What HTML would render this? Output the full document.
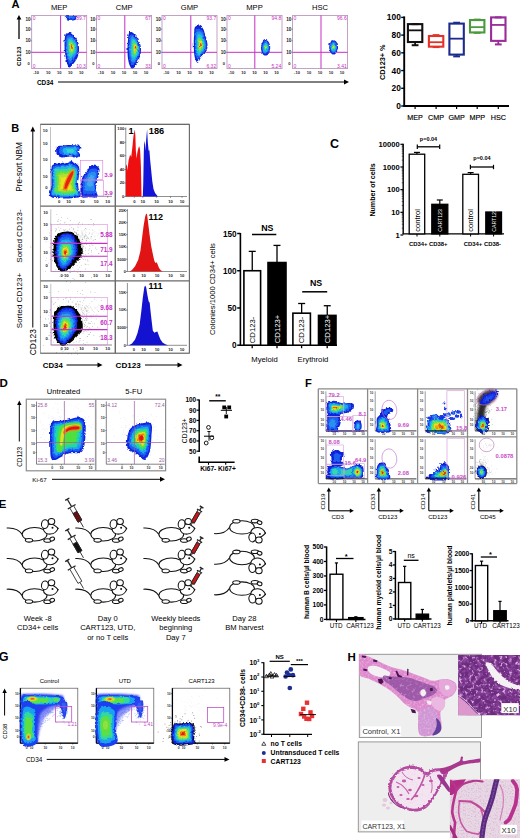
<!DOCTYPE html>
<html><head><meta charset="utf-8"><title>Figure</title>
<style>html,body{margin:0;padding:0;background:#fff;width:520px;height:838px;overflow:hidden}svg{display:block}text{font-family:"Liberation Sans",sans-serif}</style>
</head><body>
<svg width="520" height="838" viewBox="0 0 520 838" font-family='"Liberation Sans", sans-serif'><defs><filter id="bl20" x="-20%" y="-20%" width="140%" height="140%"><feGaussianBlur stdDeviation="0.2"/></filter><filter id="bl35" x="-20%" y="-20%" width="140%" height="140%"><feGaussianBlur stdDeviation="0.35"/></filter><filter id="bl50" x="-20%" y="-20%" width="140%" height="140%"><feGaussianBlur stdDeviation="0.5"/></filter><filter id="bl80" x="-20%" y="-20%" width="140%" height="140%"><feGaussianBlur stdDeviation="0.8"/></filter><filter id="bl120" x="-20%" y="-20%" width="140%" height="140%"><feGaussianBlur stdDeviation="1.2"/></filter><filter id="bl200" x="-20%" y="-20%" width="140%" height="140%"><feGaussianBlur stdDeviation="2.0"/></filter>
<filter id="tx1" x="0" y="0" width="100%" height="100%">
 <feTurbulence type="fractalNoise" baseFrequency="0.32" numOctaves="2" seed="7" result="n"/>
 <feColorMatrix in="n" type="matrix" values="0 0 0 0 0.78  0 0 0 0 0.50  0 0 0 0 0.82  4.0 0 0 0 -2.2" result="c"/>
 <feComposite in="c" in2="SourceGraphic" operator="in"/>
</filter>
<filter id="tx1d" x="0" y="0" width="100%" height="100%">
 <feTurbulence type="fractalNoise" baseFrequency="0.22" numOctaves="2" seed="19" result="n"/>
 <feColorMatrix in="n" type="matrix" values="0 0 0 0 0.28  0 0 0 0 0.06  0 0 0 0 0.36  0 3.5 0 0 -1.5" result="c"/>
 <feComposite in="c" in2="SourceGraphic" operator="in"/>
</filter>
<filter id="tx2" x="0" y="0" width="100%" height="100%">
 <feTurbulence type="fractalNoise" baseFrequency="0.5" numOctaves="2" seed="11" result="n"/>
 <feColorMatrix in="n" type="matrix" values="0 0 0 0 0.85  0 0 0 0 0.62  0 0 0 0 0.86  0 2.8 0 0 -1.25" result="c"/>
 <feComposite in="c" in2="SourceGraphic" operator="in"/>
</filter>
<filter id="tx3" x="0" y="0" width="100%" height="100%">
 <feTurbulence type="fractalNoise" baseFrequency="0.6" numOctaves="2" seed="4" result="n"/>
 <feColorMatrix in="n" type="matrix" values="0 0 0 0 0.55  0 0 0 0 0.25  0 0 0 0 0.55  0 0 2.4 0 -1.1" result="c"/>
 <feComposite in="c" in2="SourceGraphic" operator="in"/>
</filter>
<clipPath id="cpH1"><rect x="359.3" y="654.3" width="122.2" height="83.2"/></clipPath>
<clipPath id="cpH2"><rect x="358.3" y="741.9" width="122.2" height="90"/></clipPath>
<clipPath id="cpI1"><rect x="458.1" y="655" width="61.9" height="60.2"/></clipPath>
<clipPath id="cpI2"><rect x="449.9" y="779.3" width="70.1" height="58.7"/></clipPath>
<filter id="wob" x="-10%" y="-10%" width="120%" height="120%"><feTurbulence type="turbulence" baseFrequency="0.35" numOctaves="1" seed="3" result="t"/><feDisplacementMap in="SourceGraphic" in2="t" scale="2.2" xChannelSelector="R" yChannelSelector="G"/></filter></defs><text x="11.60" y="8.40" font-size="11.2" font-weight="bold" text-anchor="start" fill="#000">A</text>
<text x="59.20" y="9.90" font-size="7.6" font-weight="normal" text-anchor="middle" fill="#000">MEP</text>
<rect x="31.70" y="15.40" width="55.00" height="53.20" fill="#fff" stroke="#b48cb4" stroke-width="0.8"/>
<text x="30.50" y="20.80" font-size="4.6" font-weight="bold" text-anchor="end" fill="#222">10</text>
<line x1="30.50" y1="19.20" x2="31.70" y2="19.20" stroke="#444" stroke-width="0.5"/>
<text x="30.50" y="30.80" font-size="4.6" font-weight="bold" text-anchor="end" fill="#222">10</text>
<line x1="30.50" y1="29.20" x2="31.70" y2="29.20" stroke="#444" stroke-width="0.5"/>
<text x="30.50" y="42.40" font-size="4.6" font-weight="bold" text-anchor="end" fill="#222">10</text>
<line x1="30.50" y1="40.80" x2="31.70" y2="40.80" stroke="#444" stroke-width="0.5"/>
<text x="30.50" y="53.90" font-size="4.6" font-weight="bold" text-anchor="end" fill="#222">10</text>
<line x1="30.50" y1="52.30" x2="31.70" y2="52.30" stroke="#444" stroke-width="0.5"/>
<text x="29.70" y="64.80" font-size="4.0" font-weight="bold" text-anchor="end" fill="#222">0</text>
<text x="36.10" y="74.00" font-size="4.0" font-weight="bold" text-anchor="middle" fill="#222">-10</text>
<text x="48.20" y="74.00" font-size="4.0" font-weight="bold" text-anchor="middle" fill="#222">10</text>
<text x="59.20" y="74.00" font-size="4.0" font-weight="bold" text-anchor="middle" fill="#222">10</text>
<text x="70.20" y="74.00" font-size="4.0" font-weight="bold" text-anchor="middle" fill="#222">10</text>
<text x="81.20" y="74.00" font-size="4.0" font-weight="bold" text-anchor="middle" fill="#222">10</text>
<line x1="60.60" y1="15.40" x2="60.60" y2="68.60" stroke="#c62ec6" stroke-width="1.0"/>
<line x1="31.70" y1="52.30" x2="86.70" y2="52.30" stroke="#c62ec6" stroke-width="1.0"/>
<text x="32.70" y="20.30" font-size="5.0" font-weight="normal" text-anchor="start" fill="#c62ec6">0</text>
<text x="32.70" y="67.60" font-size="5.0" font-weight="normal" text-anchor="start" fill="#c62ec6">0</text>
<text x="85.90" y="20.30" font-size="5.0" font-weight="normal" text-anchor="end" fill="#c62ec6">89.7</text>
<text x="85.90" y="67.60" font-size="5.0" font-weight="normal" text-anchor="end" fill="#c62ec6">10.3</text>
<text x="124.10" y="9.90" font-size="7.6" font-weight="normal" text-anchor="middle" fill="#000">CMP</text>
<rect x="96.60" y="15.40" width="55.00" height="53.20" fill="#fff" stroke="#b48cb4" stroke-width="0.8"/>
<text x="95.40" y="20.80" font-size="4.6" font-weight="bold" text-anchor="end" fill="#222">10</text>
<line x1="95.40" y1="19.20" x2="96.60" y2="19.20" stroke="#444" stroke-width="0.5"/>
<text x="95.40" y="30.80" font-size="4.6" font-weight="bold" text-anchor="end" fill="#222">10</text>
<line x1="95.40" y1="29.20" x2="96.60" y2="29.20" stroke="#444" stroke-width="0.5"/>
<text x="95.40" y="42.40" font-size="4.6" font-weight="bold" text-anchor="end" fill="#222">10</text>
<line x1="95.40" y1="40.80" x2="96.60" y2="40.80" stroke="#444" stroke-width="0.5"/>
<text x="95.40" y="53.90" font-size="4.6" font-weight="bold" text-anchor="end" fill="#222">10</text>
<line x1="95.40" y1="52.30" x2="96.60" y2="52.30" stroke="#444" stroke-width="0.5"/>
<text x="94.60" y="64.80" font-size="4.0" font-weight="bold" text-anchor="end" fill="#222">0</text>
<text x="101.00" y="74.00" font-size="4.0" font-weight="bold" text-anchor="middle" fill="#222">-10</text>
<text x="113.10" y="74.00" font-size="4.0" font-weight="bold" text-anchor="middle" fill="#222">10</text>
<text x="124.10" y="74.00" font-size="4.0" font-weight="bold" text-anchor="middle" fill="#222">10</text>
<text x="135.10" y="74.00" font-size="4.0" font-weight="bold" text-anchor="middle" fill="#222">10</text>
<text x="146.10" y="74.00" font-size="4.0" font-weight="bold" text-anchor="middle" fill="#222">10</text>
<line x1="124.80" y1="15.40" x2="124.80" y2="68.60" stroke="#c62ec6" stroke-width="1.0"/>
<line x1="96.60" y1="52.30" x2="151.60" y2="52.30" stroke="#c62ec6" stroke-width="1.0"/>
<text x="97.60" y="20.30" font-size="5.0" font-weight="normal" text-anchor="start" fill="#c62ec6">0</text>
<text x="97.60" y="67.60" font-size="5.0" font-weight="normal" text-anchor="start" fill="#c62ec6">0</text>
<text x="150.80" y="20.30" font-size="5.0" font-weight="normal" text-anchor="end" fill="#c62ec6">67</text>
<text x="150.80" y="67.60" font-size="5.0" font-weight="normal" text-anchor="end" fill="#c62ec6">33</text>
<text x="189.50" y="9.90" font-size="7.6" font-weight="normal" text-anchor="middle" fill="#000">GMP</text>
<rect x="162.00" y="15.40" width="55.00" height="53.20" fill="#fff" stroke="#b48cb4" stroke-width="0.8"/>
<text x="160.80" y="20.80" font-size="4.6" font-weight="bold" text-anchor="end" fill="#222">10</text>
<line x1="160.80" y1="19.20" x2="162.00" y2="19.20" stroke="#444" stroke-width="0.5"/>
<text x="160.80" y="30.80" font-size="4.6" font-weight="bold" text-anchor="end" fill="#222">10</text>
<line x1="160.80" y1="29.20" x2="162.00" y2="29.20" stroke="#444" stroke-width="0.5"/>
<text x="160.80" y="42.40" font-size="4.6" font-weight="bold" text-anchor="end" fill="#222">10</text>
<line x1="160.80" y1="40.80" x2="162.00" y2="40.80" stroke="#444" stroke-width="0.5"/>
<text x="160.80" y="53.90" font-size="4.6" font-weight="bold" text-anchor="end" fill="#222">10</text>
<line x1="160.80" y1="52.30" x2="162.00" y2="52.30" stroke="#444" stroke-width="0.5"/>
<text x="160.00" y="64.80" font-size="4.0" font-weight="bold" text-anchor="end" fill="#222">0</text>
<text x="166.40" y="74.00" font-size="4.0" font-weight="bold" text-anchor="middle" fill="#222">-10</text>
<text x="178.50" y="74.00" font-size="4.0" font-weight="bold" text-anchor="middle" fill="#222">10</text>
<text x="189.50" y="74.00" font-size="4.0" font-weight="bold" text-anchor="middle" fill="#222">10</text>
<text x="200.50" y="74.00" font-size="4.0" font-weight="bold" text-anchor="middle" fill="#222">10</text>
<text x="211.50" y="74.00" font-size="4.0" font-weight="bold" text-anchor="middle" fill="#222">10</text>
<line x1="190.80" y1="15.40" x2="190.80" y2="68.60" stroke="#c62ec6" stroke-width="1.0"/>
<line x1="162.00" y1="52.30" x2="217.00" y2="52.30" stroke="#c62ec6" stroke-width="1.0"/>
<text x="163.00" y="20.30" font-size="5.0" font-weight="normal" text-anchor="start" fill="#c62ec6">0</text>
<text x="163.00" y="67.60" font-size="5.0" font-weight="normal" text-anchor="start" fill="#c62ec6">0</text>
<text x="216.20" y="20.30" font-size="5.0" font-weight="normal" text-anchor="end" fill="#c62ec6">93.7</text>
<text x="216.20" y="67.60" font-size="5.0" font-weight="normal" text-anchor="end" fill="#c62ec6">6.32</text>
<text x="254.50" y="9.90" font-size="7.6" font-weight="normal" text-anchor="middle" fill="#000">MPP</text>
<rect x="227.00" y="15.40" width="55.00" height="53.20" fill="#fff" stroke="#b48cb4" stroke-width="0.8"/>
<text x="225.80" y="20.80" font-size="4.6" font-weight="bold" text-anchor="end" fill="#222">10</text>
<line x1="225.80" y1="19.20" x2="227.00" y2="19.20" stroke="#444" stroke-width="0.5"/>
<text x="225.80" y="30.80" font-size="4.6" font-weight="bold" text-anchor="end" fill="#222">10</text>
<line x1="225.80" y1="29.20" x2="227.00" y2="29.20" stroke="#444" stroke-width="0.5"/>
<text x="225.80" y="42.40" font-size="4.6" font-weight="bold" text-anchor="end" fill="#222">10</text>
<line x1="225.80" y1="40.80" x2="227.00" y2="40.80" stroke="#444" stroke-width="0.5"/>
<text x="225.80" y="53.90" font-size="4.6" font-weight="bold" text-anchor="end" fill="#222">10</text>
<line x1="225.80" y1="52.30" x2="227.00" y2="52.30" stroke="#444" stroke-width="0.5"/>
<text x="225.00" y="64.80" font-size="4.0" font-weight="bold" text-anchor="end" fill="#222">0</text>
<text x="231.40" y="74.00" font-size="4.0" font-weight="bold" text-anchor="middle" fill="#222">-10</text>
<text x="243.50" y="74.00" font-size="4.0" font-weight="bold" text-anchor="middle" fill="#222">10</text>
<text x="254.50" y="74.00" font-size="4.0" font-weight="bold" text-anchor="middle" fill="#222">10</text>
<text x="265.50" y="74.00" font-size="4.0" font-weight="bold" text-anchor="middle" fill="#222">10</text>
<text x="276.50" y="74.00" font-size="4.0" font-weight="bold" text-anchor="middle" fill="#222">10</text>
<line x1="254.80" y1="15.40" x2="254.80" y2="68.60" stroke="#c62ec6" stroke-width="1.0"/>
<line x1="227.00" y1="52.30" x2="282.00" y2="52.30" stroke="#c62ec6" stroke-width="1.0"/>
<text x="228.00" y="20.30" font-size="5.0" font-weight="normal" text-anchor="start" fill="#c62ec6">0</text>
<text x="228.00" y="67.60" font-size="5.0" font-weight="normal" text-anchor="start" fill="#c62ec6">0</text>
<text x="281.20" y="20.30" font-size="5.0" font-weight="normal" text-anchor="end" fill="#c62ec6">94.8</text>
<text x="281.20" y="67.60" font-size="5.0" font-weight="normal" text-anchor="end" fill="#c62ec6">5.24</text>
<text x="320.10" y="9.90" font-size="7.6" font-weight="normal" text-anchor="middle" fill="#000">HSC</text>
<rect x="292.60" y="15.40" width="55.00" height="53.20" fill="#fff" stroke="#b48cb4" stroke-width="0.8"/>
<text x="291.40" y="20.80" font-size="4.6" font-weight="bold" text-anchor="end" fill="#222">10</text>
<line x1="291.40" y1="19.20" x2="292.60" y2="19.20" stroke="#444" stroke-width="0.5"/>
<text x="291.40" y="30.80" font-size="4.6" font-weight="bold" text-anchor="end" fill="#222">10</text>
<line x1="291.40" y1="29.20" x2="292.60" y2="29.20" stroke="#444" stroke-width="0.5"/>
<text x="291.40" y="42.40" font-size="4.6" font-weight="bold" text-anchor="end" fill="#222">10</text>
<line x1="291.40" y1="40.80" x2="292.60" y2="40.80" stroke="#444" stroke-width="0.5"/>
<text x="291.40" y="53.90" font-size="4.6" font-weight="bold" text-anchor="end" fill="#222">10</text>
<line x1="291.40" y1="52.30" x2="292.60" y2="52.30" stroke="#444" stroke-width="0.5"/>
<text x="290.60" y="64.80" font-size="4.0" font-weight="bold" text-anchor="end" fill="#222">0</text>
<text x="297.00" y="74.00" font-size="4.0" font-weight="bold" text-anchor="middle" fill="#222">-10</text>
<text x="309.10" y="74.00" font-size="4.0" font-weight="bold" text-anchor="middle" fill="#222">10</text>
<text x="320.10" y="74.00" font-size="4.0" font-weight="bold" text-anchor="middle" fill="#222">10</text>
<text x="331.10" y="74.00" font-size="4.0" font-weight="bold" text-anchor="middle" fill="#222">10</text>
<text x="342.10" y="74.00" font-size="4.0" font-weight="bold" text-anchor="middle" fill="#222">10</text>
<line x1="321.00" y1="15.40" x2="321.00" y2="68.60" stroke="#c62ec6" stroke-width="1.0"/>
<line x1="292.60" y1="52.30" x2="347.60" y2="52.30" stroke="#c62ec6" stroke-width="1.0"/>
<text x="293.60" y="20.30" font-size="5.0" font-weight="normal" text-anchor="start" fill="#c62ec6">0</text>
<text x="293.60" y="67.60" font-size="5.0" font-weight="normal" text-anchor="start" fill="#c62ec6">0</text>
<text x="346.80" y="20.30" font-size="5.0" font-weight="normal" text-anchor="end" fill="#c62ec6">96.6</text>
<text x="346.80" y="67.60" font-size="5.0" font-weight="normal" text-anchor="end" fill="#c62ec6">3.41</text>
<g filter="url(#wob)">
<g filter="url(#bl35)"><path d="M64.50,33.50 C64.98,32.25 65.75,32.78 66.50,32.50 C67.25,32.22 67.92,31.38 69.00,31.80 C70.08,32.22 71.75,33.63 73.00,35.00 C74.25,36.37 75.67,38.00 76.50,40.00 C77.33,42.00 77.92,44.50 78.00,47.00 C78.08,49.50 77.83,52.50 77.00,55.00 C76.17,57.50 74.42,60.08 73.00,62.00 C71.58,63.92 69.62,66.33 68.50,66.50 C67.38,66.67 66.95,64.75 66.30,63.00 C65.65,61.25 65.05,58.50 64.60,56.00 C64.15,53.50 63.77,50.67 63.60,48.00 C63.43,45.33 63.45,42.42 63.60,40.00 C63.75,37.58 64.02,34.75 64.50,33.50Z" fill="#1020d8"/><path d="M65.57,35.47 C65.98,34.42 66.62,34.87 67.25,34.63 C67.88,34.39 68.44,33.69 69.35,34.04 C70.26,34.39 71.66,35.58 72.71,36.73 C73.76,37.88 74.95,39.25 75.65,40.93 C76.35,42.61 76.84,44.71 76.91,46.81 C76.98,48.91 76.77,51.43 76.07,53.53 C75.37,55.63 73.90,57.80 72.71,59.41 C71.52,61.02 69.87,63.05 68.93,63.19 C67.99,63.33 67.63,61.72 67.08,60.25 C66.54,58.78 66.03,56.47 65.66,54.37 C65.28,52.27 64.96,49.89 64.82,47.65 C64.68,45.41 64.69,42.96 64.82,40.93 C64.94,38.90 65.17,36.52 65.57,35.47Z" fill="#1e5ef0"/><path d="M66.51,37.19 C66.85,36.31 67.38,36.69 67.91,36.49 C68.44,36.29 68.90,35.71 69.66,36.00 C70.42,36.29 71.59,37.28 72.46,38.24 C73.34,39.20 74.33,40.34 74.91,41.74 C75.49,43.14 75.90,44.89 75.96,46.64 C76.02,48.39 75.84,50.49 75.26,52.24 C74.68,53.99 73.45,55.80 72.46,57.14 C71.47,58.48 70.09,60.17 69.31,60.29 C68.53,60.41 68.22,59.06 67.77,57.84 C67.31,56.61 66.89,54.69 66.58,52.94 C66.27,51.19 66.00,49.21 65.88,47.34 C65.76,45.47 65.77,43.43 65.88,41.74 C65.98,40.05 66.17,38.06 66.51,37.19Z" fill="#2a90f0"/><path d="M67.38,38.79 C67.66,38.08 68.09,38.38 68.52,38.22 C68.95,38.06 69.33,37.58 69.95,37.82 C70.56,38.06 71.51,38.86 72.23,39.64 C72.94,40.42 73.75,41.35 74.22,42.49 C74.70,43.63 75.03,45.06 75.08,46.48 C75.12,47.91 74.98,49.62 74.51,51.04 C74.03,52.47 73.03,53.94 72.23,55.03 C71.42,56.13 70.30,57.50 69.66,57.60 C69.02,57.69 68.78,56.60 68.41,55.60 C68.04,54.61 67.69,53.04 67.44,51.61 C67.18,50.19 66.96,48.57 66.87,47.05 C66.77,45.53 66.78,43.87 66.87,42.49 C66.95,41.12 67.11,39.50 67.38,38.79Z" fill="#1ac0e8"/><path d="M68.19,40.27 C68.40,39.70 68.75,39.94 69.09,39.81 C69.42,39.69 69.72,39.31 70.21,39.50 C70.70,39.69 71.45,40.32 72.01,40.94 C72.57,41.55 73.21,42.29 73.59,43.19 C73.96,44.09 74.22,45.21 74.26,46.34 C74.30,47.46 74.19,48.81 73.81,49.94 C73.44,51.06 72.65,52.23 72.01,53.09 C71.37,53.95 70.49,55.04 69.98,55.11 C69.48,55.19 69.29,54.33 69.00,53.54 C68.70,52.75 68.43,51.52 68.23,50.39 C68.03,49.27 67.86,47.99 67.78,46.79 C67.70,45.59 67.71,44.28 67.78,43.19 C67.85,42.10 67.97,40.83 68.19,40.27Z" fill="#30d8a0"/><path d="M68.99,41.74 C69.15,41.33 69.40,41.50 69.65,41.41 C69.90,41.32 70.12,41.04 70.47,41.18 C70.83,41.32 71.38,41.78 71.79,42.24 C72.21,42.69 72.67,43.23 72.95,43.89 C73.22,44.55 73.42,45.37 73.44,46.20 C73.47,47.02 73.39,48.01 73.11,48.84 C72.84,49.66 72.26,50.51 71.79,51.15 C71.33,51.78 70.68,52.58 70.31,52.63 C69.94,52.69 69.80,52.05 69.58,51.48 C69.37,50.90 69.17,49.99 69.02,49.17 C68.87,48.34 68.75,47.41 68.69,46.53 C68.64,45.65 68.64,44.68 68.69,43.89 C68.74,43.09 68.83,42.15 68.99,41.74Z" fill="#80e040"/><path d="M69.73,43.09 C69.83,42.82 70.00,42.94 70.17,42.87 C70.33,42.81 70.48,42.63 70.72,42.72 C70.95,42.81 71.32,43.12 71.60,43.42 C71.87,43.72 72.18,44.08 72.37,44.52 C72.55,44.96 72.68,45.51 72.70,46.06 C72.71,46.61 72.66,47.27 72.48,47.82 C72.29,48.37 71.91,48.94 71.60,49.36 C71.28,49.79 70.85,50.32 70.61,50.35 C70.36,50.39 70.27,49.97 70.12,49.58 C69.98,49.20 69.85,48.59 69.75,48.04 C69.65,47.49 69.56,46.87 69.53,46.28 C69.49,45.70 69.50,45.06 69.53,44.52 C69.56,43.99 69.62,43.37 69.73,43.09Z" fill="#e8e020"/><path d="M70.40,44.32 C70.45,44.17 70.55,44.24 70.64,44.20 C70.73,44.17 70.81,44.07 70.94,44.12 C71.07,44.17 71.27,44.34 71.42,44.50 C71.57,44.67 71.74,44.86 71.84,45.10 C71.94,45.34 72.01,45.64 72.02,45.94 C72.03,46.24 72.00,46.60 71.90,46.90 C71.80,47.20 71.59,47.51 71.42,47.74 C71.25,47.97 71.01,48.26 70.88,48.28 C70.74,48.30 70.69,48.07 70.61,47.86 C70.53,47.65 70.46,47.32 70.41,47.02 C70.35,46.72 70.31,46.38 70.29,46.06 C70.27,45.74 70.27,45.39 70.29,45.10 C70.31,44.81 70.34,44.47 70.40,44.32Z" fill="#e03010"/></g>
<g filter="url(#bl35)"><path d="M64.50,15.30 C66.33,14.92 74.17,14.85 76.00,15.30 C77.83,15.75 76.17,17.28 75.50,18.00 C74.83,18.72 73.33,19.37 72.00,19.60 C70.67,19.83 68.67,19.73 67.50,19.40 C66.33,19.07 65.50,18.28 65.00,17.60 C64.50,16.92 62.67,15.68 64.50,15.30Z" fill="#1020d8"/><path d="M66.15,15.51 C67.43,15.24 72.92,15.20 74.20,15.51 C75.48,15.82 74.32,16.90 73.85,17.40 C73.38,17.90 72.33,18.36 71.40,18.52 C70.47,18.68 69.07,18.61 68.25,18.38 C67.43,18.15 66.85,17.60 66.50,17.12 C66.15,16.64 64.87,15.78 66.15,15.51Z" fill="#1e5ef0"/><path d="M67.80,15.72 C68.53,15.57 71.67,15.54 72.40,15.72 C73.13,15.90 72.47,16.51 72.20,16.80 C71.93,17.09 71.33,17.35 70.80,17.44 C70.27,17.53 69.47,17.49 69.00,17.36 C68.53,17.23 68.20,16.91 68.00,16.64 C67.80,16.37 67.07,15.87 67.80,15.72Z" fill="#2a90f0"/></g>
<g filter="url(#bl35)"><path d="M128.00,32.00 C128.67,30.70 129.83,30.70 131.00,31.20 C132.17,31.70 133.75,33.37 135.00,35.00 C136.25,36.63 137.67,38.83 138.50,41.00 C139.33,43.17 139.92,45.50 140.00,48.00 C140.08,50.50 139.67,53.50 139.00,56.00 C138.33,58.50 137.25,61.08 136.00,63.00 C134.75,64.92 132.75,67.33 131.50,67.50 C130.25,67.67 129.28,65.92 128.50,64.00 C127.72,62.08 127.13,58.83 126.80,56.00 C126.47,53.17 126.47,49.83 126.50,47.00 C126.53,44.17 126.75,41.50 127.00,39.00 C127.25,36.50 127.33,33.30 128.00,32.00Z" fill="#1020d8"/><path d="M129.09,34.40 C129.65,33.31 130.63,33.31 131.61,33.73 C132.59,34.15 133.92,35.55 134.97,36.92 C136.02,38.29 137.21,40.14 137.91,41.96 C138.61,43.78 139.10,45.74 139.17,47.84 C139.24,49.94 138.89,52.46 138.33,54.56 C137.77,56.66 136.86,58.83 135.81,60.44 C134.76,62.05 133.08,64.08 132.03,64.22 C130.98,64.36 130.17,62.89 129.51,61.28 C128.85,59.67 128.36,56.94 128.08,54.56 C127.80,52.18 127.80,49.38 127.83,47.00 C127.86,44.62 128.04,42.38 128.25,40.28 C128.46,38.18 128.53,35.49 129.09,34.40Z" fill="#1e5ef0"/><path d="M130.04,36.50 C130.51,35.59 131.32,35.59 132.14,35.94 C132.96,36.29 134.06,37.46 134.94,38.60 C135.81,39.74 136.81,41.28 137.39,42.80 C137.97,44.32 138.38,45.95 138.44,47.70 C138.50,49.45 138.21,51.55 137.74,53.30 C137.27,55.05 136.52,56.86 135.64,58.20 C134.77,59.54 133.37,61.23 132.49,61.35 C131.62,61.47 130.94,60.24 130.39,58.90 C129.84,57.56 129.43,55.28 129.20,53.30 C128.97,51.32 128.97,48.98 128.99,47.00 C129.01,45.02 129.17,43.15 129.34,41.40 C129.51,39.65 129.57,37.41 130.04,36.50Z" fill="#2a90f0"/><path d="M130.92,38.45 C131.30,37.71 131.97,37.71 132.63,37.99 C133.30,38.28 134.20,39.23 134.91,40.16 C135.63,41.09 136.43,42.34 136.91,43.58 C137.38,44.81 137.72,46.14 137.76,47.57 C137.81,49.00 137.57,50.71 137.19,52.13 C136.81,53.55 136.20,55.03 135.48,56.12 C134.77,57.21 133.63,58.59 132.92,58.69 C132.21,58.78 131.66,57.78 131.21,56.69 C130.76,55.60 130.43,53.75 130.24,52.13 C130.05,50.52 130.05,48.62 130.07,47.00 C130.09,45.38 130.21,43.86 130.35,42.44 C130.50,41.02 130.54,39.19 130.92,38.45Z" fill="#1ac0e8"/><path d="M131.74,40.25 C132.04,39.66 132.56,39.66 133.09,39.89 C133.62,40.12 134.33,40.87 134.89,41.60 C135.45,42.34 136.09,43.32 136.47,44.30 C136.84,45.27 137.10,46.33 137.14,47.45 C137.18,48.58 136.99,49.92 136.69,51.05 C136.39,52.17 135.90,53.34 135.34,54.20 C134.78,55.06 133.88,56.15 133.31,56.23 C132.75,56.30 132.32,55.51 131.97,54.65 C131.61,53.79 131.35,52.32 131.20,51.05 C131.05,49.77 131.05,48.27 131.06,47.00 C131.08,45.73 131.18,44.52 131.29,43.40 C131.40,42.27 131.44,40.84 131.74,40.25Z" fill="#30d8a0"/><path d="M132.56,42.05 C132.78,41.62 133.16,41.62 133.55,41.79 C133.93,41.95 134.45,42.50 134.87,43.04 C135.28,43.58 135.75,44.31 136.02,45.02 C136.30,45.73 136.49,46.50 136.52,47.33 C136.54,48.16 136.41,49.14 136.19,49.97 C135.97,50.80 135.61,51.65 135.20,52.28 C134.78,52.91 134.12,53.71 133.71,53.77 C133.30,53.82 132.98,53.24 132.72,52.61 C132.46,51.98 132.27,50.91 132.16,49.97 C132.05,49.03 132.05,47.94 132.06,47.00 C132.07,46.06 132.14,45.19 132.23,44.36 C132.31,43.53 132.34,42.48 132.56,42.05Z" fill="#80e040"/><path d="M133.30,43.70 C133.45,43.41 133.71,43.41 133.96,43.52 C134.22,43.63 134.57,44.00 134.84,44.36 C135.12,44.72 135.43,45.20 135.61,45.68 C135.80,46.16 135.93,46.67 135.94,47.22 C135.96,47.77 135.87,48.43 135.72,48.98 C135.58,49.53 135.34,50.10 135.06,50.52 C134.79,50.94 134.35,51.47 134.07,51.51 C133.80,51.55 133.59,51.16 133.41,50.74 C133.24,50.32 133.11,49.60 133.04,48.98 C132.97,48.36 132.97,47.62 132.97,47.00 C132.98,46.38 133.03,45.79 133.08,45.24 C133.14,44.69 133.16,43.99 133.30,43.70Z" fill="#e8e020"/><path d="M133.98,45.20 C134.06,45.04 134.20,45.04 134.34,45.10 C134.48,45.16 134.67,45.36 134.82,45.56 C134.97,45.76 135.14,46.02 135.24,46.28 C135.34,46.54 135.41,46.82 135.42,47.12 C135.43,47.42 135.38,47.78 135.30,48.08 C135.22,48.38 135.09,48.69 134.94,48.92 C134.79,49.15 134.55,49.44 134.40,49.46 C134.25,49.48 134.14,49.27 134.04,49.04 C133.95,48.81 133.88,48.42 133.84,48.08 C133.80,47.74 133.80,47.34 133.80,47.00 C133.81,46.66 133.83,46.34 133.86,46.04 C133.89,45.74 133.90,45.36 133.98,45.20Z" fill="#e03010"/></g>
<g filter="url(#bl35)"><path d="M194.00,26.00 C194.80,24.75 196.67,24.25 198.00,24.50 C199.33,24.75 200.92,25.75 202.00,27.50 C203.08,29.25 203.75,32.25 204.50,35.00 C205.25,37.75 206.42,41.33 206.50,44.00 C206.58,46.67 206.08,48.92 205.00,51.00 C203.92,53.08 201.42,54.70 200.00,56.50 C198.58,58.30 197.58,62.05 196.50,61.80 C195.42,61.55 194.12,58.13 193.50,55.00 C192.88,51.87 192.85,46.83 192.80,43.00 C192.75,39.17 193.00,34.83 193.20,32.00 C193.40,29.17 193.20,27.25 194.00,26.00Z" fill="#1020d8"/><path d="M194.96,28.98 C195.63,27.93 197.20,27.51 198.32,27.72 C199.44,27.93 200.77,28.77 201.68,30.24 C202.59,31.71 203.15,34.23 203.78,36.54 C204.41,38.85 205.39,41.86 205.46,44.10 C205.53,46.34 205.11,48.23 204.20,49.98 C203.29,51.73 201.19,53.08 200.00,54.60 C198.81,56.11 197.97,59.26 197.06,59.05 C196.15,58.84 195.06,55.97 194.54,53.34 C194.02,50.70 193.99,46.48 193.95,43.26 C193.91,40.04 194.12,36.40 194.29,34.02 C194.46,31.64 194.29,30.03 194.96,28.98Z" fill="#1e5ef0"/><path d="M195.80,31.58 C196.36,30.71 197.67,30.36 198.60,30.53 C199.53,30.71 200.64,31.41 201.40,32.63 C202.16,33.86 202.62,35.96 203.15,37.88 C203.68,39.80 204.49,42.31 204.55,44.18 C204.61,46.05 204.26,47.62 203.50,49.08 C202.74,50.54 200.99,51.67 200.00,52.93 C199.01,54.19 198.31,56.81 197.55,56.64 C196.79,56.47 195.88,54.07 195.45,51.88 C195.02,49.69 195.00,46.16 194.96,43.48 C194.93,40.80 195.10,37.76 195.24,35.78 C195.38,33.80 195.24,32.45 195.80,31.58Z" fill="#2a90f0"/><path d="M196.58,34.00 C197.04,33.29 198.10,33.00 198.86,33.14 C199.62,33.29 200.52,33.86 201.14,34.85 C201.76,35.85 202.14,37.56 202.56,39.13 C202.99,40.70 203.66,42.74 203.71,44.26 C203.75,45.78 203.47,47.06 202.85,48.25 C202.23,49.44 200.81,50.36 200.00,51.38 C199.19,52.41 198.62,54.55 198.00,54.40 C197.39,54.26 196.65,52.31 196.29,50.53 C195.94,48.74 195.92,45.87 195.90,43.69 C195.87,41.50 196.01,39.03 196.12,37.42 C196.24,35.80 196.12,34.71 196.58,34.00Z" fill="#1ac0e8"/><path d="M197.30,36.23 C197.66,35.67 198.50,35.44 199.10,35.55 C199.70,35.67 200.41,36.12 200.90,36.91 C201.39,37.69 201.69,39.04 202.03,40.28 C202.36,41.52 202.89,43.13 202.93,44.33 C202.96,45.53 202.74,46.54 202.25,47.48 C201.76,48.42 200.64,49.14 200.00,49.95 C199.36,50.77 198.91,52.45 198.43,52.34 C197.94,52.23 197.35,50.69 197.07,49.28 C196.80,47.87 196.78,45.61 196.76,43.88 C196.74,42.16 196.85,40.20 196.94,38.93 C197.03,37.66 196.94,36.79 197.30,36.23Z" fill="#30d8a0"/><path d="M198.02,38.46 C198.28,38.05 198.90,37.88 199.34,37.97 C199.78,38.05 200.30,38.38 200.66,38.96 C201.02,39.53 201.24,40.52 201.49,41.43 C201.73,42.34 202.12,43.52 202.15,44.40 C202.17,45.28 202.01,46.02 201.65,46.71 C201.29,47.40 200.47,47.93 200.00,48.53 C199.53,49.12 199.20,50.36 198.84,50.28 C198.49,50.19 198.06,49.07 197.85,48.03 C197.65,47.00 197.64,45.34 197.62,44.07 C197.61,42.81 197.69,41.38 197.76,40.44 C197.82,39.51 197.76,38.87 198.02,38.46Z" fill="#80e040"/><path d="M198.68,40.51 C198.86,40.23 199.27,40.12 199.56,40.18 C199.85,40.23 200.20,40.45 200.44,40.84 C200.68,41.22 200.83,41.88 200.99,42.49 C201.16,43.09 201.41,43.88 201.43,44.47 C201.45,45.05 201.34,45.55 201.10,46.01 C200.86,46.47 200.31,46.82 200.00,47.22 C199.69,47.61 199.47,48.44 199.23,48.38 C198.99,48.33 198.71,47.58 198.57,46.89 C198.43,46.20 198.43,45.09 198.42,44.25 C198.41,43.40 198.46,42.45 198.50,41.83 C198.55,41.20 198.50,40.78 198.68,40.51Z" fill="#e8e020"/><path d="M199.28,42.37 C199.38,42.22 199.60,42.16 199.76,42.19 C199.92,42.22 200.11,42.34 200.24,42.55 C200.37,42.76 200.45,43.12 200.54,43.45 C200.63,43.78 200.77,44.21 200.78,44.53 C200.79,44.85 200.73,45.12 200.60,45.37 C200.47,45.62 200.17,45.81 200.00,46.03 C199.83,46.24 199.71,46.69 199.58,46.66 C199.45,46.63 199.29,46.22 199.22,45.85 C199.15,45.47 199.14,44.87 199.14,44.41 C199.13,43.95 199.16,43.43 199.18,43.09 C199.21,42.75 199.18,42.52 199.28,42.37Z" fill="#e03010"/></g>
<g filter="url(#bl35)"><path d="M269.20,46.80 C269.20,47.93 269.03,49.17 268.74,50.18 C268.46,51.20 267.99,52.19 267.47,52.90 C266.95,53.60 266.27,54.15 265.62,54.40 C264.97,54.66 264.23,54.66 263.58,54.40 C262.93,54.15 262.25,53.60 261.73,52.90 C261.21,52.19 260.74,51.20 260.46,50.18 C260.17,49.17 260.00,47.93 260.00,46.80 C260.00,45.67 260.17,44.43 260.46,43.42 C260.74,42.40 261.21,41.41 261.73,40.70 C262.25,40.00 262.93,39.45 263.58,39.20 C264.23,38.94 264.97,38.94 265.62,39.20 C266.27,39.45 266.95,40.00 267.47,40.70 C267.99,41.41 268.46,42.40 268.74,43.42 C269.03,44.43 269.20,45.67 269.20,46.80Z" fill="#1020d8"/><path d="M268.44,46.75 C268.44,47.67 268.31,48.69 268.07,49.52 C267.83,50.35 267.45,51.17 267.02,51.75 C266.60,52.32 266.04,52.78 265.51,52.98 C264.98,53.19 264.36,53.19 263.83,52.98 C263.30,52.78 262.75,52.32 262.32,51.75 C261.89,51.17 261.51,50.35 261.27,49.52 C261.04,48.69 260.90,47.67 260.90,46.75 C260.90,45.82 261.04,44.80 261.27,43.97 C261.51,43.14 261.89,42.32 262.32,41.75 C262.75,41.17 263.30,40.72 263.83,40.51 C264.36,40.30 264.98,40.30 265.51,40.51 C266.04,40.72 266.60,41.17 267.02,41.75 C267.45,42.32 267.83,43.14 268.07,43.97 C268.31,44.80 268.44,45.82 268.44,46.75Z" fill="#1e5ef0"/><path d="M267.77,46.70 C267.77,47.44 267.66,48.26 267.47,48.93 C267.28,49.60 266.97,50.26 266.63,50.72 C266.29,51.19 265.84,51.55 265.41,51.72 C264.98,51.88 264.49,51.88 264.06,51.72 C263.63,51.55 263.19,51.19 262.84,50.72 C262.50,50.26 262.19,49.60 262.00,48.93 C261.81,48.26 261.70,47.44 261.70,46.70 C261.70,45.95 261.81,45.14 262.00,44.46 C262.19,43.79 262.50,43.14 262.84,42.67 C263.19,42.21 263.63,41.84 264.06,41.68 C264.49,41.51 264.98,41.51 265.41,41.68 C265.84,41.84 266.29,42.21 266.63,42.67 C266.97,43.14 267.28,43.79 267.47,44.46 C267.66,45.14 267.77,45.95 267.77,46.70Z" fill="#2a90f0"/><path d="M267.10,46.65 C267.10,47.21 267.02,47.83 266.87,48.34 C266.73,48.85 266.49,49.35 266.23,49.70 C265.97,50.05 265.64,50.33 265.31,50.45 C264.99,50.58 264.61,50.58 264.29,50.45 C263.96,50.33 263.63,50.05 263.37,49.70 C263.11,49.35 262.87,48.85 262.73,48.34 C262.58,47.83 262.50,47.21 262.50,46.65 C262.50,46.09 262.58,45.47 262.73,44.96 C262.87,44.45 263.11,43.95 263.37,43.60 C263.63,43.25 263.96,42.97 264.29,42.85 C264.61,42.72 264.99,42.72 265.31,42.85 C265.64,42.97 265.97,43.25 266.23,43.60 C266.49,43.95 266.73,44.45 266.87,44.96 C267.02,45.47 267.10,46.09 267.10,46.65Z" fill="#1ac0e8"/><path d="M266.51,46.61 C266.51,47.01 266.45,47.46 266.35,47.83 C266.24,48.19 266.08,48.55 265.89,48.80 C265.70,49.06 265.46,49.26 265.22,49.35 C264.99,49.44 264.72,49.44 264.49,49.35 C264.25,49.26 264.01,49.06 263.82,48.80 C263.64,48.55 263.47,48.19 263.36,47.83 C263.26,47.46 263.20,47.01 263.20,46.61 C263.20,46.20 263.26,45.76 263.36,45.39 C263.47,45.02 263.64,44.67 263.82,44.41 C264.01,44.16 264.25,43.96 264.49,43.87 C264.72,43.78 264.99,43.78 265.22,43.87 C265.46,43.96 265.70,44.16 265.89,44.41 C266.08,44.67 266.24,45.02 266.35,45.39 C266.45,45.76 266.51,46.20 266.51,46.61Z" fill="#30d8a0"/><path d="M265.97,46.57 C265.97,46.83 265.93,47.11 265.86,47.35 C265.79,47.58 265.69,47.81 265.57,47.97 C265.45,48.13 265.29,48.26 265.14,48.32 C264.99,48.38 264.82,48.38 264.67,48.32 C264.52,48.26 264.37,48.13 264.25,47.97 C264.13,47.81 264.02,47.58 263.95,47.35 C263.89,47.11 263.85,46.83 263.85,46.57 C263.85,46.31 263.89,46.02 263.95,45.79 C264.02,45.56 264.13,45.33 264.25,45.17 C264.37,45.00 264.52,44.88 264.67,44.82 C264.82,44.76 264.99,44.76 265.14,44.82 C265.29,44.88 265.45,45.00 265.57,45.17 C265.69,45.33 265.79,45.56 265.86,45.79 C265.93,46.02 265.97,46.31 265.97,46.57Z" fill="#80e040"/><path d="M265.50,46.54 C265.50,46.67 265.48,46.82 265.45,46.94 C265.41,47.06 265.36,47.18 265.30,47.27 C265.23,47.35 265.15,47.42 265.07,47.45 C265.00,47.48 264.91,47.48 264.83,47.45 C264.75,47.42 264.67,47.35 264.61,47.27 C264.55,47.18 264.49,47.06 264.45,46.94 C264.42,46.82 264.40,46.67 264.40,46.54 C264.40,46.40 264.42,46.25 264.45,46.13 C264.49,46.01 264.55,45.89 264.61,45.80 C264.67,45.72 264.75,45.65 264.83,45.62 C264.91,45.59 265.00,45.59 265.07,45.62 C265.15,45.65 265.23,45.72 265.30,45.80 C265.36,45.89 265.41,46.01 265.45,46.13 C265.48,46.25 265.50,46.40 265.50,46.54Z" fill="#e8e020"/></g>
<g filter="url(#bl35)"><path d="M337.00,46.40 C337.00,47.44 336.84,48.59 336.56,49.52 C336.29,50.46 335.84,51.38 335.34,52.03 C334.85,52.68 334.20,53.19 333.58,53.42 C332.96,53.65 332.24,53.65 331.62,53.42 C331.00,53.19 330.35,52.68 329.86,52.03 C329.36,51.38 328.91,50.46 328.64,49.52 C328.36,48.59 328.20,47.44 328.20,46.40 C328.20,45.36 328.36,44.21 328.64,43.28 C328.91,42.34 329.36,41.42 329.86,40.77 C330.35,40.12 331.00,39.61 331.62,39.38 C332.24,39.15 332.96,39.15 333.58,39.38 C334.20,39.61 334.85,40.12 335.34,40.77 C335.84,41.42 336.29,42.34 336.56,43.28 C336.84,44.21 337.00,45.36 337.00,46.40Z" fill="#1020d8"/><path d="M336.24,46.36 C336.24,47.22 336.11,48.16 335.89,48.93 C335.66,49.69 335.29,50.45 334.89,50.98 C334.48,51.51 333.95,51.93 333.44,52.12 C332.93,52.31 332.34,52.31 331.83,52.12 C331.32,51.93 330.79,51.51 330.39,50.98 C329.98,50.45 329.61,49.69 329.39,48.93 C329.16,48.16 329.03,47.22 329.03,46.36 C329.03,45.51 329.16,44.57 329.39,43.80 C329.61,43.03 329.98,42.28 330.39,41.75 C330.79,41.22 331.32,40.80 331.83,40.61 C332.34,40.42 332.93,40.42 333.44,40.61 C333.95,40.80 334.48,41.22 334.89,41.75 C335.29,42.28 335.66,43.03 335.89,43.80 C336.11,44.57 336.24,45.51 336.24,46.36Z" fill="#1e5ef0"/><path d="M335.57,46.33 C335.57,47.02 335.47,47.77 335.28,48.39 C335.10,49.01 334.81,49.62 334.48,50.05 C334.15,50.48 333.72,50.81 333.31,50.96 C332.90,51.12 332.43,51.12 332.02,50.96 C331.61,50.81 331.19,50.48 330.86,50.05 C330.53,49.62 330.23,49.01 330.05,48.39 C329.87,47.77 329.76,47.02 329.76,46.33 C329.76,45.64 329.87,44.89 330.05,44.27 C330.23,43.65 330.53,43.05 330.86,42.62 C331.19,42.19 331.61,41.85 332.02,41.70 C332.43,41.55 332.90,41.55 333.31,41.70 C333.72,41.85 334.15,42.19 334.48,42.62 C334.81,43.05 335.10,43.65 335.28,44.27 C335.47,44.89 335.57,45.64 335.57,46.33Z" fill="#2a90f0"/><path d="M334.90,46.30 C334.90,46.82 334.82,47.39 334.68,47.86 C334.54,48.33 334.32,48.79 334.07,49.11 C333.82,49.44 333.50,49.69 333.19,49.81 C332.88,49.93 332.52,49.93 332.21,49.81 C331.90,49.69 331.58,49.44 331.33,49.11 C331.08,48.79 330.86,48.33 330.72,47.86 C330.58,47.39 330.50,46.82 330.50,46.30 C330.50,45.78 330.58,45.21 330.72,44.74 C330.86,44.27 331.08,43.81 331.33,43.49 C331.58,43.16 331.90,42.91 332.21,42.79 C332.52,42.67 332.88,42.67 333.19,42.79 C333.50,42.91 333.82,43.16 334.07,43.49 C334.32,43.81 334.54,44.27 334.68,44.74 C334.82,45.21 334.90,45.78 334.90,46.30Z" fill="#1ac0e8"/><path d="M334.31,46.27 C334.31,46.65 334.25,47.06 334.16,47.40 C334.06,47.73 333.89,48.06 333.72,48.30 C333.54,48.53 333.30,48.72 333.08,48.80 C332.86,48.88 332.60,48.88 332.38,48.80 C332.15,48.72 331.92,48.53 331.74,48.30 C331.56,48.06 331.40,47.73 331.30,47.40 C331.20,47.06 331.14,46.65 331.14,46.27 C331.14,45.90 331.20,45.49 331.30,45.15 C331.40,44.81 331.56,44.48 331.74,44.25 C331.92,44.01 332.15,43.83 332.38,43.74 C332.60,43.66 332.86,43.66 333.08,43.74 C333.30,43.83 333.54,44.01 333.72,44.25 C333.89,44.48 334.06,44.81 334.16,45.15 C334.25,45.49 334.31,45.90 334.31,46.27Z" fill="#30d8a0"/><path d="M333.77,46.25 C333.77,46.49 333.73,46.75 333.67,46.96 C333.60,47.18 333.50,47.39 333.38,47.54 C333.27,47.69 333.12,47.81 332.98,47.86 C332.84,47.91 332.67,47.91 332.53,47.86 C332.39,47.81 332.24,47.69 332.12,47.54 C332.01,47.39 331.91,47.18 331.84,46.96 C331.78,46.75 331.74,46.49 331.74,46.25 C331.74,46.01 331.78,45.74 331.84,45.53 C331.91,45.31 332.01,45.10 332.12,44.95 C332.24,44.80 332.39,44.68 332.53,44.63 C332.67,44.58 332.84,44.58 332.98,44.63 C333.12,44.68 333.27,44.80 333.38,44.95 C333.50,45.10 333.60,45.31 333.67,45.53 C333.73,45.74 333.77,46.01 333.77,46.25Z" fill="#80e040"/><path d="M333.30,46.22 C333.30,46.35 333.28,46.49 333.25,46.60 C333.22,46.71 333.16,46.82 333.11,46.90 C333.05,46.98 332.97,47.04 332.89,47.07 C332.82,47.09 332.73,47.09 332.66,47.07 C332.58,47.04 332.51,46.98 332.45,46.90 C332.39,46.82 332.33,46.71 332.30,46.60 C332.27,46.49 332.25,46.35 332.25,46.22 C332.25,46.10 332.27,45.96 332.30,45.85 C332.33,45.74 332.39,45.63 332.45,45.55 C332.51,45.47 332.58,45.41 332.66,45.38 C332.73,45.35 332.82,45.35 332.89,45.38 C332.97,45.41 333.05,45.47 333.11,45.55 C333.16,45.63 333.22,45.74 333.25,45.85 C333.28,45.96 333.30,46.10 333.30,46.22Z" fill="#e8e020"/></g>
</g>
<line x1="19.00" y1="19.00" x2="19.00" y2="39.00" stroke="#000" stroke-width="1.3"/>
<path d="M19.00,15.00 L16.60,19.50 L21.40,19.50Z" fill="#000" stroke="none" stroke-width="1"/>
<text x="21.40" y="56.30" font-size="6.2" font-weight="bold" text-anchor="middle" fill="#000" transform="rotate(-90 21.4 56.3)">CD123</text>
<text x="37.00" y="84.80" font-size="6.4" font-weight="bold" text-anchor="start" fill="#000">CD34</text>
<line x1="58.00" y1="82.00" x2="344.50" y2="82.00" stroke="#000" stroke-width="1.0"/>
<path d="M349.00,82.00 L344.00,79.40 L344.00,84.60Z" fill="#000" stroke="none" stroke-width="1"/>
<line x1="404.20" y1="16.40" x2="404.20" y2="106.80" stroke="#000" stroke-width="1.9"/>
<line x1="403.30" y1="106.00" x2="509.00" y2="106.00" stroke="#000" stroke-width="1.9"/>
<line x1="401.20" y1="106.00" x2="404.20" y2="106.00" stroke="#000" stroke-width="1.4"/>
<text x="400.80" y="109.00" font-size="8.4" font-weight="bold" text-anchor="end" fill="#000">0</text>
<line x1="401.20" y1="88.28" x2="404.20" y2="88.28" stroke="#000" stroke-width="1.4"/>
<text x="400.80" y="91.28" font-size="8.4" font-weight="bold" text-anchor="end" fill="#000">20</text>
<line x1="401.20" y1="70.56" x2="404.20" y2="70.56" stroke="#000" stroke-width="1.4"/>
<text x="400.80" y="73.56" font-size="8.4" font-weight="bold" text-anchor="end" fill="#000">40</text>
<line x1="401.20" y1="52.84" x2="404.20" y2="52.84" stroke="#000" stroke-width="1.4"/>
<text x="400.80" y="55.84" font-size="8.4" font-weight="bold" text-anchor="end" fill="#000">60</text>
<line x1="401.20" y1="35.12" x2="404.20" y2="35.12" stroke="#000" stroke-width="1.4"/>
<text x="400.80" y="38.12" font-size="8.4" font-weight="bold" text-anchor="end" fill="#000">80</text>
<line x1="401.20" y1="17.40" x2="404.20" y2="17.40" stroke="#000" stroke-width="1.4"/>
<text x="400.80" y="20.40" font-size="8.4" font-weight="bold" text-anchor="end" fill="#000">100</text>
<text x="384.60" y="62.20" font-size="7.3" font-weight="bold" text-anchor="middle" fill="#000" transform="rotate(-90 384.6 62.2)">CD123+ %</text>
<rect x="407.90" y="24.13" width="14.40" height="17.90" fill="none" stroke="#111" stroke-width="2.1"/>
<line x1="407.90" y1="30.34" x2="422.30" y2="30.34" stroke="#111" stroke-width="1.8"/>
<line x1="415.10" y1="42.03" x2="415.10" y2="45.22" stroke="#111" stroke-width="1.8"/>
<line x1="411.70" y1="45.22" x2="418.50" y2="45.22" stroke="#111" stroke-width="2.0"/>
<line x1="415.10" y1="24.13" x2="415.10" y2="24.13" stroke="#111" stroke-width="1.8"/>
<line x1="411.70" y1="24.13" x2="418.50" y2="24.13" stroke="#111" stroke-width="2.0"/>
<line x1="415.10" y1="106.00" x2="415.10" y2="109.00" stroke="#000" stroke-width="1.2"/>
<text x="415.10" y="120.00" font-size="7.2" font-weight="normal" text-anchor="middle" fill="#000" stroke="#000" stroke-width="0.15">MEP</text>
<rect x="428.90" y="36.01" width="14.40" height="10.63" fill="none" stroke="#e53228" stroke-width="2.1"/>
<line x1="428.90" y1="42.21" x2="443.30" y2="42.21" stroke="#e53228" stroke-width="1.8"/>
<line x1="436.10" y1="46.64" x2="436.10" y2="47.08" stroke="#e53228" stroke-width="1.8"/>
<line x1="432.70" y1="47.08" x2="439.50" y2="47.08" stroke="#e53228" stroke-width="2.0"/>
<line x1="436.10" y1="36.01" x2="436.10" y2="35.12" stroke="#e53228" stroke-width="1.8"/>
<line x1="432.70" y1="35.12" x2="439.50" y2="35.12" stroke="#e53228" stroke-width="2.0"/>
<line x1="436.10" y1="106.00" x2="436.10" y2="109.00" stroke="#000" stroke-width="1.2"/>
<text x="436.10" y="120.00" font-size="7.2" font-weight="normal" text-anchor="middle" fill="#000" stroke="#000" stroke-width="0.15">CMP</text>
<rect x="449.40" y="23.60" width="14.40" height="31.01" fill="none" stroke="#1c2c8c" stroke-width="2.1"/>
<line x1="449.40" y1="38.66" x2="463.80" y2="38.66" stroke="#1c2c8c" stroke-width="1.8"/>
<line x1="456.60" y1="54.61" x2="456.60" y2="56.38" stroke="#1c2c8c" stroke-width="1.8"/>
<line x1="453.20" y1="56.38" x2="460.00" y2="56.38" stroke="#1c2c8c" stroke-width="2.0"/>
<line x1="456.60" y1="23.60" x2="456.60" y2="22.72" stroke="#1c2c8c" stroke-width="1.8"/>
<line x1="453.20" y1="22.72" x2="460.00" y2="22.72" stroke="#1c2c8c" stroke-width="2.0"/>
<line x1="456.60" y1="106.00" x2="456.60" y2="109.00" stroke="#000" stroke-width="1.2"/>
<text x="456.60" y="120.00" font-size="7.2" font-weight="normal" text-anchor="middle" fill="#000" stroke="#000" stroke-width="0.15">GMP</text>
<rect x="470.00" y="20.06" width="14.40" height="12.40" fill="none" stroke="#4b9a3c" stroke-width="2.1"/>
<line x1="470.00" y1="27.15" x2="484.40" y2="27.15" stroke="#4b9a3c" stroke-width="1.8"/>
<line x1="477.20" y1="32.46" x2="477.20" y2="32.82" stroke="#4b9a3c" stroke-width="1.8"/>
<line x1="473.80" y1="32.82" x2="480.60" y2="32.82" stroke="#4b9a3c" stroke-width="2.0"/>
<line x1="477.20" y1="20.06" x2="477.20" y2="19.61" stroke="#4b9a3c" stroke-width="1.8"/>
<line x1="473.80" y1="19.61" x2="480.60" y2="19.61" stroke="#4b9a3c" stroke-width="2.0"/>
<line x1="477.20" y1="106.00" x2="477.20" y2="109.00" stroke="#000" stroke-width="1.2"/>
<text x="477.20" y="120.00" font-size="7.2" font-weight="normal" text-anchor="middle" fill="#000" stroke="#000" stroke-width="0.15">MPP</text>
<rect x="491.10" y="17.40" width="14.40" height="23.48" fill="none" stroke="#982c9a" stroke-width="2.1"/>
<line x1="491.10" y1="24.93" x2="505.50" y2="24.93" stroke="#982c9a" stroke-width="1.8"/>
<line x1="498.30" y1="40.88" x2="498.30" y2="44.42" stroke="#982c9a" stroke-width="1.8"/>
<line x1="494.90" y1="44.42" x2="501.70" y2="44.42" stroke="#982c9a" stroke-width="2.0"/>
<line x1="498.30" y1="17.40" x2="498.30" y2="17.40" stroke="#982c9a" stroke-width="1.8"/>
<line x1="494.90" y1="17.40" x2="501.70" y2="17.40" stroke="#982c9a" stroke-width="2.0"/>
<line x1="498.30" y1="106.00" x2="498.30" y2="109.00" stroke="#000" stroke-width="1.2"/>
<text x="498.30" y="120.00" font-size="7.2" font-weight="normal" text-anchor="middle" fill="#000" stroke="#000" stroke-width="0.15">HSC</text>
<text x="11.20" y="131.70" font-size="11.0" font-weight="bold" text-anchor="start" fill="#000">B</text>
<line x1="32.80" y1="131.00" x2="32.80" y2="327.50" stroke="#000" stroke-width="1.0"/>
<path d="M32.80,126.50 L30.40,131.50 L35.20,131.50Z" fill="#000" stroke="none" stroke-width="1"/>
<text x="35.90" y="342.20" font-size="8.4" font-weight="normal" text-anchor="middle" fill="#000" transform="rotate(-90 35.9 342.2)">CD123</text>
<text x="22.30" y="167.00" font-size="8.2" font-weight="normal" text-anchor="middle" fill="#000" transform="rotate(-90 22.3 167)">Pre-sort NBM</text>
<text x="22.30" y="236.00" font-size="8.0" font-weight="normal" text-anchor="middle" fill="#000" transform="rotate(-90 22.3 236.0)">Sorted CD123-</text>
<text x="22.30" y="300.50" font-size="8.0" font-weight="normal" text-anchor="middle" fill="#000" transform="rotate(-90 22.3 300.5)">Sorted CD123+</text>
<rect x="40.40" y="124.30" width="149.00" height="229.00" fill="none" stroke="#9a9a9a" stroke-width="0.9"/>
<line x1="40.40" y1="124.30" x2="189.40" y2="124.30" stroke="#6a6a6a" stroke-width="1.3"/>
<line x1="40.40" y1="206.20" x2="189.40" y2="206.20" stroke="#6a6a6a" stroke-width="1.3"/>
<line x1="40.40" y1="280.80" x2="189.40" y2="280.80" stroke="#6a6a6a" stroke-width="1.3"/>
<line x1="40.40" y1="353.20" x2="189.40" y2="353.20" stroke="#6a6a6a" stroke-width="1.0"/>
<line x1="115.30" y1="124.30" x2="115.30" y2="353.20" stroke="#6a6a6a" stroke-width="1.4"/>
<line x1="189.40" y1="124.30" x2="189.40" y2="353.20" stroke="#6a6a6a" stroke-width="1.1"/>
<line x1="50.50" y1="127.00" x2="50.50" y2="196.30" stroke="#999" stroke-width="0.6"/>
<line x1="50.50" y1="196.30" x2="112.00" y2="196.30" stroke="#444" stroke-width="0.6"/>
<text x="47.50" y="132.10" font-size="4.2" font-weight="bold" text-anchor="end" fill="#222">10</text>
<text x="47.50" y="145.10" font-size="4.2" font-weight="bold" text-anchor="end" fill="#222">10</text>
<text x="47.50" y="160.50" font-size="4.2" font-weight="bold" text-anchor="end" fill="#222">10</text>
<text x="47.50" y="177.50" font-size="4.2" font-weight="bold" text-anchor="end" fill="#222">10</text>
<text x="47.50" y="188.50" font-size="4.2" font-weight="bold" text-anchor="end" fill="#222">0</text>
<text x="59.20" y="203.20" font-size="4.2" font-weight="bold" text-anchor="middle" fill="#222">0</text>
<line x1="59.20" y1="196.30" x2="59.20" y2="197.60" stroke="#222" stroke-width="0.5"/>
<text x="68.50" y="203.20" font-size="4.2" font-weight="bold" text-anchor="middle" fill="#222">10</text>
<line x1="68.50" y1="196.30" x2="68.50" y2="197.60" stroke="#222" stroke-width="0.5"/>
<text x="82.30" y="203.20" font-size="4.2" font-weight="bold" text-anchor="middle" fill="#222">10</text>
<line x1="82.30" y1="196.30" x2="82.30" y2="197.60" stroke="#222" stroke-width="0.5"/>
<text x="96.20" y="203.20" font-size="4.2" font-weight="bold" text-anchor="middle" fill="#222">10</text>
<line x1="96.20" y1="196.30" x2="96.20" y2="197.60" stroke="#222" stroke-width="0.5"/>
<text x="107.70" y="203.20" font-size="4.2" font-weight="bold" text-anchor="middle" fill="#222">10</text>
<line x1="107.70" y1="196.30" x2="107.70" y2="197.60" stroke="#222" stroke-width="0.5"/>
<g filter="url(#wob)">
<g filter="url(#bl35)"><path d="M55.50,147.50 C55.90,146.17 56.92,145.45 58.00,145.00 C59.08,144.55 60.67,144.97 62.00,144.80 C63.33,144.63 64.33,144.10 66.00,144.00 C67.67,143.90 69.83,144.07 72.00,144.20 C74.17,144.33 77.62,144.25 79.00,144.80 C80.38,145.35 80.55,146.55 80.30,147.50 C80.05,148.45 77.63,149.33 77.50,150.50 C77.37,151.67 79.75,153.45 79.50,154.50 C79.25,155.55 77.58,156.62 76.00,156.80 C74.42,156.98 71.67,155.73 70.00,155.60 C68.33,155.47 67.67,155.88 66.00,156.00 C64.33,156.12 61.73,156.80 60.00,156.30 C58.27,155.80 56.35,154.47 55.60,153.00 C54.85,151.53 55.10,148.83 55.50,147.50Z" fill="#1024e0"/><path d="M58.50,147.96 C58.82,146.89 59.63,146.32 60.50,145.96 C61.37,145.60 62.63,145.93 63.70,145.80 C64.77,145.67 65.57,145.24 66.90,145.16 C68.23,145.08 69.97,145.21 71.70,145.32 C73.43,145.43 76.19,145.36 77.30,145.80 C78.41,146.24 78.54,147.20 78.34,147.96 C78.14,148.72 76.21,149.43 76.10,150.36 C75.99,151.29 77.90,152.72 77.70,153.56 C77.50,154.40 76.17,155.25 74.90,155.40 C73.63,155.55 71.43,154.55 70.10,154.44 C68.77,154.33 68.23,154.67 66.90,154.76 C65.57,154.85 63.49,155.40 62.10,155.00 C60.71,154.60 59.18,153.53 58.58,152.36 C57.98,151.19 58.18,149.03 58.50,147.96Z" fill="#1e6af0"/><path d="M61.80,148.47 C62.03,147.69 62.62,147.28 63.25,147.02 C63.88,146.75 64.80,147.00 65.57,146.90 C66.34,146.80 66.92,146.49 67.89,146.44 C68.86,146.38 70.11,146.47 71.37,146.55 C72.63,146.63 74.63,146.58 75.43,146.90 C76.23,147.22 76.33,147.92 76.18,148.47 C76.04,149.02 74.64,149.53 74.56,150.21 C74.48,150.88 75.86,151.92 75.72,152.53 C75.58,153.14 74.61,153.75 73.69,153.86 C72.77,153.97 71.18,153.24 70.21,153.16 C69.24,153.09 68.86,153.33 67.89,153.40 C66.92,153.46 65.42,153.86 64.41,153.57 C63.40,153.28 62.29,152.51 61.86,151.66 C61.42,150.81 61.57,149.24 61.80,148.47Z" fill="#22b0ec"/><path d="M65.70,149.06 C65.83,148.64 66.15,148.41 66.50,148.26 C66.85,148.12 67.35,148.25 67.78,148.20 C68.21,148.15 68.53,147.98 69.06,147.94 C69.59,147.91 70.29,147.97 70.98,148.01 C71.67,148.05 72.78,148.02 73.22,148.20 C73.66,148.38 73.72,148.76 73.64,149.06 C73.56,149.37 72.78,149.65 72.74,150.02 C72.70,150.40 73.46,150.97 73.38,151.30 C73.30,151.64 72.77,151.98 72.26,152.04 C71.75,152.10 70.87,151.70 70.34,151.66 C69.81,151.61 69.59,151.75 69.06,151.78 C68.53,151.82 67.69,152.04 67.14,151.88 C66.59,151.72 65.97,151.29 65.73,150.82 C65.49,150.35 65.57,149.49 65.70,149.06Z" fill="#30d4d0"/></g>
</g>
<g filter="url(#wob)">
<g filter="url(#bl40)"><path d="M50.77,196.15 C46.10,194.23 50.51,188.85 50.46,184.62 C50.41,180.38 50.41,173.97 50.46,170.77 C50.51,167.56 50.41,166.59 50.77,165.38 C51.13,164.18 51.85,164.03 52.62,163.54 C53.38,163.05 54.41,162.56 55.38,162.46 C56.36,162.36 57.44,163.05 58.46,162.92 C59.49,162.79 60.51,161.77 61.54,161.69 C62.56,161.62 63.46,162.54 64.62,162.46 C65.77,162.38 67.44,161.59 68.46,161.23 C69.49,160.87 70.08,160.23 70.77,160.31 C71.46,160.38 71.95,161.33 72.62,161.69 C73.28,162.05 74.05,162.05 74.77,162.46 C75.49,162.87 76.36,163.49 76.92,164.15 C77.49,164.82 77.90,165.36 78.15,166.46 C78.41,167.56 78.51,169.28 78.46,170.77 C78.41,172.26 78.08,173.59 77.85,175.38 C77.62,177.18 77.13,179.49 77.08,181.54 C77.03,183.59 77.31,185.26 77.54,187.69 C77.77,190.13 82.92,194.74 78.46,196.15 C74.00,197.56 55.44,198.08 50.77,196.15Z" fill="#1024e0"/><path d="M51.91,195.18 C47.61,193.41 51.67,188.46 51.62,184.57 C51.58,180.67 51.58,174.78 51.62,171.83 C51.67,168.88 51.58,167.98 51.91,166.87 C52.24,165.77 52.90,165.62 53.61,165.18 C54.31,164.73 55.26,164.28 56.15,164.18 C57.05,164.09 58.04,164.73 58.98,164.61 C59.93,164.49 60.87,163.55 61.82,163.48 C62.76,163.41 63.58,164.26 64.65,164.18 C65.71,164.11 67.24,163.38 68.18,163.05 C69.13,162.72 69.67,162.13 70.31,162.20 C70.94,162.27 71.39,163.15 72.01,163.48 C72.62,163.81 73.33,163.81 73.99,164.18 C74.65,164.56 75.45,165.13 75.97,165.74 C76.49,166.35 76.87,166.85 77.10,167.86 C77.34,168.88 77.43,170.46 77.38,171.83 C77.34,173.20 77.03,174.42 76.82,176.07 C76.61,177.73 76.16,179.85 76.11,181.74 C76.06,183.62 76.32,185.16 76.54,187.40 C76.75,189.64 81.49,193.88 77.38,195.18 C73.28,196.48 56.20,196.95 51.91,195.18Z" fill="#1e6af0"/><path d="M53.05,194.21 C49.13,192.59 52.83,188.07 52.79,184.52 C52.74,180.96 52.74,175.58 52.79,172.89 C52.83,170.19 52.74,169.38 53.05,168.36 C53.35,167.35 53.95,167.22 54.60,166.81 C55.24,166.40 56.10,165.99 56.92,165.91 C57.74,165.82 58.65,166.40 59.51,166.30 C60.37,166.19 61.23,165.33 62.09,165.26 C62.95,165.20 63.71,165.97 64.68,165.91 C65.65,165.84 67.05,165.18 67.91,164.87 C68.77,164.57 69.26,164.03 69.85,164.10 C70.43,164.16 70.84,164.96 71.40,165.26 C71.96,165.56 72.60,165.56 73.21,165.91 C73.81,166.25 74.54,166.77 75.02,167.33 C75.49,167.89 75.83,168.34 76.05,169.27 C76.26,170.19 76.35,171.64 76.31,172.89 C76.26,174.14 75.98,175.26 75.79,176.76 C75.60,178.27 75.19,180.21 75.14,181.93 C75.10,183.66 75.34,185.06 75.53,187.10 C75.73,189.15 80.06,193.02 76.31,194.21 C72.56,195.39 56.97,195.82 53.05,194.21Z" fill="#22b0ec"/><path d="M54.47,192.99 C51.02,191.57 54.28,187.59 54.24,184.46 C54.20,181.32 54.20,176.58 54.24,174.21 C54.28,171.84 54.20,171.12 54.47,170.22 C54.73,169.33 55.27,169.22 55.84,168.86 C56.40,168.50 57.16,168.14 57.88,168.06 C58.61,167.99 59.40,168.50 60.16,168.40 C60.92,168.31 61.68,167.55 62.44,167.49 C63.20,167.44 63.86,168.12 64.72,168.06 C65.57,168.00 66.80,167.42 67.56,167.15 C68.32,166.89 68.76,166.41 69.27,166.47 C69.78,166.52 70.14,167.23 70.64,167.49 C71.13,167.76 71.70,167.76 72.23,168.06 C72.76,168.37 73.41,168.82 73.82,169.31 C74.24,169.81 74.54,170.21 74.73,171.02 C74.92,171.84 75.00,173.11 74.96,174.21 C74.92,175.31 74.68,176.30 74.51,177.62 C74.34,178.95 73.97,180.66 73.94,182.18 C73.90,183.70 74.11,184.93 74.28,186.73 C74.45,188.53 78.26,191.95 74.96,192.99 C71.66,194.04 57.92,194.42 54.47,192.99Z" fill="#36d89a"/><path d="M56.18,191.54 C53.28,190.34 56.02,187.00 55.99,184.38 C55.95,181.76 55.95,177.78 55.99,175.80 C56.02,173.81 55.95,173.21 56.18,172.46 C56.40,171.71 56.84,171.62 57.32,171.31 C57.80,171.01 58.43,170.71 59.04,170.65 C59.64,170.58 60.31,171.01 60.95,170.93 C61.58,170.85 62.22,170.22 62.85,170.17 C63.49,170.12 64.05,170.69 64.76,170.65 C65.48,170.60 66.51,170.11 67.15,169.88 C67.78,169.66 68.15,169.26 68.58,169.31 C69.01,169.36 69.31,169.95 69.72,170.17 C70.13,170.39 70.61,170.39 71.06,170.65 C71.50,170.90 72.04,171.28 72.39,171.70 C72.74,172.11 73.00,172.44 73.16,173.13 C73.31,173.81 73.38,174.87 73.35,175.80 C73.31,176.72 73.11,177.55 72.96,178.66 C72.82,179.77 72.52,181.20 72.49,182.47 C72.46,183.75 72.63,184.78 72.77,186.29 C72.92,187.80 76.11,190.66 73.35,191.54 C70.58,192.41 59.07,192.73 56.18,191.54Z" fill="#6ade3a"/><path d="M57.88,190.08 C55.55,189.12 57.76,186.42 57.73,184.31 C57.71,182.19 57.71,178.99 57.73,177.38 C57.76,175.78 57.71,175.29 57.88,174.69 C58.06,174.09 58.42,174.01 58.81,173.77 C59.19,173.53 59.71,173.28 60.19,173.23 C60.68,173.18 61.22,173.53 61.73,173.46 C62.24,173.40 62.76,172.88 63.27,172.85 C63.78,172.81 64.23,173.27 64.81,173.23 C65.38,173.19 66.22,172.79 66.73,172.62 C67.24,172.44 67.54,172.12 67.88,172.15 C68.23,172.19 68.47,172.67 68.81,172.85 C69.14,173.03 69.53,173.03 69.88,173.23 C70.24,173.44 70.68,173.74 70.96,174.08 C71.24,174.41 71.45,174.68 71.58,175.23 C71.71,175.78 71.76,176.64 71.73,177.38 C71.71,178.13 71.54,178.79 71.42,179.69 C71.31,180.59 71.06,181.74 71.04,182.77 C71.01,183.79 71.15,184.63 71.27,185.85 C71.38,187.06 73.96,189.37 71.73,190.08 C69.50,190.78 60.22,191.04 57.88,190.08Z" fill="#b0e030"/><path d="M59.88,188.38 C58.20,187.68 59.78,185.74 59.77,184.22 C59.75,182.70 59.75,180.39 59.77,179.24 C59.78,178.08 59.75,177.73 59.88,177.30 C60.01,176.86 60.26,176.81 60.54,176.63 C60.82,176.46 61.19,176.28 61.54,176.25 C61.89,176.21 62.28,176.46 62.65,176.41 C63.02,176.37 63.38,176.00 63.75,175.97 C64.12,175.94 64.45,176.27 64.86,176.25 C65.28,176.22 65.88,175.93 66.25,175.80 C66.62,175.67 66.83,175.44 67.08,175.47 C67.33,175.50 67.50,175.84 67.74,175.97 C67.98,176.10 68.26,176.10 68.52,176.25 C68.78,176.39 69.09,176.62 69.29,176.86 C69.50,177.10 69.64,177.29 69.74,177.69 C69.83,178.08 69.86,178.70 69.85,179.24 C69.83,179.77 69.71,180.25 69.62,180.90 C69.54,181.54 69.37,182.38 69.35,183.11 C69.33,183.85 69.43,184.45 69.51,185.33 C69.60,186.21 71.45,187.87 69.85,188.38 C68.24,188.88 61.56,189.07 59.88,188.38Z" fill="#e8e41c"/></g>
</g>
<g filter="url(#bl50)">
<path d="M62.5,190 C63.5,184 65.5,179 67.5,175.5 C69.5,172 71.5,169.5 74.2,168.8 C75.2,171 74,175 72,179 C70,183 68.5,187 66.8,191 Z" fill="#f09018" stroke="none" stroke-width="0"/>
<path d="M64.2,188.5 C65,183 67,179 68.8,175.8 C70.4,173.2 72,171.4 73.4,170.8 C73.7,173 72.6,176 70.9,179.2 C69.4,182.3 68,185.5 66.2,189 Z" fill="#e82010" stroke="none" stroke-width="0"/>
</g>
<g filter="url(#wob)">
<g filter="url(#bl35)"><path d="M80.50,180.00 C80.78,177.83 81.25,176.33 82.00,175.00 C82.75,173.67 84.00,173.33 85.00,172.00 C86.00,170.67 86.83,168.20 88.00,167.00 C89.17,165.80 90.58,165.10 92.00,164.80 C93.42,164.50 95.42,164.50 96.50,165.20 C97.58,165.90 98.33,167.37 98.50,169.00 C98.67,170.63 97.92,172.83 97.50,175.00 C97.08,177.17 96.42,179.67 96.00,182.00 C95.58,184.33 94.92,186.67 95.00,189.00 C95.08,191.33 97.67,194.78 96.50,196.00 C95.33,197.22 90.58,196.30 88.00,196.30 C85.42,196.30 82.28,197.38 81.00,196.00 C79.72,194.62 80.38,190.67 80.30,188.00 C80.22,185.33 80.22,182.17 80.50,180.00Z" fill="#1024e0"/><path d="M82.21,180.00 C82.44,178.22 82.83,176.99 83.44,175.90 C84.05,174.81 85.08,174.53 85.90,173.44 C86.72,172.35 87.40,170.32 88.36,169.34 C89.32,168.36 90.48,167.78 91.64,167.54 C92.80,167.29 94.44,167.29 95.33,167.86 C96.22,168.44 96.83,169.64 96.97,170.98 C97.11,172.32 96.49,174.12 96.15,175.90 C95.81,177.68 95.26,179.73 94.92,181.64 C94.58,183.55 94.03,185.47 94.10,187.38 C94.17,189.29 96.29,192.12 95.33,193.12 C94.37,194.12 90.48,193.37 88.36,193.37 C86.24,193.37 83.67,194.25 82.62,193.12 C81.57,191.99 82.11,188.75 82.05,186.56 C81.98,184.37 81.98,181.78 82.21,180.00Z" fill="#1e5ef0"/><path d="M84.30,180.00 C84.47,178.70 84.75,177.80 85.20,177.00 C85.65,176.20 86.40,176.00 87.00,175.20 C87.60,174.40 88.10,172.92 88.80,172.20 C89.50,171.48 90.35,171.06 91.20,170.88 C92.05,170.70 93.25,170.70 93.90,171.12 C94.55,171.54 95.00,172.42 95.10,173.40 C95.20,174.38 94.75,175.70 94.50,177.00 C94.25,178.30 93.85,179.80 93.60,181.20 C93.35,182.60 92.95,184.00 93.00,185.40 C93.05,186.80 94.60,188.87 93.90,189.60 C93.20,190.33 90.35,189.78 88.80,189.78 C87.25,189.78 85.37,190.43 84.60,189.60 C83.83,188.77 84.23,186.40 84.18,184.80 C84.13,183.20 84.13,181.30 84.30,180.00Z" fill="#2a8cf0"/><path d="M86.67,180.00 C86.77,179.24 86.94,178.72 87.20,178.25 C87.46,177.78 87.90,177.67 88.25,177.20 C88.60,176.73 88.89,175.87 89.30,175.45 C89.71,175.03 90.20,174.78 90.70,174.68 C91.20,174.58 91.90,174.57 92.28,174.82 C92.65,175.06 92.92,175.58 92.97,176.15 C93.03,176.72 92.77,177.49 92.62,178.25 C92.48,179.01 92.25,179.88 92.10,180.70 C91.95,181.52 91.72,182.33 91.75,183.15 C91.78,183.97 92.68,185.17 92.28,185.60 C91.87,186.03 90.20,185.71 89.30,185.71 C88.40,185.71 87.30,186.08 86.85,185.60 C86.40,185.12 86.63,183.73 86.61,182.80 C86.58,181.87 86.58,180.76 86.67,180.00Z" fill="#40a8f0"/></g>
</g>
<rect x="80.30" y="160.30" width="22.50" height="19.40" fill="none" stroke="#d870d8" stroke-width="0.55"/>
<rect x="80.30" y="180.30" width="23.10" height="15.80" fill="none" stroke="#d870d8" stroke-width="0.55"/>
<text x="104.20" y="177.00" font-size="6.2" font-weight="bold" text-anchor="start" fill="#c62ec6">3.9</text>
<text x="104.20" y="195.30" font-size="6.2" font-weight="bold" text-anchor="start" fill="#c62ec6">3.9</text>
<line x1="125.80" y1="127.50" x2="125.80" y2="196.50" stroke="#444" stroke-width="0.6"/>
<line x1="125.80" y1="196.50" x2="187.00" y2="196.50" stroke="#444" stroke-width="0.6"/>
<text x="124.30" y="130.20" font-size="4.2" font-weight="bold" text-anchor="end" fill="#222">100</text>
<line x1="124.50" y1="128.90" x2="125.80" y2="128.90" stroke="#222" stroke-width="0.5"/>
<text x="124.30" y="143.60" font-size="4.2" font-weight="bold" text-anchor="end" fill="#222">80</text>
<line x1="124.50" y1="142.30" x2="125.80" y2="142.30" stroke="#222" stroke-width="0.5"/>
<text x="124.30" y="157.00" font-size="4.2" font-weight="bold" text-anchor="end" fill="#222">60</text>
<line x1="124.50" y1="155.70" x2="125.80" y2="155.70" stroke="#222" stroke-width="0.5"/>
<text x="124.30" y="170.80" font-size="4.2" font-weight="bold" text-anchor="end" fill="#222">40</text>
<line x1="124.50" y1="169.50" x2="125.80" y2="169.50" stroke="#222" stroke-width="0.5"/>
<text x="124.30" y="184.30" font-size="4.2" font-weight="bold" text-anchor="end" fill="#222">20</text>
<line x1="124.50" y1="183.00" x2="125.80" y2="183.00" stroke="#222" stroke-width="0.5"/>
<text x="124.30" y="197.80" font-size="4.2" font-weight="bold" text-anchor="end" fill="#222">0</text>
<line x1="124.50" y1="196.50" x2="125.80" y2="196.50" stroke="#222" stroke-width="0.5"/>
<text x="134.30" y="203.20" font-size="4.2" font-weight="bold" text-anchor="middle" fill="#222">0</text>
<line x1="134.30" y1="196.50" x2="134.30" y2="197.80" stroke="#222" stroke-width="0.5"/>
<text x="142.80" y="203.20" font-size="4.2" font-weight="bold" text-anchor="middle" fill="#222">10</text>
<line x1="142.80" y1="196.50" x2="142.80" y2="197.80" stroke="#222" stroke-width="0.5"/>
<text x="156.60" y="203.20" font-size="4.2" font-weight="bold" text-anchor="middle" fill="#222">10</text>
<line x1="156.60" y1="196.50" x2="156.60" y2="197.80" stroke="#222" stroke-width="0.5"/>
<text x="170.50" y="203.20" font-size="4.2" font-weight="bold" text-anchor="middle" fill="#222">10</text>
<line x1="170.50" y1="196.50" x2="170.50" y2="197.80" stroke="#222" stroke-width="0.5"/>
<text x="182.00" y="203.20" font-size="4.2" font-weight="bold" text-anchor="middle" fill="#222">10</text>
<line x1="182.00" y1="196.50" x2="182.00" y2="197.80" stroke="#222" stroke-width="0.5"/>
<path d="M125.85,196.46 L125.85,166.15 L126.92,164.62 L127.38,170.77 L128.62,160.00 L130.15,154.62 L131.23,156.92 L132.31,147.69 L133.54,135.38 L134.77,129.54 L135.38,135.38 L135.85,150.77 L136.62,158.46 L137.38,152.31 L138.46,147.69 L139.38,146.15 L140.15,150.77 L140.92,166.15 L141.54,196.46Z" fill="#ee1010" stroke="none" stroke-width="0"/>
<path d="M142.77,196.46 L143.23,184.62 L143.85,150.77 L144.31,140.77 L145.08,144.62 L145.54,150.77 L146.15,140.00 L147.08,129.23 L147.85,143.08 L148.62,150.77 L149.38,150.00 L150.15,160.00 L151.23,170.77 L152.31,181.54 L153.54,189.23 L155.08,193.08 L157.85,196.46Z" fill="#1414d8" stroke="none" stroke-width="0"/>
<text x="128.40" y="133.60" font-size="9.2" font-weight="bold" text-anchor="start" fill="#000">1</text>
<text x="148.80" y="133.60" font-size="9.2" font-weight="bold" text-anchor="start" fill="#000">186</text>
<line x1="50.80" y1="209.20" x2="50.80" y2="271.50" stroke="#999" stroke-width="0.6"/>
<line x1="50.80" y1="271.50" x2="112.00" y2="271.50" stroke="#444" stroke-width="0.6"/>
<text x="47.80" y="214.30" font-size="4.2" font-weight="bold" text-anchor="end" fill="#222">10</text>
<text x="47.80" y="225.90" font-size="4.2" font-weight="bold" text-anchor="end" fill="#222">10</text>
<text x="47.80" y="239.80" font-size="4.2" font-weight="bold" text-anchor="end" fill="#222">10</text>
<text x="47.80" y="253.60" font-size="4.2" font-weight="bold" text-anchor="end" fill="#222">10</text>
<text x="47.80" y="266.70" font-size="4.2" font-weight="bold" text-anchor="end" fill="#222">0</text>
<text x="64.60" y="276.70" font-size="4.2" font-weight="bold" text-anchor="middle" fill="#222">0 10</text>
<text x="81.50" y="276.70" font-size="4.2" font-weight="bold" text-anchor="middle" fill="#222">10</text>
<text x="95.40" y="276.70" font-size="4.2" font-weight="bold" text-anchor="middle" fill="#222">10</text>
<text x="107.70" y="276.70" font-size="4.2" font-weight="bold" text-anchor="middle" fill="#222">10</text>
<g fill="#666" opacity="0.35"><circle cx="81.0" cy="239.8" r="0.38"/><circle cx="76.0" cy="239.3" r="0.38"/><circle cx="89.9" cy="239.6" r="0.38"/><circle cx="96.2" cy="233.1" r="0.38"/><circle cx="81.3" cy="234.0" r="0.38"/><circle cx="72.8" cy="236.6" r="0.38"/><circle cx="82.8" cy="239.6" r="0.38"/><circle cx="85.7" cy="248.7" r="0.38"/><circle cx="89.2" cy="229.5" r="0.38"/><circle cx="82.6" cy="234.4" r="0.38"/><circle cx="75.4" cy="244.0" r="0.38"/><circle cx="78.4" cy="227.7" r="0.38"/><circle cx="83.7" cy="236.0" r="0.38"/><circle cx="68.9" cy="232.9" r="0.38"/><circle cx="74.3" cy="237.4" r="0.38"/><circle cx="76.3" cy="237.9" r="0.38"/><circle cx="99.0" cy="233.5" r="0.38"/><circle cx="72.5" cy="236.3" r="0.38"/><circle cx="91.6" cy="234.0" r="0.38"/><circle cx="94.9" cy="231.0" r="0.38"/><circle cx="70.3" cy="237.2" r="0.38"/><circle cx="72.0" cy="234.4" r="0.38"/><circle cx="85.1" cy="241.1" r="0.38"/><circle cx="81.7" cy="236.1" r="0.38"/><circle cx="94.0" cy="239.5" r="0.38"/><circle cx="78.2" cy="243.6" r="0.38"/><circle cx="71.6" cy="238.3" r="0.38"/><circle cx="87.2" cy="237.4" r="0.38"/><circle cx="74.9" cy="239.3" r="0.38"/><circle cx="75.2" cy="234.5" r="0.38"/><circle cx="70.4" cy="244.0" r="0.38"/><circle cx="75.1" cy="243.3" r="0.38"/><circle cx="84.4" cy="236.2" r="0.38"/><circle cx="87.3" cy="238.9" r="0.38"/><circle cx="81.9" cy="230.6" r="0.38"/><circle cx="81.3" cy="242.0" r="0.38"/><circle cx="85.5" cy="242.5" r="0.38"/><circle cx="95.5" cy="239.6" r="0.38"/><circle cx="100.3" cy="229.9" r="0.38"/><circle cx="78.2" cy="224.9" r="0.38"/><circle cx="88.8" cy="238.0" r="0.38"/><circle cx="97.5" cy="235.7" r="0.38"/><circle cx="60.3" cy="243.9" r="0.38"/><circle cx="67.2" cy="231.2" r="0.38"/><circle cx="78.8" cy="240.6" r="0.38"/><circle cx="75.5" cy="238.4" r="0.38"/><circle cx="61.8" cy="246.2" r="0.38"/><circle cx="79.9" cy="238.1" r="0.38"/><circle cx="86.5" cy="238.3" r="0.38"/><circle cx="82.6" cy="232.9" r="0.38"/><circle cx="79.5" cy="239.7" r="0.38"/><circle cx="91.0" cy="236.9" r="0.38"/><circle cx="81.5" cy="239.2" r="0.38"/><circle cx="86.3" cy="238.5" r="0.38"/><circle cx="78.1" cy="234.9" r="0.38"/><circle cx="91.8" cy="239.0" r="0.38"/><circle cx="80.8" cy="254.9" r="0.38"/><circle cx="89.4" cy="241.8" r="0.38"/><circle cx="82.1" cy="232.4" r="0.38"/><circle cx="92.0" cy="237.1" r="0.38"/><circle cx="81.1" cy="242.6" r="0.38"/><circle cx="90.8" cy="238.7" r="0.38"/><circle cx="80.8" cy="248.0" r="0.38"/><circle cx="86.3" cy="232.4" r="0.38"/><circle cx="88.1" cy="238.3" r="0.38"/><circle cx="80.9" cy="240.9" r="0.38"/><circle cx="82.9" cy="247.5" r="0.38"/><circle cx="82.6" cy="238.8" r="0.38"/><circle cx="92.2" cy="234.7" r="0.38"/><circle cx="90.7" cy="237.2" r="0.38"/><circle cx="92.4" cy="233.3" r="0.38"/><circle cx="84.8" cy="229.5" r="0.38"/><circle cx="76.2" cy="237.6" r="0.38"/><circle cx="85.5" cy="247.4" r="0.38"/><circle cx="99.0" cy="230.8" r="0.38"/><circle cx="73.0" cy="243.8" r="0.38"/><circle cx="85.0" cy="230.7" r="0.38"/><circle cx="85.5" cy="231.9" r="0.38"/><circle cx="72.0" cy="231.2" r="0.38"/><circle cx="78.0" cy="248.7" r="0.38"/><circle cx="84.4" cy="237.0" r="0.38"/><circle cx="105.7" cy="235.2" r="0.38"/><circle cx="79.1" cy="236.2" r="0.38"/><circle cx="84.8" cy="236.0" r="0.38"/><circle cx="95.1" cy="236.0" r="0.38"/><circle cx="86.2" cy="238.6" r="0.38"/><circle cx="72.0" cy="232.6" r="0.38"/><circle cx="80.1" cy="226.0" r="0.38"/><circle cx="80.8" cy="237.9" r="0.38"/><circle cx="82.0" cy="237.1" r="0.38"/><circle cx="84.1" cy="235.8" r="0.38"/><circle cx="87.0" cy="229.4" r="0.38"/><circle cx="89.7" cy="233.1" r="0.38"/><circle cx="85.5" cy="235.2" r="0.38"/><circle cx="76.4" cy="233.6" r="0.38"/><circle cx="94.0" cy="232.1" r="0.38"/><circle cx="68.6" cy="238.6" r="0.38"/><circle cx="83.2" cy="237.7" r="0.38"/><circle cx="71.0" cy="234.3" r="0.38"/><circle cx="89.6" cy="232.4" r="0.38"/><circle cx="86.7" cy="241.1" r="0.38"/><circle cx="81.9" cy="231.5" r="0.38"/><circle cx="99.6" cy="238.1" r="0.38"/><circle cx="82.6" cy="235.6" r="0.38"/><circle cx="71.2" cy="236.2" r="0.38"/><circle cx="82.6" cy="233.3" r="0.38"/><circle cx="81.8" cy="243.2" r="0.38"/><circle cx="85.0" cy="237.0" r="0.38"/><circle cx="91.1" cy="242.1" r="0.38"/><circle cx="89.6" cy="233.5" r="0.38"/><circle cx="62.5" cy="241.5" r="0.38"/><circle cx="81.2" cy="235.7" r="0.38"/><circle cx="85.5" cy="235.3" r="0.38"/><circle cx="74.5" cy="246.5" r="0.38"/><circle cx="64.8" cy="241.7" r="0.38"/><circle cx="90.7" cy="246.3" r="0.38"/><circle cx="83.1" cy="240.0" r="0.38"/><circle cx="71.5" cy="237.7" r="0.38"/><circle cx="59.7" cy="234.7" r="0.38"/><circle cx="80.3" cy="237.0" r="0.38"/><circle cx="75.8" cy="243.3" r="0.38"/><circle cx="64.8" cy="238.2" r="0.38"/><circle cx="76.7" cy="237.7" r="0.38"/><circle cx="81.2" cy="247.2" r="0.38"/><circle cx="70.0" cy="244.2" r="0.38"/><circle cx="94.6" cy="236.9" r="0.38"/><circle cx="74.5" cy="231.4" r="0.38"/><circle cx="72.0" cy="247.7" r="0.38"/><circle cx="59.1" cy="239.8" r="0.38"/><circle cx="73.7" cy="246.9" r="0.38"/><circle cx="83.8" cy="230.8" r="0.38"/><circle cx="75.5" cy="238.5" r="0.38"/><circle cx="81.9" cy="232.8" r="0.38"/><circle cx="77.8" cy="235.2" r="0.38"/><circle cx="85.4" cy="238.9" r="0.38"/><circle cx="82.9" cy="234.6" r="0.38"/><circle cx="88.5" cy="234.7" r="0.38"/><circle cx="72.3" cy="235.4" r="0.38"/><circle cx="77.4" cy="236.0" r="0.38"/><circle cx="61.4" cy="244.2" r="0.38"/><circle cx="86.8" cy="244.1" r="0.38"/><circle cx="76.7" cy="241.2" r="0.38"/><circle cx="82.6" cy="237.6" r="0.38"/><circle cx="98.5" cy="234.6" r="0.38"/><circle cx="86.3" cy="228.9" r="0.38"/><circle cx="86.2" cy="236.7" r="0.38"/><circle cx="70.5" cy="234.6" r="0.38"/><circle cx="59.5" cy="232.2" r="0.38"/><circle cx="82.3" cy="224.4" r="0.38"/><circle cx="91.4" cy="242.4" r="0.38"/><circle cx="73.1" cy="230.1" r="0.38"/><circle cx="66.7" cy="231.1" r="0.38"/><circle cx="73.1" cy="248.3" r="0.38"/><circle cx="69.4" cy="241.3" r="0.38"/><circle cx="93.0" cy="232.8" r="0.38"/><circle cx="77.9" cy="240.9" r="0.38"/><circle cx="74.1" cy="243.7" r="0.38"/><circle cx="102.0" cy="237.3" r="0.38"/><circle cx="72.4" cy="240.5" r="0.38"/><circle cx="84.0" cy="233.8" r="0.38"/></g>
<g fill="#000" opacity="0.45"><circle cx="71.6" cy="263.5" r="0.42"/><circle cx="60.4" cy="260.4" r="0.42"/><circle cx="67.7" cy="245.4" r="0.42"/><circle cx="91.5" cy="250.4" r="0.42"/><circle cx="70.1" cy="257.3" r="0.42"/><circle cx="83.0" cy="248.1" r="0.42"/><circle cx="77.1" cy="236.8" r="0.42"/><circle cx="66.6" cy="243.2" r="0.42"/><circle cx="55.9" cy="230.4" r="0.42"/><circle cx="52.7" cy="245.6" r="0.42"/><circle cx="68.7" cy="244.7" r="0.42"/><circle cx="71.4" cy="232.5" r="0.42"/><circle cx="69.7" cy="251.4" r="0.42"/><circle cx="78.9" cy="238.3" r="0.42"/><circle cx="66.2" cy="224.3" r="0.42"/><circle cx="65.1" cy="222.1" r="0.42"/><circle cx="55.0" cy="261.7" r="0.42"/><circle cx="46.4" cy="258.1" r="0.42"/><circle cx="74.2" cy="244.8" r="0.42"/><circle cx="75.7" cy="254.8" r="0.42"/><circle cx="82.1" cy="245.7" r="0.42"/><circle cx="64.1" cy="241.2" r="0.42"/><circle cx="59.7" cy="248.0" r="0.42"/><circle cx="62.0" cy="261.3" r="0.42"/><circle cx="50.0" cy="235.4" r="0.42"/><circle cx="60.1" cy="223.4" r="0.42"/><circle cx="91.5" cy="219.6" r="0.42"/><circle cx="67.5" cy="242.2" r="0.42"/><circle cx="88.8" cy="224.7" r="0.42"/><circle cx="82.4" cy="239.7" r="0.42"/><circle cx="68.9" cy="240.4" r="0.42"/><circle cx="77.6" cy="234.8" r="0.42"/><circle cx="69.7" cy="252.7" r="0.42"/><circle cx="90.8" cy="219.6" r="0.42"/><circle cx="87.4" cy="259.9" r="0.42"/><circle cx="65.3" cy="252.2" r="0.42"/><circle cx="65.5" cy="268.3" r="0.42"/><circle cx="72.9" cy="245.9" r="0.42"/><circle cx="68.1" cy="246.1" r="0.42"/><circle cx="68.7" cy="238.0" r="0.42"/><circle cx="93.2" cy="225.6" r="0.42"/><circle cx="30.9" cy="247.0" r="0.42"/><circle cx="69.0" cy="253.0" r="0.42"/><circle cx="68.4" cy="246.7" r="0.42"/><circle cx="74.3" cy="260.1" r="0.42"/><circle cx="65.7" cy="244.0" r="0.42"/><circle cx="91.9" cy="254.9" r="0.42"/><circle cx="59.8" cy="276.4" r="0.42"/><circle cx="79.1" cy="241.4" r="0.42"/><circle cx="57.7" cy="252.1" r="0.42"/><circle cx="61.4" cy="235.8" r="0.42"/><circle cx="56.3" cy="242.4" r="0.42"/><circle cx="82.8" cy="243.3" r="0.42"/><circle cx="54.7" cy="256.5" r="0.42"/><circle cx="71.3" cy="258.6" r="0.42"/><circle cx="83.8" cy="246.5" r="0.42"/><circle cx="69.0" cy="248.0" r="0.42"/><circle cx="58.1" cy="256.5" r="0.42"/><circle cx="85.7" cy="250.6" r="0.42"/><circle cx="68.0" cy="245.4" r="0.42"/><circle cx="62.0" cy="238.9" r="0.42"/><circle cx="66.2" cy="238.4" r="0.42"/><circle cx="65.8" cy="229.6" r="0.42"/><circle cx="74.5" cy="249.1" r="0.42"/><circle cx="57.9" cy="220.9" r="0.42"/><circle cx="70.5" cy="261.7" r="0.42"/><circle cx="62.5" cy="242.7" r="0.42"/><circle cx="64.3" cy="256.3" r="0.42"/><circle cx="60.5" cy="260.3" r="0.42"/><circle cx="67.3" cy="259.6" r="0.42"/><circle cx="71.0" cy="245.7" r="0.42"/><circle cx="54.3" cy="240.3" r="0.42"/><circle cx="67.7" cy="256.4" r="0.42"/><circle cx="73.3" cy="240.1" r="0.42"/><circle cx="75.1" cy="260.3" r="0.42"/><circle cx="69.0" cy="243.2" r="0.42"/><circle cx="66.3" cy="258.2" r="0.42"/><circle cx="76.5" cy="237.3" r="0.42"/><circle cx="74.7" cy="242.7" r="0.42"/><circle cx="62.3" cy="263.4" r="0.42"/><circle cx="79.6" cy="239.8" r="0.42"/><circle cx="71.5" cy="254.5" r="0.42"/><circle cx="63.6" cy="247.1" r="0.42"/><circle cx="77.9" cy="227.0" r="0.42"/><circle cx="74.2" cy="257.4" r="0.42"/><circle cx="76.1" cy="232.4" r="0.42"/><circle cx="74.1" cy="238.1" r="0.42"/><circle cx="76.9" cy="255.8" r="0.42"/><circle cx="73.0" cy="239.3" r="0.42"/><circle cx="64.1" cy="258.7" r="0.42"/><circle cx="60.7" cy="254.4" r="0.42"/><circle cx="76.2" cy="245.2" r="0.42"/><circle cx="96.9" cy="249.3" r="0.42"/><circle cx="94.2" cy="224.3" r="0.42"/><circle cx="45.9" cy="260.3" r="0.42"/><circle cx="77.6" cy="244.8" r="0.42"/><circle cx="70.0" cy="225.7" r="0.42"/><circle cx="63.7" cy="236.1" r="0.42"/><circle cx="68.2" cy="259.1" r="0.42"/><circle cx="71.2" cy="253.0" r="0.42"/><circle cx="62.9" cy="243.3" r="0.42"/><circle cx="71.8" cy="245.1" r="0.42"/><circle cx="84.5" cy="238.0" r="0.42"/><circle cx="91.4" cy="236.7" r="0.42"/><circle cx="82.3" cy="239.2" r="0.42"/><circle cx="88.7" cy="250.1" r="0.42"/><circle cx="75.0" cy="257.4" r="0.42"/><circle cx="63.6" cy="236.0" r="0.42"/><circle cx="48.3" cy="263.1" r="0.42"/><circle cx="62.9" cy="241.4" r="0.42"/><circle cx="70.3" cy="272.4" r="0.42"/><circle cx="51.6" cy="251.5" r="0.42"/><circle cx="66.2" cy="254.9" r="0.42"/><circle cx="50.8" cy="243.7" r="0.42"/><circle cx="79.8" cy="267.2" r="0.42"/><circle cx="88.2" cy="238.2" r="0.42"/><circle cx="71.2" cy="247.2" r="0.42"/><circle cx="55.5" cy="231.2" r="0.42"/><circle cx="78.9" cy="251.4" r="0.42"/><circle cx="69.0" cy="263.1" r="0.42"/><circle cx="59.6" cy="254.8" r="0.42"/><circle cx="70.7" cy="247.8" r="0.42"/><circle cx="76.0" cy="250.6" r="0.42"/><circle cx="73.5" cy="251.7" r="0.42"/><circle cx="91.9" cy="244.8" r="0.42"/><circle cx="81.7" cy="255.8" r="0.42"/><circle cx="66.8" cy="258.0" r="0.42"/><circle cx="61.2" cy="262.4" r="0.42"/><circle cx="61.7" cy="242.6" r="0.42"/><circle cx="74.2" cy="258.5" r="0.42"/><circle cx="80.6" cy="259.2" r="0.42"/><circle cx="68.3" cy="237.0" r="0.42"/><circle cx="76.6" cy="252.1" r="0.42"/><circle cx="60.1" cy="260.2" r="0.42"/><circle cx="72.8" cy="237.0" r="0.42"/><circle cx="75.5" cy="232.6" r="0.42"/><circle cx="60.9" cy="253.3" r="0.42"/><circle cx="53.5" cy="249.0" r="0.42"/><circle cx="55.7" cy="257.3" r="0.42"/><circle cx="62.6" cy="250.7" r="0.42"/><circle cx="54.1" cy="244.4" r="0.42"/><circle cx="81.0" cy="254.0" r="0.42"/><circle cx="50.4" cy="259.6" r="0.42"/><circle cx="80.4" cy="244.0" r="0.42"/><circle cx="86.2" cy="235.8" r="0.42"/><circle cx="69.7" cy="261.9" r="0.42"/><circle cx="85.0" cy="263.9" r="0.42"/><circle cx="58.6" cy="227.1" r="0.42"/><circle cx="74.9" cy="231.3" r="0.42"/><circle cx="69.2" cy="233.1" r="0.42"/><circle cx="82.3" cy="258.1" r="0.42"/><circle cx="76.7" cy="248.7" r="0.42"/><circle cx="71.1" cy="244.9" r="0.42"/><circle cx="74.8" cy="251.5" r="0.42"/><circle cx="75.7" cy="243.4" r="0.42"/><circle cx="91.5" cy="251.9" r="0.42"/><circle cx="85.9" cy="264.5" r="0.42"/><circle cx="60.9" cy="228.3" r="0.42"/><circle cx="84.4" cy="243.8" r="0.42"/><circle cx="71.5" cy="245.4" r="0.42"/><circle cx="72.0" cy="234.2" r="0.42"/><circle cx="69.5" cy="242.9" r="0.42"/><circle cx="70.4" cy="220.5" r="0.42"/><circle cx="79.6" cy="252.5" r="0.42"/><circle cx="51.6" cy="239.7" r="0.42"/><circle cx="70.9" cy="256.0" r="0.42"/><circle cx="70.6" cy="265.1" r="0.42"/><circle cx="70.8" cy="236.5" r="0.42"/><circle cx="63.2" cy="257.4" r="0.42"/><circle cx="63.9" cy="258.6" r="0.42"/><circle cx="81.8" cy="255.6" r="0.42"/><circle cx="81.8" cy="246.4" r="0.42"/><circle cx="70.5" cy="241.4" r="0.42"/><circle cx="63.9" cy="229.7" r="0.42"/><circle cx="64.5" cy="235.6" r="0.42"/><circle cx="54.9" cy="250.3" r="0.42"/><circle cx="75.6" cy="244.4" r="0.42"/><circle cx="85.7" cy="259.8" r="0.42"/><circle cx="82.1" cy="241.3" r="0.42"/><circle cx="54.2" cy="255.2" r="0.42"/><circle cx="74.0" cy="257.2" r="0.42"/><circle cx="75.2" cy="263.6" r="0.42"/><circle cx="67.4" cy="256.5" r="0.42"/><circle cx="60.8" cy="220.8" r="0.42"/><circle cx="65.7" cy="266.5" r="0.42"/><circle cx="52.2" cy="260.7" r="0.42"/><circle cx="63.1" cy="243.7" r="0.42"/><circle cx="71.1" cy="251.0" r="0.42"/><circle cx="59.9" cy="250.0" r="0.42"/><circle cx="75.5" cy="258.5" r="0.42"/><circle cx="62.3" cy="267.1" r="0.42"/><circle cx="91.6" cy="277.5" r="0.42"/><circle cx="55.9" cy="250.6" r="0.42"/><circle cx="50.2" cy="253.0" r="0.42"/><circle cx="76.7" cy="234.7" r="0.42"/><circle cx="53.2" cy="250.7" r="0.42"/><circle cx="77.5" cy="239.0" r="0.42"/><circle cx="67.7" cy="218.2" r="0.42"/><circle cx="62.8" cy="250.3" r="0.42"/><circle cx="72.3" cy="267.5" r="0.42"/><circle cx="58.0" cy="221.5" r="0.42"/><circle cx="75.6" cy="241.4" r="0.42"/><circle cx="73.8" cy="257.1" r="0.42"/><circle cx="77.2" cy="265.8" r="0.42"/><circle cx="85.5" cy="228.5" r="0.42"/><circle cx="69.9" cy="272.5" r="0.42"/><circle cx="66.1" cy="260.1" r="0.42"/><circle cx="70.0" cy="243.5" r="0.42"/><circle cx="88.0" cy="261.0" r="0.42"/><circle cx="67.9" cy="259.4" r="0.42"/><circle cx="56.2" cy="239.8" r="0.42"/><circle cx="80.5" cy="249.0" r="0.42"/><circle cx="58.9" cy="253.9" r="0.42"/><circle cx="74.2" cy="263.9" r="0.42"/><circle cx="81.1" cy="245.2" r="0.42"/><circle cx="65.3" cy="246.8" r="0.42"/><circle cx="68.1" cy="266.0" r="0.42"/><circle cx="88.1" cy="264.8" r="0.42"/><circle cx="74.8" cy="245.6" r="0.42"/><circle cx="80.5" cy="244.3" r="0.42"/><circle cx="73.2" cy="228.5" r="0.42"/><circle cx="65.9" cy="265.8" r="0.42"/><circle cx="59.3" cy="230.6" r="0.42"/><circle cx="68.8" cy="268.5" r="0.42"/><circle cx="86.6" cy="244.2" r="0.42"/><circle cx="65.3" cy="247.2" r="0.42"/><circle cx="60.4" cy="248.9" r="0.42"/><circle cx="67.3" cy="230.8" r="0.42"/><circle cx="64.2" cy="245.4" r="0.42"/><circle cx="61.1" cy="235.1" r="0.42"/><circle cx="80.6" cy="271.2" r="0.42"/><circle cx="67.4" cy="243.4" r="0.42"/><circle cx="76.1" cy="245.7" r="0.42"/><circle cx="62.0" cy="265.2" r="0.42"/><circle cx="59.1" cy="239.7" r="0.42"/><circle cx="63.3" cy="237.9" r="0.42"/><circle cx="68.0" cy="255.4" r="0.42"/><circle cx="86.5" cy="256.5" r="0.42"/><circle cx="71.0" cy="233.5" r="0.42"/><circle cx="69.9" cy="237.2" r="0.42"/><circle cx="69.5" cy="260.2" r="0.42"/><circle cx="72.8" cy="246.0" r="0.42"/><circle cx="62.3" cy="248.2" r="0.42"/><circle cx="71.8" cy="237.4" r="0.42"/><circle cx="65.0" cy="259.1" r="0.42"/><circle cx="52.3" cy="243.2" r="0.42"/><circle cx="57.8" cy="267.1" r="0.42"/><circle cx="77.3" cy="254.7" r="0.42"/><circle cx="75.0" cy="251.9" r="0.42"/><circle cx="73.8" cy="229.5" r="0.42"/><circle cx="73.4" cy="255.6" r="0.42"/><circle cx="54.9" cy="258.4" r="0.42"/><circle cx="77.9" cy="230.2" r="0.42"/><circle cx="65.4" cy="244.8" r="0.42"/><circle cx="64.8" cy="253.2" r="0.42"/><circle cx="56.6" cy="245.8" r="0.42"/><circle cx="73.1" cy="257.2" r="0.42"/><circle cx="71.1" cy="245.6" r="0.42"/><circle cx="78.2" cy="224.6" r="0.42"/><circle cx="80.9" cy="244.8" r="0.42"/><circle cx="56.8" cy="243.3" r="0.42"/><circle cx="50.4" cy="224.0" r="0.42"/><circle cx="67.0" cy="239.2" r="0.42"/><circle cx="78.7" cy="237.9" r="0.42"/><circle cx="56.4" cy="237.0" r="0.42"/><circle cx="89.5" cy="248.8" r="0.42"/><circle cx="63.9" cy="236.6" r="0.42"/><circle cx="58.5" cy="246.5" r="0.42"/><circle cx="75.3" cy="262.3" r="0.42"/><circle cx="83.2" cy="251.8" r="0.42"/><circle cx="63.3" cy="238.2" r="0.42"/><circle cx="45.2" cy="236.3" r="0.42"/><circle cx="75.2" cy="244.4" r="0.42"/><circle cx="74.6" cy="232.3" r="0.42"/><circle cx="80.5" cy="252.0" r="0.42"/><circle cx="71.1" cy="253.3" r="0.42"/><circle cx="46.0" cy="241.8" r="0.42"/><circle cx="60.7" cy="270.2" r="0.42"/><circle cx="68.6" cy="242.4" r="0.42"/><circle cx="80.0" cy="235.9" r="0.42"/><circle cx="86.2" cy="240.1" r="0.42"/><circle cx="69.9" cy="237.5" r="0.42"/><circle cx="79.5" cy="222.4" r="0.42"/><circle cx="78.2" cy="238.7" r="0.42"/><circle cx="71.1" cy="234.7" r="0.42"/><circle cx="73.1" cy="250.7" r="0.42"/><circle cx="77.1" cy="252.3" r="0.42"/><circle cx="77.5" cy="260.4" r="0.42"/><circle cx="66.3" cy="234.3" r="0.42"/><circle cx="56.5" cy="256.7" r="0.42"/><circle cx="66.5" cy="261.1" r="0.42"/><circle cx="71.1" cy="236.4" r="0.42"/><circle cx="80.6" cy="271.8" r="0.42"/><circle cx="68.6" cy="237.2" r="0.42"/><circle cx="61.3" cy="259.2" r="0.42"/><circle cx="64.2" cy="243.6" r="0.42"/><circle cx="78.1" cy="248.6" r="0.42"/><circle cx="71.9" cy="242.0" r="0.42"/><circle cx="63.6" cy="250.5" r="0.42"/><circle cx="72.3" cy="255.6" r="0.42"/><circle cx="65.1" cy="252.6" r="0.42"/><circle cx="75.8" cy="249.5" r="0.42"/><circle cx="76.9" cy="260.6" r="0.42"/><circle cx="72.8" cy="249.4" r="0.42"/><circle cx="59.9" cy="252.4" r="0.42"/><circle cx="69.6" cy="244.8" r="0.42"/><circle cx="61.5" cy="255.4" r="0.42"/><circle cx="98.7" cy="253.7" r="0.42"/><circle cx="71.6" cy="253.7" r="0.42"/><circle cx="64.1" cy="249.6" r="0.42"/><circle cx="63.3" cy="240.8" r="0.42"/><circle cx="73.2" cy="251.3" r="0.42"/><circle cx="69.4" cy="239.0" r="0.42"/><circle cx="73.5" cy="235.4" r="0.42"/><circle cx="79.1" cy="244.3" r="0.42"/><circle cx="70.6" cy="257.9" r="0.42"/><circle cx="76.7" cy="233.0" r="0.42"/><circle cx="67.9" cy="252.9" r="0.42"/><circle cx="58.6" cy="219.6" r="0.42"/><circle cx="69.8" cy="247.9" r="0.42"/><circle cx="75.3" cy="249.5" r="0.42"/><circle cx="72.0" cy="251.4" r="0.42"/><circle cx="85.7" cy="254.3" r="0.42"/><circle cx="76.6" cy="243.8" r="0.42"/><circle cx="83.0" cy="246.3" r="0.42"/><circle cx="78.7" cy="223.2" r="0.42"/><circle cx="73.3" cy="247.3" r="0.42"/><circle cx="65.5" cy="263.9" r="0.42"/><circle cx="75.1" cy="246.8" r="0.42"/><circle cx="64.8" cy="271.0" r="0.42"/><circle cx="78.8" cy="256.4" r="0.42"/><circle cx="62.2" cy="264.1" r="0.42"/><circle cx="76.7" cy="245.3" r="0.42"/><circle cx="69.5" cy="229.0" r="0.42"/><circle cx="77.8" cy="235.4" r="0.42"/><circle cx="79.9" cy="243.2" r="0.42"/><circle cx="63.8" cy="252.9" r="0.42"/><circle cx="72.9" cy="235.0" r="0.42"/><circle cx="69.8" cy="255.8" r="0.42"/><circle cx="67.8" cy="232.4" r="0.42"/><circle cx="67.9" cy="237.0" r="0.42"/><circle cx="64.3" cy="249.1" r="0.42"/><circle cx="70.0" cy="246.0" r="0.42"/><circle cx="52.5" cy="252.7" r="0.42"/><circle cx="68.4" cy="243.6" r="0.42"/><circle cx="72.3" cy="271.5" r="0.42"/><circle cx="56.5" cy="229.3" r="0.42"/><circle cx="79.0" cy="239.1" r="0.42"/><circle cx="84.9" cy="236.7" r="0.42"/><circle cx="65.3" cy="258.5" r="0.42"/><circle cx="80.6" cy="253.8" r="0.42"/><circle cx="75.6" cy="246.9" r="0.42"/><circle cx="65.8" cy="246.1" r="0.42"/><circle cx="84.5" cy="257.0" r="0.42"/><circle cx="70.8" cy="252.3" r="0.42"/><circle cx="79.7" cy="262.6" r="0.42"/><circle cx="69.2" cy="247.6" r="0.42"/><circle cx="74.2" cy="279.6" r="0.42"/><circle cx="73.2" cy="263.7" r="0.42"/><circle cx="53.8" cy="258.6" r="0.42"/><circle cx="55.2" cy="235.6" r="0.42"/><circle cx="63.7" cy="246.8" r="0.42"/><circle cx="72.6" cy="252.9" r="0.42"/><circle cx="73.1" cy="243.3" r="0.42"/><circle cx="98.9" cy="253.2" r="0.42"/><circle cx="77.9" cy="272.6" r="0.42"/><circle cx="81.2" cy="255.4" r="0.42"/><circle cx="74.1" cy="270.7" r="0.42"/><circle cx="58.8" cy="237.1" r="0.42"/><circle cx="72.2" cy="224.2" r="0.42"/><circle cx="62.1" cy="261.9" r="0.42"/><circle cx="65.6" cy="250.5" r="0.42"/><circle cx="78.2" cy="234.6" r="0.42"/><circle cx="73.6" cy="241.0" r="0.42"/><circle cx="58.7" cy="245.2" r="0.42"/><circle cx="70.0" cy="243.7" r="0.42"/><circle cx="63.4" cy="259.9" r="0.42"/><circle cx="83.2" cy="255.1" r="0.42"/><circle cx="69.5" cy="236.0" r="0.42"/><circle cx="61.7" cy="235.3" r="0.42"/><circle cx="72.9" cy="259.4" r="0.42"/><circle cx="80.5" cy="248.2" r="0.42"/><circle cx="66.4" cy="250.6" r="0.42"/><circle cx="71.9" cy="255.6" r="0.42"/><circle cx="86.7" cy="240.4" r="0.42"/><circle cx="93.4" cy="223.5" r="0.42"/><circle cx="51.2" cy="230.5" r="0.42"/><circle cx="59.4" cy="245.7" r="0.42"/><circle cx="93.1" cy="240.2" r="0.42"/><circle cx="82.6" cy="244.2" r="0.42"/><circle cx="72.3" cy="236.4" r="0.42"/><circle cx="95.3" cy="248.0" r="0.42"/><circle cx="63.9" cy="275.5" r="0.42"/><circle cx="72.6" cy="253.4" r="0.42"/><circle cx="69.0" cy="238.6" r="0.42"/><circle cx="55.0" cy="246.4" r="0.42"/><circle cx="88.2" cy="253.5" r="0.42"/><circle cx="68.7" cy="261.1" r="0.42"/><circle cx="60.4" cy="264.9" r="0.42"/><circle cx="70.4" cy="238.6" r="0.42"/><circle cx="78.0" cy="254.6" r="0.42"/><circle cx="66.9" cy="251.1" r="0.42"/><circle cx="81.3" cy="265.2" r="0.42"/><circle cx="61.4" cy="217.2" r="0.42"/><circle cx="92.9" cy="245.4" r="0.42"/><circle cx="66.1" cy="253.6" r="0.42"/><circle cx="65.9" cy="260.9" r="0.42"/><circle cx="57.0" cy="246.1" r="0.42"/><circle cx="56.9" cy="266.6" r="0.42"/><circle cx="67.9" cy="261.6" r="0.42"/><circle cx="85.7" cy="234.3" r="0.42"/><circle cx="68.2" cy="257.1" r="0.42"/><circle cx="71.1" cy="246.9" r="0.42"/><circle cx="79.8" cy="259.4" r="0.42"/><circle cx="64.1" cy="246.9" r="0.42"/><circle cx="77.7" cy="251.0" r="0.42"/><circle cx="72.1" cy="235.2" r="0.42"/><circle cx="89.7" cy="245.8" r="0.42"/><circle cx="73.5" cy="248.1" r="0.42"/><circle cx="71.3" cy="250.3" r="0.42"/><circle cx="61.5" cy="253.0" r="0.42"/><circle cx="83.7" cy="253.3" r="0.42"/><circle cx="78.5" cy="254.3" r="0.42"/><circle cx="70.9" cy="270.1" r="0.42"/><circle cx="63.2" cy="253.1" r="0.42"/><circle cx="81.8" cy="252.0" r="0.42"/><circle cx="59.1" cy="235.6" r="0.42"/><circle cx="87.7" cy="237.1" r="0.42"/><circle cx="70.7" cy="255.0" r="0.42"/><circle cx="71.6" cy="227.3" r="0.42"/><circle cx="49.9" cy="247.2" r="0.42"/><circle cx="62.2" cy="245.4" r="0.42"/><circle cx="71.6" cy="250.4" r="0.42"/><circle cx="56.0" cy="228.5" r="0.42"/><circle cx="80.9" cy="241.0" r="0.42"/><circle cx="57.8" cy="224.7" r="0.42"/><circle cx="76.4" cy="233.5" r="0.42"/><circle cx="59.2" cy="255.9" r="0.42"/><circle cx="73.9" cy="255.2" r="0.42"/><circle cx="56.8" cy="214.3" r="0.42"/><circle cx="59.8" cy="244.9" r="0.42"/><circle cx="63.4" cy="259.1" r="0.42"/><circle cx="74.5" cy="236.1" r="0.42"/><circle cx="76.8" cy="246.7" r="0.42"/><circle cx="65.3" cy="261.9" r="0.42"/><circle cx="52.3" cy="260.8" r="0.42"/><circle cx="82.5" cy="224.0" r="0.42"/><circle cx="68.5" cy="246.6" r="0.42"/><circle cx="58.2" cy="241.7" r="0.42"/><circle cx="61.7" cy="249.3" r="0.42"/><circle cx="64.5" cy="222.9" r="0.42"/><circle cx="83.7" cy="259.2" r="0.42"/><circle cx="61.5" cy="258.9" r="0.42"/><circle cx="92.8" cy="229.9" r="0.42"/><circle cx="66.1" cy="242.3" r="0.42"/><circle cx="76.7" cy="244.9" r="0.42"/><circle cx="55.3" cy="263.6" r="0.42"/><circle cx="67.1" cy="257.2" r="0.42"/><circle cx="95.7" cy="239.6" r="0.42"/><circle cx="66.1" cy="259.4" r="0.42"/><circle cx="69.4" cy="254.7" r="0.42"/><circle cx="70.6" cy="282.1" r="0.42"/><circle cx="77.6" cy="252.6" r="0.42"/><circle cx="72.0" cy="253.1" r="0.42"/><circle cx="52.7" cy="245.3" r="0.42"/><circle cx="78.8" cy="234.1" r="0.42"/><circle cx="71.1" cy="247.4" r="0.42"/><circle cx="65.0" cy="278.5" r="0.42"/><circle cx="78.5" cy="252.5" r="0.42"/><circle cx="62.0" cy="249.5" r="0.42"/><circle cx="67.3" cy="247.4" r="0.42"/><circle cx="73.0" cy="278.5" r="0.42"/><circle cx="85.3" cy="269.0" r="0.42"/><circle cx="85.7" cy="282.4" r="0.42"/><circle cx="63.4" cy="233.1" r="0.42"/><circle cx="72.9" cy="251.6" r="0.42"/><circle cx="71.0" cy="241.0" r="0.42"/><circle cx="78.2" cy="269.2" r="0.42"/><circle cx="73.1" cy="245.8" r="0.42"/><circle cx="83.8" cy="244.9" r="0.42"/><circle cx="66.7" cy="252.3" r="0.42"/><circle cx="45.5" cy="271.2" r="0.42"/><circle cx="69.5" cy="254.7" r="0.42"/><circle cx="74.1" cy="253.4" r="0.42"/><circle cx="55.9" cy="269.8" r="0.42"/><circle cx="77.0" cy="252.1" r="0.42"/><circle cx="105.3" cy="233.3" r="0.42"/><circle cx="78.8" cy="247.4" r="0.42"/><circle cx="54.1" cy="271.8" r="0.42"/><circle cx="53.5" cy="250.3" r="0.42"/><circle cx="69.7" cy="250.8" r="0.42"/><circle cx="60.3" cy="265.0" r="0.42"/><circle cx="73.4" cy="233.2" r="0.42"/><circle cx="57.3" cy="251.8" r="0.42"/><circle cx="57.9" cy="253.8" r="0.42"/><circle cx="74.3" cy="241.5" r="0.42"/><circle cx="49.4" cy="232.9" r="0.42"/><circle cx="74.6" cy="242.3" r="0.42"/><circle cx="91.1" cy="243.3" r="0.42"/><circle cx="74.9" cy="256.7" r="0.42"/></g>
<g filter="url(#wob)">
<g filter="url(#bl60)"><path d="M53.10,241.50 C53.60,238.33 54.18,236.25 55.60,234.50 C57.02,232.75 59.27,231.62 61.60,231.00 C63.93,230.38 67.27,230.22 69.60,230.80 C71.93,231.38 73.93,232.72 75.60,234.50 C77.27,236.28 78.60,239.17 79.60,241.50 C80.60,243.83 81.35,246.17 81.60,248.50 C81.85,250.83 81.93,253.50 81.10,255.50 C80.27,257.50 78.35,258.67 76.60,260.50 C74.85,262.33 72.60,264.92 70.60,266.50 C68.60,268.08 66.43,269.42 64.60,270.00 C62.77,270.58 61.27,271.08 59.60,270.00 C57.93,268.92 55.77,266.25 54.60,263.50 C53.43,260.75 52.85,257.17 52.60,253.50 C52.35,249.83 52.60,244.67 53.10,241.50Z" fill="#000000"/></g>
</g>
<g filter="url(#wob)">
<g filter="url(#bl45)"><path d="M55.60,242.50 C56.18,239.67 57.27,237.17 58.60,235.50 C59.93,233.83 61.60,232.92 63.60,232.50 C65.60,232.08 68.77,232.17 70.60,233.00 C72.43,233.83 73.60,235.42 74.60,237.50 C75.60,239.58 76.35,242.83 76.60,245.50 C76.85,248.17 76.77,251.17 76.10,253.50 C75.43,255.83 74.02,257.50 72.60,259.50 C71.18,261.50 69.10,263.92 67.60,265.50 C66.10,267.08 64.93,268.58 63.60,269.00 C62.27,269.42 60.77,269.25 59.60,268.00 C58.43,266.75 57.35,264.08 56.60,261.50 C55.85,258.92 55.27,255.67 55.10,252.50 C54.93,249.33 55.02,245.33 55.60,242.50Z" fill="#1020e0"/><path d="M56.45,243.45 C56.97,240.90 57.95,238.65 59.15,237.15 C60.35,235.65 61.85,234.82 63.65,234.45 C65.45,234.07 68.30,234.15 69.95,234.90 C71.60,235.65 72.65,237.07 73.55,238.95 C74.45,240.82 75.12,243.75 75.35,246.15 C75.57,248.55 75.50,251.25 74.90,253.35 C74.30,255.45 73.03,256.95 71.75,258.75 C70.47,260.55 68.60,262.72 67.25,264.15 C65.90,265.57 64.85,266.93 63.65,267.30 C62.45,267.68 61.10,267.52 60.05,266.40 C59.00,265.27 58.02,262.88 57.35,260.55 C56.67,258.23 56.15,255.30 56.00,252.45 C55.85,249.60 55.92,246.00 56.45,243.45Z" fill="#1a48ec"/><path d="M57.30,244.40 C57.77,242.13 58.63,240.13 59.70,238.80 C60.77,237.47 62.10,236.73 63.70,236.40 C65.30,236.07 67.83,236.13 69.30,236.80 C70.77,237.47 71.70,238.73 72.50,240.40 C73.30,242.07 73.90,244.67 74.10,246.80 C74.30,248.93 74.23,251.33 73.70,253.20 C73.17,255.07 72.03,256.40 70.90,258.00 C69.77,259.60 68.10,261.53 66.90,262.80 C65.70,264.07 64.77,265.27 63.70,265.60 C62.63,265.93 61.43,265.80 60.50,264.80 C59.57,263.80 58.70,261.67 58.10,259.60 C57.50,257.53 57.03,254.93 56.90,252.40 C56.77,249.87 56.83,246.67 57.30,244.40Z" fill="#1e70f0"/><path d="M58.32,245.54 C58.72,243.61 59.45,241.91 60.36,240.78 C61.27,239.65 62.40,239.02 63.76,238.74 C65.12,238.46 67.27,238.51 68.52,239.08 C69.77,239.65 70.56,240.72 71.24,242.14 C71.92,243.56 72.43,245.77 72.60,247.58 C72.77,249.39 72.71,251.43 72.26,253.02 C71.81,254.61 70.84,255.74 69.88,257.10 C68.92,258.46 67.50,260.10 66.48,261.18 C65.46,262.26 64.67,263.28 63.76,263.56 C62.85,263.84 61.83,263.73 61.04,262.88 C60.25,262.03 59.51,260.22 59.00,258.46 C58.49,256.70 58.09,254.49 57.98,252.34 C57.87,250.19 57.92,247.47 58.32,245.54Z" fill="#1aa8ee"/><path d="M59.59,246.97 C59.90,245.46 60.48,244.14 61.18,243.25 C61.89,242.37 62.77,241.89 63.83,241.66 C64.89,241.44 66.57,241.49 67.54,241.93 C68.52,242.37 69.13,243.21 69.66,244.31 C70.19,245.42 70.59,247.14 70.72,248.56 C70.86,249.97 70.81,251.56 70.46,252.79 C70.11,254.03 69.36,254.91 68.60,255.97 C67.85,257.03 66.75,258.32 65.95,259.15 C65.16,259.99 64.54,260.79 63.83,261.01 C63.13,261.23 62.33,261.14 61.71,260.48 C61.10,259.82 60.52,258.40 60.12,257.04 C59.73,255.67 59.42,253.94 59.33,252.26 C59.24,250.59 59.29,248.47 59.59,246.97Z" fill="#30d8b0"/><path d="M60.78,248.29 C61.01,247.19 61.43,246.22 61.95,245.56 C62.47,244.91 63.12,244.56 63.90,244.40 C64.68,244.23 65.92,244.27 66.63,244.59 C67.35,244.91 67.80,245.53 68.19,246.34 C68.58,247.16 68.88,248.43 68.97,249.47 C69.07,250.50 69.04,251.68 68.78,252.59 C68.52,253.50 67.97,254.15 67.41,254.93 C66.86,255.71 66.05,256.65 65.46,257.26 C64.88,257.88 64.42,258.47 63.90,258.63 C63.38,258.79 62.80,258.73 62.34,258.24 C61.89,257.75 61.47,256.71 61.17,255.71 C60.88,254.70 60.65,253.43 60.59,252.19 C60.52,250.96 60.56,249.40 60.78,248.29Z" fill="#70e040"/><path d="M61.72,249.34 C61.88,248.55 62.19,247.85 62.56,247.38 C62.93,246.91 63.40,246.66 63.96,246.54 C64.52,246.42 65.41,246.45 65.92,246.68 C66.43,246.91 66.76,247.36 67.04,247.94 C67.32,248.52 67.53,249.43 67.60,250.18 C67.67,250.93 67.65,251.77 67.46,252.42 C67.27,253.07 66.88,253.54 66.48,254.10 C66.08,254.66 65.50,255.34 65.08,255.78 C64.66,256.22 64.33,256.64 63.96,256.76 C63.59,256.88 63.17,256.83 62.84,256.48 C62.51,256.13 62.21,255.38 62.00,254.66 C61.79,253.94 61.63,253.03 61.58,252.14 C61.53,251.25 61.56,250.13 61.72,249.34Z" fill="#e0e020"/><path d="M62.57,250.29 C62.67,249.78 62.87,249.33 63.11,249.03 C63.35,248.73 63.65,248.56 64.01,248.49 C64.37,248.42 64.94,248.43 65.27,248.58 C65.60,248.73 65.81,249.01 65.99,249.39 C66.17,249.76 66.30,250.35 66.35,250.83 C66.39,251.31 66.38,251.85 66.26,252.27 C66.14,252.69 65.88,252.99 65.63,253.35 C65.38,253.71 65.00,254.15 64.73,254.43 C64.46,254.72 64.25,254.99 64.01,255.06 C63.77,255.13 63.50,255.10 63.29,254.88 C63.08,254.66 62.88,254.18 62.75,253.71 C62.61,253.25 62.51,252.66 62.48,252.09 C62.45,251.52 62.46,250.80 62.57,250.29Z" fill="#f08010"/><path d="M63.25,251.05 C63.31,250.77 63.42,250.52 63.55,250.35 C63.68,250.18 63.85,250.09 64.05,250.05 C64.25,250.01 64.57,250.02 64.75,250.10 C64.93,250.18 65.05,250.34 65.15,250.55 C65.25,250.76 65.32,251.08 65.35,251.35 C65.38,251.62 65.37,251.92 65.30,252.15 C65.23,252.38 65.09,252.55 64.95,252.75 C64.81,252.95 64.60,253.19 64.45,253.35 C64.30,253.51 64.18,253.66 64.05,253.70 C63.92,253.74 63.77,253.72 63.65,253.60 C63.53,253.47 63.42,253.21 63.35,252.95 C63.27,252.69 63.22,252.37 63.20,252.05 C63.18,251.73 63.19,251.33 63.25,251.05Z" fill="#e82010"/></g>
</g>
<rect x="51.50" y="224.30" width="55.90" height="47.20" fill="none" stroke="#d890d8" stroke-width="0.6"/>
<line x1="51.50" y1="243.40" x2="107.40" y2="243.40" stroke="#c62ec6" stroke-width="1.1"/>
<line x1="51.50" y1="256.20" x2="107.40" y2="256.20" stroke="#c62ec6" stroke-width="1.1"/>
<text x="112.50" y="236.85" font-size="6.3" font-weight="bold" text-anchor="end" fill="#c62ec6">5.88</text>
<text x="112.50" y="252.10" font-size="6.3" font-weight="bold" text-anchor="end" fill="#c62ec6">71.9</text>
<text x="112.50" y="266.45" font-size="6.3" font-weight="bold" text-anchor="end" fill="#c62ec6">17.4</text>
<line x1="50.80" y1="283.80" x2="50.80" y2="345.00" stroke="#999" stroke-width="0.6"/>
<line x1="50.80" y1="345.00" x2="112.00" y2="345.00" stroke="#444" stroke-width="0.6"/>
<text x="47.80" y="287.80" font-size="4.2" font-weight="bold" text-anchor="end" fill="#222">10</text>
<text x="47.80" y="299.40" font-size="4.2" font-weight="bold" text-anchor="end" fill="#222">10</text>
<text x="47.80" y="313.30" font-size="4.2" font-weight="bold" text-anchor="end" fill="#222">10</text>
<text x="47.80" y="327.10" font-size="4.2" font-weight="bold" text-anchor="end" fill="#222">10</text>
<text x="47.80" y="340.20" font-size="4.2" font-weight="bold" text-anchor="end" fill="#222">0</text>
<text x="64.60" y="350.20" font-size="4.2" font-weight="bold" text-anchor="middle" fill="#222">0 10</text>
<text x="81.50" y="350.20" font-size="4.2" font-weight="bold" text-anchor="middle" fill="#222">10</text>
<text x="95.40" y="350.20" font-size="4.2" font-weight="bold" text-anchor="middle" fill="#222">10</text>
<text x="107.70" y="350.20" font-size="4.2" font-weight="bold" text-anchor="middle" fill="#222">10</text>
<g fill="#666" opacity="0.35"><circle cx="84.3" cy="324.5" r="0.38"/><circle cx="91.6" cy="317.4" r="0.38"/><circle cx="87.1" cy="313.7" r="0.38"/><circle cx="87.5" cy="311.8" r="0.38"/><circle cx="73.6" cy="307.5" r="0.38"/><circle cx="69.4" cy="313.5" r="0.38"/><circle cx="87.3" cy="320.6" r="0.38"/><circle cx="86.8" cy="313.7" r="0.38"/><circle cx="88.4" cy="312.3" r="0.38"/><circle cx="62.6" cy="317.7" r="0.38"/><circle cx="77.0" cy="313.5" r="0.38"/><circle cx="79.0" cy="327.2" r="0.38"/><circle cx="93.4" cy="314.5" r="0.38"/><circle cx="70.1" cy="316.9" r="0.38"/><circle cx="72.5" cy="318.3" r="0.38"/><circle cx="66.1" cy="311.9" r="0.38"/><circle cx="91.3" cy="308.0" r="0.38"/><circle cx="82.9" cy="313.2" r="0.38"/><circle cx="91.5" cy="309.9" r="0.38"/><circle cx="88.9" cy="323.1" r="0.38"/><circle cx="66.4" cy="308.0" r="0.38"/><circle cx="86.6" cy="309.0" r="0.38"/><circle cx="67.9" cy="319.8" r="0.38"/><circle cx="91.8" cy="318.2" r="0.38"/><circle cx="93.1" cy="316.2" r="0.38"/><circle cx="73.4" cy="300.1" r="0.38"/><circle cx="87.2" cy="306.9" r="0.38"/><circle cx="82.4" cy="314.5" r="0.38"/><circle cx="68.9" cy="310.7" r="0.38"/><circle cx="100.1" cy="316.5" r="0.38"/><circle cx="65.1" cy="311.4" r="0.38"/><circle cx="82.0" cy="315.5" r="0.38"/><circle cx="89.7" cy="312.1" r="0.38"/><circle cx="79.5" cy="317.0" r="0.38"/><circle cx="67.0" cy="318.4" r="0.38"/><circle cx="85.4" cy="309.8" r="0.38"/><circle cx="75.8" cy="313.6" r="0.38"/><circle cx="66.5" cy="300.2" r="0.38"/><circle cx="85.7" cy="319.9" r="0.38"/><circle cx="80.1" cy="312.6" r="0.38"/><circle cx="81.4" cy="307.2" r="0.38"/><circle cx="85.7" cy="316.5" r="0.38"/><circle cx="81.8" cy="316.9" r="0.38"/><circle cx="70.8" cy="313.5" r="0.38"/><circle cx="73.6" cy="309.6" r="0.38"/><circle cx="84.1" cy="313.0" r="0.38"/><circle cx="90.1" cy="315.6" r="0.38"/><circle cx="69.0" cy="318.8" r="0.38"/><circle cx="64.9" cy="311.6" r="0.38"/><circle cx="84.2" cy="311.6" r="0.38"/><circle cx="86.1" cy="312.1" r="0.38"/><circle cx="70.7" cy="316.1" r="0.38"/><circle cx="80.2" cy="307.2" r="0.38"/><circle cx="81.3" cy="311.7" r="0.38"/><circle cx="84.1" cy="308.9" r="0.38"/><circle cx="82.4" cy="310.9" r="0.38"/><circle cx="97.1" cy="310.0" r="0.38"/><circle cx="93.7" cy="311.4" r="0.38"/><circle cx="92.2" cy="323.7" r="0.38"/><circle cx="76.7" cy="312.5" r="0.38"/><circle cx="71.4" cy="308.2" r="0.38"/><circle cx="74.9" cy="312.3" r="0.38"/><circle cx="90.1" cy="316.4" r="0.38"/><circle cx="75.6" cy="312.6" r="0.38"/><circle cx="65.7" cy="314.8" r="0.38"/><circle cx="78.2" cy="306.3" r="0.38"/><circle cx="73.2" cy="314.7" r="0.38"/><circle cx="81.6" cy="315.1" r="0.38"/><circle cx="76.1" cy="312.6" r="0.38"/><circle cx="78.2" cy="304.0" r="0.38"/><circle cx="79.0" cy="311.1" r="0.38"/><circle cx="73.6" cy="315.8" r="0.38"/><circle cx="102.4" cy="319.1" r="0.38"/><circle cx="81.0" cy="305.9" r="0.38"/><circle cx="78.7" cy="308.6" r="0.38"/><circle cx="82.2" cy="317.9" r="0.38"/><circle cx="80.1" cy="304.6" r="0.38"/><circle cx="94.4" cy="312.1" r="0.38"/><circle cx="94.5" cy="307.3" r="0.38"/><circle cx="106.0" cy="305.6" r="0.38"/><circle cx="82.0" cy="315.9" r="0.38"/><circle cx="54.4" cy="307.8" r="0.38"/><circle cx="64.4" cy="320.5" r="0.38"/><circle cx="87.7" cy="306.9" r="0.38"/><circle cx="62.9" cy="302.9" r="0.38"/><circle cx="82.3" cy="307.7" r="0.38"/><circle cx="84.3" cy="309.1" r="0.38"/><circle cx="63.3" cy="321.0" r="0.38"/><circle cx="85.6" cy="308.3" r="0.38"/><circle cx="77.1" cy="318.5" r="0.38"/><circle cx="88.9" cy="305.5" r="0.38"/><circle cx="95.5" cy="308.6" r="0.38"/><circle cx="86.5" cy="305.7" r="0.38"/><circle cx="73.8" cy="315.8" r="0.38"/><circle cx="68.4" cy="312.2" r="0.38"/><circle cx="84.8" cy="308.4" r="0.38"/><circle cx="95.4" cy="315.2" r="0.38"/><circle cx="79.2" cy="317.0" r="0.38"/><circle cx="94.5" cy="318.1" r="0.38"/><circle cx="79.4" cy="315.9" r="0.38"/><circle cx="84.6" cy="306.2" r="0.38"/><circle cx="77.0" cy="322.1" r="0.38"/><circle cx="72.5" cy="314.3" r="0.38"/><circle cx="97.9" cy="309.9" r="0.38"/><circle cx="80.5" cy="308.0" r="0.38"/><circle cx="85.8" cy="305.6" r="0.38"/><circle cx="85.2" cy="307.6" r="0.38"/><circle cx="84.0" cy="303.1" r="0.38"/><circle cx="69.5" cy="316.5" r="0.38"/><circle cx="86.6" cy="296.3" r="0.38"/><circle cx="96.0" cy="307.6" r="0.38"/><circle cx="89.6" cy="317.0" r="0.38"/><circle cx="78.9" cy="309.8" r="0.38"/><circle cx="61.0" cy="314.1" r="0.38"/><circle cx="99.5" cy="305.4" r="0.38"/><circle cx="92.0" cy="315.6" r="0.38"/><circle cx="90.2" cy="306.3" r="0.38"/><circle cx="79.4" cy="313.1" r="0.38"/><circle cx="97.9" cy="307.0" r="0.38"/><circle cx="75.2" cy="307.9" r="0.38"/><circle cx="89.3" cy="303.7" r="0.38"/><circle cx="78.5" cy="305.1" r="0.38"/><circle cx="77.1" cy="315.6" r="0.38"/><circle cx="75.0" cy="315.3" r="0.38"/><circle cx="75.7" cy="311.5" r="0.38"/><circle cx="78.9" cy="307.2" r="0.38"/><circle cx="84.7" cy="315.0" r="0.38"/><circle cx="72.4" cy="315.2" r="0.38"/><circle cx="81.5" cy="309.6" r="0.38"/><circle cx="82.0" cy="315.9" r="0.38"/><circle cx="88.0" cy="319.3" r="0.38"/><circle cx="83.1" cy="312.8" r="0.38"/><circle cx="65.3" cy="309.0" r="0.38"/><circle cx="86.4" cy="306.1" r="0.38"/><circle cx="71.0" cy="321.0" r="0.38"/><circle cx="79.6" cy="306.1" r="0.38"/><circle cx="59.0" cy="307.3" r="0.38"/><circle cx="103.7" cy="311.6" r="0.38"/><circle cx="86.6" cy="315.1" r="0.38"/><circle cx="75.5" cy="313.5" r="0.38"/><circle cx="80.9" cy="310.0" r="0.38"/><circle cx="90.7" cy="307.5" r="0.38"/><circle cx="72.8" cy="308.4" r="0.38"/><circle cx="92.7" cy="309.2" r="0.38"/><circle cx="98.6" cy="305.0" r="0.38"/><circle cx="70.4" cy="298.4" r="0.38"/><circle cx="71.1" cy="312.1" r="0.38"/><circle cx="87.4" cy="306.7" r="0.38"/><circle cx="75.1" cy="318.8" r="0.38"/><circle cx="75.4" cy="312.2" r="0.38"/><circle cx="86.8" cy="306.8" r="0.38"/><circle cx="92.8" cy="310.7" r="0.38"/><circle cx="88.2" cy="310.2" r="0.38"/><circle cx="83.1" cy="317.8" r="0.38"/><circle cx="82.6" cy="302.5" r="0.38"/><circle cx="77.5" cy="309.7" r="0.38"/><circle cx="78.5" cy="312.6" r="0.38"/><circle cx="64.0" cy="320.5" r="0.38"/><circle cx="71.7" cy="318.2" r="0.38"/><circle cx="76.6" cy="309.9" r="0.38"/></g>
<g fill="#000" opacity="0.45"><circle cx="67.8" cy="328.9" r="0.42"/><circle cx="68.1" cy="319.0" r="0.42"/><circle cx="60.4" cy="320.2" r="0.42"/><circle cx="82.8" cy="327.9" r="0.42"/><circle cx="82.0" cy="325.8" r="0.42"/><circle cx="74.9" cy="325.0" r="0.42"/><circle cx="52.3" cy="333.1" r="0.42"/><circle cx="76.2" cy="328.8" r="0.42"/><circle cx="52.0" cy="301.9" r="0.42"/><circle cx="60.8" cy="317.2" r="0.42"/><circle cx="74.0" cy="322.2" r="0.42"/><circle cx="76.3" cy="315.1" r="0.42"/><circle cx="74.0" cy="327.5" r="0.42"/><circle cx="63.3" cy="343.4" r="0.42"/><circle cx="76.7" cy="337.2" r="0.42"/><circle cx="63.8" cy="313.9" r="0.42"/><circle cx="66.8" cy="321.5" r="0.42"/><circle cx="77.6" cy="325.8" r="0.42"/><circle cx="65.7" cy="311.3" r="0.42"/><circle cx="64.9" cy="337.5" r="0.42"/><circle cx="61.7" cy="325.7" r="0.42"/><circle cx="75.3" cy="304.9" r="0.42"/><circle cx="71.1" cy="338.5" r="0.42"/><circle cx="48.4" cy="318.9" r="0.42"/><circle cx="69.4" cy="313.0" r="0.42"/><circle cx="76.1" cy="322.1" r="0.42"/><circle cx="54.5" cy="332.7" r="0.42"/><circle cx="78.0" cy="334.2" r="0.42"/><circle cx="86.4" cy="327.1" r="0.42"/><circle cx="71.9" cy="307.2" r="0.42"/><circle cx="77.4" cy="315.5" r="0.42"/><circle cx="65.6" cy="307.6" r="0.42"/><circle cx="60.0" cy="316.4" r="0.42"/><circle cx="84.8" cy="298.4" r="0.42"/><circle cx="54.6" cy="325.7" r="0.42"/><circle cx="86.5" cy="329.7" r="0.42"/><circle cx="49.7" cy="292.6" r="0.42"/><circle cx="74.5" cy="314.0" r="0.42"/><circle cx="58.3" cy="334.5" r="0.42"/><circle cx="82.7" cy="324.7" r="0.42"/><circle cx="73.3" cy="328.0" r="0.42"/><circle cx="88.1" cy="330.2" r="0.42"/><circle cx="76.3" cy="329.4" r="0.42"/><circle cx="53.3" cy="338.2" r="0.42"/><circle cx="81.1" cy="329.2" r="0.42"/><circle cx="48.9" cy="315.2" r="0.42"/><circle cx="79.9" cy="301.1" r="0.42"/><circle cx="68.6" cy="335.0" r="0.42"/><circle cx="56.2" cy="342.1" r="0.42"/><circle cx="76.7" cy="321.0" r="0.42"/><circle cx="74.2" cy="330.6" r="0.42"/><circle cx="71.9" cy="336.5" r="0.42"/><circle cx="63.3" cy="317.8" r="0.42"/><circle cx="82.1" cy="323.1" r="0.42"/><circle cx="60.9" cy="334.2" r="0.42"/><circle cx="86.7" cy="317.5" r="0.42"/><circle cx="55.4" cy="321.2" r="0.42"/><circle cx="69.0" cy="319.2" r="0.42"/><circle cx="86.1" cy="310.5" r="0.42"/><circle cx="84.5" cy="307.6" r="0.42"/><circle cx="61.9" cy="330.4" r="0.42"/><circle cx="83.0" cy="333.1" r="0.42"/><circle cx="74.4" cy="324.5" r="0.42"/><circle cx="72.3" cy="329.7" r="0.42"/><circle cx="68.7" cy="326.1" r="0.42"/><circle cx="76.9" cy="322.8" r="0.42"/><circle cx="79.0" cy="329.6" r="0.42"/><circle cx="92.7" cy="326.7" r="0.42"/><circle cx="65.9" cy="318.3" r="0.42"/><circle cx="70.5" cy="333.9" r="0.42"/><circle cx="66.9" cy="327.4" r="0.42"/><circle cx="90.8" cy="292.0" r="0.42"/><circle cx="58.2" cy="325.7" r="0.42"/><circle cx="75.0" cy="325.7" r="0.42"/><circle cx="65.9" cy="330.7" r="0.42"/><circle cx="73.7" cy="316.5" r="0.42"/><circle cx="97.3" cy="327.1" r="0.42"/><circle cx="64.5" cy="321.6" r="0.42"/><circle cx="68.1" cy="322.0" r="0.42"/><circle cx="40.6" cy="317.0" r="0.42"/><circle cx="81.7" cy="308.8" r="0.42"/><circle cx="69.9" cy="334.2" r="0.42"/><circle cx="80.0" cy="340.7" r="0.42"/><circle cx="51.9" cy="318.6" r="0.42"/><circle cx="66.8" cy="330.3" r="0.42"/><circle cx="82.6" cy="290.6" r="0.42"/><circle cx="82.6" cy="305.4" r="0.42"/><circle cx="78.1" cy="304.9" r="0.42"/><circle cx="72.5" cy="337.1" r="0.42"/><circle cx="69.0" cy="325.1" r="0.42"/><circle cx="79.4" cy="324.5" r="0.42"/><circle cx="69.6" cy="341.2" r="0.42"/><circle cx="82.1" cy="319.3" r="0.42"/><circle cx="100.8" cy="309.0" r="0.42"/><circle cx="80.7" cy="319.6" r="0.42"/><circle cx="72.1" cy="331.3" r="0.42"/><circle cx="73.0" cy="330.5" r="0.42"/><circle cx="53.8" cy="304.7" r="0.42"/><circle cx="77.4" cy="311.2" r="0.42"/><circle cx="59.3" cy="305.2" r="0.42"/><circle cx="84.5" cy="331.8" r="0.42"/><circle cx="86.8" cy="311.5" r="0.42"/><circle cx="70.6" cy="309.1" r="0.42"/><circle cx="79.0" cy="341.9" r="0.42"/><circle cx="60.8" cy="341.5" r="0.42"/><circle cx="81.5" cy="320.7" r="0.42"/><circle cx="48.9" cy="339.7" r="0.42"/><circle cx="69.5" cy="315.6" r="0.42"/><circle cx="75.0" cy="327.7" r="0.42"/><circle cx="87.1" cy="310.6" r="0.42"/><circle cx="83.1" cy="340.6" r="0.42"/><circle cx="86.6" cy="320.6" r="0.42"/><circle cx="62.4" cy="335.0" r="0.42"/><circle cx="71.9" cy="324.3" r="0.42"/><circle cx="86.3" cy="319.6" r="0.42"/><circle cx="45.3" cy="318.2" r="0.42"/><circle cx="50.2" cy="332.6" r="0.42"/><circle cx="74.1" cy="315.5" r="0.42"/><circle cx="70.5" cy="332.8" r="0.42"/><circle cx="71.5" cy="338.7" r="0.42"/><circle cx="69.9" cy="335.3" r="0.42"/><circle cx="87.0" cy="342.1" r="0.42"/><circle cx="63.2" cy="333.4" r="0.42"/><circle cx="50.0" cy="309.8" r="0.42"/><circle cx="49.0" cy="335.6" r="0.42"/><circle cx="57.0" cy="322.6" r="0.42"/><circle cx="68.5" cy="322.5" r="0.42"/><circle cx="64.1" cy="325.6" r="0.42"/><circle cx="90.3" cy="323.3" r="0.42"/><circle cx="76.4" cy="334.8" r="0.42"/><circle cx="68.4" cy="307.7" r="0.42"/><circle cx="64.5" cy="335.7" r="0.42"/><circle cx="52.5" cy="315.6" r="0.42"/><circle cx="81.7" cy="332.3" r="0.42"/><circle cx="70.7" cy="332.5" r="0.42"/><circle cx="72.4" cy="308.7" r="0.42"/><circle cx="53.4" cy="315.1" r="0.42"/><circle cx="80.8" cy="316.0" r="0.42"/><circle cx="60.7" cy="313.5" r="0.42"/><circle cx="53.8" cy="321.4" r="0.42"/><circle cx="57.6" cy="327.2" r="0.42"/><circle cx="44.6" cy="326.7" r="0.42"/><circle cx="63.5" cy="299.5" r="0.42"/><circle cx="78.6" cy="319.5" r="0.42"/><circle cx="46.1" cy="312.3" r="0.42"/><circle cx="73.8" cy="317.3" r="0.42"/><circle cx="79.2" cy="331.8" r="0.42"/><circle cx="77.9" cy="326.7" r="0.42"/><circle cx="85.3" cy="330.7" r="0.42"/><circle cx="75.6" cy="297.8" r="0.42"/><circle cx="80.5" cy="338.5" r="0.42"/><circle cx="67.3" cy="317.2" r="0.42"/><circle cx="91.9" cy="301.7" r="0.42"/><circle cx="75.8" cy="351.9" r="0.42"/><circle cx="60.4" cy="331.1" r="0.42"/><circle cx="91.4" cy="321.4" r="0.42"/><circle cx="76.8" cy="333.6" r="0.42"/><circle cx="60.6" cy="321.7" r="0.42"/><circle cx="73.8" cy="332.7" r="0.42"/><circle cx="70.2" cy="320.5" r="0.42"/><circle cx="59.4" cy="318.5" r="0.42"/><circle cx="80.4" cy="324.0" r="0.42"/><circle cx="61.2" cy="312.7" r="0.42"/><circle cx="99.9" cy="336.5" r="0.42"/><circle cx="77.6" cy="291.7" r="0.42"/><circle cx="77.4" cy="328.6" r="0.42"/><circle cx="89.1" cy="327.9" r="0.42"/><circle cx="69.9" cy="329.1" r="0.42"/><circle cx="49.2" cy="335.2" r="0.42"/><circle cx="74.2" cy="314.4" r="0.42"/><circle cx="85.2" cy="344.5" r="0.42"/><circle cx="55.2" cy="314.8" r="0.42"/><circle cx="73.8" cy="325.0" r="0.42"/><circle cx="66.2" cy="311.1" r="0.42"/><circle cx="93.9" cy="335.2" r="0.42"/><circle cx="57.5" cy="306.7" r="0.42"/><circle cx="89.3" cy="334.7" r="0.42"/><circle cx="90.6" cy="332.5" r="0.42"/><circle cx="61.0" cy="325.9" r="0.42"/><circle cx="46.8" cy="313.8" r="0.42"/><circle cx="70.0" cy="329.1" r="0.42"/><circle cx="62.6" cy="321.3" r="0.42"/><circle cx="75.6" cy="327.3" r="0.42"/><circle cx="77.6" cy="325.3" r="0.42"/><circle cx="67.0" cy="332.3" r="0.42"/><circle cx="71.1" cy="312.9" r="0.42"/><circle cx="63.7" cy="322.8" r="0.42"/><circle cx="69.4" cy="324.7" r="0.42"/><circle cx="70.6" cy="324.9" r="0.42"/><circle cx="69.1" cy="307.7" r="0.42"/><circle cx="75.2" cy="335.4" r="0.42"/><circle cx="75.4" cy="320.5" r="0.42"/><circle cx="75.5" cy="311.2" r="0.42"/><circle cx="49.7" cy="323.5" r="0.42"/><circle cx="60.4" cy="331.7" r="0.42"/><circle cx="58.7" cy="291.3" r="0.42"/><circle cx="59.2" cy="341.7" r="0.42"/><circle cx="66.4" cy="306.4" r="0.42"/><circle cx="62.2" cy="329.1" r="0.42"/><circle cx="76.1" cy="324.9" r="0.42"/><circle cx="86.9" cy="331.3" r="0.42"/><circle cx="70.4" cy="330.0" r="0.42"/><circle cx="88.8" cy="334.5" r="0.42"/><circle cx="81.9" cy="309.8" r="0.42"/><circle cx="69.0" cy="331.6" r="0.42"/><circle cx="67.3" cy="335.6" r="0.42"/><circle cx="77.2" cy="333.7" r="0.42"/><circle cx="68.3" cy="353.4" r="0.42"/><circle cx="84.2" cy="320.2" r="0.42"/><circle cx="71.6" cy="353.9" r="0.42"/><circle cx="66.8" cy="333.3" r="0.42"/><circle cx="81.4" cy="322.9" r="0.42"/><circle cx="57.8" cy="325.1" r="0.42"/><circle cx="74.6" cy="336.4" r="0.42"/><circle cx="79.2" cy="323.1" r="0.42"/><circle cx="80.0" cy="329.3" r="0.42"/><circle cx="72.9" cy="323.5" r="0.42"/><circle cx="67.9" cy="331.0" r="0.42"/><circle cx="59.0" cy="315.3" r="0.42"/><circle cx="70.7" cy="305.2" r="0.42"/><circle cx="65.8" cy="298.7" r="0.42"/><circle cx="63.1" cy="329.6" r="0.42"/><circle cx="76.8" cy="322.1" r="0.42"/><circle cx="68.0" cy="305.8" r="0.42"/><circle cx="90.7" cy="329.0" r="0.42"/><circle cx="82.6" cy="312.2" r="0.42"/><circle cx="68.6" cy="301.0" r="0.42"/><circle cx="79.2" cy="334.0" r="0.42"/><circle cx="49.7" cy="322.2" r="0.42"/><circle cx="77.5" cy="301.7" r="0.42"/><circle cx="50.5" cy="310.0" r="0.42"/><circle cx="63.7" cy="306.0" r="0.42"/><circle cx="70.9" cy="325.8" r="0.42"/><circle cx="77.6" cy="331.2" r="0.42"/><circle cx="87.1" cy="336.8" r="0.42"/><circle cx="56.2" cy="316.7" r="0.42"/><circle cx="58.9" cy="309.9" r="0.42"/><circle cx="69.7" cy="322.9" r="0.42"/><circle cx="76.0" cy="303.8" r="0.42"/><circle cx="57.0" cy="322.5" r="0.42"/><circle cx="68.4" cy="319.1" r="0.42"/><circle cx="69.9" cy="313.7" r="0.42"/><circle cx="78.3" cy="327.1" r="0.42"/><circle cx="69.6" cy="314.7" r="0.42"/><circle cx="68.7" cy="290.1" r="0.42"/><circle cx="59.8" cy="323.2" r="0.42"/><circle cx="54.1" cy="325.2" r="0.42"/><circle cx="72.2" cy="306.3" r="0.42"/><circle cx="67.8" cy="319.0" r="0.42"/><circle cx="75.7" cy="330.1" r="0.42"/><circle cx="70.2" cy="312.6" r="0.42"/><circle cx="69.0" cy="322.0" r="0.42"/><circle cx="78.7" cy="326.3" r="0.42"/><circle cx="62.7" cy="306.5" r="0.42"/><circle cx="66.5" cy="313.9" r="0.42"/><circle cx="58.4" cy="321.4" r="0.42"/><circle cx="65.2" cy="324.1" r="0.42"/><circle cx="76.4" cy="317.8" r="0.42"/><circle cx="96.2" cy="318.9" r="0.42"/><circle cx="82.7" cy="324.3" r="0.42"/><circle cx="82.9" cy="294.3" r="0.42"/><circle cx="62.3" cy="325.8" r="0.42"/><circle cx="77.2" cy="350.8" r="0.42"/><circle cx="74.1" cy="338.2" r="0.42"/><circle cx="79.0" cy="334.2" r="0.42"/><circle cx="76.2" cy="320.9" r="0.42"/><circle cx="76.2" cy="309.9" r="0.42"/><circle cx="83.6" cy="310.6" r="0.42"/><circle cx="73.3" cy="348.2" r="0.42"/><circle cx="68.1" cy="323.0" r="0.42"/><circle cx="83.4" cy="323.1" r="0.42"/><circle cx="61.7" cy="325.9" r="0.42"/><circle cx="77.0" cy="331.3" r="0.42"/><circle cx="62.1" cy="343.8" r="0.42"/><circle cx="88.9" cy="323.0" r="0.42"/><circle cx="73.6" cy="317.7" r="0.42"/><circle cx="86.2" cy="314.3" r="0.42"/><circle cx="78.0" cy="317.0" r="0.42"/><circle cx="63.0" cy="331.4" r="0.42"/><circle cx="85.3" cy="322.7" r="0.42"/><circle cx="63.1" cy="332.5" r="0.42"/><circle cx="70.1" cy="326.5" r="0.42"/><circle cx="87.4" cy="336.4" r="0.42"/><circle cx="64.9" cy="350.2" r="0.42"/><circle cx="70.6" cy="332.2" r="0.42"/><circle cx="63.5" cy="322.3" r="0.42"/><circle cx="51.4" cy="344.2" r="0.42"/><circle cx="85.6" cy="308.2" r="0.42"/><circle cx="54.0" cy="303.3" r="0.42"/><circle cx="83.5" cy="317.3" r="0.42"/><circle cx="69.9" cy="319.0" r="0.42"/><circle cx="69.3" cy="309.7" r="0.42"/><circle cx="70.9" cy="305.5" r="0.42"/><circle cx="69.8" cy="326.5" r="0.42"/><circle cx="75.7" cy="320.0" r="0.42"/><circle cx="60.7" cy="324.7" r="0.42"/><circle cx="65.3" cy="341.6" r="0.42"/><circle cx="79.0" cy="321.4" r="0.42"/><circle cx="65.4" cy="314.4" r="0.42"/><circle cx="60.3" cy="318.6" r="0.42"/><circle cx="73.8" cy="329.0" r="0.42"/><circle cx="76.9" cy="348.0" r="0.42"/><circle cx="62.8" cy="323.0" r="0.42"/><circle cx="101.3" cy="300.4" r="0.42"/><circle cx="64.9" cy="324.8" r="0.42"/><circle cx="72.3" cy="327.7" r="0.42"/><circle cx="68.0" cy="327.2" r="0.42"/><circle cx="71.2" cy="332.1" r="0.42"/><circle cx="49.8" cy="312.2" r="0.42"/><circle cx="70.6" cy="310.4" r="0.42"/><circle cx="59.1" cy="330.3" r="0.42"/><circle cx="63.5" cy="330.4" r="0.42"/><circle cx="78.8" cy="326.5" r="0.42"/><circle cx="76.2" cy="321.5" r="0.42"/><circle cx="55.1" cy="322.4" r="0.42"/><circle cx="75.6" cy="316.4" r="0.42"/><circle cx="69.5" cy="331.8" r="0.42"/><circle cx="60.9" cy="330.5" r="0.42"/><circle cx="91.1" cy="316.1" r="0.42"/><circle cx="72.2" cy="321.0" r="0.42"/><circle cx="87.5" cy="326.6" r="0.42"/><circle cx="80.5" cy="314.5" r="0.42"/><circle cx="70.4" cy="322.7" r="0.42"/><circle cx="51.1" cy="340.1" r="0.42"/><circle cx="80.5" cy="301.8" r="0.42"/><circle cx="78.8" cy="321.2" r="0.42"/><circle cx="75.5" cy="327.2" r="0.42"/><circle cx="54.1" cy="320.3" r="0.42"/><circle cx="87.0" cy="315.9" r="0.42"/><circle cx="59.3" cy="306.5" r="0.42"/><circle cx="57.2" cy="326.8" r="0.42"/><circle cx="89.2" cy="328.0" r="0.42"/><circle cx="73.3" cy="349.6" r="0.42"/><circle cx="64.9" cy="314.7" r="0.42"/><circle cx="76.4" cy="329.4" r="0.42"/><circle cx="59.4" cy="308.8" r="0.42"/><circle cx="73.8" cy="325.8" r="0.42"/><circle cx="56.2" cy="320.4" r="0.42"/><circle cx="64.6" cy="328.3" r="0.42"/><circle cx="69.3" cy="321.8" r="0.42"/><circle cx="66.7" cy="335.4" r="0.42"/><circle cx="85.9" cy="318.4" r="0.42"/><circle cx="79.9" cy="313.7" r="0.42"/><circle cx="71.4" cy="331.8" r="0.42"/><circle cx="87.3" cy="318.2" r="0.42"/><circle cx="69.8" cy="325.2" r="0.42"/><circle cx="54.1" cy="323.0" r="0.42"/><circle cx="63.2" cy="327.3" r="0.42"/><circle cx="58.2" cy="299.1" r="0.42"/><circle cx="71.0" cy="325.9" r="0.42"/><circle cx="64.6" cy="333.5" r="0.42"/><circle cx="67.6" cy="315.5" r="0.42"/><circle cx="75.9" cy="304.0" r="0.42"/><circle cx="63.1" cy="322.6" r="0.42"/><circle cx="79.9" cy="320.8" r="0.42"/><circle cx="74.0" cy="314.9" r="0.42"/><circle cx="73.9" cy="342.8" r="0.42"/><circle cx="63.0" cy="351.2" r="0.42"/><circle cx="63.5" cy="323.0" r="0.42"/><circle cx="72.5" cy="335.1" r="0.42"/><circle cx="57.0" cy="297.6" r="0.42"/><circle cx="77.3" cy="332.3" r="0.42"/><circle cx="77.5" cy="354.4" r="0.42"/><circle cx="72.9" cy="325.8" r="0.42"/><circle cx="80.8" cy="327.2" r="0.42"/><circle cx="88.9" cy="307.9" r="0.42"/><circle cx="66.5" cy="281.5" r="0.42"/><circle cx="79.5" cy="318.3" r="0.42"/><circle cx="80.8" cy="348.6" r="0.42"/><circle cx="70.5" cy="319.7" r="0.42"/><circle cx="65.1" cy="312.7" r="0.42"/><circle cx="63.7" cy="330.5" r="0.42"/><circle cx="71.0" cy="323.6" r="0.42"/><circle cx="68.7" cy="333.8" r="0.42"/><circle cx="76.0" cy="321.1" r="0.42"/><circle cx="77.9" cy="321.0" r="0.42"/><circle cx="57.9" cy="340.3" r="0.42"/><circle cx="75.7" cy="311.3" r="0.42"/><circle cx="82.5" cy="326.9" r="0.42"/><circle cx="53.4" cy="342.1" r="0.42"/><circle cx="74.3" cy="333.5" r="0.42"/><circle cx="72.8" cy="321.0" r="0.42"/><circle cx="53.6" cy="334.5" r="0.42"/><circle cx="70.9" cy="319.4" r="0.42"/><circle cx="74.5" cy="323.7" r="0.42"/><circle cx="78.0" cy="318.3" r="0.42"/><circle cx="70.2" cy="297.1" r="0.42"/><circle cx="65.9" cy="330.9" r="0.42"/><circle cx="85.3" cy="318.4" r="0.42"/><circle cx="69.3" cy="341.8" r="0.42"/><circle cx="67.0" cy="331.6" r="0.42"/><circle cx="89.1" cy="323.3" r="0.42"/><circle cx="84.1" cy="314.3" r="0.42"/><circle cx="72.9" cy="321.9" r="0.42"/><circle cx="71.9" cy="336.4" r="0.42"/><circle cx="96.9" cy="314.8" r="0.42"/><circle cx="64.3" cy="328.8" r="0.42"/><circle cx="59.0" cy="328.8" r="0.42"/><circle cx="76.9" cy="319.5" r="0.42"/><circle cx="76.4" cy="304.2" r="0.42"/><circle cx="79.0" cy="304.3" r="0.42"/><circle cx="62.9" cy="316.1" r="0.42"/><circle cx="66.2" cy="333.1" r="0.42"/><circle cx="71.5" cy="318.0" r="0.42"/><circle cx="76.6" cy="341.8" r="0.42"/><circle cx="70.7" cy="327.2" r="0.42"/><circle cx="84.2" cy="326.0" r="0.42"/><circle cx="56.5" cy="352.7" r="0.42"/><circle cx="94.9" cy="299.0" r="0.42"/><circle cx="70.2" cy="327.8" r="0.42"/><circle cx="81.2" cy="330.8" r="0.42"/><circle cx="67.6" cy="310.2" r="0.42"/><circle cx="71.7" cy="335.2" r="0.42"/><circle cx="58.6" cy="310.5" r="0.42"/><circle cx="70.3" cy="299.6" r="0.42"/><circle cx="67.7" cy="317.6" r="0.42"/><circle cx="75.6" cy="314.4" r="0.42"/><circle cx="60.9" cy="318.1" r="0.42"/><circle cx="70.1" cy="314.8" r="0.42"/><circle cx="70.7" cy="331.8" r="0.42"/><circle cx="83.6" cy="343.3" r="0.42"/><circle cx="62.0" cy="317.8" r="0.42"/><circle cx="43.3" cy="345.6" r="0.42"/><circle cx="62.6" cy="322.4" r="0.42"/><circle cx="76.3" cy="306.5" r="0.42"/><circle cx="75.7" cy="322.5" r="0.42"/><circle cx="50.5" cy="326.3" r="0.42"/><circle cx="83.7" cy="300.4" r="0.42"/><circle cx="79.5" cy="325.3" r="0.42"/><circle cx="75.8" cy="328.1" r="0.42"/><circle cx="84.9" cy="320.1" r="0.42"/><circle cx="80.2" cy="317.9" r="0.42"/><circle cx="78.6" cy="313.0" r="0.42"/><circle cx="69.4" cy="343.6" r="0.42"/><circle cx="75.5" cy="320.9" r="0.42"/><circle cx="58.0" cy="313.3" r="0.42"/><circle cx="72.7" cy="334.1" r="0.42"/><circle cx="75.3" cy="329.1" r="0.42"/><circle cx="70.1" cy="339.0" r="0.42"/><circle cx="66.3" cy="316.2" r="0.42"/><circle cx="80.4" cy="323.6" r="0.42"/><circle cx="67.5" cy="315.9" r="0.42"/><circle cx="67.8" cy="330.3" r="0.42"/><circle cx="74.5" cy="308.3" r="0.42"/><circle cx="75.3" cy="324.9" r="0.42"/><circle cx="59.6" cy="332.1" r="0.42"/><circle cx="67.5" cy="318.8" r="0.42"/><circle cx="79.4" cy="338.6" r="0.42"/><circle cx="63.0" cy="328.1" r="0.42"/><circle cx="61.0" cy="350.6" r="0.42"/><circle cx="65.2" cy="337.1" r="0.42"/><circle cx="63.5" cy="332.5" r="0.42"/><circle cx="95.0" cy="292.3" r="0.42"/><circle cx="65.8" cy="328.8" r="0.42"/><circle cx="69.6" cy="314.8" r="0.42"/><circle cx="94.3" cy="323.8" r="0.42"/><circle cx="52.5" cy="333.0" r="0.42"/><circle cx="51.7" cy="336.6" r="0.42"/><circle cx="64.2" cy="324.5" r="0.42"/><circle cx="84.5" cy="324.2" r="0.42"/><circle cx="55.3" cy="302.4" r="0.42"/><circle cx="83.6" cy="331.7" r="0.42"/><circle cx="61.6" cy="333.1" r="0.42"/><circle cx="76.1" cy="330.6" r="0.42"/><circle cx="45.8" cy="319.2" r="0.42"/><circle cx="80.5" cy="331.6" r="0.42"/><circle cx="80.3" cy="293.3" r="0.42"/><circle cx="72.5" cy="328.7" r="0.42"/><circle cx="98.7" cy="311.4" r="0.42"/><circle cx="67.0" cy="323.2" r="0.42"/><circle cx="80.3" cy="317.5" r="0.42"/><circle cx="83.2" cy="313.3" r="0.42"/><circle cx="73.5" cy="316.5" r="0.42"/><circle cx="72.3" cy="314.5" r="0.42"/><circle cx="53.0" cy="335.9" r="0.42"/><circle cx="73.9" cy="316.1" r="0.42"/><circle cx="72.8" cy="334.7" r="0.42"/><circle cx="59.8" cy="321.5" r="0.42"/><circle cx="76.5" cy="329.1" r="0.42"/><circle cx="66.9" cy="297.5" r="0.42"/><circle cx="84.3" cy="326.7" r="0.42"/><circle cx="70.7" cy="319.5" r="0.42"/><circle cx="73.5" cy="317.7" r="0.42"/><circle cx="59.3" cy="313.9" r="0.42"/><circle cx="64.0" cy="315.5" r="0.42"/><circle cx="57.9" cy="330.4" r="0.42"/><circle cx="56.2" cy="330.7" r="0.42"/><circle cx="59.4" cy="327.0" r="0.42"/><circle cx="85.7" cy="325.2" r="0.42"/><circle cx="62.6" cy="323.4" r="0.42"/><circle cx="72.2" cy="302.0" r="0.42"/><circle cx="63.9" cy="324.8" r="0.42"/><circle cx="65.4" cy="323.8" r="0.42"/><circle cx="78.7" cy="332.0" r="0.42"/><circle cx="80.6" cy="329.9" r="0.42"/><circle cx="67.4" cy="322.6" r="0.42"/><circle cx="67.6" cy="319.0" r="0.42"/><circle cx="68.6" cy="302.1" r="0.42"/><circle cx="66.9" cy="322.5" r="0.42"/><circle cx="59.9" cy="322.5" r="0.42"/></g>
<g filter="url(#wob)">
<g filter="url(#bl60)"><path d="M53.10,315.80 C53.60,312.63 54.18,310.55 55.60,308.80 C57.02,307.05 59.27,305.92 61.60,305.30 C63.93,304.68 67.27,304.52 69.60,305.10 C71.93,305.68 73.93,307.02 75.60,308.80 C77.27,310.58 78.60,313.47 79.60,315.80 C80.60,318.13 81.35,320.47 81.60,322.80 C81.85,325.13 81.93,327.80 81.10,329.80 C80.27,331.80 78.35,332.97 76.60,334.80 C74.85,336.63 72.60,339.22 70.60,340.80 C68.60,342.38 66.43,343.72 64.60,344.30 C62.77,344.88 61.27,345.38 59.60,344.30 C57.93,343.22 55.77,340.55 54.60,337.80 C53.43,335.05 52.85,331.47 52.60,327.80 C52.35,324.13 52.60,318.97 53.10,315.80Z" fill="#000000"/></g>
</g>
<g filter="url(#wob)">
<g filter="url(#bl45)"><path d="M55.60,316.80 C56.18,313.97 57.27,311.47 58.60,309.80 C59.93,308.13 61.60,307.22 63.60,306.80 C65.60,306.38 68.77,306.47 70.60,307.30 C72.43,308.13 73.60,309.72 74.60,311.80 C75.60,313.88 76.35,317.13 76.60,319.80 C76.85,322.47 76.77,325.47 76.10,327.80 C75.43,330.13 74.02,331.80 72.60,333.80 C71.18,335.80 69.10,338.22 67.60,339.80 C66.10,341.38 64.93,342.88 63.60,343.30 C62.27,343.72 60.77,343.55 59.60,342.30 C58.43,341.05 57.35,338.38 56.60,335.80 C55.85,333.22 55.27,329.97 55.10,326.80 C54.93,323.63 55.02,319.63 55.60,316.80Z" fill="#1020e0"/><path d="M56.45,317.75 C56.97,315.20 57.95,312.95 59.15,311.45 C60.35,309.95 61.85,309.12 63.65,308.75 C65.45,308.38 68.30,308.45 69.95,309.20 C71.60,309.95 72.65,311.38 73.55,313.25 C74.45,315.12 75.12,318.05 75.35,320.45 C75.57,322.85 75.50,325.55 74.90,327.65 C74.30,329.75 73.03,331.25 71.75,333.05 C70.47,334.85 68.60,337.02 67.25,338.45 C65.90,339.88 64.85,341.23 63.65,341.60 C62.45,341.98 61.10,341.82 60.05,340.70 C59.00,339.57 58.02,337.18 57.35,334.85 C56.67,332.53 56.15,329.60 56.00,326.75 C55.85,323.90 55.92,320.30 56.45,317.75Z" fill="#1a48ec"/><path d="M57.30,318.70 C57.77,316.43 58.63,314.43 59.70,313.10 C60.77,311.77 62.10,311.03 63.70,310.70 C65.30,310.37 67.83,310.43 69.30,311.10 C70.77,311.77 71.70,313.03 72.50,314.70 C73.30,316.37 73.90,318.97 74.10,321.10 C74.30,323.23 74.23,325.63 73.70,327.50 C73.17,329.37 72.03,330.70 70.90,332.30 C69.77,333.90 68.10,335.83 66.90,337.10 C65.70,338.37 64.77,339.57 63.70,339.90 C62.63,340.23 61.43,340.10 60.50,339.10 C59.57,338.10 58.70,335.97 58.10,333.90 C57.50,331.83 57.03,329.23 56.90,326.70 C56.77,324.17 56.83,320.97 57.30,318.70Z" fill="#1e70f0"/><path d="M58.32,319.84 C58.72,317.91 59.45,316.21 60.36,315.08 C61.27,313.95 62.40,313.32 63.76,313.04 C65.12,312.76 67.27,312.81 68.52,313.38 C69.77,313.95 70.56,315.02 71.24,316.44 C71.92,317.86 72.43,320.07 72.60,321.88 C72.77,323.69 72.71,325.73 72.26,327.32 C71.81,328.91 70.84,330.04 69.88,331.40 C68.92,332.76 67.50,334.40 66.48,335.48 C65.46,336.56 64.67,337.58 63.76,337.86 C62.85,338.14 61.83,338.03 61.04,337.18 C60.25,336.33 59.51,334.52 59.00,332.76 C58.49,331.00 58.09,328.79 57.98,326.64 C57.87,324.49 57.92,321.77 58.32,319.84Z" fill="#1aa8ee"/><path d="M59.59,321.26 C59.90,319.76 60.48,318.44 61.18,317.56 C61.89,316.67 62.77,316.19 63.83,315.97 C64.89,315.74 66.57,315.79 67.54,316.23 C68.52,316.67 69.13,317.51 69.66,318.62 C70.19,319.72 70.59,321.44 70.72,322.86 C70.86,324.27 70.81,325.86 70.46,327.10 C70.11,328.33 69.36,329.22 68.60,330.28 C67.85,331.34 66.75,332.62 65.95,333.45 C65.16,334.29 64.54,335.09 63.83,335.31 C63.13,335.53 62.33,335.44 61.71,334.78 C61.10,334.12 60.52,332.70 60.12,331.34 C59.73,329.97 59.42,328.24 59.33,326.56 C59.24,324.89 59.29,322.77 59.59,321.26Z" fill="#30d8b0"/><path d="M60.78,322.60 C61.01,321.49 61.43,320.51 61.95,319.87 C62.47,319.22 63.12,318.86 63.90,318.69 C64.68,318.53 65.92,318.56 66.63,318.89 C67.35,319.21 67.80,319.83 68.19,320.65 C68.58,321.46 68.88,322.73 68.97,323.76 C69.07,324.80 69.04,325.97 68.78,326.88 C68.52,327.80 67.97,328.45 67.41,329.23 C66.86,330.00 66.05,330.95 65.46,331.56 C64.88,332.18 64.42,332.77 63.90,332.93 C63.38,333.09 62.80,333.03 62.34,332.54 C61.89,332.05 61.47,331.01 61.17,330.00 C60.88,329.00 60.65,327.73 60.59,326.50 C60.52,325.26 60.56,323.70 60.78,322.60Z" fill="#70e040"/><path d="M61.72,323.64 C61.88,322.85 62.19,322.15 62.56,321.68 C62.93,321.21 63.40,320.96 63.96,320.84 C64.52,320.72 65.41,320.75 65.92,320.98 C66.43,321.21 66.76,321.66 67.04,322.24 C67.32,322.82 67.53,323.73 67.60,324.48 C67.67,325.23 67.65,326.07 67.46,326.72 C67.27,327.37 66.88,327.84 66.48,328.40 C66.08,328.96 65.50,329.64 65.08,330.08 C64.66,330.52 64.33,330.94 63.96,331.06 C63.59,331.18 63.17,331.13 62.84,330.78 C62.51,330.43 62.21,329.68 62.00,328.96 C61.79,328.24 61.63,327.33 61.58,326.44 C61.53,325.55 61.56,324.43 61.72,323.64Z" fill="#e0e020"/><path d="M62.57,324.59 C62.67,324.08 62.87,323.63 63.11,323.33 C63.35,323.03 63.65,322.87 64.01,322.79 C64.37,322.72 64.94,322.73 65.27,322.88 C65.60,323.03 65.81,323.31 65.99,323.69 C66.17,324.06 66.30,324.65 66.35,325.13 C66.39,325.61 66.38,326.15 66.26,326.57 C66.14,326.99 65.88,327.29 65.63,327.65 C65.38,328.01 65.00,328.45 64.73,328.73 C64.46,329.01 64.25,329.29 64.01,329.36 C63.77,329.44 63.50,329.41 63.29,329.18 C63.08,328.95 62.88,328.48 62.75,328.01 C62.61,327.54 62.51,326.96 62.48,326.39 C62.45,325.82 62.46,325.10 62.57,324.59Z" fill="#f08010"/><path d="M63.25,325.35 C63.31,325.07 63.42,324.82 63.55,324.65 C63.68,324.48 63.85,324.39 64.05,324.35 C64.25,324.31 64.57,324.32 64.75,324.40 C64.93,324.48 65.05,324.64 65.15,324.85 C65.25,325.06 65.32,325.38 65.35,325.65 C65.38,325.92 65.37,326.22 65.30,326.45 C65.23,326.68 65.09,326.85 64.95,327.05 C64.81,327.25 64.60,327.49 64.45,327.65 C64.30,327.81 64.18,327.96 64.05,328.00 C63.92,328.04 63.77,328.03 63.65,327.90 C63.53,327.78 63.42,327.51 63.35,327.25 C63.27,326.99 63.22,326.67 63.20,326.35 C63.18,326.03 63.19,325.63 63.25,325.35Z" fill="#e82010"/></g>
</g>
<rect x="51.50" y="297.30" width="55.90" height="47.70" fill="none" stroke="#d890d8" stroke-width="0.6"/>
<line x1="51.50" y1="316.20" x2="107.40" y2="316.20" stroke="#c62ec6" stroke-width="1.1"/>
<line x1="51.50" y1="329.60" x2="107.40" y2="329.60" stroke="#c62ec6" stroke-width="1.1"/>
<text x="112.50" y="309.75" font-size="6.3" font-weight="bold" text-anchor="end" fill="#c62ec6">9.68</text>
<text x="112.50" y="325.20" font-size="6.3" font-weight="bold" text-anchor="end" fill="#c62ec6">60.7</text>
<text x="112.50" y="339.90" font-size="6.3" font-weight="bold" text-anchor="end" fill="#c62ec6">18.3</text>
<line x1="127.40" y1="209.00" x2="127.40" y2="271.50" stroke="#444" stroke-width="0.6"/>
<line x1="127.40" y1="271.50" x2="187.00" y2="271.50" stroke="#444" stroke-width="0.6"/>
<text x="126.00" y="211.80" font-size="3.9" font-weight="bold" text-anchor="end" fill="#222">25K</text>
<line x1="126.00" y1="210.50" x2="127.40" y2="210.50" stroke="#222" stroke-width="0.5"/>
<text x="126.00" y="223.90" font-size="3.9" font-weight="bold" text-anchor="end" fill="#222">20K</text>
<line x1="126.00" y1="222.60" x2="127.40" y2="222.60" stroke="#222" stroke-width="0.5"/>
<text x="126.00" y="235.90" font-size="3.9" font-weight="bold" text-anchor="end" fill="#222">15K</text>
<line x1="126.00" y1="234.60" x2="127.40" y2="234.60" stroke="#222" stroke-width="0.5"/>
<text x="126.00" y="248.30" font-size="3.9" font-weight="bold" text-anchor="end" fill="#222">10K</text>
<line x1="126.00" y1="247.00" x2="127.40" y2="247.00" stroke="#222" stroke-width="0.5"/>
<text x="126.00" y="260.50" font-size="3.9" font-weight="bold" text-anchor="end" fill="#222">5000</text>
<line x1="126.00" y1="259.20" x2="127.40" y2="259.20" stroke="#222" stroke-width="0.5"/>
<text x="126.00" y="272.80" font-size="3.9" font-weight="bold" text-anchor="end" fill="#222">0</text>
<line x1="126.00" y1="271.50" x2="127.40" y2="271.50" stroke="#222" stroke-width="0.5"/>
<text x="134.00" y="277.20" font-size="4.2" font-weight="bold" text-anchor="middle" fill="#222">0</text>
<text x="143.50" y="277.20" font-size="4.2" font-weight="bold" text-anchor="middle" fill="#222">10</text>
<text x="157.00" y="277.20" font-size="4.2" font-weight="bold" text-anchor="middle" fill="#222">10</text>
<text x="170.50" y="277.20" font-size="4.2" font-weight="bold" text-anchor="middle" fill="#222">10</text>
<text x="182.00" y="277.20" font-size="4.2" font-weight="bold" text-anchor="middle" fill="#222">10</text>
<path d="M129.69,271.54 L132.00,270.00 L135.08,266.15 L138.15,260.00 L140.46,250.77 L142.00,238.46 L143.54,226.15 L145.08,216.92 L146.15,213.54 L147.08,214.62 L148.15,223.08 L149.69,235.38 L151.23,246.15 L152.77,253.85 L154.31,260.77 L155.38,263.08 L156.62,262.31 L157.69,264.62 L158.92,267.69 L160.46,270.00 L162.77,271.54Z" fill="#e01414" stroke="none" stroke-width="0"/>
<text x="148.60" y="219.70" font-size="9.0" font-weight="bold" text-anchor="start" fill="#000">112</text>
<line x1="127.40" y1="283.00" x2="127.40" y2="345.30" stroke="#444" stroke-width="0.6"/>
<line x1="127.40" y1="345.30" x2="187.00" y2="345.30" stroke="#444" stroke-width="0.6"/>
<text x="126.00" y="293.70" font-size="3.9" font-weight="bold" text-anchor="end" fill="#222">15K</text>
<line x1="126.00" y1="292.40" x2="127.40" y2="292.40" stroke="#222" stroke-width="0.5"/>
<text x="126.00" y="311.30" font-size="3.9" font-weight="bold" text-anchor="end" fill="#222">10K</text>
<line x1="126.00" y1="310.00" x2="127.40" y2="310.00" stroke="#222" stroke-width="0.5"/>
<text x="126.00" y="328.60" font-size="3.9" font-weight="bold" text-anchor="end" fill="#222">5000</text>
<line x1="126.00" y1="327.30" x2="127.40" y2="327.30" stroke="#222" stroke-width="0.5"/>
<text x="126.00" y="346.60" font-size="3.9" font-weight="bold" text-anchor="end" fill="#222">0</text>
<line x1="126.00" y1="345.30" x2="127.40" y2="345.30" stroke="#222" stroke-width="0.5"/>
<text x="134.00" y="351.00" font-size="4.2" font-weight="bold" text-anchor="middle" fill="#222">0</text>
<text x="143.50" y="351.00" font-size="4.2" font-weight="bold" text-anchor="middle" fill="#222">10</text>
<text x="157.00" y="351.00" font-size="4.2" font-weight="bold" text-anchor="middle" fill="#222">10</text>
<text x="170.50" y="351.00" font-size="4.2" font-weight="bold" text-anchor="middle" fill="#222">10</text>
<text x="182.00" y="351.00" font-size="4.2" font-weight="bold" text-anchor="middle" fill="#222">10</text>
<path d="M128.92,345.31 L132.00,343.46 L135.08,339.62 L137.38,333.46 L139.69,324.23 L141.23,311.92 L142.77,298.08 L144.31,287.31 L145.08,285.46 L146.15,287.31 L147.38,295.00 L148.62,301.15 L149.69,302.69 L150.46,310.38 L151.69,321.15 L152.77,330.38 L154.31,332.69 L155.85,331.92 L157.38,331.62 L158.92,335.77 L160.46,339.62 L162.77,342.69 L165.85,344.54 L168.15,345.31Z" fill="#1212d0" stroke="none" stroke-width="0"/>
<text x="148.60" y="289.20" font-size="9.0" font-weight="bold" text-anchor="start" fill="#000">111</text>
<text x="42.80" y="367.80" font-size="7.8" font-weight="bold" text-anchor="start" fill="#000">CD34</text>
<line x1="66.50" y1="365.00" x2="98.00" y2="365.00" stroke="#000" stroke-width="1.0"/>
<path d="M102.50,365.00 L97.50,362.50 L97.50,367.50Z" fill="#000" stroke="none" stroke-width="1"/>
<text x="115.60" y="367.80" font-size="8.1" font-weight="bold" text-anchor="start" fill="#000">CD123</text>
<line x1="145.00" y1="365.00" x2="178.00" y2="365.00" stroke="#000" stroke-width="1.0"/>
<path d="M182.50,365.00 L177.50,362.50 L177.50,367.50Z" fill="#000" stroke="none" stroke-width="1"/>
<line x1="240.40" y1="233.00" x2="240.40" y2="345.90" stroke="#000" stroke-width="1.6"/>
<line x1="239.60" y1="345.20" x2="337.00" y2="345.20" stroke="#000" stroke-width="1.6"/>
<line x1="237.20" y1="345.20" x2="240.40" y2="345.20" stroke="#000" stroke-width="1.5"/>
<text x="236.60" y="348.30" font-size="8.2" font-weight="bold" text-anchor="end" fill="#000">0</text>
<line x1="237.20" y1="307.97" x2="240.40" y2="307.97" stroke="#000" stroke-width="1.5"/>
<text x="236.60" y="311.07" font-size="8.2" font-weight="bold" text-anchor="end" fill="#000">50</text>
<line x1="237.20" y1="270.73" x2="240.40" y2="270.73" stroke="#000" stroke-width="1.5"/>
<text x="236.60" y="273.83" font-size="8.2" font-weight="bold" text-anchor="end" fill="#000">100</text>
<line x1="237.20" y1="233.50" x2="240.40" y2="233.50" stroke="#000" stroke-width="1.5"/>
<text x="236.60" y="236.60" font-size="8.2" font-weight="bold" text-anchor="end" fill="#000">150</text>
<text x="214.80" y="289.00" font-size="7.6" font-weight="normal" text-anchor="middle" fill="#000" transform="rotate(-90 214.8 289.0)">Colonies/1000 CD34+ cells</text>
<line x1="252.25" y1="270.73" x2="252.25" y2="251.37" stroke="#000" stroke-width="1.3"/>
<line x1="248.75" y1="251.37" x2="255.75" y2="251.37" stroke="#000" stroke-width="1.3"/>
<rect x="243.90" y="270.73" width="16.70" height="74.47" fill="#fff" stroke="#000" stroke-width="1.6"/>
<line x1="277.00" y1="262.54" x2="277.00" y2="245.41" stroke="#000" stroke-width="1.3"/>
<line x1="273.50" y1="245.41" x2="280.50" y2="245.41" stroke="#000" stroke-width="1.3"/>
<rect x="268.00" y="262.54" width="18.00" height="82.66" fill="#000" stroke="#000" stroke-width="1.6"/>
<line x1="301.65" y1="313.18" x2="301.65" y2="303.50" stroke="#000" stroke-width="1.3"/>
<line x1="298.15" y1="303.50" x2="305.15" y2="303.50" stroke="#000" stroke-width="1.3"/>
<rect x="292.90" y="313.18" width="17.50" height="32.02" fill="#fff" stroke="#000" stroke-width="1.6"/>
<line x1="327.25" y1="315.41" x2="327.25" y2="305.73" stroke="#000" stroke-width="1.3"/>
<line x1="323.75" y1="305.73" x2="330.75" y2="305.73" stroke="#000" stroke-width="1.3"/>
<rect x="318.50" y="315.41" width="17.50" height="29.79" fill="#000" stroke="#000" stroke-width="1.6"/>
<text x="254.95" y="343.20" font-size="7.7" font-weight="normal" text-anchor="start" fill="#000" transform="rotate(-90 254.95 343.2)">CD123-</text>
<text x="279.70" y="343.20" font-size="7.7" font-weight="normal" text-anchor="start" fill="#fff" transform="rotate(-90 279.7 343.2)">CD123+</text>
<text x="304.35" y="343.20" font-size="7.7" font-weight="normal" text-anchor="start" fill="#000" transform="rotate(-90 304.34999999999997 343.2)">CD123-</text>
<text x="329.95" y="343.20" font-size="7.7" font-weight="normal" text-anchor="start" fill="#fff" transform="rotate(-90 329.95 343.2)">CD123+</text>
<line x1="252.20" y1="345.20" x2="252.20" y2="348.20" stroke="#000" stroke-width="1.3"/>
<line x1="277.00" y1="345.20" x2="277.00" y2="348.20" stroke="#000" stroke-width="1.3"/>
<line x1="301.60" y1="345.20" x2="301.60" y2="348.20" stroke="#000" stroke-width="1.3"/>
<line x1="327.20" y1="345.20" x2="327.20" y2="348.20" stroke="#000" stroke-width="1.3"/>
<text x="264.60" y="361.50" font-size="7.7" font-weight="normal" text-anchor="middle" fill="#000">Myeloid</text>
<text x="313.00" y="361.50" font-size="7.7" font-weight="normal" text-anchor="middle" fill="#000">Erythroid</text>
<line x1="252.00" y1="234.50" x2="276.30" y2="234.50" stroke="#000" stroke-width="1.5"/>
<text x="267.30" y="231.30" font-size="8.8" font-weight="bold" text-anchor="middle" fill="#000">NS</text>
<line x1="302.20" y1="291.80" x2="327.20" y2="291.80" stroke="#000" stroke-width="1.5"/>
<text x="316.10" y="285.80" font-size="8.8" font-weight="bold" text-anchor="middle" fill="#000">NS</text>
<text x="330.00" y="147.60" font-size="12.5" font-weight="bold" text-anchor="start" fill="#000">C</text>
<line x1="403.20" y1="143.80" x2="403.20" y2="234.20" stroke="#000" stroke-width="1.4"/>
<line x1="402.60" y1="233.90" x2="504.00" y2="233.90" stroke="#000" stroke-width="1.4"/>
<line x1="400.40" y1="235.00" x2="403.20" y2="235.00" stroke="#000" stroke-width="1.2"/>
<text x="399.70" y="237.80" font-size="7.6" font-weight="bold" text-anchor="end" fill="#000">1</text>
<line x1="401.70" y1="228.17" x2="403.20" y2="228.17" stroke="#000" stroke-width="0.5"/>
<line x1="401.70" y1="224.18" x2="403.20" y2="224.18" stroke="#000" stroke-width="0.5"/>
<line x1="401.70" y1="221.35" x2="403.20" y2="221.35" stroke="#000" stroke-width="0.5"/>
<line x1="401.70" y1="219.15" x2="403.20" y2="219.15" stroke="#000" stroke-width="0.5"/>
<line x1="401.70" y1="217.36" x2="403.20" y2="217.36" stroke="#000" stroke-width="0.5"/>
<line x1="401.70" y1="215.84" x2="403.20" y2="215.84" stroke="#000" stroke-width="0.5"/>
<line x1="401.70" y1="214.52" x2="403.20" y2="214.52" stroke="#000" stroke-width="0.5"/>
<line x1="401.70" y1="213.36" x2="403.20" y2="213.36" stroke="#000" stroke-width="0.5"/>
<line x1="400.40" y1="212.32" x2="403.20" y2="212.32" stroke="#000" stroke-width="1.2"/>
<text x="399.70" y="215.12" font-size="7.6" font-weight="bold" text-anchor="end" fill="#000">10</text>
<line x1="401.70" y1="205.50" x2="403.20" y2="205.50" stroke="#000" stroke-width="0.5"/>
<line x1="401.70" y1="201.51" x2="403.20" y2="201.51" stroke="#000" stroke-width="0.5"/>
<line x1="401.70" y1="198.67" x2="403.20" y2="198.67" stroke="#000" stroke-width="0.5"/>
<line x1="401.70" y1="196.48" x2="403.20" y2="196.48" stroke="#000" stroke-width="0.5"/>
<line x1="401.70" y1="194.68" x2="403.20" y2="194.68" stroke="#000" stroke-width="0.5"/>
<line x1="401.70" y1="193.16" x2="403.20" y2="193.16" stroke="#000" stroke-width="0.5"/>
<line x1="401.70" y1="191.85" x2="403.20" y2="191.85" stroke="#000" stroke-width="0.5"/>
<line x1="401.70" y1="190.69" x2="403.20" y2="190.69" stroke="#000" stroke-width="0.5"/>
<line x1="400.40" y1="189.65" x2="403.20" y2="189.65" stroke="#000" stroke-width="1.2"/>
<text x="399.70" y="192.45" font-size="7.6" font-weight="bold" text-anchor="end" fill="#000">100</text>
<line x1="401.70" y1="182.82" x2="403.20" y2="182.82" stroke="#000" stroke-width="0.5"/>
<line x1="401.70" y1="178.83" x2="403.20" y2="178.83" stroke="#000" stroke-width="0.5"/>
<line x1="401.70" y1="176.00" x2="403.20" y2="176.00" stroke="#000" stroke-width="0.5"/>
<line x1="401.70" y1="173.80" x2="403.20" y2="173.80" stroke="#000" stroke-width="0.5"/>
<line x1="401.70" y1="172.01" x2="403.20" y2="172.01" stroke="#000" stroke-width="0.5"/>
<line x1="401.70" y1="170.49" x2="403.20" y2="170.49" stroke="#000" stroke-width="0.5"/>
<line x1="401.70" y1="169.17" x2="403.20" y2="169.17" stroke="#000" stroke-width="0.5"/>
<line x1="401.70" y1="168.01" x2="403.20" y2="168.01" stroke="#000" stroke-width="0.5"/>
<line x1="400.40" y1="166.98" x2="403.20" y2="166.98" stroke="#000" stroke-width="1.2"/>
<text x="399.70" y="169.78" font-size="7.6" font-weight="bold" text-anchor="end" fill="#000">1000</text>
<line x1="401.70" y1="160.15" x2="403.20" y2="160.15" stroke="#000" stroke-width="0.5"/>
<line x1="401.70" y1="156.16" x2="403.20" y2="156.16" stroke="#000" stroke-width="0.5"/>
<line x1="401.70" y1="153.32" x2="403.20" y2="153.32" stroke="#000" stroke-width="0.5"/>
<line x1="401.70" y1="151.13" x2="403.20" y2="151.13" stroke="#000" stroke-width="0.5"/>
<line x1="401.70" y1="149.33" x2="403.20" y2="149.33" stroke="#000" stroke-width="0.5"/>
<line x1="401.70" y1="147.81" x2="403.20" y2="147.81" stroke="#000" stroke-width="0.5"/>
<line x1="401.70" y1="146.50" x2="403.20" y2="146.50" stroke="#000" stroke-width="0.5"/>
<line x1="401.70" y1="145.34" x2="403.20" y2="145.34" stroke="#000" stroke-width="0.5"/>
<line x1="400.40" y1="144.30" x2="403.20" y2="144.30" stroke="#000" stroke-width="1.2"/>
<text x="399.70" y="147.10" font-size="7.6" font-weight="bold" text-anchor="end" fill="#000">10000</text>
<text x="375.20" y="190.00" font-size="7.1" font-weight="bold" text-anchor="middle" fill="#000" transform="rotate(-90 375.2 190)">Number of cells</text>
<line x1="416.95" y1="154.20" x2="416.95" y2="152.40" stroke="#000" stroke-width="1.2"/>
<line x1="413.95" y1="152.40" x2="419.95" y2="152.40" stroke="#000" stroke-width="1.2"/>
<rect x="409.20" y="154.20" width="15.50" height="79.70" fill="#fff" stroke="#000" stroke-width="1.3"/>
<text x="419.55" y="231.80" font-size="7.6" font-weight="normal" text-anchor="start" fill="#000" transform="rotate(-90 419.55 231.8)">control</text>
<line x1="439.80" y1="204.30" x2="439.80" y2="200.00" stroke="#000" stroke-width="1.2"/>
<line x1="436.80" y1="200.00" x2="442.80" y2="200.00" stroke="#000" stroke-width="1.2"/>
<rect x="431.80" y="204.30" width="16.00" height="29.60" fill="#000" stroke="#000" stroke-width="1.3"/>
<text x="441.80" y="231.80" font-size="5.2" font-weight="normal" text-anchor="start" fill="#fff" transform="rotate(-90 441.8 231.8)">CART123</text>
<line x1="470.65" y1="174.30" x2="470.65" y2="172.60" stroke="#000" stroke-width="1.2"/>
<line x1="467.65" y1="172.60" x2="473.65" y2="172.60" stroke="#000" stroke-width="1.2"/>
<rect x="462.80" y="174.30" width="15.70" height="59.60" fill="#fff" stroke="#000" stroke-width="1.3"/>
<text x="473.25" y="231.80" font-size="7.6" font-weight="normal" text-anchor="start" fill="#000" transform="rotate(-90 473.25 231.8)">control</text>
<rect x="485.80" y="212.00" width="15.70" height="21.90" fill="#000" stroke="#000" stroke-width="1.3"/>
<text x="495.65" y="231.80" font-size="5.2" font-weight="normal" text-anchor="start" fill="#fff" transform="rotate(-90 495.65 231.8)">CART123</text>
<line x1="417.00" y1="233.90" x2="417.00" y2="236.50" stroke="#000" stroke-width="1.0"/>
<line x1="439.80" y1="233.90" x2="439.80" y2="236.50" stroke="#000" stroke-width="1.0"/>
<line x1="470.60" y1="233.90" x2="470.60" y2="236.50" stroke="#000" stroke-width="1.0"/>
<line x1="493.60" y1="233.90" x2="493.60" y2="236.50" stroke="#000" stroke-width="1.0"/>
<line x1="417.30" y1="146.80" x2="439.70" y2="146.80" stroke="#000" stroke-width="1.3"/>
<line x1="417.30" y1="144.60" x2="417.30" y2="149.00" stroke="#000" stroke-width="1.2"/>
<line x1="439.70" y1="144.60" x2="439.70" y2="149.00" stroke="#000" stroke-width="1.2"/>
<text x="428.50" y="140.70" font-size="5.5" font-weight="bold" text-anchor="middle" fill="#000">p=0.04</text>
<line x1="470.40" y1="167.00" x2="493.50" y2="167.00" stroke="#000" stroke-width="1.3"/>
<line x1="470.40" y1="164.80" x2="470.40" y2="169.20" stroke="#000" stroke-width="1.2"/>
<line x1="493.50" y1="164.80" x2="493.50" y2="169.20" stroke="#000" stroke-width="1.2"/>
<text x="481.95" y="159.70" font-size="5.5" font-weight="bold" text-anchor="middle" fill="#000">p=0.04</text>
<text x="428.20" y="246.30" font-size="5.9" font-weight="bold" text-anchor="middle" fill="#000">CD34+ CD38+</text>
<text x="482.40" y="246.30" font-size="5.9" font-weight="bold" text-anchor="middle" fill="#000">CD34+ CD38-</text>
<text x="-0.50" y="386.90" font-size="11.5" font-weight="bold" text-anchor="start" fill="#000">D</text>
<text x="63.50" y="393.80" font-size="7.6" font-weight="normal" text-anchor="middle" fill="#000">Untreated</text>
<text x="133.80" y="393.80" font-size="7.6" font-weight="normal" text-anchor="middle" fill="#000">5-FU</text>
<rect x="26.30" y="399.20" width="139.30" height="71.60" fill="#fff" stroke="#8c8c8c" stroke-width="1.2"/>
<line x1="95.70" y1="399.20" x2="95.70" y2="470.80" stroke="#9a9a9a" stroke-width="1.6"/>
<line x1="36.50" y1="401.50" x2="36.50" y2="464.20" stroke="#333" stroke-width="0.6"/>
<line x1="36.50" y1="464.20" x2="94.50" y2="464.20" stroke="#333" stroke-width="0.6"/>
<text x="34.90" y="406.80" font-size="3.5" font-weight="bold" text-anchor="end" fill="#333">10</text>
<line x1="35.50" y1="405.50" x2="36.50" y2="405.50" stroke="#333" stroke-width="0.5"/>
<text x="34.90" y="418.80" font-size="3.5" font-weight="bold" text-anchor="end" fill="#333">10</text>
<line x1="35.50" y1="417.50" x2="36.50" y2="417.50" stroke="#333" stroke-width="0.5"/>
<text x="34.90" y="431.80" font-size="3.5" font-weight="bold" text-anchor="end" fill="#333">10</text>
<line x1="35.50" y1="430.50" x2="36.50" y2="430.50" stroke="#333" stroke-width="0.5"/>
<text x="34.90" y="444.80" font-size="3.5" font-weight="bold" text-anchor="end" fill="#333">10</text>
<line x1="35.50" y1="443.50" x2="36.50" y2="443.50" stroke="#333" stroke-width="0.5"/>
<text x="34.90" y="453.80" font-size="3.5" font-weight="bold" text-anchor="end" fill="#333">0</text>
<line x1="35.50" y1="452.50" x2="36.50" y2="452.50" stroke="#333" stroke-width="0.5"/>
<text x="52.16" y="469.00" font-size="3.5" font-weight="bold" text-anchor="middle" fill="#333">0</text>
<line x1="52.16" y1="464.20" x2="52.16" y2="465.50" stroke="#333" stroke-width="0.5"/>
<text x="61.44" y="469.00" font-size="3.5" font-weight="bold" text-anchor="middle" fill="#333">10</text>
<line x1="61.44" y1="464.20" x2="61.44" y2="465.50" stroke="#333" stroke-width="0.5"/>
<text x="78.26" y="469.00" font-size="3.5" font-weight="bold" text-anchor="middle" fill="#333">10</text>
<line x1="78.26" y1="464.20" x2="78.26" y2="465.50" stroke="#333" stroke-width="0.5"/>
<text x="90.44" y="469.00" font-size="3.5" font-weight="bold" text-anchor="middle" fill="#333">10</text>
<line x1="90.44" y1="464.20" x2="90.44" y2="465.50" stroke="#333" stroke-width="0.5"/>
<line x1="106.30" y1="401.50" x2="106.30" y2="464.20" stroke="#333" stroke-width="0.6"/>
<line x1="106.30" y1="464.20" x2="164.80" y2="464.20" stroke="#333" stroke-width="0.6"/>
<text x="104.70" y="406.80" font-size="3.5" font-weight="bold" text-anchor="end" fill="#333">10</text>
<line x1="105.30" y1="405.50" x2="106.30" y2="405.50" stroke="#333" stroke-width="0.5"/>
<text x="104.70" y="418.80" font-size="3.5" font-weight="bold" text-anchor="end" fill="#333">10</text>
<line x1="105.30" y1="417.50" x2="106.30" y2="417.50" stroke="#333" stroke-width="0.5"/>
<text x="104.70" y="431.80" font-size="3.5" font-weight="bold" text-anchor="end" fill="#333">10</text>
<line x1="105.30" y1="430.50" x2="106.30" y2="430.50" stroke="#333" stroke-width="0.5"/>
<text x="104.70" y="444.80" font-size="3.5" font-weight="bold" text-anchor="end" fill="#333">10</text>
<line x1="105.30" y1="443.50" x2="106.30" y2="443.50" stroke="#333" stroke-width="0.5"/>
<text x="104.70" y="453.80" font-size="3.5" font-weight="bold" text-anchor="end" fill="#333">0</text>
<line x1="105.30" y1="452.50" x2="106.30" y2="452.50" stroke="#333" stroke-width="0.5"/>
<text x="122.09" y="469.00" font-size="3.5" font-weight="bold" text-anchor="middle" fill="#333">0</text>
<line x1="122.09" y1="464.20" x2="122.09" y2="465.50" stroke="#333" stroke-width="0.5"/>
<text x="131.46" y="469.00" font-size="3.5" font-weight="bold" text-anchor="middle" fill="#333">10</text>
<line x1="131.46" y1="464.20" x2="131.46" y2="465.50" stroke="#333" stroke-width="0.5"/>
<text x="148.42" y="469.00" font-size="3.5" font-weight="bold" text-anchor="middle" fill="#333">10</text>
<line x1="148.42" y1="464.20" x2="148.42" y2="465.50" stroke="#333" stroke-width="0.5"/>
<text x="160.71" y="469.00" font-size="3.5" font-weight="bold" text-anchor="middle" fill="#333">10</text>
<line x1="160.71" y1="464.20" x2="160.71" y2="465.50" stroke="#333" stroke-width="0.5"/>
<g fill="#888" opacity="0.35"><circle cx="48.9" cy="434.2" r="0.35"/><circle cx="79.9" cy="424.4" r="0.35"/><circle cx="47.4" cy="429.3" r="0.35"/><circle cx="72.7" cy="442.1" r="0.35"/><circle cx="49.0" cy="415.8" r="0.35"/><circle cx="75.9" cy="435.2" r="0.35"/><circle cx="87.5" cy="440.8" r="0.35"/><circle cx="64.6" cy="427.0" r="0.35"/><circle cx="102.0" cy="426.8" r="0.35"/><circle cx="55.0" cy="417.5" r="0.35"/><circle cx="67.3" cy="431.6" r="0.35"/><circle cx="61.2" cy="429.3" r="0.35"/><circle cx="69.8" cy="437.6" r="0.35"/><circle cx="81.4" cy="432.3" r="0.35"/><circle cx="40.9" cy="437.7" r="0.35"/><circle cx="46.1" cy="428.1" r="0.35"/><circle cx="45.4" cy="430.0" r="0.35"/><circle cx="55.1" cy="432.4" r="0.35"/><circle cx="112.2" cy="429.5" r="0.35"/><circle cx="77.8" cy="415.4" r="0.35"/><circle cx="62.0" cy="437.3" r="0.35"/><circle cx="64.7" cy="434.1" r="0.35"/><circle cx="67.4" cy="418.9" r="0.35"/><circle cx="73.9" cy="421.1" r="0.35"/><circle cx="92.2" cy="424.4" r="0.35"/><circle cx="75.6" cy="430.0" r="0.35"/><circle cx="79.3" cy="423.4" r="0.35"/><circle cx="80.0" cy="428.6" r="0.35"/><circle cx="83.7" cy="436.9" r="0.35"/><circle cx="68.0" cy="421.4" r="0.35"/><circle cx="76.7" cy="435.1" r="0.35"/><circle cx="89.0" cy="425.9" r="0.35"/><circle cx="73.8" cy="435.6" r="0.35"/><circle cx="70.0" cy="432.3" r="0.35"/><circle cx="68.5" cy="423.4" r="0.35"/><circle cx="51.8" cy="425.6" r="0.35"/><circle cx="74.3" cy="446.6" r="0.35"/><circle cx="79.7" cy="441.6" r="0.35"/><circle cx="76.9" cy="437.7" r="0.35"/><circle cx="68.6" cy="438.5" r="0.35"/><circle cx="90.8" cy="426.4" r="0.35"/><circle cx="56.3" cy="451.6" r="0.35"/><circle cx="69.4" cy="440.7" r="0.35"/><circle cx="78.2" cy="417.5" r="0.35"/><circle cx="100.1" cy="449.5" r="0.35"/><circle cx="68.5" cy="438.3" r="0.35"/><circle cx="67.8" cy="420.3" r="0.35"/><circle cx="64.4" cy="434.1" r="0.35"/><circle cx="81.6" cy="437.8" r="0.35"/><circle cx="66.8" cy="444.9" r="0.35"/><circle cx="55.3" cy="438.7" r="0.35"/><circle cx="81.6" cy="426.8" r="0.35"/><circle cx="40.9" cy="420.0" r="0.35"/><circle cx="69.3" cy="435.8" r="0.35"/><circle cx="87.7" cy="419.0" r="0.35"/><circle cx="66.0" cy="437.1" r="0.35"/><circle cx="63.8" cy="403.9" r="0.35"/><circle cx="77.3" cy="455.4" r="0.35"/><circle cx="80.1" cy="419.9" r="0.35"/><circle cx="60.2" cy="432.4" r="0.35"/><circle cx="100.8" cy="436.8" r="0.35"/><circle cx="67.6" cy="447.1" r="0.35"/><circle cx="64.9" cy="450.5" r="0.35"/><circle cx="56.4" cy="424.8" r="0.35"/><circle cx="76.1" cy="445.7" r="0.35"/><circle cx="75.2" cy="433.3" r="0.35"/><circle cx="40.5" cy="422.2" r="0.35"/><circle cx="57.5" cy="424.1" r="0.35"/><circle cx="74.2" cy="426.3" r="0.35"/><circle cx="77.0" cy="430.9" r="0.35"/><circle cx="61.3" cy="431.3" r="0.35"/><circle cx="72.0" cy="439.4" r="0.35"/><circle cx="59.3" cy="427.4" r="0.35"/><circle cx="46.9" cy="447.6" r="0.35"/><circle cx="86.3" cy="428.0" r="0.35"/><circle cx="59.3" cy="416.4" r="0.35"/><circle cx="68.4" cy="432.3" r="0.35"/><circle cx="96.5" cy="432.7" r="0.35"/><circle cx="55.1" cy="403.1" r="0.35"/><circle cx="85.7" cy="432.1" r="0.35"/><circle cx="43.5" cy="432.0" r="0.35"/><circle cx="43.5" cy="468.3" r="0.35"/><circle cx="81.7" cy="436.3" r="0.35"/><circle cx="63.5" cy="406.5" r="0.35"/><circle cx="64.2" cy="412.9" r="0.35"/><circle cx="74.3" cy="406.5" r="0.35"/><circle cx="53.3" cy="443.4" r="0.35"/><circle cx="89.0" cy="417.0" r="0.35"/><circle cx="44.5" cy="439.7" r="0.35"/><circle cx="77.9" cy="419.1" r="0.35"/><circle cx="56.3" cy="422.4" r="0.35"/><circle cx="49.3" cy="422.5" r="0.35"/><circle cx="83.5" cy="437.6" r="0.35"/><circle cx="94.8" cy="429.1" r="0.35"/><circle cx="64.1" cy="419.2" r="0.35"/><circle cx="64.3" cy="415.6" r="0.35"/><circle cx="41.1" cy="437.7" r="0.35"/><circle cx="86.2" cy="439.2" r="0.35"/><circle cx="84.7" cy="432.8" r="0.35"/><circle cx="55.9" cy="430.9" r="0.35"/><circle cx="60.8" cy="417.8" r="0.35"/><circle cx="42.3" cy="413.7" r="0.35"/><circle cx="65.9" cy="431.7" r="0.35"/><circle cx="59.4" cy="445.7" r="0.35"/><circle cx="68.5" cy="436.4" r="0.35"/><circle cx="83.1" cy="421.0" r="0.35"/><circle cx="38.4" cy="438.3" r="0.35"/><circle cx="56.4" cy="444.4" r="0.35"/><circle cx="70.7" cy="441.1" r="0.35"/><circle cx="76.7" cy="407.1" r="0.35"/><circle cx="76.1" cy="422.6" r="0.35"/><circle cx="55.4" cy="425.2" r="0.35"/><circle cx="76.8" cy="439.7" r="0.35"/><circle cx="80.2" cy="411.7" r="0.35"/><circle cx="57.7" cy="403.9" r="0.35"/><circle cx="64.6" cy="436.6" r="0.35"/><circle cx="55.3" cy="432.7" r="0.35"/><circle cx="69.2" cy="441.1" r="0.35"/><circle cx="54.5" cy="420.9" r="0.35"/><circle cx="55.3" cy="449.3" r="0.35"/><circle cx="81.3" cy="428.6" r="0.35"/><circle cx="69.2" cy="431.3" r="0.35"/><circle cx="68.8" cy="427.7" r="0.35"/><circle cx="61.3" cy="416.2" r="0.35"/><circle cx="57.0" cy="448.2" r="0.35"/><circle cx="73.5" cy="430.7" r="0.35"/><circle cx="63.0" cy="430.7" r="0.35"/><circle cx="70.9" cy="422.9" r="0.35"/><circle cx="68.7" cy="432.6" r="0.35"/><circle cx="55.5" cy="421.3" r="0.35"/><circle cx="52.0" cy="418.3" r="0.35"/><circle cx="78.5" cy="404.0" r="0.35"/><circle cx="62.3" cy="423.3" r="0.35"/><circle cx="57.3" cy="431.1" r="0.35"/><circle cx="81.8" cy="430.8" r="0.35"/><circle cx="64.0" cy="423.3" r="0.35"/><circle cx="64.2" cy="440.0" r="0.35"/><circle cx="60.5" cy="417.4" r="0.35"/><circle cx="48.3" cy="417.8" r="0.35"/><circle cx="46.5" cy="442.1" r="0.35"/><circle cx="71.0" cy="427.4" r="0.35"/><circle cx="86.4" cy="422.8" r="0.35"/><circle cx="76.5" cy="438.8" r="0.35"/><circle cx="44.4" cy="412.9" r="0.35"/><circle cx="53.0" cy="440.0" r="0.35"/><circle cx="84.1" cy="416.5" r="0.35"/><circle cx="80.7" cy="425.8" r="0.35"/><circle cx="60.5" cy="423.9" r="0.35"/><circle cx="61.5" cy="410.0" r="0.35"/><circle cx="52.0" cy="416.4" r="0.35"/><circle cx="72.9" cy="453.0" r="0.35"/><circle cx="104.2" cy="426.3" r="0.35"/><circle cx="41.9" cy="425.5" r="0.35"/><circle cx="52.9" cy="451.8" r="0.35"/><circle cx="74.0" cy="422.0" r="0.35"/><circle cx="79.1" cy="435.9" r="0.35"/><circle cx="43.2" cy="424.2" r="0.35"/><circle cx="62.6" cy="430.2" r="0.35"/><circle cx="67.8" cy="426.3" r="0.35"/><circle cx="68.7" cy="423.6" r="0.35"/><circle cx="53.4" cy="446.7" r="0.35"/><circle cx="71.0" cy="434.8" r="0.35"/><circle cx="43.7" cy="428.2" r="0.35"/><circle cx="77.5" cy="415.8" r="0.35"/><circle cx="81.4" cy="425.7" r="0.35"/><circle cx="71.6" cy="428.5" r="0.35"/><circle cx="69.1" cy="443.2" r="0.35"/><circle cx="60.4" cy="447.2" r="0.35"/><circle cx="55.1" cy="419.8" r="0.35"/><circle cx="76.0" cy="418.3" r="0.35"/><circle cx="60.8" cy="440.0" r="0.35"/><circle cx="82.9" cy="410.5" r="0.35"/><circle cx="73.1" cy="450.7" r="0.35"/><circle cx="82.7" cy="427.4" r="0.35"/><circle cx="57.6" cy="426.7" r="0.35"/><circle cx="49.9" cy="427.1" r="0.35"/><circle cx="63.4" cy="428.4" r="0.35"/><circle cx="82.6" cy="427.5" r="0.35"/><circle cx="45.6" cy="441.6" r="0.35"/><circle cx="51.0" cy="425.1" r="0.35"/><circle cx="64.1" cy="426.2" r="0.35"/><circle cx="52.0" cy="427.3" r="0.35"/><circle cx="96.6" cy="423.3" r="0.35"/><circle cx="64.1" cy="442.4" r="0.35"/><circle cx="76.4" cy="438.4" r="0.35"/><circle cx="78.1" cy="408.4" r="0.35"/><circle cx="53.9" cy="431.4" r="0.35"/><circle cx="73.0" cy="444.2" r="0.35"/><circle cx="72.6" cy="427.4" r="0.35"/><circle cx="66.6" cy="427.7" r="0.35"/><circle cx="69.5" cy="437.4" r="0.35"/><circle cx="61.2" cy="421.1" r="0.35"/><circle cx="54.0" cy="442.1" r="0.35"/><circle cx="83.9" cy="440.9" r="0.35"/><circle cx="78.0" cy="439.2" r="0.35"/><circle cx="66.0" cy="437.3" r="0.35"/><circle cx="51.3" cy="427.8" r="0.35"/><circle cx="55.7" cy="438.0" r="0.35"/><circle cx="57.9" cy="428.8" r="0.35"/><circle cx="71.6" cy="444.9" r="0.35"/><circle cx="54.9" cy="419.7" r="0.35"/><circle cx="77.4" cy="417.8" r="0.35"/><circle cx="72.3" cy="423.7" r="0.35"/><circle cx="64.5" cy="410.0" r="0.35"/><circle cx="76.0" cy="424.5" r="0.35"/><circle cx="53.4" cy="452.8" r="0.35"/><circle cx="76.0" cy="468.6" r="0.35"/><circle cx="71.7" cy="426.2" r="0.35"/><circle cx="67.5" cy="447.7" r="0.35"/><circle cx="65.6" cy="435.0" r="0.35"/><circle cx="73.2" cy="420.0" r="0.35"/><circle cx="67.8" cy="424.5" r="0.35"/><circle cx="48.6" cy="439.6" r="0.35"/><circle cx="75.3" cy="430.8" r="0.35"/><circle cx="53.3" cy="407.9" r="0.35"/><circle cx="72.8" cy="428.9" r="0.35"/><circle cx="42.4" cy="429.3" r="0.35"/><circle cx="44.7" cy="429.7" r="0.35"/><circle cx="68.0" cy="433.9" r="0.35"/><circle cx="69.0" cy="431.9" r="0.35"/><circle cx="50.0" cy="425.8" r="0.35"/><circle cx="58.8" cy="427.4" r="0.35"/><circle cx="69.8" cy="436.8" r="0.35"/><circle cx="88.9" cy="401.7" r="0.35"/><circle cx="71.6" cy="427.8" r="0.35"/><circle cx="97.9" cy="440.3" r="0.35"/><circle cx="42.9" cy="434.4" r="0.35"/><circle cx="58.7" cy="440.9" r="0.35"/><circle cx="51.2" cy="428.9" r="0.35"/><circle cx="64.2" cy="428.9" r="0.35"/><circle cx="57.8" cy="409.8" r="0.35"/><circle cx="72.4" cy="441.0" r="0.35"/><circle cx="65.0" cy="418.8" r="0.35"/><circle cx="68.8" cy="436.2" r="0.35"/><circle cx="63.5" cy="429.8" r="0.35"/><circle cx="85.7" cy="417.7" r="0.35"/><circle cx="58.2" cy="409.0" r="0.35"/><circle cx="56.2" cy="421.9" r="0.35"/><circle cx="52.6" cy="422.4" r="0.35"/><circle cx="91.2" cy="427.8" r="0.35"/><circle cx="64.4" cy="454.2" r="0.35"/><circle cx="65.2" cy="410.9" r="0.35"/><circle cx="71.6" cy="419.7" r="0.35"/><circle cx="88.9" cy="416.3" r="0.35"/><circle cx="57.9" cy="412.3" r="0.35"/><circle cx="67.4" cy="418.8" r="0.35"/><circle cx="65.1" cy="425.9" r="0.35"/><circle cx="57.4" cy="440.4" r="0.35"/><circle cx="79.1" cy="430.7" r="0.35"/><circle cx="53.4" cy="418.2" r="0.35"/><circle cx="69.8" cy="456.3" r="0.35"/><circle cx="59.6" cy="421.4" r="0.35"/><circle cx="56.2" cy="418.0" r="0.35"/><circle cx="52.4" cy="427.7" r="0.35"/><circle cx="86.1" cy="430.0" r="0.35"/><circle cx="58.8" cy="412.2" r="0.35"/><circle cx="69.0" cy="429.7" r="0.35"/><circle cx="48.8" cy="418.0" r="0.35"/><circle cx="65.4" cy="441.1" r="0.35"/><circle cx="74.8" cy="432.3" r="0.35"/></g>
<g fill="#888" opacity="0.35"><circle cx="124.5" cy="434.8" r="0.35"/><circle cx="136.2" cy="426.2" r="0.35"/><circle cx="148.7" cy="432.8" r="0.35"/><circle cx="136.3" cy="453.6" r="0.35"/><circle cx="134.1" cy="416.8" r="0.35"/><circle cx="125.3" cy="425.7" r="0.35"/><circle cx="145.6" cy="442.2" r="0.35"/><circle cx="150.4" cy="454.2" r="0.35"/><circle cx="156.2" cy="440.0" r="0.35"/><circle cx="152.6" cy="440.3" r="0.35"/><circle cx="133.7" cy="442.4" r="0.35"/><circle cx="140.1" cy="430.1" r="0.35"/><circle cx="159.6" cy="441.9" r="0.35"/><circle cx="134.6" cy="431.7" r="0.35"/><circle cx="163.1" cy="429.7" r="0.35"/><circle cx="147.0" cy="440.2" r="0.35"/><circle cx="144.7" cy="439.8" r="0.35"/><circle cx="134.7" cy="427.0" r="0.35"/><circle cx="137.9" cy="428.3" r="0.35"/><circle cx="147.7" cy="451.4" r="0.35"/><circle cx="130.6" cy="439.3" r="0.35"/><circle cx="129.6" cy="424.3" r="0.35"/><circle cx="137.1" cy="434.0" r="0.35"/><circle cx="135.1" cy="400.9" r="0.35"/><circle cx="153.6" cy="429.4" r="0.35"/><circle cx="133.1" cy="440.9" r="0.35"/><circle cx="133.5" cy="415.3" r="0.35"/><circle cx="144.5" cy="437.8" r="0.35"/><circle cx="131.2" cy="442.9" r="0.35"/><circle cx="143.3" cy="418.9" r="0.35"/><circle cx="157.3" cy="435.9" r="0.35"/><circle cx="128.0" cy="438.2" r="0.35"/><circle cx="140.8" cy="444.5" r="0.35"/><circle cx="125.9" cy="445.3" r="0.35"/><circle cx="149.1" cy="441.1" r="0.35"/><circle cx="145.7" cy="448.7" r="0.35"/><circle cx="146.8" cy="434.2" r="0.35"/><circle cx="131.1" cy="446.2" r="0.35"/><circle cx="149.5" cy="436.3" r="0.35"/><circle cx="141.1" cy="441.4" r="0.35"/><circle cx="114.0" cy="436.5" r="0.35"/><circle cx="114.2" cy="435.6" r="0.35"/><circle cx="150.2" cy="455.7" r="0.35"/><circle cx="134.7" cy="437.9" r="0.35"/><circle cx="138.8" cy="405.5" r="0.35"/><circle cx="146.9" cy="432.4" r="0.35"/><circle cx="140.2" cy="421.1" r="0.35"/><circle cx="139.1" cy="433.6" r="0.35"/><circle cx="152.5" cy="436.1" r="0.35"/><circle cx="174.9" cy="427.6" r="0.35"/><circle cx="136.8" cy="431.9" r="0.35"/><circle cx="131.3" cy="451.0" r="0.35"/><circle cx="146.0" cy="417.1" r="0.35"/><circle cx="140.6" cy="446.6" r="0.35"/><circle cx="125.1" cy="434.4" r="0.35"/><circle cx="137.1" cy="461.0" r="0.35"/><circle cx="143.7" cy="427.6" r="0.35"/><circle cx="133.8" cy="455.6" r="0.35"/><circle cx="134.8" cy="460.3" r="0.35"/><circle cx="123.6" cy="430.2" r="0.35"/><circle cx="137.1" cy="424.0" r="0.35"/><circle cx="137.3" cy="441.0" r="0.35"/><circle cx="132.7" cy="415.1" r="0.35"/><circle cx="153.1" cy="450.4" r="0.35"/><circle cx="132.5" cy="436.3" r="0.35"/><circle cx="113.4" cy="445.2" r="0.35"/><circle cx="126.0" cy="425.8" r="0.35"/><circle cx="161.4" cy="417.2" r="0.35"/><circle cx="139.7" cy="419.5" r="0.35"/><circle cx="120.7" cy="418.4" r="0.35"/><circle cx="142.2" cy="416.7" r="0.35"/><circle cx="133.5" cy="441.4" r="0.35"/><circle cx="137.9" cy="416.6" r="0.35"/><circle cx="154.6" cy="434.0" r="0.35"/><circle cx="153.7" cy="419.8" r="0.35"/><circle cx="156.6" cy="416.2" r="0.35"/><circle cx="121.8" cy="427.4" r="0.35"/><circle cx="135.7" cy="435.7" r="0.35"/><circle cx="133.8" cy="440.3" r="0.35"/><circle cx="153.0" cy="424.6" r="0.35"/><circle cx="125.5" cy="427.7" r="0.35"/><circle cx="147.8" cy="442.5" r="0.35"/><circle cx="135.9" cy="420.6" r="0.35"/><circle cx="139.3" cy="444.3" r="0.35"/><circle cx="132.2" cy="448.3" r="0.35"/><circle cx="141.7" cy="436.1" r="0.35"/><circle cx="133.1" cy="449.1" r="0.35"/><circle cx="139.9" cy="414.4" r="0.35"/><circle cx="147.7" cy="427.4" r="0.35"/><circle cx="150.4" cy="434.6" r="0.35"/><circle cx="133.1" cy="434.6" r="0.35"/><circle cx="134.5" cy="422.5" r="0.35"/><circle cx="139.7" cy="442.7" r="0.35"/><circle cx="140.2" cy="431.5" r="0.35"/><circle cx="133.8" cy="439.5" r="0.35"/><circle cx="142.2" cy="444.2" r="0.35"/><circle cx="143.1" cy="458.4" r="0.35"/><circle cx="123.5" cy="431.9" r="0.35"/><circle cx="144.8" cy="443.4" r="0.35"/><circle cx="123.9" cy="417.7" r="0.35"/><circle cx="139.0" cy="445.3" r="0.35"/><circle cx="150.6" cy="414.1" r="0.35"/><circle cx="140.8" cy="446.8" r="0.35"/><circle cx="139.7" cy="420.0" r="0.35"/><circle cx="132.2" cy="416.3" r="0.35"/><circle cx="151.5" cy="429.4" r="0.35"/><circle cx="135.1" cy="421.9" r="0.35"/><circle cx="138.0" cy="421.5" r="0.35"/><circle cx="129.5" cy="432.0" r="0.35"/><circle cx="137.1" cy="438.1" r="0.35"/><circle cx="140.9" cy="446.9" r="0.35"/><circle cx="139.0" cy="435.7" r="0.35"/><circle cx="141.7" cy="422.7" r="0.35"/><circle cx="151.4" cy="425.7" r="0.35"/><circle cx="123.4" cy="447.7" r="0.35"/><circle cx="146.0" cy="425.6" r="0.35"/><circle cx="149.1" cy="444.2" r="0.35"/><circle cx="146.5" cy="418.3" r="0.35"/><circle cx="141.2" cy="419.9" r="0.35"/><circle cx="133.2" cy="425.7" r="0.35"/><circle cx="130.9" cy="438.5" r="0.35"/><circle cx="131.4" cy="440.0" r="0.35"/><circle cx="141.1" cy="425.1" r="0.35"/><circle cx="141.1" cy="440.8" r="0.35"/><circle cx="151.0" cy="429.4" r="0.35"/><circle cx="157.0" cy="439.4" r="0.35"/><circle cx="152.0" cy="416.1" r="0.35"/><circle cx="128.7" cy="447.2" r="0.35"/><circle cx="137.1" cy="438.1" r="0.35"/><circle cx="151.5" cy="415.0" r="0.35"/><circle cx="144.0" cy="456.0" r="0.35"/><circle cx="147.5" cy="433.6" r="0.35"/><circle cx="145.1" cy="432.6" r="0.35"/><circle cx="147.2" cy="448.3" r="0.35"/><circle cx="137.1" cy="439.5" r="0.35"/><circle cx="142.5" cy="441.5" r="0.35"/><circle cx="147.9" cy="419.5" r="0.35"/><circle cx="151.2" cy="442.9" r="0.35"/><circle cx="128.4" cy="429.0" r="0.35"/><circle cx="124.7" cy="429.0" r="0.35"/><circle cx="142.7" cy="418.5" r="0.35"/><circle cx="131.6" cy="421.9" r="0.35"/><circle cx="132.4" cy="423.1" r="0.35"/><circle cx="128.6" cy="439.4" r="0.35"/><circle cx="137.2" cy="422.5" r="0.35"/><circle cx="149.4" cy="425.7" r="0.35"/><circle cx="148.4" cy="417.5" r="0.35"/><circle cx="153.6" cy="427.1" r="0.35"/><circle cx="129.9" cy="437.4" r="0.35"/><circle cx="125.9" cy="419.4" r="0.35"/><circle cx="141.8" cy="426.6" r="0.35"/><circle cx="143.4" cy="434.2" r="0.35"/><circle cx="141.9" cy="434.1" r="0.35"/><circle cx="146.6" cy="432.5" r="0.35"/><circle cx="150.5" cy="443.9" r="0.35"/><circle cx="119.6" cy="411.3" r="0.35"/><circle cx="155.1" cy="427.1" r="0.35"/><circle cx="141.3" cy="431.1" r="0.35"/><circle cx="142.2" cy="459.1" r="0.35"/><circle cx="132.3" cy="433.3" r="0.35"/><circle cx="139.4" cy="419.4" r="0.35"/><circle cx="130.6" cy="429.2" r="0.35"/><circle cx="139.2" cy="437.1" r="0.35"/><circle cx="119.7" cy="413.6" r="0.35"/><circle cx="156.0" cy="430.3" r="0.35"/><circle cx="147.7" cy="427.4" r="0.35"/><circle cx="132.2" cy="458.0" r="0.35"/><circle cx="127.0" cy="421.5" r="0.35"/><circle cx="146.2" cy="432.7" r="0.35"/><circle cx="122.9" cy="434.1" r="0.35"/><circle cx="146.7" cy="414.1" r="0.35"/><circle cx="133.8" cy="441.9" r="0.35"/><circle cx="158.6" cy="404.4" r="0.35"/><circle cx="132.4" cy="432.7" r="0.35"/><circle cx="130.2" cy="421.5" r="0.35"/><circle cx="134.3" cy="438.6" r="0.35"/><circle cx="128.7" cy="442.9" r="0.35"/><circle cx="147.7" cy="442.7" r="0.35"/><circle cx="154.8" cy="426.1" r="0.35"/><circle cx="138.9" cy="444.5" r="0.35"/><circle cx="152.1" cy="443.8" r="0.35"/><circle cx="134.8" cy="426.6" r="0.35"/><circle cx="126.1" cy="427.2" r="0.35"/><circle cx="130.4" cy="426.5" r="0.35"/><circle cx="135.6" cy="442.5" r="0.35"/><circle cx="148.0" cy="431.8" r="0.35"/><circle cx="127.9" cy="431.8" r="0.35"/><circle cx="143.7" cy="442.7" r="0.35"/><circle cx="141.5" cy="442.2" r="0.35"/><circle cx="132.8" cy="440.3" r="0.35"/><circle cx="146.8" cy="428.2" r="0.35"/><circle cx="131.8" cy="447.3" r="0.35"/><circle cx="129.4" cy="440.7" r="0.35"/><circle cx="136.7" cy="428.2" r="0.35"/><circle cx="136.8" cy="427.1" r="0.35"/><circle cx="139.0" cy="453.9" r="0.35"/><circle cx="153.9" cy="430.8" r="0.35"/><circle cx="144.1" cy="443.4" r="0.35"/><circle cx="135.1" cy="454.5" r="0.35"/><circle cx="139.7" cy="439.9" r="0.35"/></g>
<g filter="url(#wob)">
<g filter="url(#bl45)"><path d="M49.50,425.00 C50.00,422.58 50.25,421.37 52.00,420.50 C53.75,419.63 57.33,420.13 60.00,419.80 C62.67,419.47 65.33,419.05 68.00,418.50 C70.67,417.95 73.58,416.58 76.00,416.50 C78.42,416.42 81.07,416.75 82.50,418.00 C83.93,419.25 84.27,421.50 84.60,424.00 C84.93,426.50 84.60,430.33 84.50,433.00 C84.40,435.67 84.33,437.50 84.00,440.00 C83.67,442.50 83.33,446.00 82.50,448.00 C81.67,450.00 80.75,451.33 79.00,452.00 C77.25,452.67 74.17,451.83 72.00,452.00 C69.83,452.17 68.00,452.33 66.00,453.00 C64.00,453.67 62.17,454.92 60.00,456.00 C57.83,457.08 54.70,459.50 53.00,459.50 C51.30,459.50 50.43,458.42 49.80,456.00 C49.17,453.58 49.33,448.50 49.20,445.00 C49.07,441.50 48.95,438.33 49.00,435.00 C49.05,431.67 49.00,427.42 49.50,425.00Z" fill="#1026e0"/><path d="M51.25,425.90 C51.70,423.72 51.92,422.63 53.50,421.85 C55.08,421.07 58.30,421.52 60.70,421.22 C63.10,420.92 65.50,420.55 67.90,420.05 C70.30,419.56 72.92,418.32 75.10,418.25 C77.27,418.18 79.66,418.48 80.95,419.60 C82.24,420.73 82.54,422.75 82.84,425.00 C83.14,427.25 82.84,430.70 82.75,433.10 C82.66,435.50 82.60,437.15 82.30,439.40 C82.00,441.65 81.70,444.80 80.95,446.60 C80.20,448.40 79.38,449.60 77.80,450.20 C76.22,450.80 73.45,450.05 71.50,450.20 C69.55,450.35 67.90,450.50 66.10,451.10 C64.30,451.70 62.65,452.83 60.70,453.80 C58.75,454.77 55.93,456.95 54.40,456.95 C52.87,456.95 52.09,455.98 51.52,453.80 C50.95,451.62 51.10,447.05 50.98,443.90 C50.86,440.75 50.75,437.90 50.80,434.90 C50.84,431.90 50.80,428.07 51.25,425.90Z" fill="#1e5cf0"/><path d="M53.00,426.80 C53.40,424.87 53.60,423.89 55.00,423.20 C56.40,422.51 59.27,422.91 61.40,422.64 C63.53,422.37 65.67,422.04 67.80,421.60 C69.93,421.16 72.27,420.07 74.20,420.00 C76.13,419.93 78.25,420.20 79.40,421.20 C80.55,422.20 80.81,424.00 81.08,426.00 C81.35,428.00 81.08,431.07 81.00,433.20 C80.92,435.33 80.87,436.80 80.60,438.80 C80.33,440.80 80.07,443.60 79.40,445.20 C78.73,446.80 78.00,447.87 76.60,448.40 C75.20,448.93 72.73,448.27 71.00,448.40 C69.27,448.53 67.80,448.67 66.20,449.20 C64.60,449.73 63.13,450.73 61.40,451.60 C59.67,452.47 57.16,454.40 55.80,454.40 C54.44,454.40 53.75,453.53 53.24,451.60 C52.73,449.67 52.87,445.60 52.76,442.80 C52.65,440.00 52.56,437.47 52.60,434.80 C52.64,432.13 52.60,428.73 53.00,426.80Z" fill="#1aa8f0"/><path d="M55.10,427.88 C55.44,426.24 55.61,425.41 56.80,424.82 C57.99,424.23 60.43,424.57 62.24,424.34 C64.05,424.12 65.87,423.83 67.68,423.46 C69.49,423.09 71.48,422.16 73.12,422.10 C74.76,422.04 76.57,422.27 77.54,423.12 C78.51,423.97 78.74,425.50 78.97,427.20 C79.19,428.90 78.97,431.51 78.90,433.32 C78.83,435.13 78.79,436.38 78.56,438.08 C78.33,439.78 78.11,442.16 77.54,443.52 C76.97,444.88 76.35,445.79 75.16,446.24 C73.97,446.69 71.87,446.13 70.40,446.24 C68.93,446.35 67.68,446.47 66.32,446.92 C64.96,447.37 63.71,448.22 62.24,448.96 C60.77,449.70 58.64,451.34 57.48,451.34 C56.32,451.34 55.73,450.60 55.30,448.96 C54.87,447.32 54.99,443.86 54.90,441.48 C54.81,439.10 54.73,436.95 54.76,434.68 C54.79,432.41 54.76,429.52 55.10,427.88Z" fill="#22d8a0"/><path d="M57.90,429.32 C58.16,428.06 58.29,427.43 59.20,426.98 C60.11,426.53 61.97,426.79 63.36,426.62 C64.75,426.44 66.13,426.23 67.52,425.94 C68.91,425.65 70.42,424.94 71.68,424.90 C72.94,424.86 74.31,425.03 75.06,425.68 C75.81,426.33 75.98,427.50 76.15,428.80 C76.33,430.10 76.15,432.09 76.10,433.48 C76.05,434.87 76.01,435.82 75.84,437.12 C75.67,438.42 75.49,440.24 75.06,441.28 C74.63,442.32 74.15,443.01 73.24,443.36 C72.33,443.71 70.73,443.27 69.60,443.36 C68.47,443.45 67.52,443.53 66.48,443.88 C65.44,444.23 64.49,444.88 63.36,445.44 C62.23,446.00 60.60,447.26 59.72,447.26 C58.84,447.26 58.39,446.70 58.06,445.44 C57.73,444.18 57.81,441.54 57.74,439.72 C57.67,437.90 57.61,436.25 57.64,434.52 C57.67,432.79 57.64,430.58 57.90,429.32Z" fill="#50e040"/></g>
</g>
<g filter="url(#bl50)">
<path d="M57,452 C57,440 58,432 60,427 C63,423 70,422.5 78,422.5 C81,422.5 82,425 82,428 C82,431 79,432 74,432.5 C68,433 65,434 64,438 C63,442 63,448 62,452 Z" fill="#50e040" stroke="none" stroke-width="0"/>
<path d="M60,445 C60,438 61,431 63,428 C66,425 72,424.5 78,424.5 C80,424.5 80.5,426 80.5,427.5 C80.5,429.5 78.5,430 74,430.3 C69,430.6 66,431.5 64.5,435 C63.5,438 63,442 62,446 Z" fill="#e0e020" stroke="none" stroke-width="0"/>
<path d="M63,433 C64,428.5 68,426 74,425.3 C78.5,424.8 81,425.5 81,427.8 C81,430 78,430.5 73,430.8 C69,431 66.5,432 65,435 Z" fill="#f08018" stroke="none" stroke-width="0"/>
<path d="M65.5,431 C67,428.2 70,427 74,426.6 C77.5,426.3 79.5,426.8 79.5,427.9 C79.5,429 77,429.3 73.5,429.5 C70,429.8 68,430.3 66.6,432 Z" fill="#e01818" stroke="none" stroke-width="0"/>
</g>
<g filter="url(#wob)">
<g filter="url(#bl45)"><path d="M126.00,440.00 C126.20,438.00 126.33,435.17 127.00,433.00 C127.67,430.83 128.50,428.58 130.00,427.00 C131.50,425.42 133.83,424.33 136.00,423.50 C138.17,422.67 140.83,422.33 143.00,422.00 C145.17,421.67 147.67,420.83 149.00,421.50 C150.33,422.17 150.75,423.92 151.00,426.00 C151.25,428.08 150.67,431.33 150.50,434.00 C150.33,436.67 150.25,439.33 150.00,442.00 C149.75,444.67 149.58,447.67 149.00,450.00 C148.42,452.33 147.33,454.50 146.50,456.00 C145.67,457.50 145.08,458.83 144.00,459.00 C142.92,459.17 141.67,458.17 140.00,457.00 C138.33,455.83 136.00,453.33 134.00,452.00 C132.00,450.67 129.37,450.17 128.00,449.00 C126.63,447.83 126.13,446.50 125.80,445.00 C125.47,443.50 125.80,442.00 126.00,440.00Z" fill="#1026e0"/><path d="M128.04,439.54 C128.22,437.82 128.33,435.38 128.90,433.52 C129.48,431.65 130.19,429.72 131.48,428.36 C132.77,427.00 134.78,426.06 136.64,425.35 C138.51,424.63 140.80,424.34 142.66,424.06 C144.53,423.77 146.68,423.05 147.82,423.63 C148.97,424.20 149.33,425.71 149.54,427.50 C149.76,429.29 149.26,432.08 149.11,434.38 C148.97,436.67 148.90,438.96 148.68,441.26 C148.47,443.55 148.33,446.13 147.82,448.14 C147.32,450.14 146.39,452.01 145.67,453.30 C144.96,454.59 144.46,455.73 143.52,455.88 C142.59,456.02 141.52,455.16 140.08,454.16 C138.65,453.15 136.64,451.00 134.92,449.86 C133.20,448.71 130.94,448.28 129.76,447.28 C128.59,446.27 128.16,445.13 127.87,443.84 C127.59,442.55 127.87,441.26 128.04,439.54Z" fill="#1e5cf0"/><path d="M130.09,439.08 C130.23,437.64 130.33,435.60 130.81,434.04 C131.29,432.48 131.89,430.86 132.97,429.72 C134.05,428.58 135.73,427.80 137.29,427.20 C138.85,426.60 140.77,426.36 142.33,426.12 C143.89,425.88 145.69,425.28 146.65,425.76 C147.61,426.24 147.91,427.50 148.09,429.00 C148.27,430.50 147.85,432.84 147.73,434.76 C147.61,436.68 147.55,438.60 147.37,440.52 C147.19,442.44 147.07,444.60 146.65,446.28 C146.23,447.96 145.45,449.52 144.85,450.60 C144.25,451.68 143.83,452.64 143.05,452.76 C142.27,452.88 141.37,452.16 140.17,451.32 C138.97,450.48 137.29,448.68 135.85,447.72 C134.41,446.76 132.51,446.40 131.53,445.56 C130.54,444.72 130.18,443.76 129.94,442.68 C129.70,441.60 129.94,440.52 130.09,439.08Z" fill="#1aa8f0"/><path d="M131.84,438.68 C131.96,437.48 132.04,435.78 132.44,434.48 C132.84,433.18 133.34,431.83 134.24,430.88 C135.14,429.93 136.54,429.28 137.84,428.78 C139.14,428.28 140.74,428.08 142.04,427.88 C143.34,427.68 144.84,427.18 145.64,427.58 C146.44,427.98 146.69,429.03 146.84,430.28 C146.99,431.53 146.64,433.48 146.54,435.08 C146.44,436.68 146.39,438.28 146.24,439.88 C146.09,441.48 145.99,443.28 145.64,444.68 C145.29,446.08 144.64,447.38 144.14,448.28 C143.64,449.18 143.29,449.98 142.64,450.08 C141.99,450.18 141.24,449.58 140.24,448.88 C139.24,448.18 137.84,446.68 136.64,445.88 C135.44,445.08 133.86,444.78 133.04,444.08 C132.22,443.38 131.92,442.58 131.72,441.68 C131.52,440.78 131.72,439.88 131.84,438.68Z" fill="#22d8a0"/><path d="M133.59,438.28 C133.69,437.32 133.75,435.96 134.07,434.92 C134.39,433.88 134.79,432.80 135.51,432.04 C136.23,431.28 137.35,430.76 138.39,430.36 C139.43,429.96 140.71,429.80 141.75,429.64 C142.79,429.48 143.99,429.08 144.63,429.40 C145.27,429.72 145.47,430.56 145.59,431.56 C145.71,432.56 145.43,434.12 145.35,435.40 C145.27,436.68 145.23,437.96 145.11,439.24 C144.99,440.52 144.91,441.96 144.63,443.08 C144.35,444.20 143.83,445.24 143.43,445.96 C143.03,446.68 142.75,447.32 142.23,447.40 C141.71,447.48 141.11,447.00 140.31,446.44 C139.51,445.88 138.39,444.68 137.43,444.04 C136.47,443.40 135.21,443.16 134.55,442.60 C133.90,442.04 133.66,441.40 133.50,440.68 C133.34,439.96 133.50,439.24 133.59,438.28Z" fill="#60e040"/><path d="M135.20,437.92 C135.27,437.18 135.32,436.13 135.57,435.33 C135.81,434.53 136.12,433.70 136.68,433.11 C137.23,432.53 138.10,432.12 138.90,431.82 C139.70,431.51 140.69,431.38 141.49,431.26 C142.29,431.14 143.21,430.83 143.71,431.08 C144.20,431.32 144.36,431.97 144.45,432.74 C144.54,433.51 144.32,434.71 144.26,435.70 C144.20,436.69 144.17,437.67 144.08,438.66 C143.99,439.65 143.92,440.76 143.71,441.62 C143.49,442.48 143.09,443.29 142.78,443.84 C142.47,444.40 142.26,444.89 141.86,444.95 C141.46,445.01 140.99,444.64 140.38,444.21 C139.76,443.78 138.90,442.85 138.16,442.36 C137.42,441.87 136.44,441.68 135.94,441.25 C135.43,440.82 135.25,440.33 135.12,439.77 C135.00,439.22 135.12,438.66 135.20,437.92Z" fill="#e0e020"/><path d="M136.66,437.59 C136.71,437.05 136.75,436.29 136.93,435.70 C137.11,435.12 137.33,434.51 137.74,434.08 C138.14,433.65 138.77,433.36 139.36,433.14 C139.94,432.91 140.66,432.82 141.25,432.73 C141.83,432.64 142.51,432.42 142.87,432.60 C143.23,432.78 143.34,433.25 143.41,433.81 C143.48,434.37 143.32,435.25 143.27,435.97 C143.23,436.69 143.21,437.41 143.14,438.13 C143.07,438.85 143.03,439.66 142.87,440.29 C142.71,440.92 142.42,441.51 142.19,441.91 C141.97,442.32 141.81,442.68 141.52,442.72 C141.23,442.77 140.89,442.50 140.44,442.18 C139.99,441.87 139.36,441.19 138.82,440.83 C138.28,440.47 137.57,440.34 137.20,440.02 C136.83,439.71 136.69,439.35 136.60,438.94 C136.51,438.54 136.60,438.13 136.66,437.59Z" fill="#f08018"/><path d="M138.12,437.26 C138.15,436.92 138.17,436.44 138.29,436.07 C138.40,435.70 138.54,435.32 138.80,435.05 C139.05,434.78 139.45,434.60 139.82,434.46 C140.19,434.31 140.64,434.26 141.01,434.20 C141.38,434.14 141.80,434.00 142.03,434.12 C142.25,434.23 142.33,434.53 142.37,434.88 C142.41,435.24 142.31,435.79 142.28,436.24 C142.25,436.69 142.24,437.15 142.20,437.60 C142.16,438.05 142.13,438.56 142.03,438.96 C141.93,439.36 141.74,439.73 141.60,439.98 C141.46,440.24 141.36,440.46 141.18,440.49 C140.99,440.52 140.78,440.35 140.50,440.15 C140.21,439.95 139.82,439.53 139.48,439.30 C139.14,439.07 138.69,438.99 138.46,438.79 C138.23,438.59 138.14,438.37 138.08,438.11 C138.03,437.86 138.08,437.60 138.12,437.26Z" fill="#e01818"/></g>
</g>
<line x1="64.40" y1="401.00" x2="64.40" y2="464.20" stroke="#9a5aa0" stroke-width="0.7"/>
<line x1="36.50" y1="442.50" x2="94.50" y2="442.50" stroke="#9a5aa0" stroke-width="0.7"/>
<text x="37.50" y="407.20" font-size="5.0" font-weight="normal" text-anchor="start" fill="#9a5aa0">25.8</text>
<text x="94.30" y="407.20" font-size="5.0" font-weight="normal" text-anchor="end" fill="#9a5aa0">55</text>
<text x="37.50" y="462.30" font-size="5.0" font-weight="normal" text-anchor="start" fill="#9a5aa0">15.3</text>
<text x="94.30" y="462.30" font-size="5.0" font-weight="normal" text-anchor="end" fill="#9a5aa0">3.99</text>
<line x1="134.40" y1="401.00" x2="134.40" y2="464.20" stroke="#9a5aa0" stroke-width="0.7"/>
<line x1="106.30" y1="442.50" x2="164.80" y2="442.50" stroke="#9a5aa0" stroke-width="0.7"/>
<text x="107.30" y="407.20" font-size="5.0" font-weight="normal" text-anchor="start" fill="#9a5aa0">4.12</text>
<text x="164.60" y="407.20" font-size="5.0" font-weight="normal" text-anchor="end" fill="#9a5aa0">72.4</text>
<text x="107.30" y="462.30" font-size="5.0" font-weight="normal" text-anchor="start" fill="#9a5aa0">3.46</text>
<text x="164.60" y="462.30" font-size="5.0" font-weight="normal" text-anchor="end" fill="#9a5aa0">20</text>
<line x1="19.30" y1="404.50" x2="19.30" y2="441.50" stroke="#000" stroke-width="1.0"/>
<path d="M19.30,400.50 L17.10,405.00 L21.50,405.00Z" fill="#000" stroke="none" stroke-width="1"/>
<text x="21.60" y="456.80" font-size="6.4" font-weight="normal" text-anchor="middle" fill="#000" transform="rotate(-90 21.6 456.8)">CD123</text>
<text x="32.30" y="481.60" font-size="6.2" font-weight="normal" text-anchor="start" fill="#000">Ki-67</text>
<line x1="52.00" y1="479.30" x2="160.50" y2="479.30" stroke="#000" stroke-width="1.0"/>
<path d="M165.00,479.30 L160.00,476.80 L160.00,481.80Z" fill="#000" stroke="none" stroke-width="1"/>
<line x1="199.20" y1="399.50" x2="199.20" y2="452.00" stroke="#000" stroke-width="1.5"/>
<line x1="199.20" y1="456.50" x2="199.20" y2="462.60" stroke="#000" stroke-width="1.6"/>
<line x1="198.50" y1="462.30" x2="234.60" y2="462.30" stroke="#000" stroke-width="1.4"/>
<line x1="196.60" y1="451.20" x2="199.20" y2="451.20" stroke="#000" stroke-width="1.2"/>
<text x="196.20" y="453.50" font-size="6.4" font-weight="bold" text-anchor="end" fill="#000">50</text>
<line x1="196.60" y1="440.95" x2="199.20" y2="440.95" stroke="#000" stroke-width="1.2"/>
<text x="196.20" y="443.25" font-size="6.4" font-weight="bold" text-anchor="end" fill="#000">60</text>
<line x1="196.60" y1="430.70" x2="199.20" y2="430.70" stroke="#000" stroke-width="1.2"/>
<text x="196.20" y="433.00" font-size="6.4" font-weight="bold" text-anchor="end" fill="#000">70</text>
<line x1="196.60" y1="420.45" x2="199.20" y2="420.45" stroke="#000" stroke-width="1.2"/>
<text x="196.20" y="422.75" font-size="6.4" font-weight="bold" text-anchor="end" fill="#000">80</text>
<line x1="196.60" y1="410.20" x2="199.20" y2="410.20" stroke="#000" stroke-width="1.2"/>
<text x="196.20" y="412.50" font-size="6.4" font-weight="bold" text-anchor="end" fill="#000">90</text>
<line x1="196.60" y1="399.95" x2="199.20" y2="399.95" stroke="#000" stroke-width="1.2"/>
<text x="196.20" y="402.25" font-size="6.4" font-weight="bold" text-anchor="end" fill="#000">100</text>
<text x="187.00" y="430.80" font-size="6.7" font-weight="normal" text-anchor="middle" fill="#000" transform="rotate(-90 187.0 430.8)">CD123+</text>
<line x1="208.50" y1="462.30" x2="208.50" y2="464.80" stroke="#000" stroke-width="1.1"/>
<line x1="225.70" y1="462.30" x2="225.70" y2="464.80" stroke="#000" stroke-width="1.1"/>
<text x="218.00" y="471.00" font-size="6.6" font-weight="bold" text-anchor="middle" fill="#000">Ki67- Ki67+</text>
<line x1="209.20" y1="400.80" x2="225.80" y2="400.80" stroke="#000" stroke-width="1.4"/>
<text x="217.70" y="399.20" font-size="6.6" font-weight="bold" text-anchor="middle" fill="#000">**</text>
<circle cx="208.50" cy="427.40" r="1.90" fill="#fff" stroke="#000" stroke-width="0.9"/>
<circle cx="211.80" cy="437.80" r="1.90" fill="#fff" stroke="#000" stroke-width="0.9"/>
<circle cx="206.20" cy="443.00" r="1.90" fill="#fff" stroke="#000" stroke-width="0.9"/>
<line x1="204.00" y1="436.20" x2="214.00" y2="436.20" stroke="#000" stroke-width="1.0"/>
<line x1="209.00" y1="431.50" x2="209.00" y2="440.80" stroke="#000" stroke-width="0.9"/>
<line x1="207.40" y1="431.50" x2="210.60" y2="431.50" stroke="#000" stroke-width="0.9"/>
<rect x="222.30" y="405.50" width="3.80" height="3.80" fill="#000" stroke="none" stroke-width="1"/>
<rect x="227.30" y="405.50" width="3.80" height="3.80" fill="#000" stroke="none" stroke-width="1"/>
<rect x="224.30" y="414.60" width="3.80" height="3.80" fill="#000" stroke="none" stroke-width="1"/>
<line x1="220.80" y1="410.30" x2="232.00" y2="410.30" stroke="#000" stroke-width="1.0"/>
<line x1="226.30" y1="407.00" x2="226.30" y2="414.00" stroke="#000" stroke-width="0.9"/>
<text x="304.90" y="386.90" font-size="11.2" font-weight="bold" text-anchor="start" fill="#000">F</text>
<line x1="318.30" y1="388.80" x2="516.80" y2="388.80" stroke="#8a8a8a" stroke-width="1.3"/>
<line x1="318.30" y1="436.80" x2="516.80" y2="436.80" stroke="#8a8a8a" stroke-width="1.3"/>
<line x1="318.30" y1="483.60" x2="516.80" y2="483.60" stroke="#8a8a8a" stroke-width="1.3"/>
<line x1="318.30" y1="388.80" x2="318.30" y2="483.60" stroke="#8a8a8a" stroke-width="1.3"/>
<line x1="367.60" y1="388.80" x2="367.60" y2="483.60" stroke="#8a8a8a" stroke-width="1.3"/>
<line x1="417.60" y1="388.80" x2="417.60" y2="483.60" stroke="#8a8a8a" stroke-width="1.3"/>
<line x1="467.50" y1="388.80" x2="467.50" y2="483.60" stroke="#8a8a8a" stroke-width="1.3"/>
<line x1="516.80" y1="388.80" x2="516.80" y2="483.60" stroke="#8a8a8a" stroke-width="1.3"/>
<line x1="325.90" y1="391.30" x2="325.90" y2="430.90" stroke="#555" stroke-width="0.6"/>
<line x1="325.90" y1="430.90" x2="367.10" y2="430.90" stroke="#222" stroke-width="0.9"/>
<text x="324.10" y="393.80" font-size="3.2" font-weight="bold" text-anchor="end" fill="#444" transform-origin="0 0">10</text>
<text x="324.10" y="401.80" font-size="3.2" font-weight="bold" text-anchor="end" fill="#444" transform-origin="0 0">10</text>
<text x="324.10" y="411.00" font-size="3.2" font-weight="bold" text-anchor="end" fill="#444" transform-origin="0 0">10</text>
<text x="324.10" y="420.50" font-size="3.2" font-weight="bold" text-anchor="end" fill="#444" transform-origin="0 0">10</text>
<text x="324.10" y="425.50" font-size="3.2" font-weight="bold" text-anchor="end" fill="#444" transform-origin="0 0">10</text>
<text x="334.14" y="434.80" font-size="3.2" font-weight="bold" text-anchor="middle" fill="#444">10</text>
<text x="344.44" y="434.80" font-size="3.2" font-weight="bold" text-anchor="middle" fill="#444">10</text>
<text x="353.92" y="434.80" font-size="3.2" font-weight="bold" text-anchor="middle" fill="#444">10</text>
<text x="362.98" y="434.80" font-size="3.2" font-weight="bold" text-anchor="middle" fill="#444">10</text>
<line x1="375.20" y1="391.30" x2="375.20" y2="430.90" stroke="#555" stroke-width="0.6"/>
<line x1="375.20" y1="430.90" x2="416.40" y2="430.90" stroke="#222" stroke-width="0.9"/>
<text x="373.40" y="393.80" font-size="3.2" font-weight="bold" text-anchor="end" fill="#444" transform-origin="0 0">10</text>
<text x="373.40" y="401.80" font-size="3.2" font-weight="bold" text-anchor="end" fill="#444" transform-origin="0 0">10</text>
<text x="373.40" y="411.00" font-size="3.2" font-weight="bold" text-anchor="end" fill="#444" transform-origin="0 0">10</text>
<text x="373.40" y="420.50" font-size="3.2" font-weight="bold" text-anchor="end" fill="#444" transform-origin="0 0">10</text>
<text x="373.40" y="425.50" font-size="3.2" font-weight="bold" text-anchor="end" fill="#444" transform-origin="0 0">10</text>
<text x="383.44" y="434.80" font-size="3.2" font-weight="bold" text-anchor="middle" fill="#444">10</text>
<text x="393.74" y="434.80" font-size="3.2" font-weight="bold" text-anchor="middle" fill="#444">10</text>
<text x="403.22" y="434.80" font-size="3.2" font-weight="bold" text-anchor="middle" fill="#444">10</text>
<text x="412.28" y="434.80" font-size="3.2" font-weight="bold" text-anchor="middle" fill="#444">10</text>
<line x1="425.20" y1="391.30" x2="425.20" y2="430.90" stroke="#555" stroke-width="0.6"/>
<line x1="425.20" y1="430.90" x2="466.40" y2="430.90" stroke="#222" stroke-width="0.9"/>
<text x="423.40" y="393.80" font-size="3.2" font-weight="bold" text-anchor="end" fill="#444" transform-origin="0 0">10</text>
<text x="423.40" y="401.80" font-size="3.2" font-weight="bold" text-anchor="end" fill="#444" transform-origin="0 0">10</text>
<text x="423.40" y="411.00" font-size="3.2" font-weight="bold" text-anchor="end" fill="#444" transform-origin="0 0">10</text>
<text x="423.40" y="420.50" font-size="3.2" font-weight="bold" text-anchor="end" fill="#444" transform-origin="0 0">10</text>
<text x="423.40" y="425.50" font-size="3.2" font-weight="bold" text-anchor="end" fill="#444" transform-origin="0 0">10</text>
<text x="433.44" y="434.80" font-size="3.2" font-weight="bold" text-anchor="middle" fill="#444">10</text>
<text x="443.74" y="434.80" font-size="3.2" font-weight="bold" text-anchor="middle" fill="#444">10</text>
<text x="453.22" y="434.80" font-size="3.2" font-weight="bold" text-anchor="middle" fill="#444">10</text>
<text x="462.28" y="434.80" font-size="3.2" font-weight="bold" text-anchor="middle" fill="#444">10</text>
<line x1="475.10" y1="391.30" x2="475.10" y2="430.90" stroke="#555" stroke-width="0.6"/>
<line x1="475.10" y1="430.90" x2="516.30" y2="430.90" stroke="#222" stroke-width="0.9"/>
<text x="473.30" y="393.80" font-size="3.2" font-weight="bold" text-anchor="end" fill="#444" transform-origin="0 0">10</text>
<text x="473.30" y="401.80" font-size="3.2" font-weight="bold" text-anchor="end" fill="#444" transform-origin="0 0">10</text>
<text x="473.30" y="411.00" font-size="3.2" font-weight="bold" text-anchor="end" fill="#444" transform-origin="0 0">10</text>
<text x="473.30" y="420.50" font-size="3.2" font-weight="bold" text-anchor="end" fill="#444" transform-origin="0 0">10</text>
<text x="473.30" y="425.50" font-size="3.2" font-weight="bold" text-anchor="end" fill="#444" transform-origin="0 0">10</text>
<text x="483.34" y="434.80" font-size="3.2" font-weight="bold" text-anchor="middle" fill="#444">10</text>
<text x="493.64" y="434.80" font-size="3.2" font-weight="bold" text-anchor="middle" fill="#444">10</text>
<text x="503.12" y="434.80" font-size="3.2" font-weight="bold" text-anchor="middle" fill="#444">10</text>
<text x="512.18" y="434.80" font-size="3.2" font-weight="bold" text-anchor="middle" fill="#444">10</text>
<line x1="325.90" y1="439.30" x2="325.90" y2="478.90" stroke="#555" stroke-width="0.6"/>
<line x1="325.90" y1="478.90" x2="367.10" y2="478.90" stroke="#222" stroke-width="0.9"/>
<text x="324.10" y="441.80" font-size="3.2" font-weight="bold" text-anchor="end" fill="#444" transform-origin="0 0">10</text>
<text x="324.10" y="449.80" font-size="3.2" font-weight="bold" text-anchor="end" fill="#444" transform-origin="0 0">10</text>
<text x="324.10" y="459.00" font-size="3.2" font-weight="bold" text-anchor="end" fill="#444" transform-origin="0 0">10</text>
<text x="324.10" y="468.50" font-size="3.2" font-weight="bold" text-anchor="end" fill="#444" transform-origin="0 0">10</text>
<text x="324.10" y="473.50" font-size="3.2" font-weight="bold" text-anchor="end" fill="#444" transform-origin="0 0">10</text>
<text x="334.14" y="482.80" font-size="3.2" font-weight="bold" text-anchor="middle" fill="#444">10</text>
<text x="344.44" y="482.80" font-size="3.2" font-weight="bold" text-anchor="middle" fill="#444">10</text>
<text x="353.92" y="482.80" font-size="3.2" font-weight="bold" text-anchor="middle" fill="#444">10</text>
<text x="362.98" y="482.80" font-size="3.2" font-weight="bold" text-anchor="middle" fill="#444">10</text>
<line x1="375.20" y1="439.30" x2="375.20" y2="478.90" stroke="#555" stroke-width="0.6"/>
<line x1="375.20" y1="478.90" x2="416.40" y2="478.90" stroke="#222" stroke-width="0.9"/>
<text x="373.40" y="441.80" font-size="3.2" font-weight="bold" text-anchor="end" fill="#444" transform-origin="0 0">10</text>
<text x="373.40" y="449.80" font-size="3.2" font-weight="bold" text-anchor="end" fill="#444" transform-origin="0 0">10</text>
<text x="373.40" y="459.00" font-size="3.2" font-weight="bold" text-anchor="end" fill="#444" transform-origin="0 0">10</text>
<text x="373.40" y="468.50" font-size="3.2" font-weight="bold" text-anchor="end" fill="#444" transform-origin="0 0">10</text>
<text x="373.40" y="473.50" font-size="3.2" font-weight="bold" text-anchor="end" fill="#444" transform-origin="0 0">10</text>
<text x="383.44" y="482.80" font-size="3.2" font-weight="bold" text-anchor="middle" fill="#444">10</text>
<text x="393.74" y="482.80" font-size="3.2" font-weight="bold" text-anchor="middle" fill="#444">10</text>
<text x="403.22" y="482.80" font-size="3.2" font-weight="bold" text-anchor="middle" fill="#444">10</text>
<text x="412.28" y="482.80" font-size="3.2" font-weight="bold" text-anchor="middle" fill="#444">10</text>
<line x1="425.20" y1="439.30" x2="425.20" y2="478.90" stroke="#555" stroke-width="0.6"/>
<line x1="425.20" y1="478.90" x2="466.40" y2="478.90" stroke="#222" stroke-width="0.9"/>
<text x="423.40" y="441.80" font-size="3.2" font-weight="bold" text-anchor="end" fill="#444" transform-origin="0 0">10</text>
<text x="423.40" y="449.80" font-size="3.2" font-weight="bold" text-anchor="end" fill="#444" transform-origin="0 0">10</text>
<text x="423.40" y="459.00" font-size="3.2" font-weight="bold" text-anchor="end" fill="#444" transform-origin="0 0">10</text>
<text x="423.40" y="468.50" font-size="3.2" font-weight="bold" text-anchor="end" fill="#444" transform-origin="0 0">10</text>
<text x="423.40" y="473.50" font-size="3.2" font-weight="bold" text-anchor="end" fill="#444" transform-origin="0 0">10</text>
<text x="433.44" y="482.80" font-size="3.2" font-weight="bold" text-anchor="middle" fill="#444">10</text>
<text x="443.74" y="482.80" font-size="3.2" font-weight="bold" text-anchor="middle" fill="#444">10</text>
<text x="453.22" y="482.80" font-size="3.2" font-weight="bold" text-anchor="middle" fill="#444">10</text>
<text x="462.28" y="482.80" font-size="3.2" font-weight="bold" text-anchor="middle" fill="#444">10</text>
<line x1="475.10" y1="439.30" x2="475.10" y2="478.90" stroke="#555" stroke-width="0.6"/>
<line x1="475.10" y1="478.90" x2="516.30" y2="478.90" stroke="#222" stroke-width="0.9"/>
<text x="473.30" y="441.80" font-size="3.2" font-weight="bold" text-anchor="end" fill="#444" transform-origin="0 0">10</text>
<text x="473.30" y="449.80" font-size="3.2" font-weight="bold" text-anchor="end" fill="#444" transform-origin="0 0">10</text>
<text x="473.30" y="459.00" font-size="3.2" font-weight="bold" text-anchor="end" fill="#444" transform-origin="0 0">10</text>
<text x="473.30" y="468.50" font-size="3.2" font-weight="bold" text-anchor="end" fill="#444" transform-origin="0 0">10</text>
<text x="473.30" y="473.50" font-size="3.2" font-weight="bold" text-anchor="end" fill="#444" transform-origin="0 0">10</text>
<text x="483.34" y="482.80" font-size="3.2" font-weight="bold" text-anchor="middle" fill="#444">10</text>
<text x="493.64" y="482.80" font-size="3.2" font-weight="bold" text-anchor="middle" fill="#444">10</text>
<text x="503.12" y="482.80" font-size="3.2" font-weight="bold" text-anchor="middle" fill="#444">10</text>
<text x="512.18" y="482.80" font-size="3.2" font-weight="bold" text-anchor="middle" fill="#444">10</text>
<g filter="url(#wob)">
<g filter="url(#bl40)"><path d="M326.30,402.00 C327.10,400.80 329.22,400.93 331.00,400.80 C332.78,400.67 335.00,400.92 337.00,401.20 C339.00,401.48 341.17,402.37 343.00,402.50 C344.83,402.63 346.42,401.92 348.00,402.00 C349.58,402.08 351.78,402.00 352.50,403.00 C353.22,404.00 353.05,406.58 352.30,408.00 C351.55,409.42 349.72,410.75 348.00,411.50 C346.28,412.25 343.50,412.00 342.00,412.50 C340.50,413.00 340.50,414.17 339.00,414.50 C337.50,414.83 335.00,414.67 333.00,414.50 C331.00,414.33 328.13,414.58 327.00,413.50 C325.87,412.42 326.32,409.92 326.20,408.00 C326.08,406.08 325.50,403.20 326.30,402.00Z" fill="#1020d8"/><path d="M327.49,402.72 C328.17,401.70 329.96,401.81 331.48,401.70 C333.00,401.59 334.88,401.80 336.58,402.04 C338.28,402.28 340.12,403.03 341.68,403.14 C343.24,403.26 344.58,402.65 345.93,402.72 C347.28,402.79 349.15,402.72 349.75,403.57 C350.36,404.42 350.22,406.62 349.59,407.82 C348.95,409.02 347.39,410.16 345.93,410.80 C344.47,411.43 342.11,411.22 340.83,411.64 C339.55,412.07 339.55,413.06 338.28,413.35 C337.00,413.63 334.88,413.49 333.18,413.35 C331.48,413.20 329.04,413.42 328.08,412.50 C327.12,411.57 327.50,409.45 327.40,407.82 C327.30,406.19 326.81,403.74 327.49,402.72Z" fill="#1e60f0"/><path d="M328.83,403.54 C329.37,402.72 330.81,402.81 332.02,402.72 C333.24,402.63 334.74,402.80 336.10,402.99 C337.46,403.18 338.94,403.79 340.18,403.88 C341.43,403.97 342.51,403.48 343.58,403.54 C344.66,403.59 346.16,403.54 346.64,404.22 C347.13,404.90 347.02,406.65 346.51,407.62 C346.00,408.58 344.75,409.49 343.58,410.00 C342.42,410.51 340.52,410.34 339.50,410.68 C338.48,411.02 338.48,411.81 337.46,412.04 C336.44,412.26 334.74,412.15 333.38,412.04 C332.02,411.92 330.07,412.09 329.30,411.36 C328.53,410.62 328.84,408.92 328.76,407.62 C328.68,406.31 328.28,404.35 328.83,403.54Z" fill="#1aa8ee"/><path d="M330.25,404.40 C330.65,403.80 331.71,403.87 332.60,403.80 C333.49,403.73 334.60,403.86 335.60,404.00 C336.60,404.14 337.68,404.58 338.60,404.65 C339.52,404.72 340.31,404.36 341.10,404.40 C341.89,404.44 342.99,404.40 343.35,404.90 C343.71,405.40 343.62,406.69 343.25,407.40 C342.88,408.11 341.96,408.77 341.10,409.15 C340.24,409.52 338.85,409.40 338.10,409.65 C337.35,409.90 337.35,410.48 336.60,410.65 C335.85,410.82 334.60,410.73 333.60,410.65 C332.60,410.57 331.17,410.69 330.60,410.15 C330.03,409.61 330.26,408.36 330.20,407.40 C330.14,406.44 329.85,405.00 330.25,404.40Z" fill="#30d8a0"/><path d="M331.20,404.98 C331.50,404.52 332.31,404.57 332.98,404.52 C333.66,404.47 334.50,404.56 335.26,404.67 C336.02,404.78 336.85,405.12 337.54,405.17 C338.24,405.22 338.84,404.94 339.44,404.98 C340.05,405.01 340.88,404.98 341.15,405.36 C341.43,405.74 341.36,406.72 341.08,407.26 C340.79,407.79 340.10,408.30 339.44,408.59 C338.79,408.87 337.73,408.78 337.16,408.97 C336.59,409.16 336.59,409.60 336.02,409.73 C335.45,409.85 334.50,409.79 333.74,409.73 C332.98,409.66 331.89,409.76 331.46,409.35 C331.03,408.93 331.20,407.98 331.16,407.26 C331.12,406.53 330.89,405.43 331.20,404.98Z" fill="#80e040"/><path d="M331.99,405.46 C332.21,405.12 332.80,405.16 333.30,405.12 C333.80,405.08 334.42,405.15 334.98,405.23 C335.54,405.31 336.15,405.56 336.66,405.60 C337.18,405.63 337.62,405.43 338.06,405.46 C338.51,405.48 339.12,405.46 339.32,405.74 C339.52,406.02 339.48,406.74 339.27,407.14 C339.06,407.53 338.54,407.91 338.06,408.12 C337.58,408.33 336.80,408.26 336.38,408.40 C335.96,408.54 335.96,408.86 335.54,408.96 C335.12,409.05 334.42,409.00 333.86,408.96 C333.30,408.91 332.50,408.98 332.18,408.68 C331.87,408.37 331.99,407.67 331.96,407.14 C331.93,406.60 331.76,405.79 331.99,405.46Z" fill="#e8e020"/><path d="M332.78,405.94 C332.92,405.72 333.30,405.74 333.62,405.72 C333.94,405.70 334.34,405.74 334.70,405.79 C335.06,405.84 335.45,406.00 335.78,406.03 C336.11,406.05 336.40,405.92 336.68,405.94 C336.97,405.95 337.36,405.94 337.49,406.12 C337.62,406.30 337.59,406.76 337.46,407.02 C337.32,407.27 336.99,407.51 336.68,407.65 C336.38,407.78 335.87,407.74 335.60,407.83 C335.33,407.92 335.33,408.13 335.06,408.19 C334.79,408.25 334.34,408.22 333.98,408.19 C333.62,408.16 333.11,408.20 332.90,408.01 C332.70,407.81 332.78,407.36 332.76,407.02 C332.74,406.67 332.63,406.15 332.78,405.94Z" fill="#f09010"/><path d="M333.41,406.32 C333.49,406.20 333.70,406.21 333.88,406.20 C334.06,406.19 334.28,406.21 334.48,406.24 C334.68,406.27 334.90,406.36 335.08,406.37 C335.26,406.38 335.42,406.31 335.58,406.32 C335.74,406.33 335.96,406.32 336.03,406.42 C336.10,406.52 336.08,406.78 336.01,406.92 C335.94,407.06 335.75,407.19 335.58,407.27 C335.41,407.34 335.13,407.32 334.98,407.37 C334.83,407.42 334.83,407.54 334.68,407.57 C334.53,407.60 334.28,407.59 334.08,407.57 C333.88,407.55 333.59,407.58 333.48,407.47 C333.37,407.36 333.41,407.11 333.40,406.92 C333.39,406.73 333.33,406.44 333.41,406.32Z" fill="#d82008"/></g>
</g>
<g filter="url(#wob)">
<g filter="url(#bl40)"><path d="M326.50,414.00 C327.28,412.58 329.08,413.50 331.00,413.50 C332.92,413.50 336.50,413.25 338.00,414.00 C339.50,414.75 339.83,416.33 340.00,418.00 C340.17,419.67 339.50,422.33 339.00,424.00 C338.50,425.67 337.17,426.83 337.00,428.00 C336.83,429.17 339.00,430.50 338.00,431.00 C337.00,431.50 332.93,431.00 331.00,431.00 C329.07,431.00 327.18,432.50 326.40,431.00 C325.62,429.50 326.28,424.83 326.30,422.00 C326.32,419.17 325.72,415.42 326.50,414.00Z" fill="#1020d8"/><path d="M327.75,416.25 C328.34,415.19 329.69,415.88 331.12,415.88 C332.56,415.88 335.25,415.69 336.38,416.25 C337.50,416.81 337.75,418.00 337.88,419.25 C338.00,420.50 337.50,422.50 337.12,423.75 C336.75,425.00 335.75,425.88 335.62,426.75 C335.50,427.62 337.12,428.62 336.38,429.00 C335.62,429.38 332.57,429.00 331.12,429.00 C329.68,429.00 328.26,430.12 327.67,429.00 C327.09,427.88 327.59,424.38 327.60,422.25 C327.61,420.12 327.16,417.31 327.75,416.25Z" fill="#1e5ef0"/><path d="M329.25,418.95 C329.60,418.31 330.41,418.73 331.27,418.73 C332.14,418.73 333.75,418.61 334.43,418.95 C335.10,419.29 335.25,420.00 335.32,420.75 C335.40,421.50 335.10,422.70 334.88,423.45 C334.65,424.20 334.05,424.73 333.98,425.25 C333.90,425.77 334.88,426.38 334.43,426.60 C333.98,426.83 332.14,426.60 331.27,426.60 C330.40,426.60 329.56,427.28 329.20,426.60 C328.85,425.93 329.15,423.83 329.16,422.55 C329.17,421.27 328.90,419.59 329.25,418.95Z" fill="#2a90f0"/></g>
</g>
<g filter="url(#wob)">
<g filter="url(#bl40)"><path d="M360.70,425.20 C360.70,426.23 360.51,427.41 360.20,428.30 C359.90,429.19 359.38,430.05 358.85,430.57 C358.32,431.09 357.62,431.40 357.00,431.40 C356.38,431.40 355.68,431.09 355.15,430.57 C354.62,430.05 354.10,429.19 353.80,428.30 C353.49,427.41 353.30,426.23 353.30,425.20 C353.30,424.17 353.49,422.99 353.80,422.10 C354.10,421.21 354.62,420.35 355.15,419.83 C355.68,419.31 356.38,419.00 357.00,419.00 C357.62,419.00 358.32,419.31 358.85,419.83 C359.38,420.35 359.90,421.21 360.20,422.10 C360.51,422.99 360.70,424.17 360.70,425.20Z" fill="#1020d8"/><path d="M359.59,425.29 C359.59,426.01 359.46,426.83 359.24,427.46 C359.03,428.09 358.67,428.69 358.30,429.05 C357.92,429.41 357.43,429.63 357.00,429.63 C356.57,429.63 356.08,429.41 355.70,429.05 C355.33,428.69 354.97,428.09 354.76,427.46 C354.54,426.83 354.41,426.01 354.41,425.29 C354.41,424.57 354.54,423.75 354.76,423.12 C354.97,422.49 355.33,421.89 355.70,421.53 C356.08,421.17 356.57,420.95 357.00,420.95 C357.43,420.95 357.92,421.17 358.30,421.53 C358.67,421.89 359.03,422.49 359.24,423.12 C359.46,423.75 359.59,424.57 359.59,425.29Z" fill="#1e70f0"/><path d="M358.48,425.38 C358.48,425.79 358.41,426.26 358.28,426.62 C358.16,426.98 357.95,427.32 357.74,427.53 C357.53,427.73 357.25,427.86 357.00,427.86 C356.75,427.86 356.47,427.73 356.26,427.53 C356.05,427.32 355.84,426.98 355.72,426.62 C355.59,426.26 355.52,425.79 355.52,425.38 C355.52,424.97 355.59,424.50 355.72,424.14 C355.84,423.78 356.05,423.44 356.26,423.23 C356.47,423.03 356.75,422.90 357.00,422.90 C357.25,422.90 357.53,423.03 357.74,423.23 C357.95,423.44 358.16,423.78 358.28,424.14 C358.41,424.50 358.48,424.97 358.48,425.38Z" fill="#22b8ec"/></g>
</g>
<line x1="325.90" y1="430.90" x2="364.50" y2="430.90" stroke="#101060" stroke-width="1.2"/>
<rect x="326.20" y="396.40" width="17.30" height="20.00" fill="none" stroke="#d8a0d8" stroke-width="0.6"/>
<rect x="326.80" y="416.60" width="26.10" height="14.30" fill="none" stroke="#d8a0d8" stroke-width="0.6"/>
<rect x="352.90" y="415.60" width="11.40" height="15.30" fill="none" stroke="#d8a0d8" stroke-width="0.6"/>
<text x="328.40" y="396.60" font-size="5.8" font-weight="bold" text-anchor="start" fill="#c84ec8">79.2</text>
<text x="340.60" y="420.80" font-size="5.8" font-weight="bold" text-anchor="start" fill="#c84ec8">4.46</text>
<text x="358.40" y="415.60" font-size="5.8" font-weight="bold" text-anchor="start" fill="#c84ec8">8.1</text>
<g filter="url(#wob)">
<g filter="url(#bl40)"><path d="M376.00,417.00 C376.70,415.33 378.67,414.58 380.00,414.00 C381.33,413.42 382.67,412.83 384.00,413.50 C385.33,414.17 387.08,416.25 388.00,418.00 C388.92,419.75 389.33,421.83 389.50,424.00 C389.67,426.17 391.25,429.83 389.00,431.00 C386.75,432.17 378.20,432.17 376.00,431.00 C373.80,429.83 375.80,426.33 375.80,424.00 C375.80,421.67 375.30,418.67 376.00,417.00Z" fill="#1020d8"/><path d="M377.01,418.49 C377.58,417.13 379.19,416.51 380.29,416.03 C381.38,415.56 382.47,415.08 383.57,415.62 C384.66,416.17 386.10,417.88 386.85,419.31 C387.60,420.75 387.94,422.46 388.08,424.23 C388.21,426.01 389.51,429.02 387.67,429.97 C385.82,430.93 378.81,430.93 377.01,429.97 C375.20,429.02 376.84,426.15 376.84,424.23 C376.84,422.32 376.43,419.86 377.01,418.49Z" fill="#1e60f0"/><path d="M377.90,419.82 C378.37,418.72 379.66,418.23 380.54,417.84 C381.42,417.46 382.30,417.07 383.18,417.51 C384.06,417.95 385.22,419.33 385.82,420.48 C386.43,421.64 386.70,423.01 386.81,424.44 C386.92,425.87 387.97,428.29 386.48,429.06 C385.00,429.83 379.36,429.83 377.90,429.06 C376.45,428.29 377.77,425.98 377.77,424.44 C377.77,422.90 377.44,420.92 377.90,419.82Z" fill="#1aa8ee"/><path d="M378.80,421.15 C379.15,420.32 380.13,419.94 380.80,419.65 C381.47,419.36 382.13,419.07 382.80,419.40 C383.47,419.73 384.34,420.77 384.80,421.65 C385.26,422.52 385.47,423.57 385.55,424.65 C385.63,425.73 386.43,427.57 385.30,428.15 C384.18,428.73 379.90,428.73 378.80,428.15 C377.70,427.57 378.70,425.82 378.70,424.65 C378.70,423.48 378.45,421.98 378.80,421.15Z" fill="#30d8a0"/><path d="M379.58,422.31 C379.84,421.71 380.54,421.44 381.02,421.23 C381.50,421.02 381.98,420.81 382.46,421.05 C382.94,421.29 383.57,422.04 383.90,422.67 C384.23,423.30 384.38,424.05 384.44,424.83 C384.50,425.61 385.07,426.93 384.26,427.35 C383.45,427.77 380.38,427.77 379.58,427.35 C378.79,426.93 379.51,425.67 379.51,424.83 C379.51,423.99 379.33,422.91 379.58,422.31Z" fill="#80e040"/><path d="M380.26,423.31 C380.42,422.91 380.90,422.73 381.22,422.59 C381.54,422.45 381.86,422.31 382.18,422.47 C382.50,422.63 382.92,423.13 383.14,423.55 C383.36,423.97 383.46,424.47 383.50,424.99 C383.54,425.51 383.92,426.39 383.38,426.67 C382.84,426.95 380.78,426.95 380.26,426.67 C379.73,426.39 380.21,425.55 380.21,424.99 C380.21,424.43 380.09,423.71 380.26,423.31Z" fill="#e8e020"/><path d="M380.93,424.30 C381.01,424.10 381.25,424.01 381.41,423.94 C381.57,423.87 381.73,423.80 381.89,423.88 C382.05,423.96 382.26,424.21 382.37,424.42 C382.48,424.63 382.53,424.88 382.55,425.14 C382.57,425.40 382.76,425.84 382.49,425.98 C382.22,426.12 381.19,426.12 380.93,425.98 C380.66,425.84 380.90,425.42 380.90,425.14 C380.90,424.86 380.84,424.50 380.93,424.30Z" fill="#e03010"/></g>
</g>
<g filter="url(#wob)">
<g filter="url(#bl40)"><path d="M380.00,411.00 C380.50,409.67 382.67,408.70 384.00,408.00 C385.33,407.30 386.67,406.88 388.00,406.80 C389.33,406.72 391.42,406.80 392.00,407.50 C392.58,408.20 392.17,410.08 391.50,411.00 C390.83,411.92 389.08,412.17 388.00,413.00 C386.92,413.83 386.17,415.50 385.00,416.00 C383.83,416.50 381.83,416.83 381.00,416.00 C380.17,415.17 379.50,412.33 380.00,411.00Z" fill="#1020d8"/><path d="M382.40,411.00 C382.70,410.20 384.00,409.62 384.80,409.20 C385.60,408.78 386.40,408.53 387.20,408.48 C388.00,408.43 389.25,408.48 389.60,408.90 C389.95,409.32 389.70,410.45 389.30,411.00 C388.90,411.55 387.85,411.70 387.20,412.20 C386.55,412.70 386.10,413.70 385.40,414.00 C384.70,414.30 383.50,414.50 383.00,414.00 C382.50,413.50 382.10,411.80 382.40,411.00Z" fill="#1e5ef0"/></g>
</g>
<ellipse cx="389.40" cy="409.90" rx="7.40" ry="9.70" fill="none" stroke="#c070c8" stroke-width="0.6" transform="rotate(-8 389.4 409.9)"/>
<text x="397.70" y="427.30" font-size="5.8" font-weight="bold" text-anchor="start" fill="#c84ec8">9.69</text>
<g filter="url(#wob)">
<ellipse cx="441.00" cy="416.50" rx="3.50" ry="1.80" fill="#1a3ce8" stroke="none" stroke-width="1"/>
<ellipse cx="446.50" cy="413.80" rx="3.50" ry="1.80" fill="#1a3ce8" stroke="none" stroke-width="1"/>
<ellipse cx="452.50" cy="412.00" rx="2.80" ry="1.80" fill="#1a3ce8" stroke="none" stroke-width="1"/>
<ellipse cx="457.50" cy="411.00" rx="2.60" ry="1.80" fill="#1a3ce8" stroke="none" stroke-width="1"/>
<ellipse cx="460.20" cy="415.00" rx="1.30" ry="2.40" fill="#1a3ce8" stroke="none" stroke-width="1"/>
<ellipse cx="444.50" cy="408.00" rx="1.60" ry="1.20" fill="#1a3ce8" stroke="none" stroke-width="1"/>
<ellipse cx="443.50" cy="402.50" rx="0.90" ry="0.90" fill="#1a3ce8" stroke="none" stroke-width="1"/>
<ellipse cx="451.00" cy="417.50" rx="3.20" ry="1.60" fill="#1a3ce8" stroke="none" stroke-width="1"/>
<ellipse cx="434.00" cy="415.20" rx="4.50" ry="1.60" fill="#1a3ce8" stroke="none" stroke-width="1"/>
<ellipse cx="429.00" cy="417.00" rx="3.00" ry="1.40" fill="#1a3ce8" stroke="none" stroke-width="1"/>
<ellipse cx="456.00" cy="415.50" rx="2.20" ry="1.30" fill="#1a3ce8" stroke="none" stroke-width="1"/>
<ellipse cx="446.50" cy="413.80" rx="1.60" ry="0.80" fill="#22b0ec" stroke="none" stroke-width="1"/>
<ellipse cx="452.50" cy="412.00" rx="1.20" ry="0.80" fill="#22b0ec" stroke="none" stroke-width="1"/>
<ellipse cx="434.00" cy="415.20" rx="2.00" ry="0.70" fill="#22b0ec" stroke="none" stroke-width="1"/>
<g filter="url(#wob)">
<g filter="url(#bl45)"><path d="M426.00,419.00 C426.73,417.60 428.33,417.07 430.00,416.60 C431.67,416.13 434.00,416.17 436.00,416.20 C438.00,416.23 440.17,416.42 442.00,416.80 C443.83,417.18 445.92,417.30 447.00,418.50 C448.08,419.70 448.33,421.92 448.50,424.00 C448.67,426.08 451.75,429.83 448.00,431.00 C444.25,432.17 429.73,432.00 426.00,431.00 C422.27,430.00 425.60,427.00 425.60,425.00 C425.60,423.00 425.27,420.40 426.00,419.00Z" fill="#1020d8"/><path d="M427.08,419.52 C427.75,418.23 429.23,417.74 430.76,417.31 C432.29,416.88 434.44,416.91 436.28,416.94 C438.12,416.97 440.11,417.14 441.80,417.50 C443.49,417.85 445.40,417.96 446.40,419.06 C447.40,420.16 447.63,422.20 447.78,424.12 C447.93,426.04 450.77,429.49 447.32,430.56 C443.87,431.63 430.51,431.48 427.08,430.56 C423.65,429.64 426.71,426.88 426.71,425.04 C426.71,423.20 426.41,420.81 427.08,419.52Z" fill="#1e60f0"/><path d="M428.16,420.04 C428.78,418.86 430.12,418.42 431.52,418.02 C432.92,417.63 434.88,417.66 436.56,417.69 C438.24,417.72 440.06,417.87 441.60,418.19 C443.14,418.51 444.89,418.61 445.80,419.62 C446.71,420.63 446.92,422.49 447.06,424.24 C447.20,425.99 449.79,429.14 446.64,430.12 C443.49,431.10 431.30,430.96 428.16,430.12 C425.02,429.28 427.82,426.76 427.82,425.08 C427.82,423.40 427.54,421.22 428.16,420.04Z" fill="#1aa8ee"/><path d="M429.51,420.69 C430.05,419.65 431.24,419.26 432.47,418.91 C433.70,418.57 435.43,418.59 436.91,418.62 C438.39,418.64 439.99,418.78 441.35,419.06 C442.71,419.35 444.25,419.43 445.05,420.32 C445.85,421.21 446.04,422.85 446.16,424.39 C446.28,425.93 448.57,428.71 445.79,429.57 C443.01,430.43 432.27,430.31 429.51,429.57 C426.75,428.83 429.21,426.61 429.21,425.13 C429.21,423.65 428.97,421.73 429.51,420.69Z" fill="#30d8a0"/><path d="M431.40,421.60 C431.84,420.76 432.80,420.44 433.80,420.16 C434.80,419.88 436.20,419.90 437.40,419.92 C438.60,419.94 439.90,420.05 441.00,420.28 C442.10,420.51 443.35,420.58 444.00,421.30 C444.65,422.02 444.80,423.35 444.90,424.60 C445.00,425.85 446.85,428.10 444.60,428.80 C442.35,429.50 433.64,429.40 431.40,428.80 C429.16,428.20 431.16,426.40 431.16,425.20 C431.16,424.00 430.96,422.44 431.40,421.60Z" fill="#80e040"/><path d="M433.56,422.64 C433.88,422.02 434.59,421.79 435.32,421.58 C436.05,421.38 437.08,421.39 437.96,421.41 C438.84,421.42 439.79,421.50 440.60,421.67 C441.41,421.84 442.32,421.89 442.80,422.42 C443.28,422.95 443.39,423.92 443.46,424.84 C443.53,425.76 444.89,427.41 443.24,427.92 C441.59,428.43 435.20,428.36 433.56,427.92 C431.92,427.48 433.38,426.16 433.38,425.28 C433.38,424.40 433.24,423.26 433.56,422.64Z" fill="#e8e020"/><path d="M435.45,423.55 C435.67,423.13 436.15,422.97 436.65,422.83 C437.15,422.69 437.85,422.70 438.45,422.71 C439.05,422.72 439.70,422.77 440.25,422.89 C440.80,423.00 441.43,423.04 441.75,423.40 C442.07,423.76 442.15,424.43 442.20,425.05 C442.25,425.68 443.18,426.80 442.05,427.15 C440.93,427.50 436.57,427.45 435.45,427.15 C434.33,426.85 435.33,425.95 435.33,425.35 C435.33,424.75 435.23,423.97 435.45,423.55Z" fill="#f09010"/><path d="M437.34,424.46 C437.46,424.24 437.71,424.15 437.98,424.08 C438.25,424.00 438.62,424.01 438.94,424.01 C439.26,424.02 439.61,424.05 439.90,424.11 C440.19,424.17 440.53,424.19 440.70,424.38 C440.87,424.57 440.91,424.93 440.94,425.26 C440.97,425.59 441.46,426.19 440.86,426.38 C440.26,426.57 437.94,426.54 437.34,426.38 C436.74,426.22 437.28,425.74 437.28,425.42 C437.28,425.10 437.22,424.68 437.34,424.46Z" fill="#e03010"/></g>
</g>
</g>
<line x1="425.50" y1="430.90" x2="452.00" y2="430.90" stroke="#101040" stroke-width="1.2"/>
<rect x="446.90" y="390.70" width="17.40" height="40.20" fill="none" stroke="#d8a0d8" stroke-width="0.7"/>
<text x="456.00" y="430.40" font-size="5.8" font-weight="bold" text-anchor="start" fill="#c84ec8">15.8</text>
<g fill="#222" opacity="0.5"><circle cx="479.9" cy="411.4" r="0.45"/><circle cx="486.5" cy="421.4" r="0.45"/><circle cx="476.6" cy="403.0" r="0.45"/><circle cx="478.3" cy="405.7" r="0.45"/><circle cx="481.4" cy="398.9" r="0.45"/><circle cx="483.1" cy="397.9" r="0.45"/><circle cx="484.3" cy="401.6" r="0.45"/><circle cx="483.3" cy="411.3" r="0.45"/><circle cx="481.6" cy="403.8" r="0.45"/><circle cx="478.9" cy="399.9" r="0.45"/><circle cx="488.5" cy="412.5" r="0.45"/><circle cx="489.9" cy="410.9" r="0.45"/><circle cx="483.5" cy="403.9" r="0.45"/><circle cx="481.0" cy="396.8" r="0.45"/><circle cx="486.2" cy="415.4" r="0.45"/><circle cx="488.3" cy="418.9" r="0.45"/><circle cx="477.8" cy="389.8" r="0.45"/><circle cx="485.3" cy="410.0" r="0.45"/><circle cx="478.0" cy="401.4" r="0.45"/><circle cx="485.5" cy="421.3" r="0.45"/><circle cx="483.9" cy="403.1" r="0.45"/><circle cx="485.6" cy="416.2" r="0.45"/><circle cx="477.1" cy="413.7" r="0.45"/><circle cx="478.0" cy="408.3" r="0.45"/><circle cx="484.1" cy="408.5" r="0.45"/><circle cx="475.8" cy="410.9" r="0.45"/><circle cx="476.1" cy="413.2" r="0.45"/><circle cx="474.0" cy="404.4" r="0.45"/><circle cx="480.0" cy="402.9" r="0.45"/><circle cx="482.9" cy="410.0" r="0.45"/><circle cx="489.7" cy="411.4" r="0.45"/><circle cx="486.7" cy="399.7" r="0.45"/><circle cx="486.5" cy="414.5" r="0.45"/><circle cx="487.8" cy="418.6" r="0.45"/><circle cx="478.3" cy="398.3" r="0.45"/><circle cx="478.8" cy="403.4" r="0.45"/><circle cx="487.9" cy="393.4" r="0.45"/><circle cx="482.2" cy="415.5" r="0.45"/><circle cx="481.4" cy="397.5" r="0.45"/><circle cx="478.3" cy="412.1" r="0.45"/><circle cx="485.1" cy="406.9" r="0.45"/><circle cx="483.5" cy="418.3" r="0.45"/><circle cx="480.6" cy="422.7" r="0.45"/><circle cx="477.8" cy="422.1" r="0.45"/><circle cx="475.9" cy="418.0" r="0.45"/><circle cx="482.0" cy="396.6" r="0.45"/><circle cx="482.5" cy="412.1" r="0.45"/><circle cx="484.5" cy="408.9" r="0.45"/><circle cx="481.3" cy="405.8" r="0.45"/><circle cx="482.4" cy="417.0" r="0.45"/><circle cx="484.0" cy="413.2" r="0.45"/><circle cx="482.8" cy="418.4" r="0.45"/><circle cx="492.2" cy="424.4" r="0.45"/><circle cx="476.9" cy="401.6" r="0.45"/><circle cx="477.6" cy="405.3" r="0.45"/><circle cx="490.3" cy="405.3" r="0.45"/><circle cx="482.4" cy="406.4" r="0.45"/><circle cx="473.9" cy="399.1" r="0.45"/><circle cx="478.9" cy="401.6" r="0.45"/><circle cx="480.5" cy="404.5" r="0.45"/><circle cx="481.0" cy="395.9" r="0.45"/><circle cx="486.3" cy="411.6" r="0.45"/><circle cx="478.9" cy="404.3" r="0.45"/><circle cx="478.2" cy="393.6" r="0.45"/><circle cx="484.9" cy="404.7" r="0.45"/><circle cx="486.5" cy="419.2" r="0.45"/><circle cx="476.3" cy="399.5" r="0.45"/><circle cx="484.2" cy="403.8" r="0.45"/><circle cx="479.1" cy="404.9" r="0.45"/><circle cx="483.8" cy="397.7" r="0.45"/><circle cx="482.3" cy="416.2" r="0.45"/><circle cx="479.6" cy="405.2" r="0.45"/><circle cx="483.9" cy="415.2" r="0.45"/><circle cx="486.2" cy="411.6" r="0.45"/><circle cx="489.0" cy="403.2" r="0.45"/><circle cx="489.0" cy="412.4" r="0.45"/><circle cx="480.7" cy="397.3" r="0.45"/><circle cx="488.7" cy="410.0" r="0.45"/><circle cx="484.4" cy="419.9" r="0.45"/><circle cx="480.3" cy="414.0" r="0.45"/><circle cx="485.8" cy="420.4" r="0.45"/><circle cx="483.4" cy="422.0" r="0.45"/><circle cx="479.7" cy="407.7" r="0.45"/><circle cx="479.2" cy="400.9" r="0.45"/><circle cx="489.3" cy="410.2" r="0.45"/><circle cx="481.9" cy="409.5" r="0.45"/><circle cx="482.7" cy="396.8" r="0.45"/><circle cx="480.1" cy="411.0" r="0.45"/><circle cx="476.8" cy="406.4" r="0.45"/><circle cx="480.3" cy="400.5" r="0.45"/><circle cx="476.2" cy="403.4" r="0.45"/><circle cx="482.9" cy="412.1" r="0.45"/><circle cx="475.3" cy="409.1" r="0.45"/><circle cx="484.6" cy="395.0" r="0.45"/><circle cx="476.1" cy="412.1" r="0.45"/><circle cx="485.1" cy="412.3" r="0.45"/><circle cx="488.9" cy="413.4" r="0.45"/><circle cx="488.0" cy="408.0" r="0.45"/><circle cx="482.1" cy="401.2" r="0.45"/><circle cx="482.5" cy="405.2" r="0.45"/><circle cx="479.4" cy="412.7" r="0.45"/><circle cx="483.6" cy="404.7" r="0.45"/><circle cx="482.9" cy="410.5" r="0.45"/><circle cx="483.9" cy="402.9" r="0.45"/><circle cx="484.8" cy="404.5" r="0.45"/><circle cx="483.4" cy="404.1" r="0.45"/><circle cx="490.8" cy="397.1" r="0.45"/><circle cx="486.4" cy="400.6" r="0.45"/><circle cx="489.1" cy="398.6" r="0.45"/><circle cx="485.1" cy="406.7" r="0.45"/><circle cx="486.1" cy="398.1" r="0.45"/><circle cx="480.6" cy="411.5" r="0.45"/><circle cx="485.7" cy="403.3" r="0.45"/><circle cx="473.8" cy="405.3" r="0.45"/><circle cx="479.0" cy="408.5" r="0.45"/><circle cx="480.1" cy="400.1" r="0.45"/><circle cx="481.1" cy="418.6" r="0.45"/><circle cx="484.5" cy="405.0" r="0.45"/><circle cx="484.6" cy="397.2" r="0.45"/><circle cx="479.4" cy="407.4" r="0.45"/><circle cx="480.3" cy="403.1" r="0.45"/><circle cx="482.0" cy="421.7" r="0.45"/><circle cx="481.8" cy="411.1" r="0.45"/><circle cx="489.3" cy="389.2" r="0.45"/><circle cx="480.6" cy="414.7" r="0.45"/><circle cx="475.6" cy="404.8" r="0.45"/><circle cx="487.8" cy="408.8" r="0.45"/><circle cx="482.9" cy="424.0" r="0.45"/><circle cx="473.7" cy="416.6" r="0.45"/><circle cx="476.4" cy="411.1" r="0.45"/><circle cx="484.6" cy="409.1" r="0.45"/><circle cx="480.9" cy="414.4" r="0.45"/><circle cx="483.9" cy="414.5" r="0.45"/><circle cx="486.4" cy="412.8" r="0.45"/><circle cx="489.7" cy="404.8" r="0.45"/><circle cx="473.8" cy="394.3" r="0.45"/><circle cx="481.2" cy="398.2" r="0.45"/><circle cx="480.4" cy="408.8" r="0.45"/><circle cx="488.7" cy="398.7" r="0.45"/><circle cx="484.1" cy="397.9" r="0.45"/><circle cx="485.9" cy="391.7" r="0.45"/><circle cx="488.7" cy="405.9" r="0.45"/><circle cx="491.7" cy="409.7" r="0.45"/><circle cx="478.0" cy="404.8" r="0.45"/><circle cx="479.1" cy="410.3" r="0.45"/><circle cx="487.4" cy="410.1" r="0.45"/><circle cx="480.7" cy="406.0" r="0.45"/><circle cx="489.7" cy="400.9" r="0.45"/><circle cx="485.3" cy="401.5" r="0.45"/><circle cx="478.6" cy="413.2" r="0.45"/><circle cx="475.1" cy="420.7" r="0.45"/><circle cx="489.5" cy="400.7" r="0.45"/><circle cx="477.3" cy="407.0" r="0.45"/><circle cx="480.7" cy="402.7" r="0.45"/><circle cx="486.7" cy="426.6" r="0.45"/><circle cx="481.6" cy="413.5" r="0.45"/><circle cx="480.3" cy="408.1" r="0.45"/><circle cx="479.7" cy="407.4" r="0.45"/><circle cx="482.8" cy="405.5" r="0.45"/><circle cx="483.0" cy="402.8" r="0.45"/><circle cx="483.7" cy="395.8" r="0.45"/><circle cx="484.4" cy="406.8" r="0.45"/><circle cx="484.3" cy="407.6" r="0.45"/><circle cx="481.7" cy="408.7" r="0.45"/><circle cx="480.3" cy="408.1" r="0.45"/><circle cx="473.3" cy="402.4" r="0.45"/><circle cx="483.1" cy="398.1" r="0.45"/><circle cx="491.9" cy="419.1" r="0.45"/><circle cx="475.5" cy="420.8" r="0.45"/><circle cx="484.1" cy="412.7" r="0.45"/><circle cx="488.3" cy="404.3" r="0.45"/><circle cx="483.7" cy="415.1" r="0.45"/><circle cx="479.1" cy="406.6" r="0.45"/><circle cx="482.3" cy="410.9" r="0.45"/><circle cx="477.9" cy="407.6" r="0.45"/><circle cx="479.3" cy="414.5" r="0.45"/><circle cx="479.7" cy="413.7" r="0.45"/><circle cx="482.2" cy="404.1" r="0.45"/><circle cx="485.6" cy="412.3" r="0.45"/><circle cx="480.9" cy="415.7" r="0.45"/><circle cx="488.2" cy="394.9" r="0.45"/><circle cx="485.7" cy="393.6" r="0.45"/><circle cx="482.4" cy="414.4" r="0.45"/><circle cx="484.5" cy="411.7" r="0.45"/><circle cx="481.8" cy="413.2" r="0.45"/><circle cx="477.2" cy="422.4" r="0.45"/><circle cx="473.5" cy="406.6" r="0.45"/><circle cx="475.4" cy="406.0" r="0.45"/><circle cx="479.4" cy="399.8" r="0.45"/><circle cx="486.8" cy="403.7" r="0.45"/><circle cx="479.1" cy="407.9" r="0.45"/><circle cx="485.4" cy="412.3" r="0.45"/><circle cx="480.2" cy="410.1" r="0.45"/><circle cx="482.7" cy="407.6" r="0.45"/><circle cx="479.2" cy="409.9" r="0.45"/><circle cx="475.6" cy="415.3" r="0.45"/><circle cx="485.9" cy="406.4" r="0.45"/><circle cx="480.0" cy="393.6" r="0.45"/><circle cx="481.0" cy="414.8" r="0.45"/><circle cx="475.0" cy="413.4" r="0.45"/><circle cx="479.2" cy="422.1" r="0.45"/><circle cx="484.4" cy="417.7" r="0.45"/><circle cx="481.3" cy="406.7" r="0.45"/><circle cx="478.5" cy="419.8" r="0.45"/><circle cx="480.9" cy="409.4" r="0.45"/><circle cx="477.1" cy="409.6" r="0.45"/><circle cx="477.9" cy="409.4" r="0.45"/><circle cx="487.5" cy="404.0" r="0.45"/><circle cx="477.9" cy="410.6" r="0.45"/><circle cx="482.4" cy="402.9" r="0.45"/><circle cx="475.3" cy="409.3" r="0.45"/><circle cx="483.9" cy="410.1" r="0.45"/><circle cx="487.7" cy="411.3" r="0.45"/><circle cx="483.8" cy="398.2" r="0.45"/><circle cx="481.3" cy="406.8" r="0.45"/><circle cx="479.1" cy="413.9" r="0.45"/><circle cx="480.4" cy="412.5" r="0.45"/><circle cx="480.0" cy="411.6" r="0.45"/><circle cx="486.7" cy="411.9" r="0.45"/><circle cx="486.2" cy="409.1" r="0.45"/></g>
<g filter="url(#bl80)">
<path d="M476,430 C476,421 477,413 479,406 C481,400 485,396 490,393 L494,398 C489,401 486,405 485,410 C484,416 485,422 486,430 Z" fill="#1a1418" stroke="none" stroke-width="0" opacity="0.9"/>
<ellipse cx="487.50" cy="397.50" rx="11.00" ry="6.60" fill="#3a1c2c" stroke="none" stroke-width="1" transform="rotate(-30 487.5 397.5)" opacity="0.85"/>
</g>
<g filter="url(#wob)">
<g filter="url(#wob)">
<g filter="url(#bl40)"><path d="M478.00,401.00 C478.17,399.78 478.83,397.92 480.00,396.50 C481.17,395.08 483.17,393.58 485.00,392.50 C486.83,391.42 489.17,390.45 491.00,390.00 C492.83,389.55 495.08,389.38 496.00,389.80 C496.92,390.22 497.00,391.30 496.50,392.50 C496.00,393.70 494.42,395.58 493.00,397.00 C491.58,398.42 489.67,399.92 488.00,401.00 C486.33,402.08 484.50,403.03 483.00,403.50 C481.50,403.97 479.83,404.22 479.00,403.80 C478.17,403.38 477.83,402.22 478.00,401.00Z" fill="#1022d8"/><path d="M480.70,399.80 C480.82,398.95 481.28,397.64 482.10,396.65 C482.92,395.66 484.32,394.61 485.60,393.85 C486.88,393.09 488.52,392.42 489.80,392.10 C491.08,391.79 492.66,391.67 493.30,391.96 C493.94,392.25 494.00,393.01 493.65,393.85 C493.30,394.69 492.19,396.01 491.20,397.00 C490.21,397.99 488.87,399.04 487.70,399.80 C486.53,400.56 485.25,401.22 484.20,401.55 C483.15,401.88 481.98,402.05 481.40,401.76 C480.82,401.47 480.58,400.65 480.70,399.80Z" fill="#1838e8"/><path d="M483.40,398.60 C483.47,398.11 483.73,397.37 484.20,396.80 C484.67,396.23 485.47,395.63 486.20,395.20 C486.93,394.77 487.87,394.38 488.60,394.20 C489.33,394.02 490.23,393.95 490.60,394.12 C490.97,394.29 491.00,394.72 490.80,395.20 C490.60,395.68 489.97,396.43 489.40,397.00 C488.83,397.57 488.07,398.17 487.40,398.60 C486.73,399.03 486.00,399.41 485.40,399.60 C484.80,399.79 484.13,399.89 483.80,399.72 C483.47,399.55 483.33,399.09 483.40,398.60Z" fill="#2050f0"/></g>
</g>
</g>
<ellipse cx="486.80" cy="397.20" rx="10.50" ry="6.80" fill="none" stroke="#b870c0" stroke-width="0.6" transform="rotate(-30 486.8 397.2)"/>
<g filter="url(#wob)">
<g filter="url(#wob)">
<g filter="url(#bl45)"><path d="M487.70,422.92 C487.70,424.20 487.45,425.61 487.03,426.76 C486.61,427.92 485.93,429.05 485.17,429.84 C484.42,430.64 483.43,431.27 482.49,431.55 C481.55,431.84 480.45,431.84 479.51,431.55 C478.57,431.27 477.58,430.64 476.83,429.84 C476.07,429.05 475.39,427.92 474.97,426.76 C474.55,425.61 474.30,424.20 474.30,422.92 C474.30,421.64 474.55,420.23 474.97,419.08 C475.39,417.92 476.07,416.79 476.83,416.00 C477.58,415.20 478.57,414.57 479.51,414.29 C480.45,414.00 481.55,414.00 482.49,414.29 C483.43,414.57 484.42,415.20 485.17,416.00 C485.93,416.79 486.61,417.92 487.03,419.08 C487.45,420.23 487.70,421.64 487.70,422.92Z" fill="#0a0a40"/><path d="M487.20,423.00 C487.20,424.19 486.98,425.49 486.59,426.56 C486.20,427.63 485.57,428.67 484.87,429.41 C484.16,430.15 483.25,430.73 482.38,430.99 C481.51,431.26 480.49,431.26 479.62,430.99 C478.75,430.73 477.84,430.15 477.13,429.41 C476.43,428.67 475.80,427.63 475.41,426.56 C475.02,425.49 474.80,424.19 474.80,423.00 C474.80,421.81 475.02,420.51 475.41,419.44 C475.80,418.37 476.43,417.33 477.13,416.59 C477.84,415.85 478.75,415.27 479.62,415.01 C480.49,414.74 481.51,414.74 482.38,415.01 C483.25,415.27 484.16,415.85 484.87,416.59 C485.57,417.33 486.20,418.37 486.59,419.44 C486.98,420.51 487.20,421.81 487.20,423.00Z" fill="#1020d8"/><path d="M486.21,423.16 C486.21,424.16 486.02,425.25 485.69,426.15 C485.37,427.05 484.84,427.92 484.25,428.55 C483.66,429.17 482.89,429.65 482.16,429.88 C481.42,430.10 480.58,430.10 479.84,429.88 C479.11,429.65 478.34,429.17 477.75,428.55 C477.16,427.92 476.63,427.05 476.31,426.15 C475.98,425.25 475.79,424.16 475.79,423.16 C475.79,422.16 475.98,421.07 476.31,420.17 C476.63,419.27 477.16,418.40 477.75,417.77 C478.34,417.15 479.11,416.67 479.84,416.44 C480.58,416.22 481.42,416.22 482.16,416.44 C482.89,416.67 483.66,417.15 484.25,417.77 C484.84,418.40 485.37,419.27 485.69,420.17 C486.02,421.07 486.21,422.16 486.21,423.16Z" fill="#1e60f0"/><path d="M485.22,423.32 C485.22,424.13 485.06,425.01 484.80,425.74 C484.53,426.47 484.11,427.18 483.63,427.68 C483.15,428.18 482.53,428.58 481.94,428.76 C481.34,428.94 480.66,428.94 480.06,428.76 C479.47,428.58 478.85,428.18 478.37,427.68 C477.89,427.18 477.47,426.47 477.20,425.74 C476.94,425.01 476.78,424.13 476.78,423.32 C476.78,422.51 476.94,421.63 477.20,420.90 C477.47,420.17 477.89,419.46 478.37,418.96 C478.85,418.46 479.47,418.06 480.06,417.88 C480.66,417.70 481.34,417.70 481.94,417.88 C482.53,418.06 483.15,418.46 483.63,418.96 C484.11,419.46 484.53,420.17 484.80,420.90 C485.06,421.63 485.22,422.51 485.22,423.32Z" fill="#1aa8ee"/><path d="M484.22,423.48 C484.22,424.10 484.11,424.77 483.90,425.33 C483.70,425.89 483.37,426.43 483.01,426.81 C482.65,427.20 482.17,427.50 481.72,427.64 C481.26,427.77 480.74,427.77 480.28,427.64 C479.83,427.50 479.35,427.20 478.99,426.81 C478.63,426.43 478.30,425.89 478.10,425.33 C477.89,424.77 477.78,424.10 477.78,423.48 C477.78,422.86 477.89,422.19 478.10,421.63 C478.30,421.07 478.63,420.53 478.99,420.15 C479.35,419.76 479.83,419.46 480.28,419.32 C480.74,419.19 481.26,419.19 481.72,419.32 C482.17,419.46 482.65,419.76 483.01,420.15 C483.37,420.53 483.70,421.07 483.90,421.63 C484.11,422.19 484.22,422.86 484.22,423.48Z" fill="#30d8a0"/><path d="M483.36,423.62 C483.36,424.07 483.27,424.57 483.12,424.97 C482.97,425.38 482.74,425.78 482.47,426.06 C482.20,426.34 481.86,426.56 481.52,426.66 C481.19,426.76 480.81,426.76 480.48,426.66 C480.14,426.56 479.80,426.34 479.53,426.06 C479.26,425.78 479.03,425.38 478.88,424.97 C478.73,424.57 478.64,424.07 478.64,423.62 C478.64,423.17 478.73,422.67 478.88,422.27 C479.03,421.86 479.26,421.46 479.53,421.18 C479.80,420.90 480.14,420.68 480.48,420.58 C480.81,420.48 481.19,420.48 481.52,420.58 C481.86,420.68 482.20,420.90 482.47,421.18 C482.74,421.46 482.97,421.86 483.12,422.27 C483.27,422.67 483.36,423.17 483.36,423.62Z" fill="#a0e030"/><path d="M482.49,423.76 C482.49,424.04 482.43,424.36 482.34,424.61 C482.25,424.87 482.10,425.12 481.93,425.30 C481.76,425.48 481.54,425.62 481.33,425.68 C481.12,425.74 480.88,425.74 480.67,425.68 C480.46,425.62 480.24,425.48 480.07,425.30 C479.90,425.12 479.75,424.87 479.66,424.61 C479.57,424.36 479.51,424.04 479.51,423.76 C479.51,423.48 479.57,423.16 479.66,422.91 C479.75,422.65 479.90,422.40 480.07,422.22 C480.24,422.04 480.46,421.90 480.67,421.84 C480.88,421.78 481.12,421.78 481.33,421.84 C481.54,421.90 481.76,422.04 481.93,422.22 C482.10,422.40 482.25,422.65 482.34,422.91 C482.43,423.16 482.49,423.48 482.49,423.76Z" fill="#e8a010"/><path d="M481.74,423.88 C481.74,424.02 481.72,424.18 481.67,424.31 C481.62,424.44 481.55,424.56 481.46,424.65 C481.38,424.74 481.27,424.81 481.17,424.84 C481.06,424.87 480.94,424.87 480.83,424.84 C480.73,424.81 480.62,424.74 480.54,424.65 C480.45,424.56 480.38,424.44 480.33,424.31 C480.28,424.18 480.26,424.02 480.26,423.88 C480.26,423.74 480.28,423.58 480.33,423.45 C480.38,423.32 480.45,423.20 480.54,423.11 C480.62,423.02 480.73,422.95 480.83,422.92 C480.94,422.89 481.06,422.89 481.17,422.92 C481.27,422.95 481.38,423.02 481.46,423.11 C481.55,423.20 481.62,423.32 481.67,423.45 C481.72,423.58 481.74,423.74 481.74,423.88Z" fill="#d82008"/></g>
</g>
</g>
<text x="495.80" y="410.80" font-size="5.8" font-weight="bold" text-anchor="start" fill="#c84ec8">3.17</text>
<g filter="url(#wob)">
<g filter="url(#bl40)"><path d="M330.00,452.00 C330.42,450.58 331.83,450.00 333.00,449.50 C334.17,449.00 335.83,448.75 337.00,449.00 C338.17,449.25 338.92,450.50 340.00,451.00 C341.08,451.50 342.83,451.33 343.50,452.00 C344.17,452.67 344.33,454.25 344.00,455.00 C343.67,455.75 342.00,455.67 341.50,456.50 C341.00,457.33 340.75,458.92 341.00,460.00 C341.25,461.08 343.17,462.17 343.00,463.00 C342.83,463.83 341.17,464.67 340.00,465.00 C338.83,465.33 337.50,465.08 336.00,465.00 C334.50,464.92 331.92,465.67 331.00,464.50 C330.08,463.33 330.67,460.08 330.50,458.00 C330.33,455.92 329.58,453.42 330.00,452.00Z" fill="#1020d8"/><path d="M332.70,453.80 C332.93,453.02 333.71,452.70 334.35,452.43 C334.99,452.15 335.91,452.01 336.55,452.15 C337.19,452.29 337.60,452.98 338.20,453.25 C338.80,453.52 339.76,453.43 340.12,453.80 C340.49,454.17 340.58,455.04 340.40,455.45 C340.22,455.86 339.30,455.82 339.02,456.27 C338.75,456.73 338.61,457.60 338.75,458.20 C338.89,458.80 339.94,459.39 339.85,459.85 C339.76,460.31 338.84,460.77 338.20,460.95 C337.56,461.13 336.82,461.00 336.00,460.95 C335.18,460.90 333.75,461.32 333.25,460.68 C332.75,460.03 333.07,458.25 332.98,457.10 C332.88,455.95 332.47,454.58 332.70,453.80Z" fill="#1e5ef0"/></g>
</g>
<g filter="url(#wob)">
<g filter="url(#bl40)"><path d="M327.00,466.00 C328.07,464.75 330.83,464.58 333.00,464.50 C335.17,464.42 337.83,465.00 340.00,465.50 C342.17,466.00 344.00,467.58 346.00,467.50 C348.00,467.42 350.00,465.67 352.00,465.00 C354.00,464.33 356.33,463.33 358.00,463.50 C359.67,463.67 361.25,464.58 362.00,466.00 C362.75,467.42 362.83,470.08 362.50,472.00 C362.17,473.92 362.92,476.50 360.00,477.50 C357.08,478.50 350.50,477.92 345.00,478.00 C339.50,478.08 330.07,479.00 327.00,478.00 C323.93,477.00 326.60,474.00 326.60,472.00 C326.60,470.00 325.93,467.25 327.00,466.00Z" fill="#1020d8"/><path d="M330.24,466.90 C331.11,465.88 333.38,465.74 335.16,465.67 C336.94,465.60 339.12,466.08 340.90,466.49 C342.68,466.90 344.18,468.20 345.82,468.13 C347.46,468.06 349.10,466.63 350.74,466.08 C352.38,465.53 354.29,464.71 355.66,464.85 C357.03,464.99 358.32,465.74 358.94,466.90 C359.56,468.06 359.62,470.25 359.35,471.82 C359.08,473.39 359.69,475.51 357.30,476.33 C354.91,477.15 349.51,476.67 345.00,476.74 C340.49,476.81 332.75,477.56 330.24,476.74 C327.73,475.92 329.91,473.46 329.91,471.82 C329.91,470.18 329.37,467.92 330.24,466.90Z" fill="#1e60f0"/><path d="M333.84,467.90 C334.50,467.12 336.22,467.02 337.56,466.97 C338.90,466.92 340.56,467.28 341.90,467.59 C343.24,467.90 344.38,468.88 345.62,468.83 C346.86,468.78 348.10,467.69 349.34,467.28 C350.58,466.87 352.03,466.25 353.06,466.35 C354.09,466.45 355.08,467.02 355.54,467.90 C356.00,468.78 356.06,470.43 355.85,471.62 C355.64,472.81 356.11,474.41 354.30,475.03 C352.49,475.65 348.41,475.29 345.00,475.34 C341.59,475.39 335.74,475.96 333.84,475.34 C331.94,474.72 333.59,472.86 333.59,471.62 C333.59,470.38 333.18,468.67 333.84,467.90Z" fill="#1aa8ee"/><path d="M337.80,469.00 C338.23,468.50 339.33,468.43 340.20,468.40 C341.07,468.37 342.13,468.60 343.00,468.80 C343.87,469.00 344.60,469.63 345.40,469.60 C346.20,469.57 347.00,468.87 347.80,468.60 C348.60,468.33 349.53,467.93 350.20,468.00 C350.87,468.07 351.50,468.43 351.80,469.00 C352.10,469.57 352.13,470.63 352.00,471.40 C351.87,472.17 352.17,473.20 351.00,473.60 C349.83,474.00 347.20,473.77 345.00,473.80 C342.80,473.83 339.03,474.20 337.80,473.80 C336.57,473.40 337.64,472.20 337.64,471.40 C337.64,470.60 337.37,469.50 337.80,469.00Z" fill="#30d0b0"/></g>
</g>
<g filter="url(#wob)">
<g filter="url(#bl40)"><path d="M361.60,471.20 C361.60,472.10 361.41,473.08 361.09,473.89 C360.76,474.70 360.23,475.49 359.64,476.05 C359.05,476.61 358.29,477.05 357.56,477.24 C356.82,477.44 355.98,477.44 355.24,477.24 C354.51,477.05 353.75,476.61 353.16,476.05 C352.57,475.49 352.04,474.70 351.71,473.89 C351.39,473.08 351.20,472.10 351.20,471.20 C351.20,470.30 351.39,469.32 351.71,468.51 C352.04,467.70 352.57,466.91 353.16,466.35 C353.75,465.79 354.51,465.35 355.24,465.16 C355.98,464.96 356.82,464.96 357.56,465.16 C358.29,465.35 359.05,465.79 359.64,466.35 C360.23,466.91 360.76,467.70 361.09,468.51 C361.41,469.32 361.60,470.30 361.60,471.20Z" fill="#1e60f0"/><path d="M360.83,471.17 C360.83,471.93 360.67,472.77 360.40,473.46 C360.12,474.14 359.67,474.82 359.17,475.29 C358.67,475.77 358.02,476.14 357.40,476.31 C356.78,476.48 356.05,476.48 355.43,476.31 C354.81,476.14 354.16,475.77 353.66,475.29 C353.16,474.82 352.71,474.14 352.43,473.46 C352.16,472.77 352.00,471.93 352.00,471.17 C352.00,470.41 352.16,469.57 352.43,468.88 C352.71,468.20 353.16,467.52 353.66,467.05 C354.16,466.57 354.81,466.20 355.43,466.03 C356.05,465.86 356.78,465.86 357.40,466.03 C358.02,466.20 358.67,466.57 359.17,467.05 C359.67,467.52 360.12,468.20 360.40,468.88 C360.67,469.57 360.83,470.41 360.83,471.17Z" fill="#1aa8ee"/><path d="M360.07,471.14 C360.07,471.77 359.94,472.46 359.71,473.02 C359.48,473.59 359.11,474.14 358.70,474.53 C358.29,474.92 357.75,475.23 357.24,475.37 C356.73,475.51 356.13,475.51 355.62,475.37 C355.11,475.23 354.57,474.92 354.16,474.53 C353.75,474.14 353.38,473.59 353.15,473.02 C352.92,472.46 352.79,471.77 352.79,471.14 C352.79,470.51 352.92,469.82 353.15,469.26 C353.38,468.69 353.75,468.14 354.16,467.75 C354.57,467.36 355.11,467.05 355.62,466.91 C356.13,466.77 356.73,466.77 357.24,466.91 C357.75,467.05 358.29,467.36 358.70,467.75 C359.11,468.14 359.48,468.69 359.71,469.26 C359.94,469.82 360.07,470.51 360.07,471.14Z" fill="#30d8a0"/><path d="M359.31,471.11 C359.31,471.60 359.20,472.15 359.02,472.59 C358.84,473.03 358.55,473.47 358.23,473.78 C357.90,474.08 357.48,474.32 357.08,474.43 C356.68,474.54 356.21,474.54 355.81,474.43 C355.41,474.32 354.99,474.08 354.66,473.78 C354.34,473.47 354.05,473.03 353.87,472.59 C353.69,472.15 353.58,471.60 353.58,471.11 C353.58,470.62 353.69,470.07 353.87,469.63 C354.05,469.19 354.34,468.75 354.66,468.44 C354.99,468.14 355.41,467.90 355.81,467.79 C356.21,467.68 356.68,467.68 357.08,467.79 C357.48,467.90 357.90,468.14 358.23,468.44 C358.55,468.75 358.84,469.19 359.02,469.63 C359.20,470.07 359.31,470.62 359.31,471.11Z" fill="#90e040"/><path d="M358.54,471.08 C358.54,471.44 358.46,471.83 358.33,472.16 C358.20,472.48 357.99,472.80 357.76,473.02 C357.52,473.24 357.22,473.42 356.92,473.50 C356.63,473.58 356.29,473.58 356.00,473.50 C355.70,473.42 355.40,473.24 355.16,473.02 C354.93,472.80 354.72,472.48 354.59,472.16 C354.46,471.83 354.38,471.44 354.38,471.08 C354.38,470.72 354.46,470.33 354.59,470.00 C354.72,469.68 354.93,469.36 355.16,469.14 C355.40,468.92 355.70,468.74 356.00,468.66 C356.29,468.58 356.63,468.58 356.92,468.66 C357.22,468.74 357.52,468.92 357.76,469.14 C357.99,469.36 358.20,469.68 358.33,470.00 C358.46,470.33 358.54,470.72 358.54,471.08Z" fill="#e8e020"/><path d="M357.88,471.05 C357.88,471.30 357.83,471.56 357.74,471.78 C357.65,472.00 357.51,472.21 357.35,472.36 C357.19,472.51 356.98,472.63 356.79,472.69 C356.59,472.74 356.36,472.74 356.16,472.69 C355.96,472.63 355.76,472.51 355.60,472.36 C355.44,472.21 355.30,472.00 355.21,471.78 C355.12,471.56 355.07,471.30 355.07,471.05 C355.07,470.81 355.12,470.55 355.21,470.33 C355.30,470.11 355.44,469.90 355.60,469.75 C355.76,469.59 355.96,469.48 356.16,469.42 C356.36,469.37 356.59,469.37 356.79,469.42 C356.98,469.48 357.19,469.59 357.35,469.75 C357.51,469.90 357.65,470.11 357.74,470.33 C357.83,470.55 357.88,470.81 357.88,471.05Z" fill="#f09010"/><path d="M357.26,471.03 C357.26,471.16 357.24,471.31 357.19,471.43 C357.14,471.55 357.06,471.67 356.97,471.76 C356.88,471.84 356.77,471.91 356.66,471.94 C356.55,471.97 356.42,471.97 356.31,471.94 C356.20,471.91 356.09,471.84 356.00,471.76 C355.91,471.67 355.83,471.55 355.78,471.43 C355.73,471.31 355.70,471.16 355.70,471.03 C355.70,470.90 355.73,470.75 355.78,470.63 C355.83,470.51 355.91,470.39 356.00,470.30 C356.09,470.22 356.20,470.15 356.31,470.12 C356.42,470.09 356.55,470.09 356.66,470.12 C356.77,470.15 356.88,470.22 356.97,470.30 C357.06,470.39 357.14,470.51 357.19,470.63 C357.24,470.75 357.26,470.90 357.26,471.03Z" fill="#d82008"/></g>
</g>
<g filter="url(#wob)">
<g filter="url(#bl40)"><path d="M340.00,471.20 C340.00,471.92 339.72,472.73 339.26,473.35 C338.80,473.97 338.04,474.57 337.25,474.92 C336.46,475.28 335.42,475.50 334.50,475.50 C333.58,475.50 332.54,475.28 331.75,474.92 C330.96,474.57 330.20,473.97 329.74,473.35 C329.28,472.73 329.00,471.92 329.00,471.20 C329.00,470.48 329.28,469.67 329.74,469.05 C330.20,468.43 330.96,467.83 331.75,467.48 C332.54,467.12 333.58,466.90 334.50,466.90 C335.42,466.90 336.46,467.12 337.25,467.48 C338.04,467.83 338.80,468.43 339.26,469.05 C339.72,469.67 340.00,470.48 340.00,471.20Z" fill="#1aa8ee"/><path d="M337.80,471.12 C337.80,471.55 337.63,472.04 337.36,472.41 C337.08,472.78 336.63,473.14 336.15,473.35 C335.67,473.57 335.05,473.70 334.50,473.70 C333.95,473.70 333.33,473.57 332.85,473.35 C332.37,473.14 331.92,472.78 331.64,472.41 C331.37,472.04 331.20,471.55 331.20,471.12 C331.20,470.69 331.37,470.20 331.64,469.83 C331.92,469.46 332.37,469.10 332.85,468.89 C333.33,468.67 333.95,468.54 334.50,468.54 C335.05,468.54 335.67,468.67 336.15,468.89 C336.63,469.10 337.08,469.46 337.36,469.83 C337.63,470.20 337.80,470.69 337.80,471.12Z" fill="#30d8b0"/></g>
</g>
<line x1="325.90" y1="478.20" x2="364.50" y2="478.20" stroke="#101040" stroke-width="1.1"/>
<rect x="326.50" y="445.00" width="17.00" height="19.20" fill="none" stroke="#d8a0d8" stroke-width="0.6"/>
<rect x="327.00" y="464.20" width="17.00" height="11.40" fill="none" stroke="#d8a0d8" stroke-width="0.6"/>
<rect x="344.00" y="463.70" width="20.30" height="14.30" fill="none" stroke="#d8a0d8" stroke-width="0.6"/>
<text x="328.40" y="444.40" font-size="5.8" font-weight="bold" text-anchor="start" fill="#c84ec8">8.08</text>
<text x="344.60" y="464.60" font-size="5.8" font-weight="bold" text-anchor="start" fill="#c84ec8">15.6</text>
<text x="355.00" y="461.50" font-size="5.8" font-weight="bold" text-anchor="start" fill="#c84ec8">64.9</text>
<g filter="url(#wob)">
<g filter="url(#bl40)"><path d="M376.00,466.00 C376.37,464.42 377.17,463.23 378.00,462.50 C378.83,461.77 380.00,461.68 381.00,461.60 C382.00,461.52 383.17,461.27 384.00,462.00 C384.83,462.73 385.33,464.50 386.00,466.00 C386.67,467.50 387.58,469.00 388.00,471.00 C388.42,473.00 390.50,476.83 388.50,478.00 C386.50,479.17 378.12,479.00 376.00,478.00 C373.88,477.00 375.80,474.00 375.80,472.00 C375.80,470.00 375.63,467.58 376.00,466.00Z" fill="#1020d8"/><path d="M376.90,466.96 C377.20,465.63 377.88,464.64 378.58,464.02 C379.28,463.40 380.26,463.33 381.10,463.26 C381.94,463.19 382.92,462.98 383.62,463.60 C384.32,464.22 384.74,465.70 385.30,466.96 C385.86,468.22 386.63,469.48 386.98,471.16 C387.33,472.84 389.08,476.06 387.40,477.04 C385.72,478.02 378.67,477.88 376.90,477.04 C375.12,476.20 376.73,473.68 376.73,472.00 C376.73,470.32 376.59,468.29 376.90,466.96Z" fill="#1e60f0"/><path d="M377.79,467.92 C378.04,466.84 378.59,466.04 379.15,465.54 C379.72,465.04 380.51,464.98 381.19,464.93 C381.87,464.87 382.67,464.70 383.23,465.20 C383.80,465.70 384.14,466.90 384.59,467.92 C385.05,468.94 385.67,469.96 385.95,471.32 C386.24,472.68 387.65,475.29 386.29,476.08 C384.93,476.87 379.23,476.76 377.79,476.08 C376.35,475.40 377.66,473.36 377.66,472.00 C377.66,470.64 377.54,469.00 377.79,467.92Z" fill="#1aa8ee"/><path d="M378.69,468.88 C378.88,468.06 379.29,467.44 379.73,467.06 C380.16,466.68 380.77,466.64 381.29,466.59 C381.81,466.55 382.41,466.42 382.85,466.80 C383.28,467.18 383.54,468.10 383.89,468.88 C384.23,469.66 384.71,470.44 384.93,471.48 C385.14,472.52 386.23,474.51 385.19,475.12 C384.15,475.73 379.79,475.64 378.69,475.12 C377.59,474.60 378.58,473.04 378.58,472.00 C378.58,470.96 378.50,469.70 378.69,468.88Z" fill="#30d8a0"/><path d="M379.47,469.72 C379.61,469.12 379.92,468.67 380.23,468.39 C380.55,468.11 380.99,468.08 381.37,468.05 C381.75,468.02 382.20,467.92 382.51,468.20 C382.83,468.48 383.02,469.15 383.27,469.72 C383.53,470.29 383.87,470.86 384.03,471.62 C384.19,472.38 384.98,473.84 384.22,474.28 C383.46,474.72 380.28,474.66 379.47,474.28 C378.67,473.90 379.40,472.76 379.40,472.00 C379.40,471.24 379.33,470.32 379.47,469.72Z" fill="#a0e030"/><path d="M380.20,470.50 C380.29,470.10 380.49,469.81 380.70,469.62 C380.91,469.44 381.20,469.42 381.45,469.40 C381.70,469.38 381.99,469.32 382.20,469.50 C382.41,469.68 382.53,470.12 382.70,470.50 C382.87,470.88 383.10,471.25 383.20,471.75 C383.30,472.25 383.83,473.21 383.33,473.50 C382.83,473.79 380.73,473.75 380.20,473.50 C379.67,473.25 380.15,472.50 380.15,472.00 C380.15,471.50 380.11,470.90 380.20,470.50Z" fill="#e8a010"/><path d="M380.87,471.22 C380.92,471.01 381.02,470.86 381.13,470.76 C381.24,470.67 381.39,470.66 381.52,470.65 C381.65,470.64 381.80,470.60 381.91,470.70 C382.02,470.80 382.09,471.03 382.17,471.22 C382.26,471.42 382.38,471.61 382.43,471.87 C382.49,472.13 382.76,472.63 382.50,472.78 C382.24,472.93 381.15,472.91 380.87,472.78 C380.60,472.65 380.85,472.26 380.85,472.00 C380.85,471.74 380.82,471.43 380.87,471.22Z" fill="#d82008"/></g>
</g>
<ellipse cx="389.40" cy="458.50" rx="7.40" ry="9.70" fill="none" stroke="#c070c8" stroke-width="0.6" transform="rotate(-8 389.4 458.5)"/>
<text x="397.70" y="474.70" font-size="5.8" font-weight="bold" text-anchor="start" fill="#c84ec8">2.08</text>
<g filter="url(#wob)">
<g filter="url(#wob)">
<g filter="url(#bl40)"><path d="M426.00,476.00 C426.33,475.08 427.17,473.17 428.00,472.50 C428.83,471.83 430.00,472.50 431.00,472.00 C432.00,471.50 433.00,470.17 434.00,469.50 C435.00,468.83 436.17,468.92 437.00,468.00 C437.83,467.08 438.17,465.08 439.00,464.00 C439.83,462.92 441.00,461.83 442.00,461.50 C443.00,461.17 444.08,461.25 445.00,462.00 C445.92,462.75 447.00,464.33 447.50,466.00 C448.00,467.67 448.00,470.00 448.00,472.00 C448.00,474.00 451.17,477.00 447.50,478.00 C443.83,479.00 429.58,478.33 426.00,478.00 C422.42,477.67 425.67,476.92 426.00,476.00Z" fill="#1020d8"/><path d="M429.44,475.20 C429.71,474.47 430.37,472.93 431.04,472.40 C431.71,471.87 432.64,472.40 433.44,472.00 C434.24,471.60 435.04,470.53 435.84,470.00 C436.64,469.47 437.57,469.53 438.24,468.80 C438.91,468.07 439.17,466.47 439.84,465.60 C440.51,464.73 441.44,463.87 442.24,463.60 C443.04,463.33 443.91,463.40 444.64,464.00 C445.37,464.60 446.24,465.87 446.64,467.20 C447.04,468.53 447.04,470.40 447.04,472.00 C447.04,473.60 449.57,476.00 446.64,476.80 C443.71,477.60 432.31,477.07 429.44,476.80 C426.57,476.53 429.17,475.93 429.44,475.20Z" fill="#1e60f0"/><path d="M432.54,474.48 C432.74,473.91 433.26,472.72 433.78,472.31 C434.29,471.90 435.02,472.31 435.64,472.00 C436.26,471.69 436.88,470.86 437.50,470.45 C438.12,470.04 438.84,470.09 439.36,469.52 C439.87,468.95 440.08,467.71 440.60,467.04 C441.11,466.37 441.84,465.70 442.46,465.49 C443.08,465.28 443.75,465.34 444.32,465.80 C444.88,466.26 445.56,467.25 445.87,468.28 C446.18,469.31 446.18,470.76 446.18,472.00 C446.18,473.24 448.14,475.10 445.87,475.72 C443.59,476.34 434.76,475.93 432.54,475.72 C430.31,475.51 432.33,475.05 432.54,474.48Z" fill="#1aa8ee"/><path d="M434.94,473.92 C435.10,473.48 435.50,472.56 435.90,472.24 C436.30,471.92 436.86,472.24 437.34,472.00 C437.82,471.76 438.30,471.12 438.78,470.80 C439.26,470.48 439.82,470.52 440.22,470.08 C440.62,469.64 440.78,468.68 441.18,468.16 C441.58,467.64 442.14,467.12 442.62,466.96 C443.10,466.80 443.62,466.84 444.06,467.20 C444.50,467.56 445.02,468.32 445.26,469.12 C445.50,469.92 445.50,471.04 445.50,472.00 C445.50,472.96 447.02,474.40 445.26,474.88 C443.50,475.36 436.66,475.04 434.94,474.88 C433.22,474.72 434.78,474.36 434.94,473.92Z" fill="#30d8a0"/><path d="M437.01,473.44 C437.13,473.11 437.43,472.42 437.73,472.18 C438.03,471.94 438.45,472.18 438.81,472.00 C439.17,471.82 439.53,471.34 439.89,471.10 C440.25,470.86 440.67,470.89 440.97,470.56 C441.27,470.23 441.39,469.51 441.69,469.12 C441.99,468.73 442.41,468.34 442.77,468.22 C443.13,468.10 443.52,468.13 443.85,468.40 C444.18,468.67 444.57,469.24 444.75,469.84 C444.93,470.44 444.93,471.28 444.93,472.00 C444.93,472.72 446.07,473.80 444.75,474.16 C443.43,474.52 438.30,474.28 437.01,474.16 C435.72,474.04 436.89,473.77 437.01,473.44Z" fill="#a0e030"/><path d="M438.90,473.00 C438.98,472.77 439.19,472.29 439.40,472.12 C439.61,471.96 439.90,472.12 440.15,472.00 C440.40,471.88 440.65,471.54 440.90,471.38 C441.15,471.21 441.44,471.23 441.65,471.00 C441.86,470.77 441.94,470.27 442.15,470.00 C442.36,469.73 442.65,469.46 442.90,469.38 C443.15,469.29 443.42,469.31 443.65,469.50 C443.88,469.69 444.15,470.08 444.27,470.50 C444.40,470.92 444.40,471.50 444.40,472.00 C444.40,472.50 445.19,473.25 444.27,473.50 C443.36,473.75 439.80,473.58 438.90,473.50 C438.00,473.42 438.82,473.23 438.90,473.00Z" fill="#e8a010"/><path d="M440.96,472.52 C441.01,472.40 441.12,472.15 441.22,472.06 C441.33,471.98 441.48,472.06 441.61,472.00 C441.74,471.94 441.87,471.76 442.00,471.68 C442.13,471.59 442.29,471.60 442.39,471.48 C442.50,471.36 442.55,471.10 442.65,470.96 C442.76,470.82 442.91,470.68 443.04,470.63 C443.17,470.59 443.31,470.60 443.43,470.70 C443.55,470.80 443.69,471.00 443.76,471.22 C443.82,471.44 443.82,471.74 443.82,472.00 C443.82,472.26 444.24,472.65 443.76,472.78 C443.28,472.91 441.43,472.82 440.96,472.78 C440.50,472.74 440.92,472.64 440.96,472.52Z" fill="#d82008"/></g>
</g>
</g>
<line x1="425.50" y1="478.20" x2="450.00" y2="478.20" stroke="#101040" stroke-width="1.1"/>
<rect x="447.00" y="438.20" width="17.30" height="39.80" fill="none" stroke="#d8a0d8" stroke-width="0.7"/>
<text x="451.60" y="478.80" font-size="5.8" font-weight="bold" text-anchor="start" fill="#c84ec8">0.926</text>
<g fill="#999" opacity="0.5"><circle cx="484.9" cy="466.0" r="0.35"/><circle cx="481.1" cy="459.4" r="0.35"/><circle cx="483.9" cy="467.2" r="0.35"/><circle cx="484.1" cy="458.6" r="0.35"/><circle cx="481.2" cy="461.9" r="0.35"/><circle cx="485.4" cy="462.1" r="0.35"/><circle cx="482.2" cy="461.4" r="0.35"/><circle cx="483.5" cy="459.9" r="0.35"/><circle cx="483.1" cy="462.9" r="0.35"/><circle cx="487.1" cy="461.9" r="0.35"/><circle cx="485.4" cy="459.1" r="0.35"/><circle cx="485.2" cy="462.6" r="0.35"/><circle cx="481.8" cy="462.0" r="0.35"/><circle cx="485.3" cy="461.1" r="0.35"/><circle cx="485.6" cy="466.6" r="0.35"/><circle cx="487.1" cy="466.9" r="0.35"/><circle cx="480.0" cy="463.1" r="0.35"/><circle cx="481.4" cy="464.9" r="0.35"/><circle cx="483.3" cy="462.8" r="0.35"/><circle cx="484.2" cy="460.4" r="0.35"/><circle cx="483.3" cy="460.0" r="0.35"/><circle cx="488.2" cy="460.8" r="0.35"/><circle cx="483.1" cy="456.9" r="0.35"/><circle cx="479.5" cy="459.6" r="0.35"/><circle cx="485.0" cy="464.4" r="0.35"/><circle cx="483.8" cy="460.2" r="0.35"/><circle cx="487.6" cy="459.1" r="0.35"/><circle cx="481.0" cy="463.5" r="0.35"/><circle cx="480.6" cy="462.9" r="0.35"/><circle cx="485.5" cy="461.9" r="0.35"/><circle cx="484.1" cy="462.2" r="0.35"/><circle cx="481.4" cy="452.8" r="0.35"/><circle cx="480.1" cy="462.1" r="0.35"/><circle cx="479.1" cy="460.4" r="0.35"/><circle cx="483.6" cy="466.0" r="0.35"/><circle cx="479.7" cy="460.5" r="0.35"/><circle cx="483.6" cy="463.7" r="0.35"/><circle cx="479.7" cy="467.6" r="0.35"/><circle cx="481.1" cy="465.3" r="0.35"/><circle cx="482.6" cy="463.3" r="0.35"/></g>
<g fill="#999" opacity="0.5"><circle cx="488.6" cy="445.7" r="0.35"/><circle cx="497.8" cy="447.1" r="0.35"/><circle cx="487.6" cy="446.9" r="0.35"/><circle cx="485.4" cy="444.5" r="0.35"/><circle cx="488.7" cy="445.1" r="0.35"/><circle cx="489.5" cy="445.6" r="0.35"/><circle cx="481.4" cy="443.2" r="0.35"/><circle cx="484.3" cy="441.8" r="0.35"/><circle cx="486.8" cy="445.4" r="0.35"/><circle cx="489.9" cy="444.2" r="0.35"/><circle cx="486.3" cy="447.2" r="0.35"/><circle cx="489.3" cy="443.9" r="0.35"/><circle cx="491.8" cy="444.7" r="0.35"/><circle cx="490.8" cy="445.4" r="0.35"/><circle cx="485.7" cy="443.4" r="0.35"/><circle cx="486.6" cy="451.0" r="0.35"/><circle cx="485.0" cy="449.2" r="0.35"/><circle cx="491.2" cy="445.2" r="0.35"/><circle cx="490.5" cy="448.9" r="0.35"/><circle cx="486.0" cy="444.9" r="0.35"/><circle cx="490.5" cy="446.7" r="0.35"/><circle cx="493.7" cy="446.9" r="0.35"/><circle cx="483.4" cy="445.9" r="0.35"/><circle cx="483.3" cy="447.6" r="0.35"/><circle cx="489.2" cy="445.1" r="0.35"/></g>
<g fill="#aaa" opacity="0.5"><circle cx="496.7" cy="468.7" r="0.35"/><circle cx="489.3" cy="471.2" r="0.35"/><circle cx="484.5" cy="470.3" r="0.35"/><circle cx="485.9" cy="471.7" r="0.35"/><circle cx="489.5" cy="475.0" r="0.35"/><circle cx="488.8" cy="475.3" r="0.35"/><circle cx="489.7" cy="472.2" r="0.35"/><circle cx="487.0" cy="469.0" r="0.35"/><circle cx="481.5" cy="471.6" r="0.35"/><circle cx="487.1" cy="472.8" r="0.35"/><circle cx="489.1" cy="468.1" r="0.35"/><circle cx="485.0" cy="468.5" r="0.35"/><circle cx="491.7" cy="471.5" r="0.35"/><circle cx="488.2" cy="469.1" r="0.35"/><circle cx="482.7" cy="470.1" r="0.35"/><circle cx="487.3" cy="473.2" r="0.35"/><circle cx="481.7" cy="472.8" r="0.35"/><circle cx="484.3" cy="470.2" r="0.35"/><circle cx="486.4" cy="470.5" r="0.35"/><circle cx="489.5" cy="474.4" r="0.35"/><circle cx="489.1" cy="470.2" r="0.35"/><circle cx="489.4" cy="472.9" r="0.35"/><circle cx="491.1" cy="472.6" r="0.35"/><circle cx="481.3" cy="469.5" r="0.35"/><circle cx="486.1" cy="474.5" r="0.35"/><circle cx="487.2" cy="474.5" r="0.35"/><circle cx="488.9" cy="468.3" r="0.35"/><circle cx="487.9" cy="473.4" r="0.35"/><circle cx="489.3" cy="467.4" r="0.35"/><circle cx="489.4" cy="470.1" r="0.35"/><circle cx="479.4" cy="470.1" r="0.35"/><circle cx="479.9" cy="468.0" r="0.35"/><circle cx="493.4" cy="479.1" r="0.35"/><circle cx="491.9" cy="473.1" r="0.35"/><circle cx="495.2" cy="472.8" r="0.35"/><circle cx="483.9" cy="464.5" r="0.35"/><circle cx="491.3" cy="465.1" r="0.35"/><circle cx="476.4" cy="469.9" r="0.35"/><circle cx="488.0" cy="469.2" r="0.35"/><circle cx="491.8" cy="471.5" r="0.35"/><circle cx="488.6" cy="473.1" r="0.35"/><circle cx="485.4" cy="472.4" r="0.35"/><circle cx="497.0" cy="469.0" r="0.35"/><circle cx="488.4" cy="473.4" r="0.35"/><circle cx="485.6" cy="471.7" r="0.35"/><circle cx="481.0" cy="470.5" r="0.35"/><circle cx="487.9" cy="475.1" r="0.35"/><circle cx="491.5" cy="470.1" r="0.35"/><circle cx="483.4" cy="477.3" r="0.35"/><circle cx="491.3" cy="466.1" r="0.35"/><circle cx="486.4" cy="469.1" r="0.35"/><circle cx="485.4" cy="466.7" r="0.35"/><circle cx="486.1" cy="470.3" r="0.35"/><circle cx="486.8" cy="475.0" r="0.35"/><circle cx="488.7" cy="468.2" r="0.35"/><circle cx="480.9" cy="470.3" r="0.35"/><circle cx="492.4" cy="474.7" r="0.35"/><circle cx="485.5" cy="475.3" r="0.35"/><circle cx="489.5" cy="470.1" r="0.35"/><circle cx="489.5" cy="471.6" r="0.35"/></g>
<g fill="#000" opacity="0.45"><circle cx="479.4" cy="461.1" r="0.4"/><circle cx="485.5" cy="484.1" r="0.4"/><circle cx="482.4" cy="475.8" r="0.4"/><circle cx="485.3" cy="473.6" r="0.4"/><circle cx="483.7" cy="475.2" r="0.4"/><circle cx="479.9" cy="461.9" r="0.4"/><circle cx="474.8" cy="472.7" r="0.4"/><circle cx="482.4" cy="469.3" r="0.4"/><circle cx="472.8" cy="468.3" r="0.4"/><circle cx="480.6" cy="464.6" r="0.4"/><circle cx="478.1" cy="480.0" r="0.4"/><circle cx="485.5" cy="473.4" r="0.4"/><circle cx="481.8" cy="467.3" r="0.4"/><circle cx="479.5" cy="472.9" r="0.4"/><circle cx="477.8" cy="468.4" r="0.4"/><circle cx="486.5" cy="463.2" r="0.4"/><circle cx="478.1" cy="478.2" r="0.4"/><circle cx="482.1" cy="470.4" r="0.4"/><circle cx="477.9" cy="462.6" r="0.4"/><circle cx="485.0" cy="456.8" r="0.4"/><circle cx="482.4" cy="466.8" r="0.4"/><circle cx="480.5" cy="459.3" r="0.4"/><circle cx="483.9" cy="472.4" r="0.4"/><circle cx="481.8" cy="471.6" r="0.4"/><circle cx="476.1" cy="470.4" r="0.4"/><circle cx="482.5" cy="469.1" r="0.4"/><circle cx="469.8" cy="469.0" r="0.4"/><circle cx="481.2" cy="464.0" r="0.4"/><circle cx="481.0" cy="475.8" r="0.4"/><circle cx="480.5" cy="476.0" r="0.4"/><circle cx="478.9" cy="465.9" r="0.4"/><circle cx="481.7" cy="465.1" r="0.4"/><circle cx="474.9" cy="471.2" r="0.4"/><circle cx="480.8" cy="472.4" r="0.4"/><circle cx="477.7" cy="467.3" r="0.4"/><circle cx="482.5" cy="467.1" r="0.4"/><circle cx="480.0" cy="470.6" r="0.4"/><circle cx="478.2" cy="470.7" r="0.4"/><circle cx="475.6" cy="471.9" r="0.4"/><circle cx="490.2" cy="472.7" r="0.4"/><circle cx="479.4" cy="461.5" r="0.4"/><circle cx="476.7" cy="468.1" r="0.4"/><circle cx="478.1" cy="471.9" r="0.4"/><circle cx="481.3" cy="473.3" r="0.4"/><circle cx="480.0" cy="473.4" r="0.4"/><circle cx="485.6" cy="465.1" r="0.4"/><circle cx="480.4" cy="468.9" r="0.4"/><circle cx="480.5" cy="475.1" r="0.4"/><circle cx="479.6" cy="465.1" r="0.4"/><circle cx="476.1" cy="462.3" r="0.4"/><circle cx="480.5" cy="473.9" r="0.4"/><circle cx="481.0" cy="465.6" r="0.4"/><circle cx="480.2" cy="465.0" r="0.4"/><circle cx="484.3" cy="470.1" r="0.4"/><circle cx="485.9" cy="472.8" r="0.4"/><circle cx="483.0" cy="464.9" r="0.4"/><circle cx="482.6" cy="467.7" r="0.4"/><circle cx="478.9" cy="470.4" r="0.4"/><circle cx="486.5" cy="472.0" r="0.4"/><circle cx="487.9" cy="472.9" r="0.4"/><circle cx="476.1" cy="467.1" r="0.4"/><circle cx="487.4" cy="472.5" r="0.4"/><circle cx="481.2" cy="467.5" r="0.4"/><circle cx="481.5" cy="471.8" r="0.4"/><circle cx="479.5" cy="469.5" r="0.4"/><circle cx="481.9" cy="464.5" r="0.4"/><circle cx="480.1" cy="466.2" r="0.4"/><circle cx="478.8" cy="465.4" r="0.4"/><circle cx="478.8" cy="465.8" r="0.4"/><circle cx="487.0" cy="468.9" r="0.4"/><circle cx="482.3" cy="465.9" r="0.4"/><circle cx="481.5" cy="471.9" r="0.4"/><circle cx="486.5" cy="478.2" r="0.4"/><circle cx="479.5" cy="478.4" r="0.4"/><circle cx="481.3" cy="475.7" r="0.4"/><circle cx="480.8" cy="473.4" r="0.4"/><circle cx="480.7" cy="463.3" r="0.4"/><circle cx="483.0" cy="468.4" r="0.4"/><circle cx="480.7" cy="471.1" r="0.4"/><circle cx="482.8" cy="481.8" r="0.4"/><circle cx="477.5" cy="467.5" r="0.4"/><circle cx="477.9" cy="475.9" r="0.4"/><circle cx="480.1" cy="467.1" r="0.4"/><circle cx="482.7" cy="470.3" r="0.4"/><circle cx="482.9" cy="462.8" r="0.4"/><circle cx="481.1" cy="472.8" r="0.4"/><circle cx="479.1" cy="475.9" r="0.4"/><circle cx="480.8" cy="466.2" r="0.4"/><circle cx="479.7" cy="472.4" r="0.4"/><circle cx="484.6" cy="467.6" r="0.4"/><circle cx="483.0" cy="468.3" r="0.4"/><circle cx="478.0" cy="465.2" r="0.4"/><circle cx="483.6" cy="467.7" r="0.4"/><circle cx="481.6" cy="477.7" r="0.4"/><circle cx="484.4" cy="467.9" r="0.4"/><circle cx="480.1" cy="471.1" r="0.4"/><circle cx="474.0" cy="473.0" r="0.4"/><circle cx="478.6" cy="473.3" r="0.4"/><circle cx="478.6" cy="468.2" r="0.4"/><circle cx="483.8" cy="472.9" r="0.4"/><circle cx="487.2" cy="467.6" r="0.4"/><circle cx="479.0" cy="477.0" r="0.4"/><circle cx="482.9" cy="464.3" r="0.4"/><circle cx="479.5" cy="471.8" r="0.4"/><circle cx="479.4" cy="462.9" r="0.4"/><circle cx="481.2" cy="471.9" r="0.4"/><circle cx="485.3" cy="475.0" r="0.4"/><circle cx="483.7" cy="465.9" r="0.4"/><circle cx="477.0" cy="465.0" r="0.4"/><circle cx="482.9" cy="474.0" r="0.4"/></g>
<ellipse cx="486.60" cy="444.90" rx="7.40" ry="6.80" fill="none" stroke="#b070b0" stroke-width="0.6"/>
<g filter="url(#wob)">
<g filter="url(#bl45)"><path d="M485.85,471.30 C485.85,472.27 485.67,473.34 485.34,474.22 C485.02,475.09 484.49,475.95 483.91,476.55 C483.33,477.16 482.57,477.64 481.85,477.85 C481.12,478.07 480.28,478.07 479.55,477.85 C478.83,477.64 478.07,477.16 477.49,476.55 C476.91,475.95 476.38,475.09 476.06,474.22 C475.73,473.34 475.55,472.27 475.55,471.30 C475.55,470.33 475.73,469.26 476.06,468.38 C476.38,467.51 476.91,466.65 477.49,466.05 C478.07,465.44 478.83,464.96 479.55,464.75 C480.28,464.53 481.12,464.53 481.85,464.75 C482.57,464.96 483.33,465.44 483.91,466.05 C484.49,466.65 485.02,467.51 485.34,468.38 C485.67,469.26 485.85,470.33 485.85,471.30Z" fill="#080830"/><path d="M485.30,471.30 C485.30,472.17 485.13,473.12 484.84,473.90 C484.56,474.69 484.09,475.45 483.57,475.99 C483.05,476.53 482.37,476.96 481.72,477.15 C481.07,477.34 480.33,477.34 479.68,477.15 C479.03,476.96 478.35,476.53 477.83,475.99 C477.31,475.45 476.84,474.69 476.56,473.90 C476.27,473.12 476.10,472.17 476.10,471.30 C476.10,470.43 476.27,469.48 476.56,468.70 C476.84,467.91 477.31,467.15 477.83,466.61 C478.35,466.07 479.03,465.64 479.68,465.45 C480.33,465.26 481.07,465.26 481.72,465.45 C482.37,465.64 483.05,466.07 483.57,466.61 C484.09,467.15 484.56,467.91 484.84,468.70 C485.13,469.48 485.30,470.43 485.30,471.30Z" fill="#1020d8"/><path d="M484.38,471.30 C484.38,471.99 484.25,472.76 484.02,473.38 C483.78,474.01 483.41,474.62 482.99,475.05 C482.58,475.49 482.04,475.83 481.52,475.98 C481.00,476.13 480.40,476.13 479.88,475.98 C479.36,475.83 478.82,475.49 478.41,475.05 C477.99,474.62 477.62,474.01 477.38,473.38 C477.15,472.76 477.02,471.99 477.02,471.30 C477.02,470.61 477.15,469.84 477.38,469.22 C477.62,468.59 477.99,467.98 478.41,467.55 C478.82,467.11 479.36,466.77 479.88,466.62 C480.40,466.47 481.00,466.47 481.52,466.62 C482.04,466.77 482.58,467.11 482.99,467.55 C483.41,467.98 483.78,468.59 484.02,469.22 C484.25,469.84 484.38,470.61 484.38,471.30Z" fill="#1e60f0"/><path d="M483.46,471.30 C483.46,471.82 483.36,472.39 483.19,472.86 C483.01,473.33 482.73,473.79 482.42,474.11 C482.11,474.44 481.70,474.69 481.31,474.81 C480.92,474.93 480.48,474.93 480.09,474.81 C479.70,474.69 479.29,474.44 478.98,474.11 C478.67,473.79 478.39,473.33 478.21,472.86 C478.04,472.39 477.94,471.82 477.94,471.30 C477.94,470.78 478.04,470.21 478.21,469.74 C478.39,469.27 478.67,468.81 478.98,468.49 C479.29,468.16 479.70,467.91 480.09,467.79 C480.48,467.67 480.92,467.67 481.31,467.79 C481.70,467.91 482.11,468.16 482.42,468.49 C482.73,468.81 483.01,469.27 483.19,469.74 C483.36,470.21 483.46,470.78 483.46,471.30Z" fill="#1aa8ee"/><path d="M482.54,471.30 C482.54,471.65 482.47,472.03 482.36,472.34 C482.24,472.65 482.06,472.96 481.85,473.18 C481.64,473.39 481.37,473.56 481.11,473.64 C480.85,473.72 480.55,473.72 480.29,473.64 C480.03,473.56 479.76,473.39 479.55,473.18 C479.34,472.96 479.16,472.65 479.04,472.34 C478.93,472.03 478.86,471.65 478.86,471.30 C478.86,470.95 478.93,470.57 479.04,470.26 C479.16,469.95 479.34,469.64 479.55,469.42 C479.76,469.21 480.03,469.04 480.29,468.96 C480.55,468.88 480.85,468.88 481.11,468.96 C481.37,469.04 481.64,469.21 481.85,469.42 C482.06,469.64 482.24,469.95 482.36,470.26 C482.47,470.57 482.54,470.95 482.54,471.30Z" fill="#30d8a0"/><path d="M481.62,471.30 C481.62,471.47 481.59,471.66 481.53,471.82 C481.47,471.98 481.38,472.13 481.27,472.24 C481.17,472.35 481.03,472.43 480.90,472.47 C480.77,472.51 480.63,472.51 480.50,472.47 C480.37,472.43 480.23,472.35 480.13,472.24 C480.02,472.13 479.93,471.98 479.87,471.82 C479.81,471.66 479.78,471.47 479.78,471.30 C479.78,471.13 479.81,470.94 479.87,470.78 C479.93,470.62 480.02,470.47 480.13,470.36 C480.23,470.25 480.37,470.17 480.50,470.13 C480.63,470.09 480.77,470.09 480.90,470.13 C481.03,470.17 481.17,470.25 481.27,470.36 C481.38,470.47 481.47,470.62 481.53,470.78 C481.59,470.94 481.62,471.13 481.62,471.30Z" fill="#b0e030"/></g>
</g>
<text x="495.60" y="458.40" font-size="5.8" font-weight="bold" text-anchor="start" fill="#c84ec8">0.0878</text>
<line x1="328.80" y1="490.50" x2="328.80" y2="510.80" stroke="#000" stroke-width="1.1"/>
<path d="M328.80,487.50 L326.60,491.50 L331.00,491.50Z" fill="#000" stroke="none" stroke-width="1"/>
<line x1="328.80" y1="510.80" x2="350.30" y2="510.80" stroke="#000" stroke-width="1.1"/>
<path d="M353.80,510.80 L349.80,508.60 L349.80,513.00Z" fill="#000" stroke="none" stroke-width="1"/>
<text x="325.40" y="501.50" font-size="6.2" font-weight="normal" text-anchor="middle" fill="#000" transform="rotate(-90 325.40000000000003 501.5)">CD19</text>
<text x="337.80" y="519.00" font-size="6.2" font-weight="normal" text-anchor="middle" fill="#000">CD3</text>
<line x1="378.80" y1="490.50" x2="378.80" y2="510.80" stroke="#000" stroke-width="1.1"/>
<path d="M378.80,487.50 L376.60,491.50 L381.00,491.50Z" fill="#000" stroke="none" stroke-width="1"/>
<line x1="378.80" y1="510.80" x2="400.30" y2="510.80" stroke="#000" stroke-width="1.1"/>
<path d="M403.80,510.80 L399.80,508.60 L399.80,513.00Z" fill="#000" stroke="none" stroke-width="1"/>
<text x="375.40" y="501.50" font-size="6.2" font-weight="normal" text-anchor="middle" fill="#000" transform="rotate(-90 375.40000000000003 501.5)">CD33</text>
<text x="387.80" y="519.00" font-size="6.2" font-weight="normal" text-anchor="middle" fill="#000">CD123</text>
<line x1="428.80" y1="490.50" x2="428.80" y2="510.80" stroke="#000" stroke-width="1.1"/>
<path d="M428.80,487.50 L426.60,491.50 L431.00,491.50Z" fill="#000" stroke="none" stroke-width="1"/>
<line x1="428.80" y1="510.80" x2="450.30" y2="510.80" stroke="#000" stroke-width="1.1"/>
<path d="M453.80,510.80 L449.80,508.60 L449.80,513.00Z" fill="#000" stroke="none" stroke-width="1"/>
<text x="425.40" y="501.50" font-size="6.2" font-weight="normal" text-anchor="middle" fill="#000" transform="rotate(-90 425.40000000000003 501.5)">CD14</text>
<text x="437.80" y="519.00" font-size="6.2" font-weight="normal" text-anchor="middle" fill="#000">CD123</text>
<line x1="478.80" y1="490.50" x2="478.80" y2="510.80" stroke="#000" stroke-width="1.1"/>
<path d="M478.80,487.50 L476.60,491.50 L481.00,491.50Z" fill="#000" stroke="none" stroke-width="1"/>
<line x1="478.80" y1="510.80" x2="500.30" y2="510.80" stroke="#000" stroke-width="1.1"/>
<path d="M503.80,510.80 L499.80,508.60 L499.80,513.00Z" fill="#000" stroke="none" stroke-width="1"/>
<text x="475.40" y="501.50" font-size="6.2" font-weight="normal" text-anchor="middle" fill="#000" transform="rotate(-90 475.40000000000003 501.5)">CD41</text>
<text x="487.80" y="519.00" font-size="6.2" font-weight="normal" text-anchor="middle" fill="#000">CD45</text>
<line x1="326.60" y1="546.50" x2="326.60" y2="620.10" stroke="#000" stroke-width="1.5"/>
<line x1="325.90" y1="619.40" x2="365.50" y2="619.40" stroke="#000" stroke-width="1.5"/>
<line x1="324.00" y1="619.40" x2="326.60" y2="619.40" stroke="#000" stroke-width="1.3"/>
<text x="323.60" y="621.80" font-size="6.7" font-weight="bold" text-anchor="end" fill="#000">0</text>
<line x1="324.00" y1="604.92" x2="326.60" y2="604.92" stroke="#000" stroke-width="1.3"/>
<text x="323.60" y="607.32" font-size="6.7" font-weight="bold" text-anchor="end" fill="#000">100</text>
<line x1="324.00" y1="590.44" x2="326.60" y2="590.44" stroke="#000" stroke-width="1.3"/>
<text x="323.60" y="592.84" font-size="6.7" font-weight="bold" text-anchor="end" fill="#000">200</text>
<line x1="324.00" y1="575.96" x2="326.60" y2="575.96" stroke="#000" stroke-width="1.3"/>
<text x="323.60" y="578.36" font-size="6.7" font-weight="bold" text-anchor="end" fill="#000">300</text>
<line x1="324.00" y1="561.48" x2="326.60" y2="561.48" stroke="#000" stroke-width="1.3"/>
<text x="323.60" y="563.88" font-size="6.7" font-weight="bold" text-anchor="end" fill="#000">400</text>
<line x1="324.00" y1="547.00" x2="326.60" y2="547.00" stroke="#000" stroke-width="1.3"/>
<text x="323.60" y="549.40" font-size="6.7" font-weight="bold" text-anchor="end" fill="#000">500</text>
<text x="309.20" y="582.00" font-size="6.8" font-weight="bold" text-anchor="middle" fill="#000" transform="rotate(-90 309.2 582.0)">human B cells/µl blood</text>
<line x1="336.45" y1="574.22" x2="336.45" y2="562.93" stroke="#000" stroke-width="1.2"/>
<line x1="334.85" y1="562.93" x2="338.05" y2="562.93" stroke="#000" stroke-width="1.2"/>
<rect x="330.00" y="574.22" width="12.90" height="45.18" fill="#fff" stroke="#000" stroke-width="1.4"/>
<line x1="336.45" y1="619.40" x2="336.45" y2="622.00" stroke="#000" stroke-width="1.1"/>
<line x1="355.85" y1="617.66" x2="355.85" y2="616.79" stroke="#000" stroke-width="1.2"/>
<line x1="354.25" y1="616.79" x2="357.45" y2="616.79" stroke="#000" stroke-width="1.2"/>
<rect x="348.70" y="617.66" width="14.30" height="1.74" fill="#000" stroke="#000" stroke-width="1.4"/>
<line x1="355.85" y1="619.40" x2="355.85" y2="622.00" stroke="#000" stroke-width="1.1"/>
<line x1="336.00" y1="558.50" x2="353.50" y2="558.50" stroke="#000" stroke-width="1.3"/>
<text x="346.25" y="558.50" font-size="7.5" font-weight="bold" text-anchor="middle" fill="#000">*</text>
<text x="336.20" y="628.00" font-size="6.3" font-weight="normal" text-anchor="middle" fill="#000">UTD</text>
<text x="360.00" y="628.00" font-size="6.3" font-weight="normal" text-anchor="middle" fill="#000">CART123</text>
<line x1="395.40" y1="551.00" x2="395.40" y2="619.60" stroke="#000" stroke-width="1.5"/>
<line x1="394.70" y1="618.90" x2="431.50" y2="618.90" stroke="#000" stroke-width="1.5"/>
<line x1="392.80" y1="618.90" x2="395.40" y2="618.90" stroke="#000" stroke-width="1.3"/>
<text x="392.40" y="621.30" font-size="6.7" font-weight="bold" text-anchor="end" fill="#000">0</text>
<line x1="392.80" y1="605.42" x2="395.40" y2="605.42" stroke="#000" stroke-width="1.3"/>
<text x="392.40" y="607.82" font-size="6.7" font-weight="bold" text-anchor="end" fill="#000">1</text>
<line x1="392.80" y1="591.94" x2="395.40" y2="591.94" stroke="#000" stroke-width="1.3"/>
<text x="392.40" y="594.34" font-size="6.7" font-weight="bold" text-anchor="end" fill="#000">2</text>
<line x1="392.80" y1="578.46" x2="395.40" y2="578.46" stroke="#000" stroke-width="1.3"/>
<text x="392.40" y="580.86" font-size="6.7" font-weight="bold" text-anchor="end" fill="#000">3</text>
<line x1="392.80" y1="564.98" x2="395.40" y2="564.98" stroke="#000" stroke-width="1.3"/>
<text x="392.40" y="567.38" font-size="6.7" font-weight="bold" text-anchor="end" fill="#000">4</text>
<line x1="392.80" y1="551.50" x2="395.40" y2="551.50" stroke="#000" stroke-width="1.3"/>
<text x="392.40" y="553.90" font-size="6.7" font-weight="bold" text-anchor="end" fill="#000">5</text>
<text x="381.50" y="582.30" font-size="6.8" font-weight="bold" text-anchor="middle" fill="#000" transform="rotate(-90 381.5 582.3)">human myeloid cells/µl blood</text>
<line x1="404.65" y1="582.50" x2="404.65" y2="566.33" stroke="#000" stroke-width="1.2"/>
<line x1="403.05" y1="566.33" x2="406.25" y2="566.33" stroke="#000" stroke-width="1.2"/>
<rect x="398.50" y="582.50" width="12.30" height="36.40" fill="#fff" stroke="#000" stroke-width="1.4"/>
<line x1="404.65" y1="618.90" x2="404.65" y2="621.50" stroke="#000" stroke-width="1.1"/>
<line x1="422.35" y1="614.18" x2="422.35" y2="609.46" stroke="#000" stroke-width="1.2"/>
<line x1="420.75" y1="609.46" x2="423.95" y2="609.46" stroke="#000" stroke-width="1.2"/>
<rect x="416.20" y="614.18" width="12.30" height="4.72" fill="#000" stroke="#000" stroke-width="1.4"/>
<line x1="422.35" y1="618.90" x2="422.35" y2="621.50" stroke="#000" stroke-width="1.1"/>
<line x1="403.80" y1="560.30" x2="418.50" y2="560.30" stroke="#000" stroke-width="1.3"/>
<text x="411.15" y="557.90" font-size="7.0" font-weight="normal" text-anchor="middle" fill="#000">ns</text>
<text x="404.00" y="628.00" font-size="6.3" font-weight="normal" text-anchor="middle" fill="#000">UTD</text>
<text x="427.00" y="628.00" font-size="6.3" font-weight="normal" text-anchor="middle" fill="#000">CART123</text>
<line x1="472.30" y1="553.30" x2="472.30" y2="621.50" stroke="#000" stroke-width="1.5"/>
<line x1="471.60" y1="620.80" x2="508.50" y2="620.80" stroke="#000" stroke-width="1.5"/>
<line x1="469.70" y1="620.80" x2="472.30" y2="620.80" stroke="#000" stroke-width="1.3"/>
<text x="469.30" y="623.20" font-size="6.7" font-weight="bold" text-anchor="end" fill="#000">0</text>
<line x1="469.70" y1="604.05" x2="472.30" y2="604.05" stroke="#000" stroke-width="1.3"/>
<text x="469.30" y="606.45" font-size="6.7" font-weight="bold" text-anchor="end" fill="#000">500</text>
<line x1="469.70" y1="587.30" x2="472.30" y2="587.30" stroke="#000" stroke-width="1.3"/>
<text x="469.30" y="589.70" font-size="6.7" font-weight="bold" text-anchor="end" fill="#000">1000</text>
<line x1="469.70" y1="570.55" x2="472.30" y2="570.55" stroke="#000" stroke-width="1.3"/>
<text x="469.30" y="572.95" font-size="6.7" font-weight="bold" text-anchor="end" fill="#000">1500</text>
<line x1="469.70" y1="553.80" x2="472.30" y2="553.80" stroke="#000" stroke-width="1.3"/>
<text x="469.30" y="556.20" font-size="6.7" font-weight="bold" text-anchor="end" fill="#000">2000</text>
<text x="451.50" y="585.50" font-size="6.8" font-weight="bold" text-anchor="middle" fill="#000" transform="rotate(-90 451.5 585.5)">human platelets/µl blood</text>
<line x1="481.55" y1="565.52" x2="481.55" y2="561.17" stroke="#000" stroke-width="1.2"/>
<line x1="479.95" y1="561.17" x2="483.15" y2="561.17" stroke="#000" stroke-width="1.2"/>
<rect x="475.40" y="565.52" width="12.30" height="55.27" fill="#fff" stroke="#000" stroke-width="1.4"/>
<line x1="481.55" y1="620.80" x2="481.55" y2="623.40" stroke="#000" stroke-width="1.1"/>
<line x1="500.00" y1="610.75" x2="500.00" y2="601.37" stroke="#000" stroke-width="1.2"/>
<line x1="498.40" y1="601.37" x2="501.60" y2="601.37" stroke="#000" stroke-width="1.2"/>
<rect x="493.80" y="610.75" width="12.40" height="10.05" fill="#000" stroke="#000" stroke-width="1.4"/>
<line x1="500.00" y1="620.80" x2="500.00" y2="623.40" stroke="#000" stroke-width="1.1"/>
<line x1="480.80" y1="557.00" x2="497.00" y2="557.00" stroke="#000" stroke-width="1.3"/>
<text x="490.40" y="557.00" font-size="7.5" font-weight="bold" text-anchor="middle" fill="#000">*</text>
<text x="480.50" y="628.00" font-size="6.3" font-weight="normal" text-anchor="middle" fill="#000">UTD</text>
<text x="506.00" y="628.00" font-size="6.3" font-weight="normal" text-anchor="middle" fill="#000">CART123</text>
<text x="-1.60" y="507.60" font-size="11.8" font-weight="bold" text-anchor="start" fill="#000">E</text>
<g transform="translate(34.00,534.00)" stroke="#111" stroke-width="1.05" fill="#fff"><path d="M-27.3,-6 C-21,-6.4 -15,-4.6 -11.8,0.4" fill="none"/><ellipse cx="0.6" cy="0.2" rx="12.4" ry="6.7"/><ellipse cx="-5" cy="6.3" rx="3.7" ry="1.8"/><ellipse cx="13.5" cy="6.5" rx="3.7" ry="1.8"/><ellipse cx="18.2" cy="5.0" rx="2.4" ry="1.8" transform="rotate(-20 18.2 5)"/><path d="M9.5,-5 C9.8,-8.2 12.5,-10.2 16.5,-10.1 C19.5,-10 22,-8 24.1,-5.6 C22.8,-2.5 20,-0.1 16.5,0.1 C12.8,0.3 9.3,-1.8 9.5,-5 Z"/><ellipse cx="10.9" cy="-9.9" rx="3.4" ry="4.4" transform="rotate(8 10.9 -9.9)"/><ellipse cx="17.5" cy="-12.5" rx="3.25" ry="3.0"/><circle cx="18.5" cy="-6.3" r="1.0" fill="#111" stroke="none"/><circle cx="23.8" cy="-5.5" r="0.75" fill="#111" stroke="none"/></g>
<g transform="translate(102.60,534.00)" stroke="#111" stroke-width="1.05" fill="#fff"><path d="M-27.3,-6 C-21,-6.4 -15,-4.6 -11.8,0.4" fill="none"/><ellipse cx="0.6" cy="0.2" rx="12.4" ry="6.7"/><ellipse cx="-5" cy="6.3" rx="3.7" ry="1.8"/><ellipse cx="13.5" cy="6.5" rx="3.7" ry="1.8"/><ellipse cx="18.2" cy="5.0" rx="2.4" ry="1.8" transform="rotate(-20 18.2 5)"/><path d="M9.5,-5 C9.8,-8.2 12.5,-10.2 16.5,-10.1 C19.5,-10 22,-8 24.1,-5.6 C22.8,-2.5 20,-0.1 16.5,0.1 C12.8,0.3 9.3,-1.8 9.5,-5 Z"/><ellipse cx="10.9" cy="-9.9" rx="3.4" ry="4.4" transform="rotate(8 10.9 -9.9)"/><ellipse cx="17.5" cy="-12.5" rx="3.25" ry="3.0"/><circle cx="18.5" cy="-6.3" r="1.0" fill="#111" stroke="none"/><circle cx="23.8" cy="-5.5" r="0.75" fill="#111" stroke="none"/></g>
<g transform="translate(170.70,534.00)" stroke="#111" stroke-width="1.05" fill="#fff"><path d="M-27.3,-6 C-21,-6.4 -15,-4.6 -11.8,0.4" fill="none"/><ellipse cx="0.6" cy="0.2" rx="12.4" ry="6.7"/><ellipse cx="-5" cy="6.3" rx="3.7" ry="1.8"/><ellipse cx="13.5" cy="6.5" rx="3.7" ry="1.8"/><ellipse cx="18.2" cy="5.0" rx="2.4" ry="1.8" transform="rotate(-20 18.2 5)"/><path d="M9.5,-5 C9.8,-8.2 12.5,-10.2 16.5,-10.1 C19.5,-10 22,-8 24.1,-5.6 C22.8,-2.5 20,-0.1 16.5,0.1 C12.8,0.3 9.3,-1.8 9.5,-5 Z"/><ellipse cx="10.9" cy="-9.9" rx="3.4" ry="4.4" transform="rotate(8 10.9 -9.9)"/><ellipse cx="17.5" cy="-12.5" rx="3.25" ry="3.0"/><circle cx="18.5" cy="-6.3" r="1.0" fill="#111" stroke="none"/><circle cx="23.8" cy="-5.5" r="0.75" fill="#111" stroke="none"/></g>
<g transform="translate(241.40,527.60) scale(1,-1)" stroke="#111" stroke-width="1.05" fill="#fff"><path d="M-27.3,-6 C-21,-6.4 -15,-4.6 -11.8,0.4" fill="none"/><ellipse cx="0.6" cy="0.2" rx="12.4" ry="6.7"/><ellipse cx="-5" cy="6.3" rx="3.7" ry="1.8"/><ellipse cx="13.5" cy="6.5" rx="3.7" ry="1.8"/><ellipse cx="18.2" cy="5.0" rx="2.4" ry="1.8" transform="rotate(-20 18.2 5)"/><path d="M9.5,-5 C9.8,-8.2 12.5,-10.2 16.5,-10.1 C19.5,-10 22,-8 24.1,-5.6 C22.8,-2.5 20,-0.1 16.5,0.1 C12.8,0.3 9.3,-1.8 9.5,-5 Z"/><ellipse cx="10.9" cy="-9.9" rx="3.4" ry="4.4" transform="rotate(8 10.9 -9.9)"/><ellipse cx="17.5" cy="-12.5" rx="3.25" ry="3.0"/><circle cx="18.5" cy="-6.3" r="1.0" fill="#111" stroke="none"/><circle cx="23.8" cy="-5.5" r="0.75" fill="#111" stroke="none"/></g>
<g transform="translate(34.00,564.60)" stroke="#111" stroke-width="1.05" fill="#fff"><path d="M-27.3,-6 C-21,-6.4 -15,-4.6 -11.8,0.4" fill="none"/><ellipse cx="0.6" cy="0.2" rx="12.4" ry="6.7"/><ellipse cx="-5" cy="6.3" rx="3.7" ry="1.8"/><ellipse cx="13.5" cy="6.5" rx="3.7" ry="1.8"/><ellipse cx="18.2" cy="5.0" rx="2.4" ry="1.8" transform="rotate(-20 18.2 5)"/><path d="M9.5,-5 C9.8,-8.2 12.5,-10.2 16.5,-10.1 C19.5,-10 22,-8 24.1,-5.6 C22.8,-2.5 20,-0.1 16.5,0.1 C12.8,0.3 9.3,-1.8 9.5,-5 Z"/><ellipse cx="10.9" cy="-9.9" rx="3.4" ry="4.4" transform="rotate(8 10.9 -9.9)"/><ellipse cx="17.5" cy="-12.5" rx="3.25" ry="3.0"/><circle cx="18.5" cy="-6.3" r="1.0" fill="#111" stroke="none"/><circle cx="23.8" cy="-5.5" r="0.75" fill="#111" stroke="none"/></g>
<g transform="translate(102.60,564.60)" stroke="#111" stroke-width="1.05" fill="#fff"><path d="M-27.3,-6 C-21,-6.4 -15,-4.6 -11.8,0.4" fill="none"/><ellipse cx="0.6" cy="0.2" rx="12.4" ry="6.7"/><ellipse cx="-5" cy="6.3" rx="3.7" ry="1.8"/><ellipse cx="13.5" cy="6.5" rx="3.7" ry="1.8"/><ellipse cx="18.2" cy="5.0" rx="2.4" ry="1.8" transform="rotate(-20 18.2 5)"/><path d="M9.5,-5 C9.8,-8.2 12.5,-10.2 16.5,-10.1 C19.5,-10 22,-8 24.1,-5.6 C22.8,-2.5 20,-0.1 16.5,0.1 C12.8,0.3 9.3,-1.8 9.5,-5 Z"/><ellipse cx="10.9" cy="-9.9" rx="3.4" ry="4.4" transform="rotate(8 10.9 -9.9)"/><ellipse cx="17.5" cy="-12.5" rx="3.25" ry="3.0"/><circle cx="18.5" cy="-6.3" r="1.0" fill="#111" stroke="none"/><circle cx="23.8" cy="-5.5" r="0.75" fill="#111" stroke="none"/></g>
<g transform="translate(170.70,564.60)" stroke="#111" stroke-width="1.05" fill="#fff"><path d="M-27.3,-6 C-21,-6.4 -15,-4.6 -11.8,0.4" fill="none"/><ellipse cx="0.6" cy="0.2" rx="12.4" ry="6.7"/><ellipse cx="-5" cy="6.3" rx="3.7" ry="1.8"/><ellipse cx="13.5" cy="6.5" rx="3.7" ry="1.8"/><ellipse cx="18.2" cy="5.0" rx="2.4" ry="1.8" transform="rotate(-20 18.2 5)"/><path d="M9.5,-5 C9.8,-8.2 12.5,-10.2 16.5,-10.1 C19.5,-10 22,-8 24.1,-5.6 C22.8,-2.5 20,-0.1 16.5,0.1 C12.8,0.3 9.3,-1.8 9.5,-5 Z"/><ellipse cx="10.9" cy="-9.9" rx="3.4" ry="4.4" transform="rotate(8 10.9 -9.9)"/><ellipse cx="17.5" cy="-12.5" rx="3.25" ry="3.0"/><circle cx="18.5" cy="-6.3" r="1.0" fill="#111" stroke="none"/><circle cx="23.8" cy="-5.5" r="0.75" fill="#111" stroke="none"/></g>
<g transform="translate(241.40,558.20) scale(1,-1)" stroke="#111" stroke-width="1.05" fill="#fff"><path d="M-27.3,-6 C-21,-6.4 -15,-4.6 -11.8,0.4" fill="none"/><ellipse cx="0.6" cy="0.2" rx="12.4" ry="6.7"/><ellipse cx="-5" cy="6.3" rx="3.7" ry="1.8"/><ellipse cx="13.5" cy="6.5" rx="3.7" ry="1.8"/><ellipse cx="18.2" cy="5.0" rx="2.4" ry="1.8" transform="rotate(-20 18.2 5)"/><path d="M9.5,-5 C9.8,-8.2 12.5,-10.2 16.5,-10.1 C19.5,-10 22,-8 24.1,-5.6 C22.8,-2.5 20,-0.1 16.5,0.1 C12.8,0.3 9.3,-1.8 9.5,-5 Z"/><ellipse cx="10.9" cy="-9.9" rx="3.4" ry="4.4" transform="rotate(8 10.9 -9.9)"/><ellipse cx="17.5" cy="-12.5" rx="3.25" ry="3.0"/><circle cx="18.5" cy="-6.3" r="1.0" fill="#111" stroke="none"/><circle cx="23.8" cy="-5.5" r="0.75" fill="#111" stroke="none"/></g>
<g transform="translate(34.00,595.20)" stroke="#111" stroke-width="1.05" fill="#fff"><path d="M-27.3,-6 C-21,-6.4 -15,-4.6 -11.8,0.4" fill="none"/><ellipse cx="0.6" cy="0.2" rx="12.4" ry="6.7"/><ellipse cx="-5" cy="6.3" rx="3.7" ry="1.8"/><ellipse cx="13.5" cy="6.5" rx="3.7" ry="1.8"/><ellipse cx="18.2" cy="5.0" rx="2.4" ry="1.8" transform="rotate(-20 18.2 5)"/><path d="M9.5,-5 C9.8,-8.2 12.5,-10.2 16.5,-10.1 C19.5,-10 22,-8 24.1,-5.6 C22.8,-2.5 20,-0.1 16.5,0.1 C12.8,0.3 9.3,-1.8 9.5,-5 Z"/><ellipse cx="10.9" cy="-9.9" rx="3.4" ry="4.4" transform="rotate(8 10.9 -9.9)"/><ellipse cx="17.5" cy="-12.5" rx="3.25" ry="3.0"/><circle cx="18.5" cy="-6.3" r="1.0" fill="#111" stroke="none"/><circle cx="23.8" cy="-5.5" r="0.75" fill="#111" stroke="none"/></g>
<g transform="translate(102.60,595.20)" stroke="#111" stroke-width="1.05" fill="#fff"><path d="M-27.3,-6 C-21,-6.4 -15,-4.6 -11.8,0.4" fill="none"/><ellipse cx="0.6" cy="0.2" rx="12.4" ry="6.7"/><ellipse cx="-5" cy="6.3" rx="3.7" ry="1.8"/><ellipse cx="13.5" cy="6.5" rx="3.7" ry="1.8"/><ellipse cx="18.2" cy="5.0" rx="2.4" ry="1.8" transform="rotate(-20 18.2 5)"/><path d="M9.5,-5 C9.8,-8.2 12.5,-10.2 16.5,-10.1 C19.5,-10 22,-8 24.1,-5.6 C22.8,-2.5 20,-0.1 16.5,0.1 C12.8,0.3 9.3,-1.8 9.5,-5 Z"/><ellipse cx="10.9" cy="-9.9" rx="3.4" ry="4.4" transform="rotate(8 10.9 -9.9)"/><ellipse cx="17.5" cy="-12.5" rx="3.25" ry="3.0"/><circle cx="18.5" cy="-6.3" r="1.0" fill="#111" stroke="none"/><circle cx="23.8" cy="-5.5" r="0.75" fill="#111" stroke="none"/></g>
<g transform="translate(170.70,595.20)" stroke="#111" stroke-width="1.05" fill="#fff"><path d="M-27.3,-6 C-21,-6.4 -15,-4.6 -11.8,0.4" fill="none"/><ellipse cx="0.6" cy="0.2" rx="12.4" ry="6.7"/><ellipse cx="-5" cy="6.3" rx="3.7" ry="1.8"/><ellipse cx="13.5" cy="6.5" rx="3.7" ry="1.8"/><ellipse cx="18.2" cy="5.0" rx="2.4" ry="1.8" transform="rotate(-20 18.2 5)"/><path d="M9.5,-5 C9.8,-8.2 12.5,-10.2 16.5,-10.1 C19.5,-10 22,-8 24.1,-5.6 C22.8,-2.5 20,-0.1 16.5,0.1 C12.8,0.3 9.3,-1.8 9.5,-5 Z"/><ellipse cx="10.9" cy="-9.9" rx="3.4" ry="4.4" transform="rotate(8 10.9 -9.9)"/><ellipse cx="17.5" cy="-12.5" rx="3.25" ry="3.0"/><circle cx="18.5" cy="-6.3" r="1.0" fill="#111" stroke="none"/><circle cx="23.8" cy="-5.5" r="0.75" fill="#111" stroke="none"/></g>
<g transform="translate(241.40,588.80) scale(1,-1)" stroke="#111" stroke-width="1.05" fill="#fff"><path d="M-27.3,-6 C-21,-6.4 -15,-4.6 -11.8,0.4" fill="none"/><ellipse cx="0.6" cy="0.2" rx="12.4" ry="6.7"/><ellipse cx="-5" cy="6.3" rx="3.7" ry="1.8"/><ellipse cx="13.5" cy="6.5" rx="3.7" ry="1.8"/><ellipse cx="18.2" cy="5.0" rx="2.4" ry="1.8" transform="rotate(-20 18.2 5)"/><path d="M9.5,-5 C9.8,-8.2 12.5,-10.2 16.5,-10.1 C19.5,-10 22,-8 24.1,-5.6 C22.8,-2.5 20,-0.1 16.5,0.1 C12.8,0.3 9.3,-1.8 9.5,-5 Z"/><ellipse cx="10.9" cy="-9.9" rx="3.4" ry="4.4" transform="rotate(8 10.9 -9.9)"/><ellipse cx="17.5" cy="-12.5" rx="3.25" ry="3.0"/><circle cx="18.5" cy="-6.3" r="1.0" fill="#111" stroke="none"/><circle cx="23.8" cy="-5.5" r="0.75" fill="#111" stroke="none"/></g>
<g stroke="#222" stroke-width="0.85" fill="none"><line x1="69.38" y1="498.00" x2="65.22" y2="500.40" stroke-width="1.4"/><line x1="67.30" y1="499.20" x2="71.67" y2="506.79" stroke-width="1.3"/><line x1="75.57" y1="504.54" x2="67.78" y2="509.03" stroke-width="1.3"/><path d="M73.58,505.69 L81.84,520.02 L78.03,522.22 L69.77,507.89Z" fill="#fff"/><path d="M76.82,511.31 L81.84,520.02 L78.03,522.22 L73.01,513.51Z" fill="#6a0e12"/><line x1="79.94" y1="521.12" x2="83.50" y2="527.30" stroke-width="0.9"/></g>
<g stroke="#222" stroke-width="0.85" fill="none"><line x1="69.38" y1="528.60" x2="65.22" y2="531.00" stroke-width="1.4"/><line x1="67.30" y1="529.80" x2="71.67" y2="537.39" stroke-width="1.3"/><line x1="75.57" y1="535.14" x2="67.78" y2="539.63" stroke-width="1.3"/><path d="M73.58,536.29 L81.84,550.62 L78.03,552.82 L69.77,538.49Z" fill="#fff"/><path d="M76.82,541.91 L81.84,550.62 L78.03,552.82 L73.01,544.11Z" fill="#111"/><line x1="79.94" y1="551.72" x2="83.50" y2="557.90" stroke-width="0.9"/></g>
<g stroke="#222" stroke-width="0.85" fill="none"><line x1="69.38" y1="559.20" x2="65.22" y2="561.60" stroke-width="1.4"/><line x1="67.30" y1="560.40" x2="71.67" y2="567.99" stroke-width="1.3"/><line x1="75.57" y1="565.74" x2="67.78" y2="570.23" stroke-width="1.3"/><path d="M73.58,566.89 L81.84,581.22 L78.03,583.42 L69.77,569.09Z" fill="#fff"/><line x1="79.94" y1="582.32" x2="83.50" y2="588.50" stroke-width="0.9"/></g>
<g stroke="#222" stroke-width="0.85" fill="none"><line x1="203.42" y1="508.05" x2="199.78" y2="505.95" stroke-width="1.4"/><line x1="201.60" y1="507.00" x2="199.54" y2="510.56" stroke-width="1.3"/><line x1="202.14" y1="512.06" x2="196.94" y2="509.06" stroke-width="1.3"/><path d="M201.01,511.41 L194.21,523.16 L191.27,521.46 L198.07,509.71Z" fill="#fff"/><path d="M199.98,513.19 L194.21,523.16 L191.27,521.46 L197.04,511.49Z" fill="#c8141c"/><line x1="192.74" y1="522.31" x2="191.30" y2="524.80" stroke-width="0.9"/></g>
<g stroke="#222" stroke-width="0.85" fill="none"><line x1="203.42" y1="538.65" x2="199.78" y2="536.55" stroke-width="1.4"/><line x1="201.60" y1="537.60" x2="199.54" y2="541.16" stroke-width="1.3"/><line x1="202.14" y1="542.66" x2="196.94" y2="539.66" stroke-width="1.3"/><path d="M201.01,542.01 L194.21,553.76 L191.27,552.06 L198.07,540.31Z" fill="#fff"/><path d="M199.98,543.79 L194.21,553.76 L191.27,552.06 L197.04,542.09Z" fill="#c8141c"/><line x1="192.74" y1="552.91" x2="191.30" y2="555.40" stroke-width="0.9"/></g>
<g stroke="#222" stroke-width="0.85" fill="none"><line x1="203.42" y1="569.25" x2="199.78" y2="567.15" stroke-width="1.4"/><line x1="201.60" y1="568.20" x2="199.54" y2="571.76" stroke-width="1.3"/><line x1="202.14" y1="573.26" x2="196.94" y2="570.26" stroke-width="1.3"/><path d="M201.01,572.61 L194.21,584.36 L191.27,582.66 L198.07,570.91Z" fill="#fff"/><path d="M199.98,574.39 L194.21,584.36 L191.27,582.66 L197.04,572.69Z" fill="#c8141c"/><line x1="192.74" y1="583.51" x2="191.30" y2="586.00" stroke-width="0.9"/></g>
<text x="37.70" y="621.00" font-size="7.6" font-weight="normal" text-anchor="middle" fill="#000">Week -8</text>
<text x="37.70" y="630.30" font-size="7.6" font-weight="normal" text-anchor="middle" fill="#000">CD34+ cells</text>
<text x="107.70" y="621.00" font-size="7.6" font-weight="normal" text-anchor="middle" fill="#000">Day 0</text>
<text x="107.70" y="630.30" font-size="7.6" font-weight="normal" text-anchor="middle" fill="#000">CART123, UTD,</text>
<text x="107.70" y="639.60" font-size="7.6" font-weight="normal" text-anchor="middle" fill="#000">or no T cells</text>
<text x="175.80" y="621.00" font-size="7.6" font-weight="normal" text-anchor="middle" fill="#000">Weekly bleeds</text>
<text x="175.80" y="630.30" font-size="7.6" font-weight="normal" text-anchor="middle" fill="#000">beginning</text>
<text x="175.80" y="639.60" font-size="7.6" font-weight="normal" text-anchor="middle" fill="#000">Day 7</text>
<text x="244.40" y="621.00" font-size="7.6" font-weight="normal" text-anchor="middle" fill="#000">Day 28</text>
<text x="244.40" y="630.30" font-size="7.6" font-weight="normal" text-anchor="middle" fill="#000">BM harvest</text>
<text x="-1.30" y="661.40" font-size="12.6" font-weight="bold" text-anchor="start" fill="#000">G</text>
<text x="49.30" y="682.80" font-size="6.0" font-weight="normal" text-anchor="middle" fill="#000">Control</text>
<rect x="20.40" y="688.20" width="57.40" height="55.00" fill="#fff" stroke="#555" stroke-width="0.7"/>
<line x1="20.40" y1="688.20" x2="20.40" y2="743.20" stroke="#000" stroke-width="1.3"/>
<line x1="20.40" y1="743.20" x2="77.80" y2="743.20" stroke="#000" stroke-width="1.3"/>
<text x="18.60" y="694.90" font-size="3.3" font-weight="bold" text-anchor="end" fill="#333">10</text>
<line x1="19.20" y1="693.70" x2="20.40" y2="693.70" stroke="#000" stroke-width="0.6"/>
<text x="18.60" y="707.20" font-size="3.3" font-weight="bold" text-anchor="end" fill="#333">10</text>
<line x1="19.20" y1="706.00" x2="20.40" y2="706.00" stroke="#000" stroke-width="0.6"/>
<text x="18.60" y="719.40" font-size="3.3" font-weight="bold" text-anchor="end" fill="#333">10</text>
<line x1="19.20" y1="718.20" x2="20.40" y2="718.20" stroke="#000" stroke-width="0.6"/>
<text x="18.60" y="731.70" font-size="3.3" font-weight="bold" text-anchor="end" fill="#333">10</text>
<line x1="19.20" y1="730.50" x2="20.40" y2="730.50" stroke="#000" stroke-width="0.6"/>
<text x="18.60" y="738.20" font-size="3.3" font-weight="bold" text-anchor="end" fill="#333">0</text>
<line x1="19.20" y1="737.00" x2="20.40" y2="737.00" stroke="#000" stroke-width="0.6"/>
<text x="26.60" y="748.80" font-size="3.3" font-weight="bold" text-anchor="middle" fill="#333">0</text>
<line x1="26.60" y1="743.20" x2="26.60" y2="744.40" stroke="#000" stroke-width="0.6"/>
<text x="31.60" y="748.80" font-size="3.3" font-weight="bold" text-anchor="middle" fill="#333">10</text>
<line x1="31.60" y1="743.20" x2="31.60" y2="744.40" stroke="#000" stroke-width="0.6"/>
<text x="45.30" y="748.80" font-size="3.3" font-weight="bold" text-anchor="middle" fill="#333">10</text>
<line x1="45.30" y1="743.20" x2="45.30" y2="744.40" stroke="#000" stroke-width="0.6"/>
<text x="60.50" y="748.80" font-size="3.3" font-weight="bold" text-anchor="middle" fill="#333">10</text>
<line x1="60.50" y1="743.20" x2="60.50" y2="744.40" stroke="#000" stroke-width="0.6"/>
<text x="72.70" y="748.80" font-size="3.3" font-weight="bold" text-anchor="middle" fill="#333">10</text>
<line x1="72.70" y1="743.20" x2="72.70" y2="744.40" stroke="#000" stroke-width="0.6"/>
<text x="124.80" y="682.80" font-size="6.0" font-weight="normal" text-anchor="middle" fill="#000">UTD</text>
<rect x="96.40" y="688.20" width="57.40" height="55.00" fill="#fff" stroke="#555" stroke-width="0.7"/>
<line x1="96.40" y1="688.20" x2="96.40" y2="743.20" stroke="#000" stroke-width="1.3"/>
<line x1="96.40" y1="743.20" x2="153.80" y2="743.20" stroke="#000" stroke-width="1.3"/>
<text x="94.60" y="694.90" font-size="3.3" font-weight="bold" text-anchor="end" fill="#333">10</text>
<line x1="95.20" y1="693.70" x2="96.40" y2="693.70" stroke="#000" stroke-width="0.6"/>
<text x="94.60" y="707.20" font-size="3.3" font-weight="bold" text-anchor="end" fill="#333">10</text>
<line x1="95.20" y1="706.00" x2="96.40" y2="706.00" stroke="#000" stroke-width="0.6"/>
<text x="94.60" y="719.40" font-size="3.3" font-weight="bold" text-anchor="end" fill="#333">10</text>
<line x1="95.20" y1="718.20" x2="96.40" y2="718.20" stroke="#000" stroke-width="0.6"/>
<text x="94.60" y="731.70" font-size="3.3" font-weight="bold" text-anchor="end" fill="#333">10</text>
<line x1="95.20" y1="730.50" x2="96.40" y2="730.50" stroke="#000" stroke-width="0.6"/>
<text x="94.60" y="738.20" font-size="3.3" font-weight="bold" text-anchor="end" fill="#333">0</text>
<line x1="95.20" y1="737.00" x2="96.40" y2="737.00" stroke="#000" stroke-width="0.6"/>
<text x="102.60" y="748.80" font-size="3.3" font-weight="bold" text-anchor="middle" fill="#333">0</text>
<line x1="102.60" y1="743.20" x2="102.60" y2="744.40" stroke="#000" stroke-width="0.6"/>
<text x="107.60" y="748.80" font-size="3.3" font-weight="bold" text-anchor="middle" fill="#333">10</text>
<line x1="107.60" y1="743.20" x2="107.60" y2="744.40" stroke="#000" stroke-width="0.6"/>
<text x="121.30" y="748.80" font-size="3.3" font-weight="bold" text-anchor="middle" fill="#333">10</text>
<line x1="121.30" y1="743.20" x2="121.30" y2="744.40" stroke="#000" stroke-width="0.6"/>
<text x="136.50" y="748.80" font-size="3.3" font-weight="bold" text-anchor="middle" fill="#333">10</text>
<line x1="136.50" y1="743.20" x2="136.50" y2="744.40" stroke="#000" stroke-width="0.6"/>
<text x="148.70" y="748.80" font-size="3.3" font-weight="bold" text-anchor="middle" fill="#333">10</text>
<line x1="148.70" y1="743.20" x2="148.70" y2="744.40" stroke="#000" stroke-width="0.6"/>
<text x="201.50" y="682.80" font-size="6.0" font-weight="normal" text-anchor="middle" fill="#000">CART123</text>
<rect x="172.40" y="688.20" width="57.40" height="55.00" fill="#fff" stroke="#555" stroke-width="0.7"/>
<line x1="172.40" y1="688.20" x2="172.40" y2="743.20" stroke="#000" stroke-width="1.3"/>
<line x1="172.40" y1="743.20" x2="229.80" y2="743.20" stroke="#000" stroke-width="1.3"/>
<text x="170.60" y="694.90" font-size="3.3" font-weight="bold" text-anchor="end" fill="#333">10</text>
<line x1="171.20" y1="693.70" x2="172.40" y2="693.70" stroke="#000" stroke-width="0.6"/>
<text x="170.60" y="707.20" font-size="3.3" font-weight="bold" text-anchor="end" fill="#333">10</text>
<line x1="171.20" y1="706.00" x2="172.40" y2="706.00" stroke="#000" stroke-width="0.6"/>
<text x="170.60" y="719.40" font-size="3.3" font-weight="bold" text-anchor="end" fill="#333">10</text>
<line x1="171.20" y1="718.20" x2="172.40" y2="718.20" stroke="#000" stroke-width="0.6"/>
<text x="170.60" y="731.70" font-size="3.3" font-weight="bold" text-anchor="end" fill="#333">10</text>
<line x1="171.20" y1="730.50" x2="172.40" y2="730.50" stroke="#000" stroke-width="0.6"/>
<text x="170.60" y="738.20" font-size="3.3" font-weight="bold" text-anchor="end" fill="#333">0</text>
<line x1="171.20" y1="737.00" x2="172.40" y2="737.00" stroke="#000" stroke-width="0.6"/>
<text x="178.60" y="748.80" font-size="3.3" font-weight="bold" text-anchor="middle" fill="#333">0</text>
<line x1="178.60" y1="743.20" x2="178.60" y2="744.40" stroke="#000" stroke-width="0.6"/>
<text x="183.60" y="748.80" font-size="3.3" font-weight="bold" text-anchor="middle" fill="#333">10</text>
<line x1="183.60" y1="743.20" x2="183.60" y2="744.40" stroke="#000" stroke-width="0.6"/>
<text x="197.30" y="748.80" font-size="3.3" font-weight="bold" text-anchor="middle" fill="#333">10</text>
<line x1="197.30" y1="743.20" x2="197.30" y2="744.40" stroke="#000" stroke-width="0.6"/>
<text x="212.50" y="748.80" font-size="3.3" font-weight="bold" text-anchor="middle" fill="#333">10</text>
<line x1="212.50" y1="743.20" x2="212.50" y2="744.40" stroke="#000" stroke-width="0.6"/>
<text x="224.70" y="748.80" font-size="3.3" font-weight="bold" text-anchor="middle" fill="#333">10</text>
<line x1="224.70" y1="743.20" x2="224.70" y2="744.40" stroke="#000" stroke-width="0.6"/>
<g filter="url(#bl80)">
<path d="M21.0,694.5 C35.4,693.5 55.4,694.5 62.4,695.5 C64.4,698 64.4,703 60.4,705 C50.4,705.5 44.4,708 40.4,714 C37.9,722 37.9,734 37.9,742.6 L21.0,742.6 Z" fill="#2436e8" stroke="none" stroke-width="0"/>
</g>
<g filter="url(#bl120)" opacity="0.55">
<path d="M34.4,704 C44.4,703 54.4,703 60.4,704 C56.4,708 50.4,712 44.4,718 C41.4,724 39.4,730 38.4,736 L34.4,736 Z" fill="#3040f0" stroke="none" stroke-width="0"/>
<path d="M60.4,700 C64.4,700 66.4,706 65.4,716 C63.4,712 61.4,707 58.4,704 Z" fill="#3040f0" stroke="none" stroke-width="0"/>
</g>
<g fill="#2840f0" opacity="0.5"><circle cx="35.3" cy="716.3" r="0.42"/><circle cx="61.4" cy="704.0" r="0.42"/><circle cx="48.5" cy="708.6" r="0.42"/><circle cx="34.8" cy="707.6" r="0.42"/><circle cx="57.4" cy="705.6" r="0.42"/><circle cx="58.3" cy="704.9" r="0.42"/><circle cx="52.9" cy="704.4" r="0.42"/><circle cx="34.5" cy="730.5" r="0.42"/><circle cx="40.7" cy="707.5" r="0.42"/><circle cx="45.2" cy="705.8" r="0.42"/><circle cx="38.8" cy="702.3" r="0.42"/><circle cx="43.4" cy="721.1" r="0.42"/><circle cx="34.5" cy="723.7" r="0.42"/><circle cx="44.5" cy="710.8" r="0.42"/><circle cx="43.9" cy="716.8" r="0.42"/><circle cx="55.5" cy="702.0" r="0.42"/><circle cx="63.7" cy="700.8" r="0.42"/><circle cx="34.9" cy="727.6" r="0.42"/><circle cx="45.4" cy="720.2" r="0.42"/><circle cx="34.7" cy="701.6" r="0.42"/><circle cx="40.3" cy="726.5" r="0.42"/><circle cx="44.7" cy="712.4" r="0.42"/><circle cx="37.6" cy="726.2" r="0.42"/><circle cx="35.5" cy="733.1" r="0.42"/><circle cx="37.1" cy="711.9" r="0.42"/><circle cx="50.8" cy="710.9" r="0.42"/><circle cx="43.9" cy="706.2" r="0.42"/><circle cx="36.7" cy="705.2" r="0.42"/><circle cx="39.2" cy="701.7" r="0.42"/><circle cx="46.6" cy="708.3" r="0.42"/><circle cx="48.1" cy="714.8" r="0.42"/><circle cx="36.1" cy="732.1" r="0.42"/><circle cx="35.4" cy="717.3" r="0.42"/><circle cx="59.6" cy="704.6" r="0.42"/><circle cx="37.6" cy="715.2" r="0.42"/><circle cx="38.9" cy="729.6" r="0.42"/><circle cx="43.2" cy="715.9" r="0.42"/><circle cx="48.8" cy="710.2" r="0.42"/><circle cx="46.5" cy="705.1" r="0.42"/><circle cx="49.4" cy="711.8" r="0.42"/><circle cx="37.1" cy="709.5" r="0.42"/><circle cx="42.8" cy="717.0" r="0.42"/><circle cx="34.7" cy="719.1" r="0.42"/><circle cx="41.9" cy="723.5" r="0.42"/><circle cx="44.8" cy="722.5" r="0.42"/><circle cx="49.9" cy="718.5" r="0.42"/><circle cx="39.4" cy="729.3" r="0.42"/><circle cx="56.3" cy="706.0" r="0.42"/><circle cx="54.4" cy="714.7" r="0.42"/><circle cx="35.2" cy="705.6" r="0.42"/><circle cx="41.0" cy="724.0" r="0.42"/><circle cx="53.3" cy="701.5" r="0.42"/><circle cx="48.5" cy="707.9" r="0.42"/><circle cx="36.0" cy="704.7" r="0.42"/><circle cx="43.9" cy="706.4" r="0.42"/><circle cx="40.2" cy="701.2" r="0.42"/><circle cx="48.4" cy="713.3" r="0.42"/><circle cx="34.4" cy="714.2" r="0.42"/><circle cx="42.8" cy="714.4" r="0.42"/><circle cx="37.9" cy="729.1" r="0.42"/><circle cx="45.6" cy="701.3" r="0.42"/><circle cx="52.8" cy="703.3" r="0.42"/><circle cx="50.8" cy="711.9" r="0.42"/><circle cx="45.5" cy="705.0" r="0.42"/><circle cx="52.7" cy="712.3" r="0.42"/><circle cx="61.2" cy="700.0" r="0.42"/><circle cx="37.6" cy="719.8" r="0.42"/><circle cx="52.9" cy="704.9" r="0.42"/><circle cx="45.7" cy="715.1" r="0.42"/><circle cx="41.2" cy="710.2" r="0.42"/><circle cx="52.3" cy="709.1" r="0.42"/><circle cx="46.9" cy="711.2" r="0.42"/><circle cx="43.0" cy="716.7" r="0.42"/><circle cx="38.1" cy="721.8" r="0.42"/><circle cx="47.7" cy="710.3" r="0.42"/><circle cx="34.8" cy="718.6" r="0.42"/><circle cx="57.9" cy="708.6" r="0.42"/><circle cx="42.4" cy="705.4" r="0.42"/><circle cx="52.6" cy="716.6" r="0.42"/><circle cx="56.7" cy="704.1" r="0.42"/><circle cx="57.2" cy="710.5" r="0.42"/><circle cx="50.4" cy="711.8" r="0.42"/><circle cx="43.3" cy="718.5" r="0.42"/><circle cx="48.3" cy="712.6" r="0.42"/><circle cx="35.5" cy="708.8" r="0.42"/><circle cx="34.8" cy="727.2" r="0.42"/><circle cx="47.2" cy="720.1" r="0.42"/><circle cx="46.0" cy="713.7" r="0.42"/><circle cx="60.0" cy="706.9" r="0.42"/><circle cx="36.4" cy="729.3" r="0.42"/><circle cx="61.7" cy="705.0" r="0.42"/><circle cx="48.8" cy="719.2" r="0.42"/><circle cx="49.3" cy="711.6" r="0.42"/><circle cx="39.0" cy="720.5" r="0.42"/><circle cx="58.8" cy="702.4" r="0.42"/><circle cx="35.2" cy="725.3" r="0.42"/><circle cx="55.4" cy="701.7" r="0.42"/><circle cx="59.7" cy="707.7" r="0.42"/><circle cx="55.8" cy="704.7" r="0.42"/><circle cx="38.9" cy="721.4" r="0.42"/><circle cx="46.8" cy="705.6" r="0.42"/><circle cx="53.1" cy="701.5" r="0.42"/><circle cx="37.6" cy="713.3" r="0.42"/><circle cx="36.6" cy="702.0" r="0.42"/><circle cx="60.8" cy="704.7" r="0.42"/><circle cx="47.4" cy="711.0" r="0.42"/><circle cx="36.1" cy="724.4" r="0.42"/><circle cx="38.9" cy="722.1" r="0.42"/><circle cx="42.3" cy="719.3" r="0.42"/><circle cx="42.0" cy="726.3" r="0.42"/><circle cx="49.9" cy="704.7" r="0.42"/><circle cx="41.4" cy="713.0" r="0.42"/><circle cx="56.5" cy="706.3" r="0.42"/><circle cx="37.0" cy="723.4" r="0.42"/><circle cx="37.1" cy="704.4" r="0.42"/><circle cx="52.2" cy="708.4" r="0.42"/><circle cx="35.3" cy="725.4" r="0.42"/><circle cx="36.0" cy="705.3" r="0.42"/><circle cx="41.1" cy="704.1" r="0.42"/><circle cx="59.0" cy="704.9" r="0.42"/><circle cx="53.1" cy="712.4" r="0.42"/><circle cx="41.5" cy="711.7" r="0.42"/><circle cx="52.8" cy="712.2" r="0.42"/><circle cx="46.0" cy="704.8" r="0.42"/><circle cx="37.3" cy="701.2" r="0.42"/><circle cx="40.5" cy="701.4" r="0.42"/><circle cx="57.2" cy="700.0" r="0.42"/><circle cx="53.0" cy="715.0" r="0.42"/><circle cx="48.4" cy="703.5" r="0.42"/><circle cx="39.0" cy="705.6" r="0.42"/><circle cx="45.6" cy="713.5" r="0.42"/><circle cx="60.8" cy="705.3" r="0.42"/><circle cx="42.0" cy="709.7" r="0.42"/><circle cx="39.2" cy="710.0" r="0.42"/><circle cx="41.5" cy="716.9" r="0.42"/><circle cx="35.4" cy="732.4" r="0.42"/><circle cx="37.9" cy="723.4" r="0.42"/><circle cx="43.1" cy="723.6" r="0.42"/><circle cx="56.3" cy="705.7" r="0.42"/><circle cx="40.4" cy="700.9" r="0.42"/><circle cx="41.3" cy="702.7" r="0.42"/><circle cx="45.3" cy="710.9" r="0.42"/><circle cx="48.4" cy="709.9" r="0.42"/><circle cx="39.3" cy="708.4" r="0.42"/><circle cx="53.8" cy="715.1" r="0.42"/><circle cx="63.7" cy="700.2" r="0.42"/><circle cx="36.2" cy="727.3" r="0.42"/><circle cx="46.7" cy="701.6" r="0.42"/><circle cx="50.0" cy="712.3" r="0.42"/><circle cx="37.2" cy="702.5" r="0.42"/><circle cx="62.5" cy="701.9" r="0.42"/><circle cx="41.7" cy="701.8" r="0.42"/><circle cx="46.3" cy="702.1" r="0.42"/><circle cx="42.1" cy="714.3" r="0.42"/><circle cx="43.6" cy="701.8" r="0.42"/><circle cx="39.8" cy="717.8" r="0.42"/><circle cx="46.5" cy="718.6" r="0.42"/><circle cx="36.9" cy="711.0" r="0.42"/><circle cx="37.6" cy="719.0" r="0.42"/><circle cx="60.1" cy="707.5" r="0.42"/><circle cx="34.9" cy="718.9" r="0.42"/><circle cx="49.0" cy="720.0" r="0.42"/><circle cx="45.7" cy="721.9" r="0.42"/><circle cx="43.6" cy="715.7" r="0.42"/><circle cx="59.2" cy="707.8" r="0.42"/><circle cx="37.9" cy="710.9" r="0.42"/><circle cx="37.0" cy="727.0" r="0.42"/><circle cx="38.3" cy="702.9" r="0.42"/><circle cx="41.7" cy="703.0" r="0.42"/><circle cx="47.3" cy="720.2" r="0.42"/><circle cx="41.8" cy="702.2" r="0.42"/><circle cx="55.4" cy="701.7" r="0.42"/><circle cx="40.4" cy="710.0" r="0.42"/><circle cx="45.6" cy="703.4" r="0.42"/><circle cx="47.0" cy="711.0" r="0.42"/><circle cx="45.9" cy="704.6" r="0.42"/><circle cx="36.4" cy="705.9" r="0.42"/><circle cx="42.3" cy="723.7" r="0.42"/><circle cx="43.0" cy="702.2" r="0.42"/><circle cx="35.2" cy="701.8" r="0.42"/><circle cx="38.3" cy="712.5" r="0.42"/><circle cx="52.8" cy="708.1" r="0.42"/><circle cx="47.3" cy="712.7" r="0.42"/><circle cx="44.3" cy="700.4" r="0.42"/><circle cx="56.2" cy="703.3" r="0.42"/><circle cx="50.3" cy="706.0" r="0.42"/><circle cx="37.9" cy="711.1" r="0.42"/><circle cx="47.4" cy="715.4" r="0.42"/><circle cx="52.3" cy="703.6" r="0.42"/><circle cx="35.4" cy="720.2" r="0.42"/><circle cx="46.2" cy="707.5" r="0.42"/><circle cx="42.7" cy="707.0" r="0.42"/><circle cx="51.3" cy="712.5" r="0.42"/><circle cx="56.9" cy="708.5" r="0.42"/><circle cx="45.0" cy="708.7" r="0.42"/><circle cx="46.4" cy="705.0" r="0.42"/><circle cx="35.5" cy="705.9" r="0.42"/><circle cx="37.4" cy="725.1" r="0.42"/><circle cx="61.4" cy="707.0" r="0.42"/><circle cx="45.7" cy="700.4" r="0.42"/><circle cx="39.9" cy="713.6" r="0.42"/><circle cx="43.9" cy="700.9" r="0.42"/><circle cx="43.8" cy="713.4" r="0.42"/><circle cx="45.3" cy="720.8" r="0.42"/><circle cx="42.9" cy="702.7" r="0.42"/><circle cx="37.0" cy="712.5" r="0.42"/><circle cx="55.8" cy="710.7" r="0.42"/><circle cx="55.9" cy="702.5" r="0.42"/><circle cx="40.7" cy="718.1" r="0.42"/><circle cx="46.2" cy="700.1" r="0.42"/><circle cx="46.1" cy="706.2" r="0.42"/><circle cx="46.0" cy="703.8" r="0.42"/><circle cx="55.9" cy="713.1" r="0.42"/><circle cx="61.0" cy="707.4" r="0.42"/><circle cx="43.6" cy="709.4" r="0.42"/><circle cx="39.4" cy="722.1" r="0.42"/><circle cx="57.4" cy="707.9" r="0.42"/><circle cx="36.3" cy="719.8" r="0.42"/><circle cx="47.2" cy="718.5" r="0.42"/><circle cx="42.8" cy="721.2" r="0.42"/><circle cx="35.3" cy="704.0" r="0.42"/><circle cx="39.9" cy="706.7" r="0.42"/><circle cx="36.2" cy="717.0" r="0.42"/><circle cx="41.3" cy="724.4" r="0.42"/><circle cx="37.4" cy="706.8" r="0.42"/><circle cx="39.1" cy="703.2" r="0.42"/><circle cx="39.0" cy="721.6" r="0.42"/><circle cx="37.5" cy="726.5" r="0.42"/><circle cx="37.5" cy="703.6" r="0.42"/><circle cx="36.3" cy="707.2" r="0.42"/><circle cx="45.6" cy="716.1" r="0.42"/><circle cx="36.9" cy="714.1" r="0.42"/><circle cx="50.7" cy="713.1" r="0.42"/><circle cx="37.9" cy="720.9" r="0.42"/><circle cx="62.8" cy="702.5" r="0.42"/><circle cx="43.3" cy="704.1" r="0.42"/><circle cx="48.8" cy="712.4" r="0.42"/><circle cx="45.9" cy="710.2" r="0.42"/><circle cx="43.3" cy="711.8" r="0.42"/><circle cx="35.9" cy="714.7" r="0.42"/><circle cx="41.5" cy="723.3" r="0.42"/><circle cx="36.6" cy="709.5" r="0.42"/><circle cx="37.3" cy="716.7" r="0.42"/><circle cx="37.2" cy="712.5" r="0.42"/></g>
<g fill="#3050f0" opacity="0.6"><circle cx="63.5" cy="710.6" r="0.45"/><circle cx="63.6" cy="706.8" r="0.45"/><circle cx="65.3" cy="711.4" r="0.45"/><circle cx="61.0" cy="712.1" r="0.45"/><circle cx="62.6" cy="710.8" r="0.45"/><circle cx="64.7" cy="722.9" r="0.45"/><circle cx="60.8" cy="712.8" r="0.45"/><circle cx="65.1" cy="712.9" r="0.45"/><circle cx="67.1" cy="709.1" r="0.45"/><circle cx="62.6" cy="710.9" r="0.45"/><circle cx="60.0" cy="715.9" r="0.45"/><circle cx="60.3" cy="713.4" r="0.45"/><circle cx="66.3" cy="707.3" r="0.45"/><circle cx="63.0" cy="710.1" r="0.45"/><circle cx="67.6" cy="712.1" r="0.45"/><circle cx="59.0" cy="715.8" r="0.45"/><circle cx="65.9" cy="702.1" r="0.45"/><circle cx="56.7" cy="722.6" r="0.45"/><circle cx="63.6" cy="701.5" r="0.45"/><circle cx="66.0" cy="717.3" r="0.45"/><circle cx="57.5" cy="716.7" r="0.45"/><circle cx="65.1" cy="710.9" r="0.45"/><circle cx="61.7" cy="712.7" r="0.45"/><circle cx="61.4" cy="711.7" r="0.45"/><circle cx="62.8" cy="709.0" r="0.45"/><circle cx="64.7" cy="715.4" r="0.45"/><circle cx="65.6" cy="713.0" r="0.45"/><circle cx="67.6" cy="705.4" r="0.45"/><circle cx="63.6" cy="711.8" r="0.45"/><circle cx="66.4" cy="700.9" r="0.45"/><circle cx="62.3" cy="709.6" r="0.45"/><circle cx="63.9" cy="721.1" r="0.45"/><circle cx="64.0" cy="710.6" r="0.45"/><circle cx="64.5" cy="715.4" r="0.45"/><circle cx="63.0" cy="718.5" r="0.45"/><circle cx="60.4" cy="716.6" r="0.45"/><circle cx="65.1" cy="715.4" r="0.45"/><circle cx="67.2" cy="709.9" r="0.45"/><circle cx="64.4" cy="712.2" r="0.45"/><circle cx="61.9" cy="707.6" r="0.45"/><circle cx="61.5" cy="714.8" r="0.45"/><circle cx="57.7" cy="705.3" r="0.45"/><circle cx="63.6" cy="716.8" r="0.45"/><circle cx="63.1" cy="716.6" r="0.45"/><circle cx="63.2" cy="708.6" r="0.45"/><circle cx="59.5" cy="711.8" r="0.45"/><circle cx="67.7" cy="711.4" r="0.45"/><circle cx="60.8" cy="713.6" r="0.45"/><circle cx="60.0" cy="705.9" r="0.45"/><circle cx="66.2" cy="712.8" r="0.45"/><circle cx="65.8" cy="712.1" r="0.45"/><circle cx="63.1" cy="711.8" r="0.45"/><circle cx="62.6" cy="715.7" r="0.45"/><circle cx="60.2" cy="702.5" r="0.45"/><circle cx="61.3" cy="715.0" r="0.45"/><circle cx="62.1" cy="700.7" r="0.45"/><circle cx="70.5" cy="706.8" r="0.45"/><circle cx="62.9" cy="713.6" r="0.45"/><circle cx="64.3" cy="710.3" r="0.45"/><circle cx="59.5" cy="713.3" r="0.45"/><circle cx="61.0" cy="710.2" r="0.45"/><circle cx="65.3" cy="709.3" r="0.45"/><circle cx="58.9" cy="708.3" r="0.45"/><circle cx="64.9" cy="714.2" r="0.45"/><circle cx="60.2" cy="711.2" r="0.45"/><circle cx="64.1" cy="715.8" r="0.45"/><circle cx="64.4" cy="711.7" r="0.45"/><circle cx="62.6" cy="713.1" r="0.45"/><circle cx="65.3" cy="710.3" r="0.45"/><circle cx="62.7" cy="718.8" r="0.45"/><circle cx="63.3" cy="707.5" r="0.45"/><circle cx="65.1" cy="705.5" r="0.45"/><circle cx="60.7" cy="715.1" r="0.45"/><circle cx="63.5" cy="714.5" r="0.45"/><circle cx="65.3" cy="707.6" r="0.45"/><circle cx="64.6" cy="709.3" r="0.45"/><circle cx="63.9" cy="712.1" r="0.45"/><circle cx="63.2" cy="705.2" r="0.45"/><circle cx="64.1" cy="711.1" r="0.45"/><circle cx="64.7" cy="706.3" r="0.45"/><circle cx="63.9" cy="710.1" r="0.45"/><circle cx="62.3" cy="709.8" r="0.45"/><circle cx="62.8" cy="704.9" r="0.45"/><circle cx="62.1" cy="708.9" r="0.45"/><circle cx="64.6" cy="710.3" r="0.45"/><circle cx="66.9" cy="713.7" r="0.45"/><circle cx="64.2" cy="711.9" r="0.45"/><circle cx="59.9" cy="712.6" r="0.45"/><circle cx="66.5" cy="706.5" r="0.45"/><circle cx="66.7" cy="713.7" r="0.45"/><circle cx="64.1" cy="709.1" r="0.45"/><circle cx="63.5" cy="707.5" r="0.45"/><circle cx="63.4" cy="711.2" r="0.45"/><circle cx="63.6" cy="705.6" r="0.45"/><circle cx="65.7" cy="708.1" r="0.45"/><circle cx="64.4" cy="713.6" r="0.45"/><circle cx="62.9" cy="721.9" r="0.45"/><circle cx="63.7" cy="712.9" r="0.45"/><circle cx="62.8" cy="712.5" r="0.45"/><circle cx="60.3" cy="713.8" r="0.45"/><circle cx="62.5" cy="708.7" r="0.45"/><circle cx="65.3" cy="715.0" r="0.45"/><circle cx="62.4" cy="706.5" r="0.45"/><circle cx="58.5" cy="706.6" r="0.45"/><circle cx="64.6" cy="713.8" r="0.45"/><circle cx="60.3" cy="711.2" r="0.45"/><circle cx="66.0" cy="707.6" r="0.45"/><circle cx="62.0" cy="707.0" r="0.45"/><circle cx="64.4" cy="702.6" r="0.45"/><circle cx="63.1" cy="713.1" r="0.45"/></g>
<g filter="url(#wob)">
<g filter="url(#bl50)"><path d="M21.20,695.20 C23.07,693.52 27.53,694.47 32.40,694.40 C37.27,694.33 45.73,694.63 50.40,694.80 C55.07,694.97 58.23,694.78 60.40,695.40 C62.57,696.02 63.23,697.23 63.40,698.50 C63.57,699.77 63.57,702.05 61.40,703.00 C59.23,703.95 54.73,703.93 50.40,704.20 C46.07,704.47 40.27,704.55 35.40,704.60 C30.53,704.65 23.57,706.07 21.20,704.50 C18.83,702.93 19.33,696.88 21.20,695.20Z" fill="#1a40f0"/><path d="M23.22,695.99 C24.75,694.61 28.41,695.39 32.40,695.34 C36.39,695.28 43.33,695.53 47.16,695.66 C50.99,695.80 53.58,695.65 55.36,696.16 C57.14,696.66 57.68,697.66 57.82,698.70 C57.96,699.74 57.96,701.61 56.18,702.39 C54.40,703.17 50.71,703.15 47.16,703.37 C43.61,703.59 38.85,703.66 34.86,703.70 C30.87,703.74 25.16,704.90 23.22,703.62 C21.28,702.33 21.69,697.37 23.22,695.99Z" fill="#1aa0f0"/><path d="M25.23,696.78 C26.43,695.71 29.29,696.31 32.40,696.27 C35.51,696.23 40.93,696.42 43.92,696.53 C46.91,696.63 48.93,696.52 50.32,696.91 C51.71,697.31 52.13,698.09 52.24,698.90 C52.35,699.71 52.35,701.17 50.96,701.78 C49.57,702.38 46.69,702.37 43.92,702.54 C41.15,702.71 37.43,702.77 34.32,702.80 C31.21,702.83 26.75,703.74 25.23,702.74 C23.72,701.73 24.04,697.86 25.23,696.78Z" fill="#30d8a0"/><path d="M27.25,697.58 C28.11,696.80 30.16,697.24 32.40,697.21 C34.64,697.18 38.53,697.32 40.68,697.39 C42.83,697.47 44.28,697.38 45.28,697.67 C46.28,697.95 46.58,698.51 46.66,699.09 C46.74,699.68 46.74,700.73 45.74,701.16 C44.74,701.60 42.67,701.59 40.68,701.72 C38.69,701.84 36.02,701.88 33.78,701.90 C31.54,701.92 28.34,702.57 27.25,701.85 C26.16,701.13 26.39,698.35 27.25,697.58Z" fill="#60e040"/></g>
</g>
<g filter="url(#wob)">
<g filter="url(#bl50)"><path d="M21.20,703.00 C23.47,696.57 32.37,702.00 34.80,704.00 C37.23,706.00 35.72,710.67 35.80,715.00 C35.88,719.33 35.30,725.40 35.30,730.00 C35.30,734.60 38.15,740.50 35.80,742.60 C33.45,744.70 23.63,749.20 21.20,742.60 C18.77,736.00 18.93,709.43 21.20,703.00Z" fill="#1a40f0"/><path d="M22.52,708.00 C24.33,702.85 31.45,707.20 33.40,708.80 C35.35,710.40 34.13,714.13 34.20,717.60 C34.27,721.07 33.80,725.92 33.80,729.60 C33.80,733.28 36.08,738.00 34.20,739.68 C32.32,741.36 24.47,744.96 22.52,739.68 C20.57,734.40 20.71,713.15 22.52,708.00Z" fill="#1aa0f0"/><path d="M23.84,713.00 C25.20,709.14 30.54,712.40 32.00,713.60 C33.46,714.80 32.55,717.60 32.60,720.20 C32.65,722.80 32.30,726.44 32.30,729.20 C32.30,731.96 34.01,735.50 32.60,736.76 C31.19,738.02 25.30,740.72 23.84,736.76 C22.38,732.80 22.48,716.86 23.84,713.00Z" fill="#30d8a0"/><path d="M25.03,717.50 C25.98,714.80 29.72,717.08 30.74,717.92 C31.76,718.76 31.12,720.72 31.16,722.54 C31.19,724.36 30.95,726.91 30.95,728.84 C30.95,730.77 32.15,733.25 31.16,734.13 C30.17,735.01 26.05,736.90 25.03,734.13 C24.01,731.36 24.08,720.20 25.03,717.50Z" fill="#60e040"/></g>
</g>
<g filter="url(#bl50)"><path d="M37.90,698.80 C37.90,699.20 37.62,699.65 37.16,700.00 C36.70,700.35 35.94,700.68 35.15,700.88 C34.36,701.08 33.32,701.20 32.40,701.20 C31.48,701.20 30.44,701.08 29.65,700.88 C28.86,700.68 28.10,700.35 27.64,700.00 C27.18,699.65 26.90,699.20 26.90,698.80 C26.90,698.40 27.18,697.95 27.64,697.60 C28.10,697.25 28.86,696.92 29.65,696.72 C30.44,696.52 31.48,696.40 32.40,696.40 C33.32,696.40 34.36,696.52 35.15,696.72 C35.94,696.92 36.70,697.25 37.16,697.60 C37.62,697.95 37.90,698.40 37.90,698.80Z" fill="#a0e040"/><path d="M36.52,698.80 C36.52,699.10 36.32,699.44 35.97,699.70 C35.63,699.96 35.06,700.21 34.46,700.36 C33.87,700.51 33.09,700.60 32.40,700.60 C31.71,700.60 30.93,700.51 30.34,700.36 C29.74,700.21 29.17,699.96 28.83,699.70 C28.48,699.44 28.27,699.10 28.27,698.80 C28.27,698.50 28.48,698.16 28.83,697.90 C29.17,697.64 29.74,697.39 30.34,697.24 C30.93,697.09 31.71,697.00 32.40,697.00 C33.09,697.00 33.87,697.09 34.46,697.24 C35.06,697.39 35.63,697.64 35.97,697.90 C36.32,698.16 36.52,698.50 36.52,698.80Z" fill="#e8e020"/><path d="M35.15,698.80 C35.15,699.00 35.01,699.23 34.78,699.40 C34.55,699.57 34.17,699.74 33.77,699.84 C33.38,699.94 32.86,700.00 32.40,700.00 C31.94,700.00 31.42,699.94 31.02,699.84 C30.63,699.74 30.25,699.57 30.02,699.40 C29.79,699.23 29.65,699.00 29.65,698.80 C29.65,698.60 29.79,698.37 30.02,698.20 C30.25,698.03 30.63,697.86 31.02,697.76 C31.42,697.66 31.94,697.60 32.40,697.60 C32.86,697.60 33.38,697.66 33.77,697.76 C34.17,697.86 34.55,698.03 34.78,698.20 C35.01,698.37 35.15,698.60 35.15,698.80Z" fill="#f0a020"/><path d="M33.94,698.80 C33.94,698.91 33.86,699.04 33.73,699.14 C33.61,699.23 33.39,699.33 33.17,699.38 C32.95,699.44 32.66,699.47 32.40,699.47 C32.14,699.47 31.85,699.44 31.63,699.38 C31.41,699.33 31.19,699.23 31.07,699.14 C30.94,699.04 30.86,698.91 30.86,698.80 C30.86,698.69 30.94,698.56 31.07,698.46 C31.19,698.37 31.41,698.27 31.63,698.22 C31.85,698.16 32.14,698.13 32.40,698.13 C32.66,698.13 32.95,698.16 33.17,698.22 C33.39,698.27 33.61,698.37 33.73,698.46 C33.86,698.56 33.94,698.69 33.94,698.80Z" fill="#e85020"/></g>
<g filter="url(#bl50)"><path d="M30.90,737.00 C30.90,737.67 30.72,738.46 30.44,739.00 C30.17,739.54 29.69,740.03 29.24,740.23 C28.79,740.44 28.21,740.44 27.76,740.23 C27.31,740.03 26.83,739.54 26.56,739.00 C26.28,738.46 26.10,737.67 26.10,737.00 C26.10,736.33 26.28,735.54 26.56,735.00 C26.83,734.46 27.31,733.97 27.76,733.77 C28.21,733.56 28.79,733.56 29.24,733.77 C29.69,733.97 30.17,734.46 30.44,735.00 C30.72,735.54 30.90,736.33 30.90,737.00Z" fill="#c0e040"/><path d="M29.94,737.00 C29.94,737.40 29.83,737.88 29.66,738.20 C29.50,738.52 29.21,738.82 28.94,738.94 C28.68,739.06 28.32,739.06 28.06,738.94 C27.79,738.82 27.50,738.52 27.34,738.20 C27.17,737.88 27.06,737.40 27.06,737.00 C27.06,736.60 27.17,736.12 27.34,735.80 C27.50,735.48 27.79,735.18 28.06,735.06 C28.32,734.94 28.68,734.94 28.94,735.06 C29.21,735.18 29.50,735.48 29.66,735.80 C29.83,736.12 29.94,736.60 29.94,737.00Z" fill="#f0a020"/><path d="M29.22,737.00 C29.22,737.20 29.17,737.44 29.08,737.60 C29.00,737.76 28.86,737.91 28.72,737.97 C28.59,738.03 28.41,738.03 28.28,737.97 C28.14,737.91 28.00,737.76 27.92,737.60 C27.83,737.44 27.78,737.20 27.78,737.00 C27.78,736.80 27.83,736.56 27.92,736.40 C28.00,736.24 28.14,736.09 28.28,736.03 C28.41,735.97 28.59,735.97 28.72,736.03 C28.86,736.09 29.00,736.24 29.08,736.40 C29.17,736.56 29.22,736.80 29.22,737.00Z" fill="#e05020"/></g>
<g filter="url(#bl50)"><path d="M61.00,699.80 C61.00,700.31 60.62,700.92 60.05,701.33 C59.47,701.74 58.48,702.12 57.55,702.27 C56.61,702.43 55.39,702.43 54.45,702.27 C53.52,702.12 52.53,701.74 51.95,701.33 C51.38,700.92 51.00,700.31 51.00,699.80 C51.00,699.29 51.38,698.68 51.95,698.27 C52.53,697.86 53.52,697.48 54.45,697.33 C55.39,697.17 56.61,697.17 57.55,697.33 C58.48,697.48 59.47,697.86 60.05,698.27 C60.62,698.68 61.00,699.29 61.00,699.80Z" fill="#30d0b0"/><path d="M58.75,699.80 C58.75,700.08 58.54,700.41 58.22,700.64 C57.91,700.87 57.36,701.07 56.85,701.16 C56.34,701.25 55.66,701.25 55.15,701.16 C54.64,701.07 54.09,700.87 53.78,700.64 C53.46,700.41 53.25,700.08 53.25,699.80 C53.25,699.52 53.46,699.19 53.78,698.96 C54.09,698.73 54.64,698.53 55.15,698.44 C55.66,698.35 56.34,698.35 56.85,698.44 C57.36,698.53 57.91,698.73 58.22,698.96 C58.54,699.19 58.75,699.52 58.75,699.80Z" fill="#60e040"/></g>
<g filter="url(#wob)">
<g filter="url(#bl50)"><path d="M58.40,700.00 C58.98,698.92 61.15,698.33 62.40,698.50 C63.65,698.67 65.23,699.75 65.90,701.00 C66.57,702.25 66.48,704.17 66.40,706.00 C66.32,707.83 65.82,710.08 65.40,712.00 C64.98,713.92 64.40,716.83 63.90,717.50 C63.40,718.17 62.90,717.25 62.40,716.00 C61.90,714.75 61.48,711.83 60.90,710.00 C60.32,708.17 59.32,706.67 58.90,705.00 C58.48,703.33 57.82,701.08 58.40,700.00Z" fill="#2a44ee"/><path d="M60.90,702.50 C61.19,701.96 62.27,701.67 62.90,701.75 C63.52,701.83 64.32,702.38 64.65,703.00 C64.98,703.62 64.94,704.58 64.90,705.50 C64.86,706.42 64.61,707.54 64.40,708.50 C64.19,709.46 63.90,710.92 63.65,711.25 C63.40,711.58 63.15,711.12 62.90,710.50 C62.65,709.88 62.44,708.42 62.15,707.50 C61.86,706.58 61.36,705.83 61.15,705.00 C60.94,704.17 60.61,703.04 60.90,702.50Z" fill="#3a5cf0"/></g>
</g>
<rect x="55.40" y="706.60" width="16.30" height="15.40" fill="none" stroke="#c050c8" stroke-width="0.8"/>
<g filter="url(#bl80)">
<path d="M97.0,694.5 C111.4,693.5 131.4,694.5 138.4,695.5 C140.4,698 140.4,703 136.4,705 C126.4,705.5 120.4,708 116.4,714 C113.9,722 113.9,734 113.9,742.6 L97.0,742.6 Z" fill="#2436e8" stroke="none" stroke-width="0"/>
</g>
<g filter="url(#bl120)" opacity="0.55">
<path d="M110.4,704 C120.4,703 130.4,703 136.4,704 C132.4,708 126.4,712 120.4,718 C117.4,724 115.4,730 114.4,736 L110.4,736 Z" fill="#3040f0" stroke="none" stroke-width="0"/>
<path d="M136.4,700 C140.4,700 142.4,706 141.4,716 C139.4,712 137.4,707 134.4,704 Z" fill="#3040f0" stroke="none" stroke-width="0"/>
</g>
<g fill="#2840f0" opacity="0.5"><circle cx="125.0" cy="709.2" r="0.42"/><circle cx="110.4" cy="723.2" r="0.42"/><circle cx="116.2" cy="719.4" r="0.42"/><circle cx="134.6" cy="709.3" r="0.42"/><circle cx="113.2" cy="728.0" r="0.42"/><circle cx="113.2" cy="706.9" r="0.42"/><circle cx="129.4" cy="710.2" r="0.42"/><circle cx="116.4" cy="722.9" r="0.42"/><circle cx="111.3" cy="712.6" r="0.42"/><circle cx="128.5" cy="710.7" r="0.42"/><circle cx="128.1" cy="703.1" r="0.42"/><circle cx="113.9" cy="723.2" r="0.42"/><circle cx="119.8" cy="706.9" r="0.42"/><circle cx="124.9" cy="704.8" r="0.42"/><circle cx="131.3" cy="700.4" r="0.42"/><circle cx="133.7" cy="700.6" r="0.42"/><circle cx="129.0" cy="710.7" r="0.42"/><circle cx="121.7" cy="713.6" r="0.42"/><circle cx="112.0" cy="714.8" r="0.42"/><circle cx="122.7" cy="703.0" r="0.42"/><circle cx="132.8" cy="709.3" r="0.42"/><circle cx="115.6" cy="700.8" r="0.42"/><circle cx="114.1" cy="720.6" r="0.42"/><circle cx="121.2" cy="709.0" r="0.42"/><circle cx="118.0" cy="714.4" r="0.42"/><circle cx="118.4" cy="716.6" r="0.42"/><circle cx="124.8" cy="705.0" r="0.42"/><circle cx="121.7" cy="710.7" r="0.42"/><circle cx="128.5" cy="711.2" r="0.42"/><circle cx="122.3" cy="717.1" r="0.42"/><circle cx="119.1" cy="700.2" r="0.42"/><circle cx="123.9" cy="702.0" r="0.42"/><circle cx="111.3" cy="727.1" r="0.42"/><circle cx="113.8" cy="725.1" r="0.42"/><circle cx="136.0" cy="702.2" r="0.42"/><circle cx="128.8" cy="714.8" r="0.42"/><circle cx="125.2" cy="716.4" r="0.42"/><circle cx="113.4" cy="712.7" r="0.42"/><circle cx="114.7" cy="721.9" r="0.42"/><circle cx="128.6" cy="705.0" r="0.42"/><circle cx="129.2" cy="703.4" r="0.42"/><circle cx="113.6" cy="722.6" r="0.42"/><circle cx="114.2" cy="729.1" r="0.42"/><circle cx="112.9" cy="721.6" r="0.42"/><circle cx="118.7" cy="724.9" r="0.42"/><circle cx="112.3" cy="728.0" r="0.42"/><circle cx="138.6" cy="702.9" r="0.42"/><circle cx="138.1" cy="701.1" r="0.42"/><circle cx="113.0" cy="728.6" r="0.42"/><circle cx="111.4" cy="706.1" r="0.42"/><circle cx="121.5" cy="701.8" r="0.42"/><circle cx="120.7" cy="702.7" r="0.42"/><circle cx="132.3" cy="704.0" r="0.42"/><circle cx="126.8" cy="716.2" r="0.42"/><circle cx="125.2" cy="702.6" r="0.42"/><circle cx="112.6" cy="718.2" r="0.42"/><circle cx="111.3" cy="718.4" r="0.42"/><circle cx="114.9" cy="709.9" r="0.42"/><circle cx="114.9" cy="719.9" r="0.42"/><circle cx="122.0" cy="707.8" r="0.42"/><circle cx="117.0" cy="719.7" r="0.42"/><circle cx="115.3" cy="711.1" r="0.42"/><circle cx="117.6" cy="720.0" r="0.42"/><circle cx="116.0" cy="711.4" r="0.42"/><circle cx="121.8" cy="715.4" r="0.42"/><circle cx="115.3" cy="721.9" r="0.42"/><circle cx="121.9" cy="702.1" r="0.42"/><circle cx="111.6" cy="726.6" r="0.42"/><circle cx="113.8" cy="724.9" r="0.42"/><circle cx="113.4" cy="712.9" r="0.42"/><circle cx="111.4" cy="719.0" r="0.42"/><circle cx="134.0" cy="707.9" r="0.42"/><circle cx="119.2" cy="716.5" r="0.42"/><circle cx="115.5" cy="723.1" r="0.42"/><circle cx="114.0" cy="703.9" r="0.42"/><circle cx="139.9" cy="701.8" r="0.42"/><circle cx="129.9" cy="710.0" r="0.42"/><circle cx="123.7" cy="707.1" r="0.42"/><circle cx="134.0" cy="707.5" r="0.42"/><circle cx="128.2" cy="708.9" r="0.42"/><circle cx="113.2" cy="720.8" r="0.42"/><circle cx="111.4" cy="712.8" r="0.42"/><circle cx="111.2" cy="732.2" r="0.42"/><circle cx="135.4" cy="701.8" r="0.42"/><circle cx="114.6" cy="700.3" r="0.42"/><circle cx="112.4" cy="700.1" r="0.42"/><circle cx="135.2" cy="703.1" r="0.42"/><circle cx="128.1" cy="709.6" r="0.42"/><circle cx="114.4" cy="714.7" r="0.42"/><circle cx="121.9" cy="720.8" r="0.42"/><circle cx="124.8" cy="709.5" r="0.42"/><circle cx="116.2" cy="715.7" r="0.42"/><circle cx="125.8" cy="704.2" r="0.42"/><circle cx="128.2" cy="716.6" r="0.42"/><circle cx="137.4" cy="705.4" r="0.42"/><circle cx="118.0" cy="704.6" r="0.42"/><circle cx="121.3" cy="700.2" r="0.42"/><circle cx="119.5" cy="702.9" r="0.42"/><circle cx="138.2" cy="703.1" r="0.42"/><circle cx="121.8" cy="704.4" r="0.42"/><circle cx="125.0" cy="712.7" r="0.42"/><circle cx="112.4" cy="704.6" r="0.42"/><circle cx="113.7" cy="721.1" r="0.42"/><circle cx="132.0" cy="705.4" r="0.42"/><circle cx="125.6" cy="704.0" r="0.42"/><circle cx="130.3" cy="704.4" r="0.42"/><circle cx="120.9" cy="705.5" r="0.42"/><circle cx="115.7" cy="706.4" r="0.42"/><circle cx="113.7" cy="721.5" r="0.42"/><circle cx="110.4" cy="730.9" r="0.42"/><circle cx="124.1" cy="702.1" r="0.42"/><circle cx="118.6" cy="725.2" r="0.42"/><circle cx="121.9" cy="721.8" r="0.42"/><circle cx="113.5" cy="729.2" r="0.42"/><circle cx="114.8" cy="723.4" r="0.42"/><circle cx="124.5" cy="714.2" r="0.42"/><circle cx="111.0" cy="718.6" r="0.42"/><circle cx="135.5" cy="703.6" r="0.42"/><circle cx="123.8" cy="700.4" r="0.42"/><circle cx="112.5" cy="704.2" r="0.42"/><circle cx="123.5" cy="708.9" r="0.42"/><circle cx="126.7" cy="712.1" r="0.42"/><circle cx="132.0" cy="701.6" r="0.42"/><circle cx="129.1" cy="700.1" r="0.42"/><circle cx="126.5" cy="706.0" r="0.42"/><circle cx="111.5" cy="700.5" r="0.42"/><circle cx="116.7" cy="710.6" r="0.42"/><circle cx="115.0" cy="702.0" r="0.42"/><circle cx="136.9" cy="707.6" r="0.42"/><circle cx="113.1" cy="730.6" r="0.42"/><circle cx="121.1" cy="706.5" r="0.42"/><circle cx="117.0" cy="713.5" r="0.42"/><circle cx="126.8" cy="712.6" r="0.42"/><circle cx="130.1" cy="703.1" r="0.42"/><circle cx="123.3" cy="720.5" r="0.42"/><circle cx="118.5" cy="722.3" r="0.42"/><circle cx="118.0" cy="709.3" r="0.42"/><circle cx="123.2" cy="713.0" r="0.42"/><circle cx="137.3" cy="705.7" r="0.42"/><circle cx="118.7" cy="722.7" r="0.42"/><circle cx="119.9" cy="723.2" r="0.42"/><circle cx="125.6" cy="702.7" r="0.42"/><circle cx="113.8" cy="715.4" r="0.42"/><circle cx="126.4" cy="706.2" r="0.42"/><circle cx="118.3" cy="700.0" r="0.42"/><circle cx="118.4" cy="710.8" r="0.42"/><circle cx="122.1" cy="720.8" r="0.42"/><circle cx="132.6" cy="709.9" r="0.42"/><circle cx="110.9" cy="701.8" r="0.42"/><circle cx="115.0" cy="727.4" r="0.42"/><circle cx="137.4" cy="703.8" r="0.42"/><circle cx="134.2" cy="704.7" r="0.42"/><circle cx="114.0" cy="714.0" r="0.42"/><circle cx="125.1" cy="702.4" r="0.42"/><circle cx="118.7" cy="706.1" r="0.42"/><circle cx="114.4" cy="703.5" r="0.42"/><circle cx="111.1" cy="707.6" r="0.42"/><circle cx="120.2" cy="714.7" r="0.42"/><circle cx="125.0" cy="711.3" r="0.42"/><circle cx="128.8" cy="706.8" r="0.42"/><circle cx="115.7" cy="704.0" r="0.42"/><circle cx="130.5" cy="704.9" r="0.42"/><circle cx="117.1" cy="712.3" r="0.42"/><circle cx="122.3" cy="720.2" r="0.42"/><circle cx="114.0" cy="722.5" r="0.42"/><circle cx="125.4" cy="708.9" r="0.42"/><circle cx="122.7" cy="720.6" r="0.42"/><circle cx="119.5" cy="720.6" r="0.42"/><circle cx="124.6" cy="703.6" r="0.42"/><circle cx="137.1" cy="705.6" r="0.42"/><circle cx="124.5" cy="711.5" r="0.42"/><circle cx="110.8" cy="731.0" r="0.42"/><circle cx="125.9" cy="712.3" r="0.42"/><circle cx="124.8" cy="702.5" r="0.42"/><circle cx="128.0" cy="704.0" r="0.42"/><circle cx="120.8" cy="722.8" r="0.42"/><circle cx="129.0" cy="714.6" r="0.42"/><circle cx="115.7" cy="729.7" r="0.42"/><circle cx="121.0" cy="700.5" r="0.42"/><circle cx="134.5" cy="700.2" r="0.42"/><circle cx="111.7" cy="701.1" r="0.42"/><circle cx="124.5" cy="707.2" r="0.42"/><circle cx="140.3" cy="703.9" r="0.42"/><circle cx="111.9" cy="707.8" r="0.42"/><circle cx="121.1" cy="712.9" r="0.42"/><circle cx="129.5" cy="709.8" r="0.42"/><circle cx="116.1" cy="728.6" r="0.42"/><circle cx="127.2" cy="717.6" r="0.42"/><circle cx="111.1" cy="732.0" r="0.42"/><circle cx="136.0" cy="702.7" r="0.42"/><circle cx="112.8" cy="723.6" r="0.42"/><circle cx="130.4" cy="706.8" r="0.42"/><circle cx="140.1" cy="703.5" r="0.42"/><circle cx="127.5" cy="716.9" r="0.42"/><circle cx="120.3" cy="723.4" r="0.42"/><circle cx="133.5" cy="700.3" r="0.42"/><circle cx="120.2" cy="719.0" r="0.42"/><circle cx="119.3" cy="721.0" r="0.42"/><circle cx="111.3" cy="703.7" r="0.42"/><circle cx="125.8" cy="707.5" r="0.42"/><circle cx="116.6" cy="714.5" r="0.42"/><circle cx="116.4" cy="724.6" r="0.42"/><circle cx="118.9" cy="710.5" r="0.42"/><circle cx="122.4" cy="701.1" r="0.42"/><circle cx="123.6" cy="706.9" r="0.42"/><circle cx="117.4" cy="715.1" r="0.42"/><circle cx="119.8" cy="725.3" r="0.42"/><circle cx="122.6" cy="712.5" r="0.42"/><circle cx="122.7" cy="710.0" r="0.42"/><circle cx="129.3" cy="700.3" r="0.42"/><circle cx="112.4" cy="718.7" r="0.42"/><circle cx="124.3" cy="700.4" r="0.42"/><circle cx="116.7" cy="710.7" r="0.42"/><circle cx="111.6" cy="713.6" r="0.42"/><circle cx="120.9" cy="704.8" r="0.42"/><circle cx="133.8" cy="704.5" r="0.42"/><circle cx="129.4" cy="703.0" r="0.42"/><circle cx="129.1" cy="707.3" r="0.42"/><circle cx="111.2" cy="712.4" r="0.42"/><circle cx="119.9" cy="707.1" r="0.42"/><circle cx="121.9" cy="719.7" r="0.42"/><circle cx="135.3" cy="702.1" r="0.42"/><circle cx="117.9" cy="705.9" r="0.42"/><circle cx="115.7" cy="712.5" r="0.42"/><circle cx="115.2" cy="704.4" r="0.42"/><circle cx="113.8" cy="728.5" r="0.42"/><circle cx="111.6" cy="713.1" r="0.42"/><circle cx="122.6" cy="718.1" r="0.42"/><circle cx="127.8" cy="711.4" r="0.42"/><circle cx="129.6" cy="713.3" r="0.42"/><circle cx="123.1" cy="717.8" r="0.42"/><circle cx="113.6" cy="717.9" r="0.42"/><circle cx="120.4" cy="721.4" r="0.42"/><circle cx="131.0" cy="703.5" r="0.42"/><circle cx="112.6" cy="731.4" r="0.42"/><circle cx="116.6" cy="723.7" r="0.42"/><circle cx="110.6" cy="722.3" r="0.42"/><circle cx="135.7" cy="701.2" r="0.42"/><circle cx="110.6" cy="731.0" r="0.42"/><circle cx="116.4" cy="705.6" r="0.42"/><circle cx="110.8" cy="723.1" r="0.42"/><circle cx="117.8" cy="705.1" r="0.42"/><circle cx="113.9" cy="728.2" r="0.42"/></g>
<g fill="#3050f0" opacity="0.6"><circle cx="141.4" cy="712.1" r="0.45"/><circle cx="137.6" cy="709.6" r="0.45"/><circle cx="138.2" cy="710.5" r="0.45"/><circle cx="139.2" cy="717.4" r="0.45"/><circle cx="136.1" cy="721.9" r="0.45"/><circle cx="138.0" cy="713.9" r="0.45"/><circle cx="136.5" cy="714.7" r="0.45"/><circle cx="136.6" cy="722.5" r="0.45"/><circle cx="140.4" cy="716.7" r="0.45"/><circle cx="140.8" cy="708.4" r="0.45"/><circle cx="139.7" cy="716.4" r="0.45"/><circle cx="142.2" cy="703.9" r="0.45"/><circle cx="141.8" cy="705.4" r="0.45"/><circle cx="144.4" cy="715.8" r="0.45"/><circle cx="139.6" cy="711.6" r="0.45"/><circle cx="138.9" cy="711.0" r="0.45"/><circle cx="141.0" cy="711.8" r="0.45"/><circle cx="141.4" cy="710.6" r="0.45"/><circle cx="143.0" cy="702.4" r="0.45"/><circle cx="139.6" cy="713.1" r="0.45"/><circle cx="140.2" cy="717.3" r="0.45"/><circle cx="138.6" cy="707.3" r="0.45"/><circle cx="139.6" cy="709.3" r="0.45"/><circle cx="141.7" cy="711.7" r="0.45"/><circle cx="136.8" cy="703.7" r="0.45"/><circle cx="144.6" cy="707.8" r="0.45"/><circle cx="142.8" cy="709.8" r="0.45"/><circle cx="138.7" cy="711.6" r="0.45"/><circle cx="134.4" cy="706.8" r="0.45"/><circle cx="140.1" cy="706.1" r="0.45"/><circle cx="136.7" cy="705.0" r="0.45"/><circle cx="143.4" cy="710.7" r="0.45"/><circle cx="134.1" cy="704.9" r="0.45"/><circle cx="139.5" cy="711.0" r="0.45"/><circle cx="141.4" cy="710.2" r="0.45"/><circle cx="141.5" cy="711.0" r="0.45"/><circle cx="139.5" cy="711.3" r="0.45"/><circle cx="140.2" cy="706.9" r="0.45"/><circle cx="142.4" cy="715.7" r="0.45"/><circle cx="140.1" cy="715.0" r="0.45"/><circle cx="137.6" cy="713.2" r="0.45"/><circle cx="139.2" cy="708.1" r="0.45"/><circle cx="140.5" cy="706.4" r="0.45"/><circle cx="137.4" cy="712.7" r="0.45"/><circle cx="141.0" cy="709.4" r="0.45"/><circle cx="137.7" cy="712.8" r="0.45"/><circle cx="139.8" cy="711.7" r="0.45"/><circle cx="137.5" cy="703.5" r="0.45"/><circle cx="138.3" cy="715.4" r="0.45"/><circle cx="139.7" cy="709.6" r="0.45"/><circle cx="138.8" cy="718.3" r="0.45"/><circle cx="139.4" cy="714.4" r="0.45"/><circle cx="137.4" cy="710.3" r="0.45"/><circle cx="139.9" cy="712.2" r="0.45"/><circle cx="143.9" cy="710.2" r="0.45"/><circle cx="139.5" cy="713.2" r="0.45"/><circle cx="136.3" cy="710.3" r="0.45"/><circle cx="141.7" cy="709.3" r="0.45"/><circle cx="142.7" cy="717.4" r="0.45"/><circle cx="140.5" cy="713.7" r="0.45"/><circle cx="140.4" cy="719.9" r="0.45"/><circle cx="141.8" cy="710.0" r="0.45"/><circle cx="136.7" cy="705.8" r="0.45"/><circle cx="135.0" cy="713.4" r="0.45"/><circle cx="137.8" cy="717.7" r="0.45"/><circle cx="140.1" cy="713.1" r="0.45"/><circle cx="140.3" cy="713.3" r="0.45"/><circle cx="141.2" cy="710.2" r="0.45"/><circle cx="139.2" cy="710.4" r="0.45"/><circle cx="142.2" cy="705.5" r="0.45"/><circle cx="135.7" cy="699.4" r="0.45"/><circle cx="143.5" cy="712.5" r="0.45"/><circle cx="143.8" cy="718.4" r="0.45"/><circle cx="141.6" cy="711.2" r="0.45"/><circle cx="136.7" cy="709.4" r="0.45"/><circle cx="139.7" cy="709.4" r="0.45"/><circle cx="139.8" cy="710.5" r="0.45"/><circle cx="143.6" cy="708.7" r="0.45"/><circle cx="140.2" cy="711.2" r="0.45"/><circle cx="140.2" cy="712.3" r="0.45"/><circle cx="140.3" cy="713.7" r="0.45"/><circle cx="136.5" cy="710.2" r="0.45"/><circle cx="139.4" cy="724.1" r="0.45"/><circle cx="136.9" cy="708.0" r="0.45"/><circle cx="141.1" cy="705.5" r="0.45"/><circle cx="142.7" cy="705.0" r="0.45"/><circle cx="136.2" cy="718.1" r="0.45"/><circle cx="139.0" cy="710.3" r="0.45"/><circle cx="137.5" cy="716.9" r="0.45"/><circle cx="138.2" cy="704.4" r="0.45"/><circle cx="140.0" cy="703.8" r="0.45"/><circle cx="141.0" cy="709.1" r="0.45"/><circle cx="143.8" cy="705.8" r="0.45"/><circle cx="140.1" cy="708.0" r="0.45"/><circle cx="135.4" cy="705.7" r="0.45"/><circle cx="140.4" cy="708.5" r="0.45"/><circle cx="142.5" cy="712.4" r="0.45"/><circle cx="142.0" cy="713.7" r="0.45"/><circle cx="140.3" cy="712.6" r="0.45"/><circle cx="141.9" cy="706.6" r="0.45"/><circle cx="142.3" cy="713.1" r="0.45"/><circle cx="138.7" cy="715.8" r="0.45"/><circle cx="139.6" cy="701.4" r="0.45"/><circle cx="139.8" cy="711.1" r="0.45"/><circle cx="140.6" cy="709.8" r="0.45"/><circle cx="141.1" cy="705.4" r="0.45"/><circle cx="136.3" cy="707.9" r="0.45"/><circle cx="135.4" cy="715.8" r="0.45"/><circle cx="141.4" cy="710.1" r="0.45"/><circle cx="139.6" cy="715.7" r="0.45"/></g>
<g filter="url(#wob)">
<g filter="url(#bl50)"><path d="M97.20,695.20 C99.07,693.52 103.53,694.47 108.40,694.40 C113.27,694.33 121.73,694.63 126.40,694.80 C131.07,694.97 134.23,694.78 136.40,695.40 C138.57,696.02 139.23,697.23 139.40,698.50 C139.57,699.77 139.57,702.05 137.40,703.00 C135.23,703.95 130.73,703.93 126.40,704.20 C122.07,704.47 116.27,704.55 111.40,704.60 C106.53,704.65 99.57,706.07 97.20,704.50 C94.83,702.93 95.33,696.88 97.20,695.20Z" fill="#1a40f0"/><path d="M99.47,695.99 C101.00,694.61 104.66,695.39 108.65,695.34 C112.64,695.28 119.59,695.53 123.41,695.66 C127.24,695.80 129.84,695.65 131.61,696.16 C133.39,696.66 133.94,697.66 134.07,698.70 C134.21,699.74 134.21,701.61 132.43,702.39 C130.66,703.17 126.97,703.15 123.41,703.37 C119.86,703.59 115.10,703.66 111.11,703.70 C107.12,703.74 101.41,704.90 99.47,703.62 C97.53,702.33 97.94,697.37 99.47,695.99Z" fill="#1aa0f0"/><path d="M101.74,696.78 C102.93,695.71 105.79,696.31 108.90,696.27 C112.02,696.23 117.44,696.42 120.42,696.53 C123.41,696.63 125.44,696.52 126.82,696.91 C128.21,697.31 128.64,698.09 128.74,698.90 C128.85,699.71 128.85,701.17 127.46,701.78 C126.08,702.38 123.20,702.37 120.42,702.54 C117.65,702.71 113.94,702.77 110.82,702.80 C107.71,702.83 103.25,703.74 101.74,702.74 C100.22,701.73 100.54,697.86 101.74,696.78Z" fill="#30d8a0"/><path d="M104.00,697.58 C104.86,696.80 106.92,697.24 109.16,697.21 C111.39,697.18 115.29,697.32 117.44,697.39 C119.58,697.47 121.04,697.38 122.04,697.67 C123.03,697.95 123.34,698.51 123.42,699.09 C123.49,699.68 123.49,700.73 122.50,701.16 C121.50,701.60 119.43,701.59 117.44,701.72 C115.44,701.84 112.77,701.88 110.54,701.90 C108.30,701.92 105.09,702.57 104.00,701.85 C102.92,701.13 103.15,698.35 104.00,697.58Z" fill="#60e040"/></g>
</g>
<g filter="url(#wob)">
<g filter="url(#bl50)"><path d="M97.20,703.00 C100.10,696.57 111.53,702.00 114.60,704.00 C117.67,706.00 115.52,710.67 115.60,715.00 C115.68,719.33 115.10,725.40 115.10,730.00 C115.10,734.60 118.58,740.50 115.60,742.60 C112.62,744.70 100.27,749.20 97.20,742.60 C94.13,736.00 94.30,709.43 97.20,703.00Z" fill="#1a40f0"/><path d="M98.68,708.00 C101.00,702.85 110.15,707.20 112.60,708.80 C115.05,710.40 113.33,714.13 113.40,717.60 C113.47,721.07 113.00,725.92 113.00,729.60 C113.00,733.28 115.79,738.00 113.40,739.68 C111.01,741.36 101.13,744.96 98.68,739.68 C96.23,734.40 96.36,713.15 98.68,708.00Z" fill="#1aa0f0"/><path d="M100.16,713.00 C101.90,709.14 108.76,712.40 110.60,713.60 C112.44,714.80 111.15,717.60 111.20,720.20 C111.25,722.80 110.90,726.44 110.90,729.20 C110.90,731.96 112.99,735.50 111.20,736.76 C109.41,738.02 102.00,740.72 100.16,736.76 C98.32,732.80 98.42,716.86 100.16,713.00Z" fill="#30d8a0"/><path d="M101.49,717.50 C102.71,714.80 107.51,717.08 108.80,717.92 C110.09,718.76 109.19,720.72 109.22,722.54 C109.26,724.36 109.01,726.91 109.01,728.84 C109.01,730.77 110.47,733.25 109.22,734.13 C107.97,735.01 102.78,736.90 101.49,734.13 C100.20,731.36 100.27,720.20 101.49,717.50Z" fill="#60e040"/></g>
</g>
<g filter="url(#bl50)"><path d="M115.30,699.20 C115.30,699.60 115.02,700.05 114.56,700.40 C114.10,700.75 113.34,701.08 112.55,701.28 C111.76,701.48 110.72,701.60 109.80,701.60 C108.88,701.60 107.84,701.48 107.05,701.28 C106.26,701.08 105.50,700.75 105.04,700.40 C104.58,700.05 104.30,699.60 104.30,699.20 C104.30,698.80 104.58,698.35 105.04,698.00 C105.50,697.65 106.26,697.32 107.05,697.12 C107.84,696.92 108.88,696.80 109.80,696.80 C110.72,696.80 111.76,696.92 112.55,697.12 C113.34,697.32 114.10,697.65 114.56,698.00 C115.02,698.35 115.30,698.80 115.30,699.20Z" fill="#a0e040"/><path d="M113.92,699.20 C113.92,699.50 113.72,699.84 113.37,700.10 C113.03,700.36 112.46,700.61 111.86,700.76 C111.27,700.91 110.49,701.00 109.80,701.00 C109.11,701.00 108.33,700.91 107.74,700.76 C107.14,700.61 106.57,700.36 106.23,700.10 C105.88,699.84 105.67,699.50 105.67,699.20 C105.67,698.90 105.88,698.56 106.23,698.30 C106.57,698.04 107.14,697.79 107.74,697.64 C108.33,697.49 109.11,697.40 109.80,697.40 C110.49,697.40 111.27,697.49 111.86,697.64 C112.46,697.79 113.03,698.04 113.37,698.30 C113.72,698.56 113.92,698.90 113.92,699.20Z" fill="#e8e020"/><path d="M112.55,699.20 C112.55,699.40 112.41,699.63 112.18,699.80 C111.95,699.97 111.57,700.14 111.17,700.24 C110.78,700.34 110.26,700.40 109.80,700.40 C109.34,700.40 108.82,700.34 108.42,700.24 C108.03,700.14 107.65,699.97 107.42,699.80 C107.19,699.63 107.05,699.40 107.05,699.20 C107.05,699.00 107.19,698.77 107.42,698.60 C107.65,698.43 108.03,698.26 108.42,698.16 C108.82,698.06 109.34,698.00 109.80,698.00 C110.26,698.00 110.78,698.06 111.17,698.16 C111.57,698.26 111.95,698.43 112.18,698.60 C112.41,698.77 112.55,699.00 112.55,699.20Z" fill="#f0a020"/><path d="M111.34,699.20 C111.34,699.31 111.26,699.44 111.13,699.54 C111.01,699.63 110.79,699.73 110.57,699.78 C110.35,699.84 110.06,699.87 109.80,699.87 C109.54,699.87 109.25,699.84 109.03,699.78 C108.81,699.73 108.59,699.63 108.47,699.54 C108.34,699.44 108.26,699.31 108.26,699.20 C108.26,699.09 108.34,698.96 108.47,698.86 C108.59,698.77 108.81,698.67 109.03,698.62 C109.25,698.56 109.54,698.53 109.80,698.53 C110.06,698.53 110.35,698.56 110.57,698.62 C110.79,698.67 111.01,698.77 111.13,698.86 C111.26,698.96 111.34,699.09 111.34,699.20Z" fill="#e85020"/></g>
<g filter="url(#bl50)"><path d="M110.50,725.00 C110.50,726.50 110.25,728.20 109.83,729.50 C109.41,730.80 108.72,732.04 108.00,732.79 C107.28,733.54 106.33,734.00 105.50,734.00 C104.67,734.00 103.72,733.54 103.00,732.79 C102.28,732.04 101.59,730.80 101.17,729.50 C100.75,728.20 100.50,726.50 100.50,725.00 C100.50,723.50 100.75,721.80 101.17,720.50 C101.59,719.20 102.28,717.96 103.00,717.21 C103.72,716.46 104.67,716.00 105.50,716.00 C106.33,716.00 107.28,716.46 108.00,717.21 C108.72,717.96 109.41,719.20 109.83,720.50 C110.25,721.80 110.50,723.50 110.50,725.00Z" fill="#60e040"/><path d="M108.00,725.00 C108.00,725.75 107.87,726.60 107.67,727.25 C107.46,727.90 107.11,728.52 106.75,728.90 C106.39,729.27 105.92,729.50 105.50,729.50 C105.08,729.50 104.61,729.27 104.25,728.90 C103.89,728.52 103.54,727.90 103.33,727.25 C103.13,726.60 103.00,725.75 103.00,725.00 C103.00,724.25 103.13,723.40 103.33,722.75 C103.54,722.10 103.89,721.48 104.25,721.10 C104.61,720.73 105.08,720.50 105.50,720.50 C105.92,720.50 106.39,720.73 106.75,721.10 C107.11,721.48 107.46,722.10 107.67,722.75 C107.87,723.40 108.00,724.25 108.00,725.00Z" fill="#90e040"/></g>
<g filter="url(#wob)">
<g filter="url(#bl50)"><path d="M134.40,700.00 C134.98,698.92 137.15,698.33 138.40,698.50 C139.65,698.67 141.23,699.75 141.90,701.00 C142.57,702.25 142.48,704.17 142.40,706.00 C142.32,707.83 141.82,710.08 141.40,712.00 C140.98,713.92 140.40,716.83 139.90,717.50 C139.40,718.17 138.90,717.25 138.40,716.00 C137.90,714.75 137.48,711.83 136.90,710.00 C136.32,708.17 135.32,706.67 134.90,705.00 C134.48,703.33 133.82,701.08 134.40,700.00Z" fill="#2a44ee"/><path d="M136.90,702.50 C137.19,701.96 138.28,701.67 138.90,701.75 C139.53,701.83 140.32,702.38 140.65,703.00 C140.98,703.62 140.94,704.58 140.90,705.50 C140.86,706.42 140.61,707.54 140.40,708.50 C140.19,709.46 139.90,710.92 139.65,711.25 C139.40,711.58 139.15,711.12 138.90,710.50 C138.65,709.88 138.44,708.42 138.15,707.50 C137.86,706.58 137.36,705.83 137.15,705.00 C136.94,704.17 136.61,703.04 136.90,702.50Z" fill="#3a5cf0"/></g>
</g>
<rect x="131.40" y="706.60" width="16.30" height="15.40" fill="none" stroke="#c050c8" stroke-width="0.8"/>
<text x="67.40" y="726.00" font-size="5.0" font-weight="normal" text-anchor="start" fill="#c050c8">1.21</text>
<text x="143.40" y="726.00" font-size="5.0" font-weight="normal" text-anchor="start" fill="#c050c8">1.41</text>
<g fill="#000" opacity="0.45"><circle cx="186.4" cy="731.2" r="0.5"/><circle cx="174.7" cy="736.7" r="0.5"/><circle cx="185.2" cy="733.2" r="0.5"/><circle cx="184.3" cy="741.0" r="0.5"/><circle cx="189.9" cy="738.9" r="0.5"/><circle cx="181.0" cy="728.2" r="0.5"/><circle cx="175.6" cy="729.5" r="0.5"/><circle cx="163.0" cy="741.5" r="0.5"/><circle cx="184.2" cy="731.7" r="0.5"/><circle cx="189.6" cy="728.7" r="0.5"/><circle cx="185.0" cy="736.1" r="0.5"/><circle cx="171.5" cy="742.2" r="0.5"/><circle cx="184.2" cy="735.1" r="0.5"/><circle cx="175.4" cy="727.2" r="0.5"/><circle cx="195.8" cy="727.7" r="0.5"/><circle cx="180.1" cy="734.2" r="0.5"/><circle cx="193.9" cy="715.6" r="0.5"/><circle cx="194.2" cy="732.9" r="0.5"/><circle cx="189.9" cy="724.6" r="0.5"/><circle cx="185.5" cy="741.5" r="0.5"/><circle cx="182.4" cy="727.1" r="0.5"/><circle cx="179.9" cy="727.7" r="0.5"/><circle cx="189.1" cy="732.4" r="0.5"/><circle cx="179.4" cy="736.2" r="0.5"/><circle cx="175.0" cy="721.9" r="0.5"/><circle cx="201.6" cy="727.0" r="0.5"/><circle cx="195.4" cy="730.6" r="0.5"/><circle cx="181.5" cy="734.5" r="0.5"/><circle cx="176.7" cy="725.7" r="0.5"/><circle cx="181.6" cy="728.6" r="0.5"/><circle cx="188.5" cy="743.7" r="0.5"/><circle cx="174.3" cy="725.5" r="0.5"/><circle cx="188.8" cy="734.4" r="0.5"/><circle cx="191.6" cy="726.4" r="0.5"/><circle cx="187.6" cy="730.8" r="0.5"/><circle cx="170.9" cy="734.0" r="0.5"/><circle cx="171.4" cy="734.6" r="0.5"/><circle cx="179.8" cy="729.9" r="0.5"/><circle cx="199.2" cy="741.0" r="0.5"/><circle cx="186.4" cy="733.7" r="0.5"/><circle cx="177.4" cy="739.2" r="0.5"/><circle cx="187.8" cy="725.6" r="0.5"/><circle cx="170.7" cy="731.1" r="0.5"/><circle cx="181.8" cy="736.7" r="0.5"/><circle cx="175.4" cy="725.4" r="0.5"/><circle cx="186.3" cy="731.7" r="0.5"/><circle cx="190.3" cy="738.3" r="0.5"/><circle cx="176.4" cy="715.9" r="0.5"/><circle cx="183.6" cy="726.4" r="0.5"/><circle cx="185.0" cy="713.7" r="0.5"/><circle cx="182.4" cy="731.7" r="0.5"/><circle cx="179.0" cy="734.5" r="0.5"/><circle cx="184.0" cy="732.6" r="0.5"/><circle cx="192.9" cy="739.5" r="0.5"/><circle cx="192.2" cy="733.6" r="0.5"/><circle cx="184.2" cy="734.8" r="0.5"/><circle cx="185.5" cy="726.4" r="0.5"/><circle cx="186.1" cy="737.0" r="0.5"/><circle cx="180.1" cy="724.1" r="0.5"/><circle cx="187.5" cy="726.3" r="0.5"/><circle cx="172.0" cy="729.6" r="0.5"/><circle cx="172.2" cy="733.3" r="0.5"/><circle cx="179.3" cy="731.7" r="0.5"/><circle cx="191.7" cy="738.3" r="0.5"/><circle cx="182.5" cy="716.7" r="0.5"/><circle cx="179.6" cy="723.7" r="0.5"/><circle cx="189.9" cy="741.2" r="0.5"/><circle cx="188.4" cy="735.3" r="0.5"/><circle cx="187.3" cy="735.5" r="0.5"/><circle cx="180.4" cy="736.9" r="0.5"/><circle cx="180.9" cy="723.7" r="0.5"/><circle cx="183.6" cy="741.4" r="0.5"/><circle cx="181.8" cy="719.8" r="0.5"/><circle cx="192.5" cy="732.7" r="0.5"/><circle cx="187.3" cy="728.2" r="0.5"/><circle cx="186.8" cy="741.5" r="0.5"/><circle cx="178.3" cy="735.6" r="0.5"/><circle cx="185.8" cy="725.6" r="0.5"/><circle cx="184.5" cy="735.0" r="0.5"/><circle cx="176.9" cy="738.7" r="0.5"/><circle cx="174.9" cy="738.6" r="0.5"/><circle cx="187.8" cy="732.8" r="0.5"/><circle cx="177.3" cy="726.2" r="0.5"/><circle cx="166.6" cy="731.0" r="0.5"/><circle cx="182.2" cy="734.7" r="0.5"/><circle cx="190.9" cy="732.4" r="0.5"/><circle cx="180.7" cy="737.5" r="0.5"/><circle cx="183.1" cy="731.0" r="0.5"/><circle cx="174.4" cy="737.9" r="0.5"/><circle cx="178.2" cy="743.6" r="0.5"/><circle cx="176.8" cy="728.1" r="0.5"/><circle cx="183.9" cy="726.7" r="0.5"/><circle cx="172.3" cy="723.9" r="0.5"/><circle cx="177.1" cy="729.7" r="0.5"/><circle cx="190.5" cy="735.4" r="0.5"/><circle cx="185.6" cy="736.4" r="0.5"/><circle cx="166.9" cy="727.2" r="0.5"/><circle cx="179.1" cy="724.6" r="0.5"/><circle cx="186.8" cy="727.0" r="0.5"/><circle cx="175.0" cy="736.9" r="0.5"/><circle cx="178.3" cy="729.6" r="0.5"/><circle cx="172.0" cy="736.9" r="0.5"/><circle cx="183.5" cy="740.4" r="0.5"/><circle cx="199.6" cy="735.4" r="0.5"/><circle cx="180.5" cy="726.1" r="0.5"/><circle cx="195.4" cy="729.9" r="0.5"/><circle cx="187.9" cy="732.7" r="0.5"/><circle cx="158.1" cy="732.1" r="0.5"/><circle cx="184.4" cy="732.4" r="0.5"/><circle cx="182.2" cy="732.7" r="0.5"/><circle cx="175.7" cy="735.0" r="0.5"/><circle cx="179.4" cy="732.2" r="0.5"/><circle cx="195.5" cy="732.6" r="0.5"/><circle cx="175.6" cy="733.5" r="0.5"/><circle cx="172.5" cy="732.3" r="0.5"/><circle cx="193.6" cy="724.4" r="0.5"/><circle cx="182.1" cy="725.6" r="0.5"/><circle cx="184.5" cy="733.3" r="0.5"/><circle cx="184.5" cy="729.4" r="0.5"/><circle cx="169.1" cy="725.5" r="0.5"/><circle cx="180.0" cy="736.4" r="0.5"/><circle cx="168.4" cy="738.1" r="0.5"/><circle cx="177.6" cy="720.5" r="0.5"/><circle cx="194.0" cy="733.3" r="0.5"/><circle cx="176.2" cy="732.8" r="0.5"/><circle cx="187.6" cy="722.1" r="0.5"/><circle cx="192.7" cy="725.8" r="0.5"/><circle cx="189.2" cy="727.6" r="0.5"/><circle cx="171.5" cy="727.4" r="0.5"/><circle cx="179.4" cy="731.9" r="0.5"/><circle cx="170.8" cy="724.8" r="0.5"/><circle cx="185.5" cy="728.7" r="0.5"/><circle cx="179.3" cy="733.9" r="0.5"/><circle cx="173.4" cy="743.8" r="0.5"/><circle cx="177.7" cy="733.5" r="0.5"/><circle cx="181.9" cy="737.4" r="0.5"/><circle cx="179.9" cy="726.2" r="0.5"/><circle cx="185.0" cy="735.0" r="0.5"/><circle cx="182.1" cy="744.0" r="0.5"/><circle cx="188.7" cy="739.8" r="0.5"/><circle cx="192.6" cy="737.6" r="0.5"/><circle cx="181.8" cy="741.4" r="0.5"/><circle cx="180.4" cy="732.0" r="0.5"/><circle cx="193.4" cy="737.0" r="0.5"/><circle cx="175.2" cy="729.2" r="0.5"/><circle cx="176.6" cy="738.4" r="0.5"/><circle cx="180.5" cy="731.2" r="0.5"/><circle cx="178.1" cy="727.9" r="0.5"/><circle cx="188.0" cy="724.8" r="0.5"/><circle cx="183.5" cy="728.0" r="0.5"/><circle cx="180.4" cy="723.1" r="0.5"/><circle cx="191.6" cy="721.0" r="0.5"/><circle cx="174.1" cy="728.4" r="0.5"/><circle cx="183.6" cy="726.3" r="0.5"/><circle cx="171.2" cy="728.1" r="0.5"/><circle cx="175.7" cy="726.8" r="0.5"/><circle cx="194.7" cy="718.2" r="0.5"/><circle cx="182.8" cy="733.4" r="0.5"/><circle cx="180.0" cy="728.8" r="0.5"/><circle cx="190.8" cy="729.7" r="0.5"/><circle cx="170.4" cy="728.6" r="0.5"/><circle cx="185.7" cy="728.6" r="0.5"/><circle cx="178.8" cy="732.1" r="0.5"/><circle cx="179.4" cy="731.8" r="0.5"/><circle cx="187.7" cy="727.1" r="0.5"/><circle cx="171.5" cy="739.2" r="0.5"/><circle cx="185.8" cy="726.1" r="0.5"/><circle cx="172.7" cy="731.0" r="0.5"/><circle cx="184.4" cy="734.0" r="0.5"/><circle cx="185.6" cy="728.2" r="0.5"/><circle cx="180.0" cy="721.5" r="0.5"/><circle cx="177.6" cy="728.0" r="0.5"/><circle cx="190.7" cy="722.8" r="0.5"/><circle cx="196.5" cy="736.5" r="0.5"/><circle cx="179.2" cy="727.2" r="0.5"/><circle cx="184.6" cy="733.4" r="0.5"/><circle cx="188.1" cy="720.2" r="0.5"/><circle cx="180.5" cy="734.1" r="0.5"/><circle cx="189.5" cy="733.8" r="0.5"/><circle cx="182.3" cy="732.9" r="0.5"/><circle cx="179.2" cy="741.6" r="0.5"/><circle cx="189.5" cy="733.4" r="0.5"/><circle cx="178.9" cy="730.7" r="0.5"/><circle cx="185.7" cy="731.5" r="0.5"/><circle cx="194.7" cy="743.8" r="0.5"/><circle cx="190.1" cy="723.8" r="0.5"/><circle cx="188.0" cy="727.9" r="0.5"/><circle cx="183.1" cy="743.1" r="0.5"/><circle cx="170.5" cy="722.6" r="0.5"/><circle cx="178.4" cy="735.8" r="0.5"/><circle cx="180.1" cy="718.8" r="0.5"/><circle cx="185.8" cy="735.0" r="0.5"/><circle cx="191.9" cy="731.7" r="0.5"/><circle cx="191.0" cy="727.4" r="0.5"/><circle cx="189.4" cy="738.4" r="0.5"/><circle cx="181.1" cy="728.7" r="0.5"/><circle cx="191.8" cy="726.5" r="0.5"/><circle cx="176.6" cy="731.3" r="0.5"/><circle cx="187.2" cy="736.7" r="0.5"/><circle cx="179.6" cy="734.3" r="0.5"/><circle cx="176.8" cy="724.0" r="0.5"/><circle cx="200.7" cy="726.5" r="0.5"/><circle cx="172.1" cy="733.0" r="0.5"/><circle cx="177.7" cy="735.5" r="0.5"/><circle cx="165.0" cy="724.1" r="0.5"/><circle cx="190.5" cy="732.7" r="0.5"/><circle cx="176.5" cy="740.3" r="0.5"/><circle cx="190.5" cy="728.9" r="0.5"/><circle cx="191.2" cy="734.9" r="0.5"/><circle cx="174.0" cy="726.3" r="0.5"/><circle cx="184.3" cy="724.4" r="0.5"/><circle cx="171.6" cy="727.9" r="0.5"/><circle cx="188.1" cy="731.8" r="0.5"/><circle cx="175.6" cy="715.7" r="0.5"/><circle cx="188.3" cy="729.3" r="0.5"/><circle cx="188.6" cy="730.2" r="0.5"/><circle cx="179.1" cy="732.0" r="0.5"/><circle cx="177.4" cy="727.4" r="0.5"/><circle cx="176.0" cy="717.2" r="0.5"/><circle cx="190.1" cy="737.3" r="0.5"/><circle cx="178.5" cy="728.1" r="0.5"/><circle cx="199.2" cy="734.1" r="0.5"/><circle cx="179.7" cy="723.1" r="0.5"/><circle cx="195.0" cy="738.7" r="0.5"/><circle cx="176.7" cy="735.0" r="0.5"/><circle cx="175.9" cy="728.7" r="0.5"/><circle cx="190.5" cy="729.1" r="0.5"/><circle cx="177.7" cy="721.7" r="0.5"/><circle cx="186.9" cy="729.5" r="0.5"/><circle cx="173.9" cy="743.4" r="0.5"/><circle cx="177.7" cy="727.4" r="0.5"/><circle cx="185.6" cy="729.0" r="0.5"/><circle cx="182.9" cy="733.3" r="0.5"/><circle cx="179.1" cy="724.9" r="0.5"/><circle cx="180.5" cy="737.1" r="0.5"/><circle cx="182.8" cy="740.4" r="0.5"/><circle cx="183.4" cy="725.1" r="0.5"/><circle cx="184.4" cy="729.7" r="0.5"/><circle cx="179.3" cy="729.6" r="0.5"/><circle cx="189.6" cy="736.2" r="0.5"/><circle cx="185.3" cy="732.2" r="0.5"/><circle cx="187.5" cy="735.4" r="0.5"/><circle cx="185.8" cy="726.7" r="0.5"/><circle cx="191.6" cy="738.1" r="0.5"/><circle cx="192.6" cy="712.8" r="0.5"/><circle cx="187.0" cy="732.1" r="0.5"/><circle cx="163.3" cy="738.5" r="0.5"/><circle cx="168.9" cy="727.9" r="0.5"/><circle cx="184.3" cy="737.7" r="0.5"/><circle cx="181.1" cy="727.0" r="0.5"/></g>
<g fill="#aaa" opacity="0.35"><circle cx="198.6" cy="707.9" r="0.35"/><circle cx="180.2" cy="723.3" r="0.35"/><circle cx="167.7" cy="705.3" r="0.35"/><circle cx="203.5" cy="711.3" r="0.35"/><circle cx="199.4" cy="695.9" r="0.35"/><circle cx="217.2" cy="698.7" r="0.35"/><circle cx="189.6" cy="705.3" r="0.35"/><circle cx="190.2" cy="700.3" r="0.35"/><circle cx="212.6" cy="705.9" r="0.35"/><circle cx="204.7" cy="690.7" r="0.35"/><circle cx="199.0" cy="703.3" r="0.35"/><circle cx="196.2" cy="707.2" r="0.35"/><circle cx="196.8" cy="704.4" r="0.35"/><circle cx="191.5" cy="706.5" r="0.35"/><circle cx="193.7" cy="705.8" r="0.35"/><circle cx="185.0" cy="709.3" r="0.35"/><circle cx="178.2" cy="724.3" r="0.35"/><circle cx="202.7" cy="719.3" r="0.35"/><circle cx="188.7" cy="693.4" r="0.35"/><circle cx="168.7" cy="697.9" r="0.35"/><circle cx="181.4" cy="701.6" r="0.35"/><circle cx="185.0" cy="710.9" r="0.35"/><circle cx="156.4" cy="720.5" r="0.35"/><circle cx="185.2" cy="706.5" r="0.35"/><circle cx="164.6" cy="707.4" r="0.35"/><circle cx="169.5" cy="709.7" r="0.35"/><circle cx="194.2" cy="706.7" r="0.35"/><circle cx="187.7" cy="702.6" r="0.35"/><circle cx="185.6" cy="713.4" r="0.35"/><circle cx="191.3" cy="707.3" r="0.35"/><circle cx="224.4" cy="705.9" r="0.35"/><circle cx="177.0" cy="684.5" r="0.35"/><circle cx="155.3" cy="706.2" r="0.35"/><circle cx="202.6" cy="695.5" r="0.35"/><circle cx="173.5" cy="703.3" r="0.35"/><circle cx="192.1" cy="713.6" r="0.35"/><circle cx="188.4" cy="699.2" r="0.35"/><circle cx="199.8" cy="696.3" r="0.35"/><circle cx="169.4" cy="694.8" r="0.35"/><circle cx="185.4" cy="701.1" r="0.35"/><circle cx="190.0" cy="705.4" r="0.35"/><circle cx="223.9" cy="708.8" r="0.35"/><circle cx="159.3" cy="691.9" r="0.35"/><circle cx="192.3" cy="697.3" r="0.35"/><circle cx="221.0" cy="700.8" r="0.35"/><circle cx="184.4" cy="706.0" r="0.35"/><circle cx="186.5" cy="709.9" r="0.35"/><circle cx="186.1" cy="707.8" r="0.35"/><circle cx="181.1" cy="680.6" r="0.35"/><circle cx="195.9" cy="720.2" r="0.35"/><circle cx="176.1" cy="699.8" r="0.35"/><circle cx="201.4" cy="700.2" r="0.35"/><circle cx="191.6" cy="702.8" r="0.35"/><circle cx="198.7" cy="703.8" r="0.35"/><circle cx="218.9" cy="705.4" r="0.35"/><circle cx="186.3" cy="691.7" r="0.35"/><circle cx="191.4" cy="696.3" r="0.35"/><circle cx="199.2" cy="710.2" r="0.35"/><circle cx="227.9" cy="697.7" r="0.35"/><circle cx="191.9" cy="714.6" r="0.35"/></g>
<g filter="url(#wob)">
<g filter="url(#bl50)"><path d="M172.33,724.10 C173.59,720.66 177.23,722.85 179.89,722.52 C182.55,722.19 186.10,721.92 188.29,722.10 C190.48,722.28 192.10,722.10 193.01,723.57 C193.92,725.04 193.73,728.47 193.75,730.92 C193.77,733.37 193.16,736.24 193.12,738.27 C193.09,740.30 197.00,742.30 193.54,743.10 C190.07,743.90 175.87,746.27 172.33,743.10 C168.80,739.93 171.07,727.53 172.33,724.10Z" fill="#0a0a20"/><path d="M173.18,724.82 C174.33,721.69 177.66,723.69 180.09,723.38 C182.52,723.08 185.77,722.84 187.77,723.00 C189.77,723.16 191.26,723.00 192.09,724.34 C192.92,725.69 192.74,728.82 192.76,731.06 C192.78,733.30 192.22,735.93 192.18,737.78 C192.15,739.64 195.74,741.46 192.57,742.20 C189.40,742.94 176.41,745.10 173.18,742.20 C169.94,739.30 172.02,727.96 173.18,724.82Z" fill="#1020d8"/><path d="M174.30,725.80 C175.31,723.05 178.22,724.80 180.35,724.54 C182.48,724.27 185.32,724.06 187.07,724.20 C188.82,724.34 190.12,724.20 190.85,725.38 C191.58,726.55 191.43,729.30 191.44,731.26 C191.45,733.22 190.96,735.51 190.94,737.14 C190.91,738.76 194.04,740.36 191.27,741.00 C188.50,741.64 177.13,743.53 174.30,741.00 C171.48,738.47 173.30,728.54 174.30,725.80Z" fill="#1e60f0"/><path d="M175.43,726.77 C176.30,724.42 178.79,725.92 180.62,725.69 C182.44,725.46 184.88,725.28 186.38,725.40 C187.88,725.52 188.99,725.40 189.62,726.41 C190.24,727.42 190.11,729.77 190.12,731.45 C190.13,733.13 189.71,735.10 189.69,736.49 C189.66,737.88 192.35,739.25 189.98,739.80 C187.60,740.35 177.86,741.97 175.43,739.80 C173.01,737.63 174.57,729.12 175.43,726.77Z" fill="#1aa8ee"/><path d="M176.56,727.74 C177.28,725.78 179.36,727.03 180.88,726.84 C182.40,726.65 184.43,726.50 185.68,726.60 C186.93,726.70 187.86,726.60 188.38,727.44 C188.90,728.28 188.79,730.24 188.80,731.64 C188.81,733.04 188.46,734.68 188.44,735.84 C188.42,737.00 190.66,738.14 188.68,738.60 C186.70,739.06 178.58,740.41 176.56,738.60 C174.54,736.79 175.84,729.70 176.56,727.74Z" fill="#30d8a0"/><path d="M177.69,728.71 C178.26,727.14 179.93,728.14 181.14,727.99 C182.36,727.84 183.98,727.72 184.98,727.80 C185.98,727.88 186.73,727.80 187.14,728.47 C187.56,729.14 187.47,730.71 187.48,731.83 C187.49,732.95 187.21,734.26 187.19,735.19 C187.18,736.12 188.97,737.03 187.38,737.40 C185.80,737.77 179.30,738.85 177.69,737.40 C176.07,735.95 177.11,730.28 177.69,728.71Z" fill="#a0e040"/><path d="M178.82,729.68 C179.25,728.51 180.50,729.26 181.41,729.14 C182.32,729.03 183.54,728.94 184.29,729.00 C185.04,729.06 185.60,729.00 185.91,729.50 C186.22,730.01 186.15,731.18 186.16,732.02 C186.17,732.86 185.96,733.85 185.94,734.54 C185.93,735.24 187.28,735.92 186.09,736.20 C184.90,736.48 180.03,737.29 178.82,736.20 C177.60,735.11 178.38,730.86 178.82,729.68Z" fill="#e8e020"/><path d="M179.94,730.66 C180.23,729.87 181.06,730.37 181.67,730.30 C182.28,730.22 183.09,730.16 183.59,730.20 C184.09,730.24 184.46,730.20 184.67,730.54 C184.88,730.87 184.84,731.66 184.84,732.22 C184.84,732.78 184.70,733.43 184.70,733.90 C184.69,734.36 185.58,734.82 184.79,735.00 C184.00,735.18 180.75,735.72 179.94,735.00 C179.14,734.28 179.66,731.44 179.94,730.66Z" fill="#f08020"/><path d="M180.98,731.55 C181.13,731.12 181.58,731.39 181.91,731.35 C182.24,731.31 182.68,731.28 182.95,731.30 C183.22,731.32 183.43,731.30 183.54,731.48 C183.65,731.66 183.63,732.09 183.63,732.39 C183.63,732.70 183.56,733.05 183.55,733.30 C183.55,733.55 184.03,733.80 183.60,733.90 C183.17,734.00 181.42,734.29 180.98,733.90 C180.54,733.51 180.82,731.97 180.98,731.55Z" fill="#e02010"/></g>
</g>
<rect x="207.40" y="707.40" width="16.30" height="15.10" fill="none" stroke="#c050c8" stroke-width="0.8"/>
<text x="213.00" y="727.00" font-size="5.0" font-weight="normal" text-anchor="start" fill="#c050c8">9.9e-4</text>
<line x1="4.60" y1="692.50" x2="4.60" y2="715.50" stroke="#000" stroke-width="1.0"/>
<path d="M4.60,688.50 L2.40,693.00 L6.80,693.00Z" fill="#000" stroke="none" stroke-width="1"/>
<text x="6.60" y="731.30" font-size="5.9" font-weight="normal" text-anchor="middle" fill="#000" transform="rotate(-90 6.6 731.3)">CD38</text>
<text x="26.00" y="761.70" font-size="6.4" font-weight="normal" text-anchor="start" fill="#000">CD34</text>
<line x1="46.70" y1="759.40" x2="225.00" y2="759.40" stroke="#000" stroke-width="1.0"/>
<path d="M229.50,759.40 L224.50,757.00 L224.50,761.80Z" fill="#000" stroke="none" stroke-width="1"/>
<line x1="263.80" y1="662.20" x2="263.80" y2="734.80" stroke="#000" stroke-width="1.3"/>
<line x1="263.20" y1="734.40" x2="312.00" y2="734.40" stroke="#000" stroke-width="1.3"/>
<line x1="261.30" y1="734.20" x2="263.80" y2="734.20" stroke="#000" stroke-width="1.1"/>
<text x="257.00" y="736.80" font-size="6.8" font-weight="bold" text-anchor="end" fill="#000">10</text>
<text x="257.10" y="733.40" font-size="4.2" font-weight="bold" text-anchor="start" fill="#000">-2</text>
<line x1="261.30" y1="719.90" x2="263.80" y2="719.90" stroke="#000" stroke-width="1.1"/>
<text x="257.00" y="722.50" font-size="6.8" font-weight="bold" text-anchor="end" fill="#000">10</text>
<text x="257.10" y="719.10" font-size="4.2" font-weight="bold" text-anchor="start" fill="#000">-1</text>
<line x1="261.30" y1="705.60" x2="263.80" y2="705.60" stroke="#000" stroke-width="1.1"/>
<text x="257.00" y="708.20" font-size="6.8" font-weight="bold" text-anchor="end" fill="#000">10</text>
<text x="257.10" y="704.80" font-size="4.2" font-weight="bold" text-anchor="start" fill="#000">0</text>
<line x1="261.30" y1="691.30" x2="263.80" y2="691.30" stroke="#000" stroke-width="1.1"/>
<text x="257.00" y="693.90" font-size="6.8" font-weight="bold" text-anchor="end" fill="#000">10</text>
<text x="257.10" y="690.50" font-size="4.2" font-weight="bold" text-anchor="start" fill="#000">1</text>
<line x1="261.30" y1="677.00" x2="263.80" y2="677.00" stroke="#000" stroke-width="1.1"/>
<text x="257.00" y="679.60" font-size="6.8" font-weight="bold" text-anchor="end" fill="#000">10</text>
<text x="257.10" y="676.20" font-size="4.2" font-weight="bold" text-anchor="start" fill="#000">2</text>
<line x1="261.30" y1="662.70" x2="263.80" y2="662.70" stroke="#000" stroke-width="1.1"/>
<text x="257.00" y="665.30" font-size="6.8" font-weight="bold" text-anchor="end" fill="#000">10</text>
<text x="257.10" y="661.90" font-size="4.2" font-weight="bold" text-anchor="start" fill="#000">3</text>
<line x1="271.50" y1="734.40" x2="271.50" y2="737.00" stroke="#000" stroke-width="1.0"/>
<line x1="289.80" y1="734.40" x2="289.80" y2="737.00" stroke="#000" stroke-width="1.0"/>
<line x1="307.70" y1="734.40" x2="307.70" y2="737.00" stroke="#000" stroke-width="1.0"/>
<text x="245.00" y="698.00" font-size="6.8" font-weight="bold" text-anchor="middle" fill="#000" transform="rotate(-90 245.0 698)">CD34+CD38- cells</text>
<line x1="269.60" y1="661.30" x2="289.80" y2="661.30" stroke="#000" stroke-width="1.2"/>
<text x="279.70" y="659.00" font-size="6.0" font-weight="bold" text-anchor="middle" fill="#000">NS</text>
<line x1="290.80" y1="664.60" x2="308.00" y2="664.60" stroke="#000" stroke-width="1.2"/>
<text x="299.40" y="663.30" font-size="6.0" font-weight="bold" text-anchor="middle" fill="#000">***</text>
<path d="M266.50,674.20 L264.50,677.70 L268.50,677.70Z" fill="none" stroke="#000" stroke-width="0.75"/>
<path d="M269.50,673.00 L267.50,676.50 L271.50,676.50Z" fill="none" stroke="#000" stroke-width="0.75"/>
<path d="M272.00,674.50 L270.00,678.00 L274.00,678.00Z" fill="none" stroke="#000" stroke-width="0.75"/>
<path d="M274.50,672.60 L272.50,676.10 L276.50,676.10Z" fill="none" stroke="#000" stroke-width="0.75"/>
<path d="M276.50,673.40 L274.50,676.90 L278.50,676.90Z" fill="none" stroke="#000" stroke-width="0.75"/>
<path d="M270.80,671.60 L268.80,675.10 L272.80,675.10Z" fill="none" stroke="#000" stroke-width="0.75"/>
<line x1="265.50" y1="676.00" x2="278.00" y2="676.00" stroke="#000" stroke-width="0.9"/>
<circle cx="290.80" cy="669.40" r="2.35" fill="#1e2e8e" stroke="none" stroke-width="1"/>
<circle cx="287.00" cy="672.50" r="2.35" fill="#1e2e8e" stroke="none" stroke-width="1"/>
<circle cx="285.60" cy="676.50" r="2.35" fill="#1e2e8e" stroke="none" stroke-width="1"/>
<circle cx="292.90" cy="675.20" r="2.35" fill="#1e2e8e" stroke="none" stroke-width="1"/>
<circle cx="289.00" cy="675.00" r="2.35" fill="#1e2e8e" stroke="none" stroke-width="1"/>
<circle cx="289.80" cy="688.00" r="2.35" fill="#1e2e8e" stroke="none" stroke-width="1"/>
<line x1="284.00" y1="676.50" x2="295.50" y2="676.50" stroke="#000" stroke-width="0.8"/>
<rect x="304.80" y="700.50" width="4.40" height="4.40" fill="#e83030" stroke="none" stroke-width="1"/>
<rect x="301.10" y="706.60" width="4.40" height="4.40" fill="#e83030" stroke="none" stroke-width="1"/>
<rect x="308.30" y="710.20" width="4.40" height="4.40" fill="#e83030" stroke="none" stroke-width="1"/>
<rect x="302.00" y="714.30" width="4.40" height="4.40" fill="#e83030" stroke="none" stroke-width="1"/>
<rect x="307.00" y="716.80" width="4.40" height="4.40" fill="#e83030" stroke="none" stroke-width="1"/>
<rect x="304.30" y="716.60" width="4.40" height="4.40" fill="#e83030" stroke="none" stroke-width="1"/>
<rect x="309.80" y="713.80" width="4.40" height="4.40" fill="#e83030" stroke="none" stroke-width="1"/>
<rect x="298.80" y="711.80" width="4.40" height="4.40" fill="#e83030" stroke="none" stroke-width="1"/>
<line x1="300.00" y1="714.60" x2="316.00" y2="714.60" stroke="#000" stroke-width="0.9"/>
<path d="M263.80,741.80 L261.80,745.30 L265.80,745.30Z" fill="none" stroke="#000" stroke-width="0.7"/>
<text x="270.60" y="746.30" font-size="6.8" font-weight="bold" text-anchor="start" fill="#000">no T cells</text>
<circle cx="263.80" cy="753.00" r="2.00" fill="#1e2e8e" stroke="none" stroke-width="1"/>
<text x="270.60" y="755.30" font-size="6.8" font-weight="bold" text-anchor="start" fill="#000">Untransduced T cells</text>
<rect x="261.80" y="759.00" width="4.00" height="4.00" fill="#e83030" stroke="none" stroke-width="1"/>
<text x="270.60" y="763.50" font-size="6.8" font-weight="bold" text-anchor="start" fill="#000">CART123</text>
<text x="347.40" y="661.20" font-size="11.5" font-weight="bold" text-anchor="start" fill="#000">H</text>
<rect x="359.30" y="654.30" width="122.20" height="83.20" fill="#eeefee" stroke="#8e8e8e" stroke-width="0.9"/>
<g clip-path="url(#cpH1)">
<path d="M359.00,654.50 C360.17,651.42 363.50,654.75 366.00,655.50 C368.50,656.25 371.17,657.67 374.00,659.00 C376.83,660.33 380.00,662.13 383.00,663.50 C386.00,664.87 389.00,666.20 392.00,667.20 C395.00,668.20 398.00,668.62 401.00,669.50 C404.00,670.38 407.17,671.50 410.00,672.50 C412.83,673.50 415.33,674.50 418.00,675.50 C420.67,676.50 423.50,677.62 426.00,678.50 C428.50,679.38 430.50,680.63 433.00,680.80 C435.50,680.97 438.50,679.77 441.00,679.50 C443.50,679.23 445.67,678.70 448.00,679.20 C450.33,679.70 453.58,680.87 455.00,682.50 C456.42,684.13 456.83,686.92 456.50,689.00 C456.17,691.08 454.42,693.50 453.00,695.00 C451.58,696.50 449.42,697.08 448.00,698.00 C446.58,698.92 445.07,699.17 444.50,700.50 C443.93,701.83 445.27,704.08 444.60,706.00 C443.93,707.92 441.07,709.50 440.50,712.00 C439.93,714.50 441.03,718.17 441.20,721.00 C441.37,723.83 442.08,726.87 441.50,729.00 C440.92,731.13 439.48,732.70 437.70,733.80 C435.92,734.90 433.12,735.18 430.80,735.60 C428.48,736.02 425.73,736.60 423.80,736.30 C421.87,736.00 420.17,735.75 419.20,733.80 C418.23,731.85 418.10,727.90 418.00,724.60 C417.90,721.30 419.02,716.52 418.60,714.00 C418.18,711.48 416.93,710.63 415.50,709.50 C414.07,708.37 411.92,708.25 410.00,707.20 C408.08,706.15 405.93,704.82 404.00,703.20 C402.07,701.58 400.68,699.62 398.40,697.50 C396.12,695.38 393.20,692.62 390.30,690.50 C387.40,688.38 384.47,686.72 381.00,684.80 C377.53,682.88 373.17,680.80 369.50,679.00 C365.83,677.20 360.75,678.08 359.00,674.00 C357.25,669.92 357.83,657.58 359.00,654.50Z" fill="#de88cc"/>
<path d="M359.00,654.50 C360.17,651.42 363.50,654.75 366.00,655.50 C368.50,656.25 371.17,657.67 374.00,659.00 C376.83,660.33 380.00,662.13 383.00,663.50 C386.00,664.87 389.00,666.20 392.00,667.20 C395.00,668.20 398.00,668.62 401.00,669.50 C404.00,670.38 407.17,671.50 410.00,672.50 C412.83,673.50 415.33,674.50 418.00,675.50 C420.67,676.50 423.50,677.62 426.00,678.50 C428.50,679.38 430.50,680.63 433.00,680.80 C435.50,680.97 438.50,679.77 441.00,679.50 C443.50,679.23 445.67,678.70 448.00,679.20 C450.33,679.70 453.58,680.87 455.00,682.50 C456.42,684.13 456.83,686.92 456.50,689.00 C456.17,691.08 454.42,693.50 453.00,695.00 C451.58,696.50 449.42,697.08 448.00,698.00 C446.58,698.92 445.07,699.17 444.50,700.50 C443.93,701.83 445.27,704.08 444.60,706.00 C443.93,707.92 441.07,709.50 440.50,712.00 C439.93,714.50 441.03,718.17 441.20,721.00 C441.37,723.83 442.08,726.87 441.50,729.00 C440.92,731.13 439.48,732.70 437.70,733.80 C435.92,734.90 433.12,735.18 430.80,735.60 C428.48,736.02 425.73,736.60 423.80,736.30 C421.87,736.00 420.17,735.75 419.20,733.80 C418.23,731.85 418.10,727.90 418.00,724.60 C417.90,721.30 419.02,716.52 418.60,714.00 C418.18,711.48 416.93,710.63 415.50,709.50 C414.07,708.37 411.92,708.25 410.00,707.20 C408.08,706.15 405.93,704.82 404.00,703.20 C402.07,701.58 400.68,699.62 398.40,697.50 C396.12,695.38 393.20,692.62 390.30,690.50 C387.40,688.38 384.47,686.72 381.00,684.80 C377.53,682.88 373.17,680.80 369.50,679.00 C365.83,677.20 360.75,678.08 359.00,674.00 C357.25,669.92 357.83,657.58 359.00,654.50Z" fill="#fff" filter="url(#tx2)" opacity="0.6"/>
<path d="M369.00,666.50 C370.33,665.75 373.50,665.58 376.00,666.00 C378.50,666.42 381.67,667.92 384.00,669.00 C386.33,670.08 389.33,671.25 390.00,672.50 C390.67,673.75 389.67,675.75 388.00,676.50 C386.33,677.25 382.67,677.33 380.00,677.00 C377.33,676.67 374.00,675.58 372.00,674.50 C370.00,673.42 368.50,671.83 368.00,670.50 C367.50,669.17 367.67,667.25 369.00,666.50Z" fill="#f3f1f3"/>
<path d="M384.00,675.50 C385.50,675.00 389.17,676.28 392.00,676.50 C394.83,676.72 398.00,676.55 401.00,676.80 C404.00,677.05 407.00,677.30 410.00,678.00 C413.00,678.70 416.17,680.00 419.00,681.00 C421.83,682.00 424.50,683.08 427.00,684.00 C429.50,684.92 432.33,685.33 434.00,686.50 C435.67,687.67 437.33,689.50 437.00,691.00 C436.67,692.50 434.17,694.25 432.00,695.50 C429.83,696.75 426.67,697.58 424.00,698.50 C421.33,699.42 418.50,700.83 416.00,701.00 C413.50,701.17 411.33,700.50 409.00,699.50 C406.67,698.50 404.33,696.75 402.00,695.00 C399.67,693.25 397.33,690.92 395.00,689.00 C392.67,687.08 390.00,685.08 388.00,683.50 C386.00,681.92 383.67,680.83 383.00,679.50 C382.33,678.17 382.50,676.00 384.00,675.50Z" fill="#9e5aa8"/>
<path d="M384.00,675.50 C385.50,675.00 389.17,676.28 392.00,676.50 C394.83,676.72 398.00,676.55 401.00,676.80 C404.00,677.05 407.00,677.30 410.00,678.00 C413.00,678.70 416.17,680.00 419.00,681.00 C421.83,682.00 424.50,683.08 427.00,684.00 C429.50,684.92 432.33,685.33 434.00,686.50 C435.67,687.67 437.33,689.50 437.00,691.00 C436.67,692.50 434.17,694.25 432.00,695.50 C429.83,696.75 426.67,697.58 424.00,698.50 C421.33,699.42 418.50,700.83 416.00,701.00 C413.50,701.17 411.33,700.50 409.00,699.50 C406.67,698.50 404.33,696.75 402.00,695.00 C399.67,693.25 397.33,690.92 395.00,689.00 C392.67,687.08 390.00,685.08 388.00,683.50 C386.00,681.92 383.67,680.83 383.00,679.50 C382.33,678.17 382.50,676.00 384.00,675.50Z" fill="#fff" filter="url(#tx1)" opacity="0.5"/>
<path d="M419.00,712.00 C420.25,709.25 423.67,708.25 426.00,707.50 C428.33,706.75 431.17,706.42 433.00,707.50 C434.83,708.58 435.83,711.58 437.00,714.00 C438.17,716.42 439.42,719.50 440.00,722.00 C440.58,724.50 441.00,727.08 440.50,729.00 C440.00,730.92 438.75,732.50 437.00,733.50 C435.25,734.50 432.33,734.67 430.00,735.00 C427.67,735.33 424.75,736.00 423.00,735.50 C421.25,735.00 420.25,733.92 419.50,732.00 C418.75,730.08 418.58,727.33 418.50,724.00 C418.42,720.67 417.75,714.75 419.00,712.00Z" fill="#cf96d4"/>
<path d="M419.00,712.00 C420.25,709.25 423.67,708.25 426.00,707.50 C428.33,706.75 431.17,706.42 433.00,707.50 C434.83,708.58 435.83,711.58 437.00,714.00 C438.17,716.42 439.42,719.50 440.00,722.00 C440.58,724.50 441.00,727.08 440.50,729.00 C440.00,730.92 438.75,732.50 437.00,733.50 C435.25,734.50 432.33,734.67 430.00,735.00 C427.67,735.33 424.75,736.00 423.00,735.50 C421.25,735.00 420.25,733.92 419.50,732.00 C418.75,730.08 418.58,727.33 418.50,724.00 C418.42,720.67 417.75,714.75 419.00,712.00Z" fill="#fff" filter="url(#tx2)" opacity="0.5"/>
<path d="M436.20,718.00 C436.73,717.67 439.17,720.17 440.00,722.00 C440.83,723.83 441.53,727.07 441.20,729.00 C440.87,730.93 439.45,732.57 438.00,733.60 C436.55,734.63 432.92,735.88 432.50,735.20 C432.08,734.52 434.78,731.37 435.50,729.50 C436.22,727.63 436.68,725.92 436.80,724.00 C436.92,722.08 435.67,718.33 436.20,718.00Z" fill="#60409a"/>
<path d="M432.00,698.50 C433.25,697.42 436.83,696.67 439.00,697.00 C441.17,697.33 444.17,698.67 445.00,700.50 C445.83,702.33 444.83,706.25 444.00,708.00 C443.17,709.75 441.50,710.92 440.00,711.00 C438.50,711.08 436.42,709.75 435.00,708.50 C433.58,707.25 432.00,705.17 431.50,703.50 C431.00,701.83 430.75,699.58 432.00,698.50Z" fill="#eab8e0"/>
<path d="M440.00,680.50 C441.33,679.27 444.67,679.18 447.00,679.60 C449.33,680.02 452.58,681.43 454.00,683.00 C455.42,684.57 455.83,687.08 455.50,689.00 C455.17,690.92 453.58,693.25 452.00,694.50 C450.42,695.75 447.75,696.75 446.00,696.50 C444.25,696.25 442.67,694.58 441.50,693.00 C440.33,691.42 439.25,689.08 439.00,687.00 C438.75,684.92 438.67,681.73 440.00,680.50Z" fill="#e6a8da"/>
<path d="M421.00,690.50 C421.67,689.67 423.67,689.00 424.50,689.50 C425.33,690.00 426.17,692.33 426.00,693.50 C425.83,694.67 424.42,696.33 423.50,696.50 C422.58,696.67 420.92,695.50 420.50,694.50 C420.08,693.50 420.33,691.33 421.00,690.50Z" fill="#f4f0f4"/>
<path d="M445.00,686.00 C445.42,685.28 447.75,685.08 448.50,685.50 C449.25,685.92 449.92,687.78 449.50,688.50 C449.08,689.22 446.75,690.22 446.00,689.80 C445.25,689.38 444.58,686.72 445.00,686.00Z" fill="#f4f0f4"/>
<path d="M427.50,700.50 C428.25,700.25 431.00,700.75 431.50,701.50 C432.00,702.25 431.25,704.75 430.50,705.00 C429.75,705.25 427.50,703.75 427.00,703.00 C426.50,702.25 426.75,700.75 427.50,700.50Z" fill="#f2ecf2"/>
<path d="M362,655.6 L366.5,656.2 L365.5,658 L361.8,657.2 Z" fill="#4a1450" stroke="none" stroke-width="0"/>
<path d="M373.5,659.3 L377.6,660.4 L376.8,662.3 L373,661.4 Z" fill="#4a1450" stroke="none" stroke-width="0"/>
<path d="M378,679 L382,678.6 L383.6,682 L381.2,684.3 L378.6,682.6 Z" fill="#4a1450" stroke="none" stroke-width="0"/>
<path d="M395.4,671 L397,670.8 L399.2,675 L402,676 L401.6,677.6 L397.6,676.8 Z" fill="#4a1450" stroke="none" stroke-width="0"/>
<path d="M407.2,668.8 L408.5,669.1 L408.3,675.6 L407,675.3 Z" fill="#4a1450" stroke="none" stroke-width="0"/>
<path d="M410.5,708.8 L415.2,710 L416,713.2 L412,712.8 Z" fill="#4a1450" stroke="none" stroke-width="0"/>
<path d="M363.5,668.6 L367.5,669.6 L366.8,671.2 L363.2,670.4 Z" fill="#4a1450" stroke="none" stroke-width="0"/>
<path d="M429.8,688.2 L432.6,687.8 L433,690.8 L430.2,691.2 Z" fill="#4a1450" stroke="none" stroke-width="0"/>
<path d="M389,677 L392,677.6 L391.2,679.4 L388.6,678.8 Z" fill="#4a1450" stroke="none" stroke-width="0"/>
</g>
<rect x="361.30" y="726.30" width="39.80" height="10.00" fill="#ffffff" stroke="none" stroke-width="1"/>
<text x="362.40" y="734.40" font-size="7.6" font-weight="normal" text-anchor="start" fill="#333">Control, X1</text>
<rect x="458.10" y="655.00" width="61.90" height="60.20" fill="#6c2c7e" stroke="none" stroke-width="1"/>
<rect x="458.10" y="655.00" width="61.90" height="60.20" fill="#fff" stroke="none" stroke-width="0" filter="url(#tx1d)"/>
<rect x="458.10" y="655.00" width="61.90" height="60.20" fill="#fff" stroke="none" stroke-width="0" filter="url(#tx1)"/>
<g clip-path="url(#cpI1)">
<g filter="url(#wob)">
<path d="M484.5,661.5 C487,660.5 490,662 493,666 C496,670 499,673.5 503,677 C508,681 513,683.5 520,685 L520,689 C513,688.5 506,687 500,684 C495,681 491.5,677.5 489.5,673 C487.5,669 484.5,665 484.5,661.5 Z" fill="#f4f0f4" stroke="none" stroke-width="0"/>
</g>
<path d="M458,696 C462,699 467,703 470.5,707 C473.5,710.5 476,713 479,715.2 L458,715.2 Z" fill="#dc98cc" stroke="none" stroke-width="0"/>
<path d="M458,695 C463,698 468,702 471,706 C474,710 477,712 480,715" fill="none" stroke="#f0e0f0" stroke-width="0.8"/>
</g>
<rect x="501.30" y="703.10" width="17.50" height="10.00" fill="#ffffff" stroke="none" stroke-width="1"/>
<text x="503.20" y="711.60" font-size="7.8" font-weight="normal" text-anchor="start" fill="#333">X10</text>
<rect x="358.30" y="741.90" width="122.20" height="90.00" fill="#edeeed" stroke="#8e8e8e" stroke-width="0.9"/>
<g clip-path="url(#cpH2)">
<g filter="url(#wob)">
<path d="M388.00,783.60 C388.72,780.90 390.07,776.93 392.10,774.20 C394.13,771.47 397.05,768.80 400.20,767.20 C403.35,765.60 407.63,764.60 411.00,764.60 C414.37,764.60 417.93,766.10 420.40,767.20 C422.87,768.30 424.02,771.00 425.80,771.20 C427.58,771.40 428.87,769.07 431.10,768.40 C433.33,767.73 436.72,767.18 439.20,767.20 C441.68,767.22 444.70,767.70 446.00,768.50 C447.30,769.30 447.23,770.50 447.00,772.00 C446.77,773.50 446.10,774.67 444.60,777.50 C443.10,780.33 440.25,785.17 438.00,789.00 C435.75,792.83 433.37,797.40 431.10,800.50 C428.83,803.60 426.87,805.95 424.40,807.60 C421.93,809.25 419.22,810.13 416.30,810.40 C413.38,810.67 410.03,810.07 406.90,809.20 C403.77,808.33 400.18,807.22 397.50,805.20 C394.82,803.18 392.42,799.57 390.80,797.10 C389.18,794.63 388.27,792.65 387.80,790.40 C387.33,788.15 387.28,786.30 388.00,783.60Z" fill="#b4489e"/>
<path d="M388.00,783.60 C388.72,780.90 390.07,776.93 392.10,774.20 C394.13,771.47 397.05,768.80 400.20,767.20 C403.35,765.60 407.63,764.60 411.00,764.60 C414.37,764.60 417.93,766.10 420.40,767.20 C422.87,768.30 424.02,771.00 425.80,771.20 C427.58,771.40 428.87,769.07 431.10,768.40 C433.33,767.73 436.72,767.18 439.20,767.20 C441.68,767.22 444.70,767.70 446.00,768.50 C447.30,769.30 447.23,770.50 447.00,772.00 C446.77,773.50 446.10,774.67 444.60,777.50 C443.10,780.33 440.25,785.17 438.00,789.00 C435.75,792.83 433.37,797.40 431.10,800.50 C428.83,803.60 426.87,805.95 424.40,807.60 C421.93,809.25 419.22,810.13 416.30,810.40 C413.38,810.67 410.03,810.07 406.90,809.20 C403.77,808.33 400.18,807.22 397.50,805.20 C394.82,803.18 392.42,799.57 390.80,797.10 C389.18,794.63 388.27,792.65 387.80,790.40 C387.33,788.15 387.28,786.30 388.00,783.60Z" fill="#fff" filter="url(#tx3)" opacity="0.45"/>
<path d="M391.00,784.00 C391.62,781.75 392.75,778.28 394.50,776.00 C396.25,773.72 398.75,771.63 401.50,770.30 C404.25,768.97 408.08,768.05 411.00,768.00 C413.92,767.95 416.87,768.92 419.00,770.00 C421.13,771.08 422.47,773.58 423.80,774.50 C425.13,775.42 425.72,775.98 427.00,775.50 C428.28,775.02 429.53,772.47 431.50,771.60 C433.47,770.73 436.88,770.15 438.80,770.30 C440.72,770.45 442.55,771.30 443.00,772.50 C443.45,773.70 442.75,774.75 441.50,777.50 C440.25,780.25 437.50,785.42 435.50,789.00 C433.50,792.58 431.58,796.33 429.50,799.00 C427.42,801.67 425.28,803.57 423.00,805.00 C420.72,806.43 418.38,807.30 415.80,807.60 C413.22,807.90 410.30,807.57 407.50,806.80 C404.70,806.03 401.38,804.80 399.00,803.00 C396.62,801.20 394.57,798.25 393.20,796.00 C391.83,793.75 391.17,791.50 390.80,789.50 C390.43,787.50 390.38,786.25 391.00,784.00Z" fill="#f3e6f0"/>
</g>
<path d="M391.00,784.00 C391.62,781.75 392.75,778.28 394.50,776.00 C396.25,773.72 398.75,771.63 401.50,770.30 C404.25,768.97 408.08,768.05 411.00,768.00 C413.92,767.95 416.87,768.92 419.00,770.00 C421.13,771.08 422.47,773.58 423.80,774.50 C425.13,775.42 425.72,775.98 427.00,775.50 C428.28,775.02 429.53,772.47 431.50,771.60 C433.47,770.73 436.88,770.15 438.80,770.30 C440.72,770.45 442.55,771.30 443.00,772.50 C443.45,773.70 442.75,774.75 441.50,777.50 C440.25,780.25 437.50,785.42 435.50,789.00 C433.50,792.58 431.58,796.33 429.50,799.00 C427.42,801.67 425.28,803.57 423.00,805.00 C420.72,806.43 418.38,807.30 415.80,807.60 C413.22,807.90 410.30,807.57 407.50,806.80 C404.70,806.03 401.38,804.80 399.00,803.00 C396.62,801.20 394.57,798.25 393.20,796.00 C391.83,793.75 391.17,791.50 390.80,789.50 C390.43,787.50 390.38,786.25 391.00,784.00Z" fill="#fff" filter="url(#tx2)" opacity="0.55"/>
<path d="M388.50,792.00 C388.88,792.42 389.25,795.50 390.50,797.50 C391.75,799.50 393.92,802.25 396.00,804.00 C398.08,805.75 402.67,807.58 403.00,808.00 C403.33,808.42 399.92,807.67 398.00,806.50 C396.08,805.33 393.13,802.92 391.50,801.00 C389.87,799.08 388.70,796.50 388.20,795.00 C387.70,793.50 388.12,791.58 388.50,792.00Z" fill="#8a2a80"/>
<path d="M425,773 C424,779 421,785 418,790 C416,794 414,797 411,800" fill="none" stroke="#c056a8" stroke-width="1.6"/>
<path d="M396,782 C401,784 406,788 409,794" fill="none" stroke="#c862b0" stroke-width="1.2"/>
<path d="M430,776 C432,782 433,787 431,793" fill="none" stroke="#c862b0" stroke-width="1.0"/>
<path d="M402,772 C404,776 408,779 413,780" fill="none" stroke="#c862b0" stroke-width="1.0"/>
<ellipse cx="404.00" cy="781.00" rx="2.20" ry="1.40" fill="#c25aaa" stroke="none" stroke-width="1"/>
<ellipse cx="410.00" cy="790.00" rx="1.80" ry="1.20" fill="#c25aaa" stroke="none" stroke-width="1"/>
<ellipse cx="416.00" cy="796.00" rx="2.40" ry="1.30" fill="#c25aaa" stroke="none" stroke-width="1"/>
<ellipse cx="401.00" cy="795.00" rx="1.60" ry="1.10" fill="#c25aaa" stroke="none" stroke-width="1"/>
<ellipse cx="423.00" cy="785.00" rx="1.50" ry="1.00" fill="#c25aaa" stroke="none" stroke-width="1"/>
<ellipse cx="431.00" cy="781.00" rx="2.00" ry="1.20" fill="#c25aaa" stroke="none" stroke-width="1"/>
<ellipse cx="398.00" cy="787.00" rx="1.40" ry="1.00" fill="#c25aaa" stroke="none" stroke-width="1"/>
<ellipse cx="419.00" cy="778.00" rx="1.60" ry="1.00" fill="#c25aaa" stroke="none" stroke-width="1"/>
<ellipse cx="408.00" cy="799.00" rx="1.80" ry="1.00" fill="#c25aaa" stroke="none" stroke-width="1"/>
<path d="M440.00,769.00 C441.00,767.75 445.33,767.50 448.00,766.50 C450.67,765.50 454.00,764.00 456.00,763.00 C458.00,762.00 459.17,761.53 460.00,760.50 C460.83,759.47 460.50,757.38 461.00,756.80 C461.50,756.22 462.67,756.30 463.00,757.00 C463.33,757.70 461.83,760.50 463.00,761.00 C464.17,761.50 467.00,760.42 470.00,760.00 C473.00,759.58 479.17,758.17 481.00,758.50 C482.83,758.83 482.83,761.17 481.00,762.00 C479.17,762.83 473.17,763.00 470.00,763.50 C466.83,764.00 464.50,764.25 462.00,765.00 C459.50,765.75 457.50,766.75 455.00,768.00 C452.50,769.25 449.17,771.50 447.00,772.50 C444.83,773.50 443.17,774.58 442.00,774.00 C440.83,773.42 439.00,770.25 440.00,769.00Z" fill="#a8388e"/>
<path d="M437.00,776.00 C436.50,774.17 439.50,774.00 441.00,775.00 C442.50,776.00 444.33,779.50 446.00,782.00 C447.67,784.50 450.50,788.33 451.00,790.00 C451.50,791.67 450.17,792.67 449.00,792.00 C447.83,791.33 446.00,788.67 444.00,786.00 C442.00,783.33 437.50,777.83 437.00,776.00Z" fill="#9a3690"/>
<ellipse cx="385.00" cy="800.00" rx="2.50" ry="2.00" fill="#e6c8de" stroke="none" stroke-width="1"/>
<ellipse cx="384.00" cy="805.00" rx="2.20" ry="1.60" fill="#e6c8de" stroke="none" stroke-width="1"/>
<ellipse cx="388.00" cy="808.00" rx="2.00" ry="1.50" fill="#e6c8de" stroke="none" stroke-width="1"/>
<ellipse cx="391.00" cy="803.00" rx="1.60" ry="1.20" fill="#e6c8de" stroke="none" stroke-width="1"/>
</g>
<rect x="361.30" y="820.50" width="42.40" height="10.00" fill="#ffffff" stroke="none" stroke-width="1"/>
<text x="362.40" y="828.70" font-size="7.0" font-weight="normal" text-anchor="start" fill="#333">CART123, X1</text>
<rect x="449.90" y="779.30" width="70.10" height="58.70" fill="#e8d8e4" stroke="none" stroke-width="1"/>
<rect x="449.90" y="779.30" width="70.10" height="58.70" fill="#fff" stroke="none" stroke-width="0" filter="url(#tx3)" opacity="0.45"/>
<g clip-path="url(#cpI2)" fill="none" stroke-linecap="round" stroke-linejoin="round">
<path d="M449.5,781 L466,779 L462,786 L456.5,792 L452,795 L449.5,795 Z" fill="#b32c88" stroke="none" stroke-width="0"/>
<path d="M450.8,780.8 C454,784 457,787 456.5,789.4 C455,795 453.7,801 453.7,801 C452.5,806 452.2,812.5 452.2,812.5 C453,817 455.1,822.6 455.1,822.6 C454.5,828 453.7,838 453.7,838" fill="none" stroke="#b6348c" stroke-width="2.6"/>
<path d="M456.5,789.4 C459,786 463.8,783.7 463.8,783.7 C468,782 473.8,780.8 473.8,780.8 C478,780.5 482.5,781.5 482.5,781.5" fill="none" stroke="#b43a8e" stroke-width="2.2"/>
<path d="M459.4,801 C464,801 471,801.7 471,801.7 C476,804 481,808.2 481,808.2 C483,810 485.4,812.5 485.4,812.5" fill="none" stroke="#c04898" stroke-width="2.2"/>
<path d="M459.4,802.4 C458.5,807 458.7,812.5 458.7,812.5 C459,817 460.9,822.6 460.9,822.6 C463,827 466.6,831.3 466.6,831.3 C471,833.5 478.2,834.1 478.2,834.1 C481,832 482.5,829.8 482.5,829.8 C483.5,824 483.2,818.3 483.2,818.3 C482.5,813 481,809.6 481,809.6" fill="none" stroke="#c85aa2" stroke-width="1.6"/>
<path d="M512.8,780.8 C516,784 517.1,789.4 517.1,789.4 C517,796 515.7,803.8 515.7,803.8 C513,811 509.9,818.3 509.9,818.3 C508,821 505.6,822.6 505.6,822.6" fill="none" stroke="#b8328e" stroke-width="3.8"/>
<path d="M500,785 C503,790 504,798 503,806 C502,812 501,816 500,820" fill="none" stroke="#d080b8" stroke-width="1.2"/>
<path d="M449.5,826 C452,830 454,834 456,838" fill="none" stroke="#a82a80" stroke-width="3"/>
<path d="M496.9,779 C495,786 494,791 492.6,796.6 C491,802 489.8,806 488.3,809.6 C486.5,814 485.2,818 484,822.6 C483,828 482.3,833 481.8,838.5" fill="none" stroke="#5a2a7e" stroke-width="5.2"/>
<path d="M496.9,779 C495,786 494,791 492.6,796.6 C491,802 489.8,806 488.3,809.6 C486.5,814 485.2,818 484,822.6 C483,828 482.3,833 481.8,838.5" fill="none" stroke="#7a4a9a" stroke-width="1.4" stroke-dasharray="1.5 2"/>
</g>
<rect x="500.50" y="824.80" width="16.60" height="9.60" fill="#ffffff" stroke="none" stroke-width="1"/>
<text x="501.60" y="832.90" font-size="7.8" font-weight="normal" text-anchor="start" fill="#333">X10</text></svg>
</body></html>
